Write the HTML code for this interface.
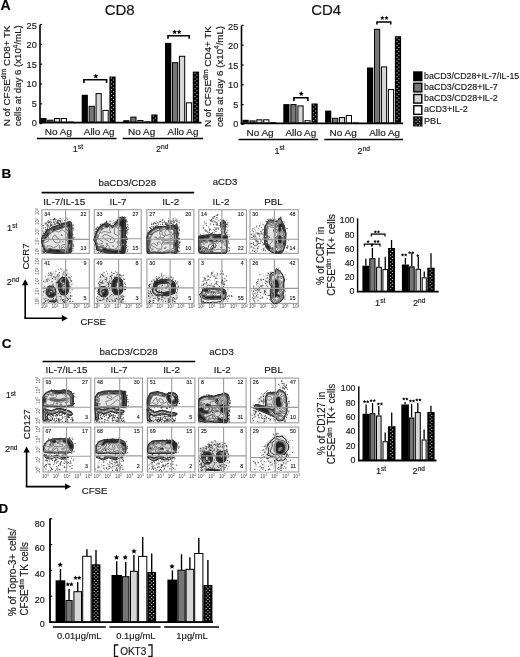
<!DOCTYPE html>
<html><head><meta charset="utf-8"><style>
html,body{margin:0;padding:0;background:#fff;}
svg{display:block;font-family:"Liberation Sans", sans-serif;will-change:transform;filter:blur(0.3px);}
text{stroke:#222;stroke-width:0.18px;}
</style></head><body>
<svg width="520" height="657" viewBox="0 0 520 657">
<rect width="520" height="657" fill="#fff"/>
<defs>
<pattern id="dotsA" x="0" y="0" width="7" height="3.6" patternUnits="userSpaceOnUse"><rect width="7" height="3.6" fill="#000"/><rect x="2.6" y="1" width="1.4" height="1.3" fill="#fff"/></pattern>
<pattern id="dotsL" x="413" y="0" width="9.5" height="3" patternUnits="userSpaceOnUse"><rect width="9.5" height="3" fill="#111"/><rect x="2.5" y="1" width="1.2" height="1" fill="#bbb"/><rect x="5.8" y="1" width="1.2" height="1" fill="#bbb"/></pattern>
<pattern id="dotsD" x="0" y="0" width="3.4" height="3.4" patternUnits="userSpaceOnUse"><rect width="3.4" height="3.4" fill="#000"/><rect x="0.4" y="0.4" width="1.3" height="1.3" fill="#fff"/><rect x="2.1" y="2.1" width="1.3" height="1.3" fill="#fff"/></pattern>
<pattern id="dotsS" x="0" y="0" width="3" height="3" patternUnits="userSpaceOnUse"><rect width="3" height="3" fill="#000"/><rect x="0.3" y="0.3" width="1.1" height="1.1" fill="#fff"/><rect x="1.8" y="1.8" width="1.1" height="1.1" fill="#fff"/></pattern>
</defs>
<text x="0.6" y="10.4" font-size="14" text-anchor="start" font-weight="bold" fill="#000">A</text>
<text x="119.7" y="15" font-size="15" text-anchor="middle" fill="#111">CD8</text>
<text x="326.2" y="14.6" font-size="15" text-anchor="middle" fill="#111">CD4</text>
<g transform="translate(0 0.0)">
<text x="9.9" y="75.8" font-size="9.6" text-anchor="middle" fill="#1a1a1a" transform="rotate(-90 9.9 75.8)" textLength="101" lengthAdjust="spacingAndGlyphs">N of CFSE<tspan font-size="6.4" dy="-3.6">dim</tspan><tspan dy="3.6"> CD8+ TK</tspan></text>
<text x="21.2" y="75.7" font-size="9.6" text-anchor="middle" fill="#1a1a1a" transform="rotate(-90 21.2 75.7)" textLength="101" lengthAdjust="spacingAndGlyphs">cells at day 6 (x10<tspan font-size="6.4" dy="-3.6">4</tspan><tspan dy="3.6">/mL)</tspan></text>
<text x="36.8" y="126.45" font-size="9.2" text-anchor="end" fill="#1a1a1a">0</text>
<line x1="40.0" y1="123.7" x2="42.2" y2="123.7" stroke="#000" stroke-width="1.1"/>
<text x="36.8" y="106.92" font-size="9.2" text-anchor="end" fill="#1a1a1a">5</text>
<line x1="40.0" y1="103.86" x2="42.2" y2="103.86" stroke="#000" stroke-width="1.1"/>
<text x="36.8" y="87.39" font-size="9.2" text-anchor="end" fill="#1a1a1a">10</text>
<line x1="40.0" y1="84.02000000000001" x2="42.2" y2="84.02000000000001" stroke="#000" stroke-width="1.1"/>
<text x="36.8" y="67.86" font-size="9.2" text-anchor="end" fill="#1a1a1a">15</text>
<line x1="40.0" y1="64.18" x2="42.2" y2="64.18" stroke="#000" stroke-width="1.1"/>
<text x="36.8" y="48.33" font-size="9.2" text-anchor="end" fill="#1a1a1a">20</text>
<line x1="40.0" y1="44.34" x2="42.2" y2="44.34" stroke="#000" stroke-width="1.1"/>
<text x="36.8" y="28.8" font-size="9.2" text-anchor="end" fill="#1a1a1a">25</text>
<line x1="40.0" y1="24.5" x2="42.2" y2="24.5" stroke="#000" stroke-width="1.1"/>
<line x1="40.0" y1="24.7" x2="40.0" y2="123.4" stroke="#000" stroke-width="1.6"/>
<line x1="39.2" y1="122.6" x2="201.5" y2="122.6" stroke="#000" stroke-width="1.8"/>
<rect x="40.4" y="118" width="6.200000000000003" height="4.0" fill="#000"/>
<rect x="47.699999999999996" y="120.2" width="5.200000000000003" height="1.7999999999999972" fill="#767676" stroke="#000" stroke-width="1"/>
<rect x="54.5" y="118.5" width="5.200000000000003" height="3.5" fill="#d6d6d6" stroke="#000" stroke-width="1"/>
<rect x="61.3" y="118.5" width="5.200000000000003" height="3.5" fill="#fff" stroke="#000" stroke-width="1"/>
<rect x="67.6" y="121.5" width="6.200000000000003" height="0.5" fill="#000"/>
<g fill="#c4c4c4"></g>
<rect x="81.7" y="94.8" width="6.200000000000003" height="27.200000000000003" fill="#000"/>
<rect x="89.13" y="106.3" width="5.200000000000003" height="15.700000000000003" fill="#767676" stroke="#000" stroke-width="1"/>
<rect x="96.06" y="93.6" width="5.200000000000003" height="28.400000000000006" fill="#d6d6d6" stroke="#000" stroke-width="1"/>
<rect x="102.99000000000001" y="110.4" width="5.200000000000003" height="11.599999999999994" fill="#fff" stroke="#000" stroke-width="1"/>
<rect x="109.42" y="76.5" width="6.200000000000003" height="45.5" fill="#000"/>
<g fill="#c4c4c4"><rect x="111.00" y="77.50" width="1.1" height="1.1"/><rect x="112.95" y="79.45" width="1.1" height="1.1"/><rect x="111.00" y="81.40" width="1.1" height="1.1"/><rect x="112.95" y="83.35" width="1.1" height="1.1"/><rect x="111.00" y="85.30" width="1.1" height="1.1"/><rect x="112.95" y="87.25" width="1.1" height="1.1"/><rect x="111.00" y="89.20" width="1.1" height="1.1"/><rect x="112.95" y="91.15" width="1.1" height="1.1"/><rect x="111.00" y="93.10" width="1.1" height="1.1"/><rect x="112.95" y="95.05" width="1.1" height="1.1"/><rect x="111.00" y="97.00" width="1.1" height="1.1"/><rect x="112.95" y="98.95" width="1.1" height="1.1"/><rect x="111.00" y="100.90" width="1.1" height="1.1"/><rect x="112.95" y="102.85" width="1.1" height="1.1"/><rect x="111.00" y="104.80" width="1.1" height="1.1"/><rect x="112.95" y="106.75" width="1.1" height="1.1"/><rect x="111.00" y="108.70" width="1.1" height="1.1"/><rect x="112.95" y="110.65" width="1.1" height="1.1"/><rect x="111.00" y="112.60" width="1.1" height="1.1"/><rect x="112.95" y="114.55" width="1.1" height="1.1"/><rect x="111.00" y="116.50" width="1.1" height="1.1"/><rect x="112.95" y="118.45" width="1.1" height="1.1"/></g>
<rect x="123.3" y="120.2" width="6.200000000000003" height="1.7999999999999972" fill="#000"/>
<rect x="130.8" y="117.1" width="5.199999999999989" height="4.900000000000006" fill="#767676" stroke="#000" stroke-width="1"/>
<rect x="137.8" y="120.5" width="5.199999999999989" height="1.5" fill="#d6d6d6" stroke="#000" stroke-width="1"/>
<rect x="144.8" y="121.8" width="5.199999999999989" height="0.3" fill="#fff" stroke="#000" stroke-width="1"/>
<rect x="151.3" y="114.5" width="6.199999999999989" height="7.5" fill="#000"/>
<g fill="#c4c4c4"><rect x="152.88" y="115.50" width="1.1" height="1.1"/><rect x="154.83" y="117.45" width="1.1" height="1.1"/><rect x="152.88" y="119.40" width="1.1" height="1.1"/></g>
<rect x="165.0" y="42.9" width="6.300000000000011" height="79.1" fill="#000"/>
<rect x="172.45" y="62.7" width="5.300000000000011" height="59.3" fill="#767676" stroke="#000" stroke-width="1"/>
<rect x="179.4" y="56.3" width="5.300000000000011" height="65.7" fill="#d6d6d6" stroke="#000" stroke-width="1"/>
<rect x="186.35" y="102.8" width="5.300000000000011" height="19.200000000000003" fill="#fff" stroke="#000" stroke-width="1"/>
<rect x="192.8" y="71.6" width="6.300000000000011" height="50.400000000000006" fill="#000"/>
<g fill="#c4c4c4"><rect x="194.43" y="72.60" width="1.1" height="1.1"/><rect x="196.38" y="74.55" width="1.1" height="1.1"/><rect x="194.43" y="76.50" width="1.1" height="1.1"/><rect x="196.38" y="78.45" width="1.1" height="1.1"/><rect x="194.43" y="80.40" width="1.1" height="1.1"/><rect x="196.38" y="82.35" width="1.1" height="1.1"/><rect x="194.43" y="84.30" width="1.1" height="1.1"/><rect x="196.38" y="86.25" width="1.1" height="1.1"/><rect x="194.43" y="88.20" width="1.1" height="1.1"/><rect x="196.38" y="90.15" width="1.1" height="1.1"/><rect x="194.43" y="92.10" width="1.1" height="1.1"/><rect x="196.38" y="94.05" width="1.1" height="1.1"/><rect x="194.43" y="96.00" width="1.1" height="1.1"/><rect x="196.38" y="97.95" width="1.1" height="1.1"/><rect x="194.43" y="99.90" width="1.1" height="1.1"/><rect x="196.38" y="101.85" width="1.1" height="1.1"/><rect x="194.43" y="103.80" width="1.1" height="1.1"/><rect x="196.38" y="105.75" width="1.1" height="1.1"/><rect x="194.43" y="107.70" width="1.1" height="1.1"/><rect x="196.38" y="109.65" width="1.1" height="1.1"/><rect x="194.43" y="111.60" width="1.1" height="1.1"/><rect x="196.38" y="113.55" width="1.1" height="1.1"/><rect x="194.43" y="115.50" width="1.1" height="1.1"/><rect x="196.38" y="117.45" width="1.1" height="1.1"/><rect x="194.43" y="119.40" width="1.1" height="1.1"/></g>
<path d="M83.9 83.0 V79.8 H106.6 V83.0" fill="none" stroke="#000" stroke-width="1.6"/>
<polygon points="95.80,73.40 96.54,75.18 98.46,75.33 97.00,76.59 97.45,78.47 95.80,77.46 94.15,78.47 94.60,76.59 93.14,75.33 95.06,75.18" fill="#000"/>
<path d="M168.0 38.699999999999996 V35.8 H189.2 V38.699999999999996" fill="none" stroke="#000" stroke-width="1.6"/>
<polygon points="174.65,29.40 175.34,31.05 177.12,31.20 175.76,32.36 176.18,34.10 174.65,33.17 173.12,34.10 173.54,32.36 172.18,31.20 173.96,31.05" fill="#000"/>
<polygon points="179.15,29.40 179.84,31.05 181.62,31.20 180.26,32.36 180.68,34.10 179.15,33.17 177.62,34.10 178.04,32.36 176.68,31.20 178.46,31.05" fill="#000"/>
</g>
<g transform="translate(0 0.8)">
<text x="211.4" y="75.8" font-size="9.6" text-anchor="middle" fill="#1a1a1a" transform="rotate(-90 211.4 75.8)" textLength="101" lengthAdjust="spacingAndGlyphs">N of CFSE<tspan font-size="6.4" dy="-3.6">dim</tspan><tspan dy="3.6"> CD4+ TK</tspan></text>
<text x="222.7" y="75.7" font-size="9.6" text-anchor="middle" fill="#1a1a1a" transform="rotate(-90 222.7 75.7)" textLength="101" lengthAdjust="spacingAndGlyphs">cells at day 6 (x10<tspan font-size="6.4" dy="-3.6">4</tspan><tspan dy="3.6">/mL)</tspan></text>
<text x="238.3" y="126.45" font-size="9.2" text-anchor="end" fill="#1a1a1a">0</text>
<line x1="241.5" y1="123.7" x2="243.7" y2="123.7" stroke="#000" stroke-width="1.1"/>
<text x="238.3" y="106.92" font-size="9.2" text-anchor="end" fill="#1a1a1a">5</text>
<line x1="241.5" y1="103.86" x2="243.7" y2="103.86" stroke="#000" stroke-width="1.1"/>
<text x="238.3" y="87.39" font-size="9.2" text-anchor="end" fill="#1a1a1a">10</text>
<line x1="241.5" y1="84.02000000000001" x2="243.7" y2="84.02000000000001" stroke="#000" stroke-width="1.1"/>
<text x="238.3" y="67.86" font-size="9.2" text-anchor="end" fill="#1a1a1a">15</text>
<line x1="241.5" y1="64.18" x2="243.7" y2="64.18" stroke="#000" stroke-width="1.1"/>
<text x="238.3" y="48.33" font-size="9.2" text-anchor="end" fill="#1a1a1a">20</text>
<line x1="241.5" y1="44.34" x2="243.7" y2="44.34" stroke="#000" stroke-width="1.1"/>
<text x="238.3" y="28.8" font-size="9.2" text-anchor="end" fill="#1a1a1a">25</text>
<line x1="241.5" y1="24.5" x2="243.7" y2="24.5" stroke="#000" stroke-width="1.1"/>
<line x1="241.5" y1="24.7" x2="241.5" y2="123.4" stroke="#000" stroke-width="1.6"/>
<line x1="240.7" y1="122.6" x2="403.0" y2="122.6" stroke="#000" stroke-width="1.8"/>
<rect x="242.5" y="119" width="6.199999999999989" height="3.0" fill="#000"/>
<rect x="249.9" y="120.1" width="5.199999999999989" height="1.9000000000000057" fill="#767676" stroke="#000" stroke-width="1"/>
<rect x="256.8" y="119.0" width="5.199999999999989" height="3.0" fill="#d6d6d6" stroke="#000" stroke-width="1"/>
<rect x="263.7" y="119.0" width="5.199999999999989" height="3.0" fill="#fff" stroke="#000" stroke-width="1"/>
<rect x="270.1" y="121.2" width="6.199999999999989" height="0.7999999999999972" fill="#000"/>
<g fill="#c4c4c4"></g>
<rect x="283.3" y="103.3" width="6.199999999999989" height="18.700000000000003" fill="#000"/>
<rect x="290.85" y="103.8" width="5.199999999999989" height="18.200000000000003" fill="#767676" stroke="#000" stroke-width="1"/>
<rect x="297.90000000000003" y="105.1" width="5.199999999999989" height="16.900000000000006" fill="#d6d6d6" stroke="#000" stroke-width="1"/>
<rect x="304.95" y="119.9" width="5.199999999999989" height="2.0999999999999943" fill="#fff" stroke="#000" stroke-width="1"/>
<rect x="311.5" y="102.7" width="6.199999999999989" height="19.299999999999997" fill="#000"/>
<g fill="#c4c4c4"><rect x="313.07" y="103.70" width="1.1" height="1.1"/><rect x="315.02" y="105.65" width="1.1" height="1.1"/><rect x="313.07" y="107.60" width="1.1" height="1.1"/><rect x="315.02" y="109.55" width="1.1" height="1.1"/><rect x="313.07" y="111.50" width="1.1" height="1.1"/><rect x="315.02" y="113.45" width="1.1" height="1.1"/><rect x="313.07" y="115.40" width="1.1" height="1.1"/><rect x="315.02" y="117.35" width="1.1" height="1.1"/><rect x="313.07" y="119.30" width="1.1" height="1.1"/></g>
<rect x="325.1" y="109.8" width="6.199999999999989" height="12.200000000000003" fill="#000"/>
<rect x="332.5" y="117.5" width="5.199999999999989" height="4.5" fill="#767676" stroke="#000" stroke-width="1"/>
<rect x="339.40000000000003" y="116.7" width="5.199999999999989" height="5.299999999999997" fill="#d6d6d6" stroke="#000" stroke-width="1"/>
<rect x="346.3" y="114.7" width="5.199999999999989" height="7.299999999999997" fill="#fff" stroke="#000" stroke-width="1"/>
<rect x="352.70000000000005" y="121.5" width="6.199999999999989" height="0.5" fill="#000"/>
<g fill="#c4c4c4"></g>
<rect x="367.0" y="66.7" width="6.199999999999989" height="55.3" fill="#000"/>
<rect x="374.47" y="28.5" width="5.199999999999989" height="93.5" fill="#767676" stroke="#000" stroke-width="1"/>
<rect x="381.44" y="66.1" width="5.199999999999989" height="55.900000000000006" fill="#d6d6d6" stroke="#000" stroke-width="1"/>
<rect x="388.41" y="88.8" width="5.199999999999989" height="33.2" fill="#fff" stroke="#000" stroke-width="1"/>
<rect x="394.88" y="35.4" width="6.199999999999989" height="86.6" fill="#000"/>
<g fill="#c4c4c4"><rect x="396.45" y="36.40" width="1.1" height="1.1"/><rect x="398.40" y="38.35" width="1.1" height="1.1"/><rect x="396.45" y="40.30" width="1.1" height="1.1"/><rect x="398.40" y="42.25" width="1.1" height="1.1"/><rect x="396.45" y="44.20" width="1.1" height="1.1"/><rect x="398.40" y="46.15" width="1.1" height="1.1"/><rect x="396.45" y="48.10" width="1.1" height="1.1"/><rect x="398.40" y="50.05" width="1.1" height="1.1"/><rect x="396.45" y="52.00" width="1.1" height="1.1"/><rect x="398.40" y="53.95" width="1.1" height="1.1"/><rect x="396.45" y="55.90" width="1.1" height="1.1"/><rect x="398.40" y="57.85" width="1.1" height="1.1"/><rect x="396.45" y="59.80" width="1.1" height="1.1"/><rect x="398.40" y="61.75" width="1.1" height="1.1"/><rect x="396.45" y="63.70" width="1.1" height="1.1"/><rect x="398.40" y="65.65" width="1.1" height="1.1"/><rect x="396.45" y="67.60" width="1.1" height="1.1"/><rect x="398.40" y="69.55" width="1.1" height="1.1"/><rect x="396.45" y="71.50" width="1.1" height="1.1"/><rect x="398.40" y="73.45" width="1.1" height="1.1"/><rect x="396.45" y="75.40" width="1.1" height="1.1"/><rect x="398.40" y="77.35" width="1.1" height="1.1"/><rect x="396.45" y="79.30" width="1.1" height="1.1"/><rect x="398.40" y="81.25" width="1.1" height="1.1"/><rect x="396.45" y="83.20" width="1.1" height="1.1"/><rect x="398.40" y="85.15" width="1.1" height="1.1"/><rect x="396.45" y="87.10" width="1.1" height="1.1"/><rect x="398.40" y="89.05" width="1.1" height="1.1"/><rect x="396.45" y="91.00" width="1.1" height="1.1"/><rect x="398.40" y="92.95" width="1.1" height="1.1"/><rect x="396.45" y="94.90" width="1.1" height="1.1"/><rect x="398.40" y="96.85" width="1.1" height="1.1"/><rect x="396.45" y="98.80" width="1.1" height="1.1"/><rect x="398.40" y="100.75" width="1.1" height="1.1"/><rect x="396.45" y="102.70" width="1.1" height="1.1"/><rect x="398.40" y="104.65" width="1.1" height="1.1"/><rect x="396.45" y="106.60" width="1.1" height="1.1"/><rect x="398.40" y="108.55" width="1.1" height="1.1"/><rect x="396.45" y="110.50" width="1.1" height="1.1"/><rect x="398.40" y="112.45" width="1.1" height="1.1"/><rect x="396.45" y="114.40" width="1.1" height="1.1"/><rect x="398.40" y="116.35" width="1.1" height="1.1"/><rect x="396.45" y="118.30" width="1.1" height="1.1"/></g>
<path d="M293.9 100.2 V96.9 H307.9 V100.2" fill="none" stroke="#000" stroke-width="1.6"/>
<polygon points="301.30,90.30 302.01,92.02 303.87,92.17 302.46,93.38 302.89,95.18 301.30,94.22 299.71,95.18 300.14,93.38 298.73,92.17 300.59,92.02" fill="#000"/>
<path d="M377.0 23.599999999999998 V21.2 H390.7 V23.599999999999998" fill="none" stroke="#000" stroke-width="1.6"/>
<polygon points="382.30,14.80 382.93,16.33 384.58,16.46 383.33,17.53 383.71,19.14 382.30,18.28 380.89,19.14 381.27,17.53 380.02,16.46 381.67,16.33" fill="#000"/>
<polygon points="386.50,14.80 387.13,16.33 388.78,16.46 387.53,17.53 387.91,19.14 386.50,18.28 385.09,19.14 385.47,17.53 384.22,16.46 385.87,16.33" fill="#000"/>
</g>
<text x="58.45" y="134.8" font-size="9.8" text-anchor="middle" fill="#1a1a1a" textLength="27.2" lengthAdjust="spacingAndGlyphs">No Ag</text>
<text x="99.2" y="134.8" font-size="9.8" text-anchor="middle" fill="#1a1a1a" textLength="30.8" lengthAdjust="spacingAndGlyphs">Allo Ag</text>
<text x="141.6" y="134.8" font-size="9.8" text-anchor="middle" fill="#1a1a1a" textLength="27.2" lengthAdjust="spacingAndGlyphs">No Ag</text>
<text x="183.0" y="134.8" font-size="9.8" text-anchor="middle" fill="#1a1a1a" textLength="30.8" lengthAdjust="spacingAndGlyphs">Allo Ag</text>
<line x1="36.9" y1="138.5" x2="116.5" y2="138.5" stroke="#000" stroke-width="1.7"/>
<line x1="122.7" y1="138.5" x2="203" y2="138.5" stroke="#000" stroke-width="1.7"/>
<text x="260.05" y="135.8" font-size="9.8" text-anchor="middle" fill="#1a1a1a" textLength="27.2" lengthAdjust="spacingAndGlyphs">No Ag</text>
<text x="300.8" y="135.8" font-size="9.8" text-anchor="middle" fill="#1a1a1a" textLength="30.8" lengthAdjust="spacingAndGlyphs">Allo Ag</text>
<text x="343.2" y="135.8" font-size="9.8" text-anchor="middle" fill="#1a1a1a" textLength="27.2" lengthAdjust="spacingAndGlyphs">No Ag</text>
<text x="384.6" y="135.8" font-size="9.8" text-anchor="middle" fill="#1a1a1a" textLength="30.8" lengthAdjust="spacingAndGlyphs">Allo Ag</text>
<line x1="238.5" y1="139.5" x2="318.1" y2="139.5" stroke="#000" stroke-width="1.7"/>
<line x1="324.3" y1="139.5" x2="403.1" y2="139.5" stroke="#000" stroke-width="1.7"/>
<text x="77.9" y="152.4" font-size="9.0" text-anchor="middle" fill="#1a1a1a">1<tspan font-size="6.60" dy="-3.20">st</tspan></text>
<text x="162.2" y="152.4" font-size="9.0" text-anchor="middle" fill="#1a1a1a">2<tspan font-size="6.60" dy="-3.20">nd</tspan></text>
<text x="279.5" y="153.6" font-size="9.0" text-anchor="middle" fill="#1a1a1a">1<tspan font-size="6.60" dy="-3.20">st</tspan></text>
<text x="363.8" y="153.8" font-size="9.0" text-anchor="middle" fill="#1a1a1a">2<tspan font-size="6.60" dy="-3.20">nd</tspan></text>
<rect x="413.1" y="71.3" width="9.4" height="10" fill="#000"/>
<text x="424.0" y="78.6" font-size="8.9" text-anchor="start" fill="#1a1a1a" textLength="95.2" lengthAdjust="spacingAndGlyphs">baCD3/CD28+IL-7/IL-15</text>
<rect x="413.8" y="83.25" width="8.0" height="8.6" fill="#767676" stroke="#000" stroke-width="1.4"/>
<text x="424.0" y="89.85" font-size="8.9" text-anchor="start" fill="#1a1a1a" textLength="73.8" lengthAdjust="spacingAndGlyphs">baCD3/CD28+IL-7</text>
<rect x="413.8" y="94.50" width="8.0" height="8.6" fill="#d6d6d6" stroke="#000" stroke-width="1.4"/>
<text x="424.0" y="101.1" font-size="8.9" text-anchor="start" fill="#1a1a1a" textLength="73.8" lengthAdjust="spacingAndGlyphs">baCD3/CD28+IL-2</text>
<rect x="413.8" y="105.75" width="8.0" height="8.6" fill="#fff" stroke="#000" stroke-width="1.4"/>
<text x="424.0" y="112.35" font-size="8.9" text-anchor="start" fill="#1a1a1a" textLength="43.7" lengthAdjust="spacingAndGlyphs">aCD3+IL-2</text>
<rect x="413.1" y="116.3" width="9.4" height="10.2" fill="#111"/>
<g fill="#bbbbbb"><rect x="415.50" y="117.60" width="1.1" height="1.1"/><rect x="419.00" y="117.60" width="1.1" height="1.1"/><rect x="417.25" y="119.35" width="1.1" height="1.1"/><rect x="415.50" y="121.10" width="1.1" height="1.1"/><rect x="419.00" y="121.10" width="1.1" height="1.1"/><rect x="417.25" y="122.85" width="1.1" height="1.1"/><rect x="415.50" y="124.60" width="1.1" height="1.1"/><rect x="419.00" y="124.60" width="1.1" height="1.1"/></g>
<text x="424.0" y="123.6" font-size="8.9" text-anchor="start" fill="#1a1a1a" textLength="17.2" lengthAdjust="spacingAndGlyphs">PBL</text>
<text x="1.5" y="178.3" font-size="13.5" text-anchor="start" font-weight="bold" fill="#000">B</text>
<text x="127.3" y="185.6" font-size="9.6" text-anchor="middle" fill="#1a1a1a" textLength="57.6" lengthAdjust="spacingAndGlyphs">baCD3/CD28</text>
<text x="225" y="185.4" font-size="9.6" text-anchor="middle" fill="#1a1a1a">aCD3</text>
<line x1="41.5" y1="192.6" x2="194.2" y2="192.6" stroke="#000" stroke-width="1.6"/>
<text x="64.3" y="205" font-size="9.8" text-anchor="middle" fill="#1a1a1a">IL-7/IL-15</text>
<text x="118" y="205" font-size="9.8" text-anchor="middle" fill="#1a1a1a">IL-7</text>
<text x="170.8" y="205" font-size="9.8" text-anchor="middle" fill="#1a1a1a">IL-2</text>
<text x="221" y="205" font-size="9.8" text-anchor="middle" fill="#1a1a1a">IL-2</text>
<text x="273.5" y="205" font-size="9.8" text-anchor="middle" fill="#1a1a1a">PBL</text>
<text x="12.1" y="230.7" font-size="9.2" text-anchor="middle" fill="#1a1a1a">1<tspan font-size="6.50" dy="-2.30">st</tspan></text>
<text x="13.0" y="284.5" font-size="9.2" text-anchor="middle" fill="#1a1a1a">2<tspan font-size="6.50" dy="-2.30">nd</tspan></text>
<text x="29.3" y="256.5" font-size="9.6" text-anchor="middle" fill="#1a1a1a" transform="rotate(-90 29.3 256.5)">CCR7</text>
<line x1="25.2" y1="283.3" x2="25.2" y2="318.2" stroke="#000" stroke-width="1.6"/>
<line x1="24.4" y1="318.2" x2="63.8" y2="318.2" stroke="#000" stroke-width="1.6"/>
<path d="M25.2 279.3 L22.0 285.3 L28.4 285.3 Z" fill="#000"/>
<path d="M67.8 318.2 L61.8 315.0 L61.8 321.4 Z" fill="#000"/>
<text x="93.2" y="325.2" font-size="9.6" text-anchor="middle" fill="#1a1a1a">CFSE</text>
<rect x="41.9" y="209.7" width="47.4" height="43.7" fill="none" stroke="#9c9c9c" stroke-width="1.1"/>
<path d="M59.6 253.2 49.4 252.5 46.3 251.7 45.3 250.4 41.9 242.5 41.9 238.2 46.6 231.5 52.4 227.6 60.6 224.8 67.4 223.2 68.7 222.1 70.7 222.2 71.4 223.4 71.8 234.2 71.5 251.7 70.4 252.6 67.9 252.3 65.9 252.9 59.6 253.2Z" fill="#e4e4e4" fill-opacity="1.0" fill-rule="evenodd"/>
<g fill="#111" opacity="0.8"><rect x="59.5" y="223.6" width="1.0" height="1.0"/><rect x="50.6" y="225.9" width="0.9" height="0.9"/><rect x="71.8" y="227.6" width="0.9" height="0.9"/><rect x="45.6" y="230.6" width="1.1" height="1.1"/><rect x="44.0" y="234.3" width="0.8" height="0.8"/><rect x="72.2" y="225.4" width="1.0" height="1.0"/><rect x="47.8" y="222.5" width="1.0" height="1.0"/><rect x="61.5" y="219.6" width="1.0" height="1.0"/><rect x="72.5" y="244.4" width="1.0" height="1.0"/><rect x="45.4" y="232.4" width="0.6" height="0.6"/><rect x="62.7" y="217.9" width="0.7" height="0.7"/><rect x="67.7" y="218.7" width="0.7" height="0.7"/><rect x="53.8" y="224.8" width="0.8" height="0.8"/><rect x="43.9" y="223.4" width="0.7" height="0.7"/><rect x="61.2" y="224.0" width="0.9" height="0.9"/><rect x="50.5" y="221.7" width="0.9" height="0.9"/><rect x="52.2" y="223.5" width="0.6" height="0.6"/><rect x="42.5" y="245.9" width="1.0" height="1.0"/><rect x="42.3" y="246.4" width="0.9" height="0.9"/><rect x="64.9" y="219.3" width="0.6" height="0.6"/><rect x="52.3" y="225.6" width="1.1" height="1.1"/><rect x="55.0" y="220.6" width="0.8" height="0.8"/><rect x="45.1" y="228.9" width="0.7" height="0.7"/><rect x="72.9" y="236.9" width="0.8" height="0.8"/><rect x="43.0" y="250.5" width="0.8" height="0.8"/><rect x="45.1" y="223.2" width="1.1" height="1.1"/><rect x="53.4" y="221.4" width="1.1" height="1.1"/><rect x="42.3" y="250.5" width="0.9" height="0.9"/><rect x="50.2" y="223.7" width="0.9" height="0.9"/><rect x="47.8" y="220.2" width="1.0" height="1.0"/><rect x="44.3" y="233.5" width="0.8" height="0.8"/><rect x="73.3" y="234.3" width="0.7" height="0.7"/><rect x="43.1" y="227.2" width="0.7" height="0.7"/><rect x="58.3" y="220.4" width="1.0" height="1.0"/><rect x="47.0" y="228.1" width="0.9" height="0.9"/><rect x="48.9" y="229.5" width="1.1" height="1.1"/><rect x="42.5" y="230.6" width="0.9" height="0.9"/><rect x="48.5" y="222.2" width="1.0" height="1.0"/><rect x="55.0" y="223.6" width="0.8" height="0.8"/><rect x="53.0" y="219.1" width="0.9" height="0.9"/><rect x="60.5" y="223.9" width="0.8" height="0.8"/><rect x="49.7" y="225.4" width="1.0" height="1.0"/><rect x="55.9" y="219.0" width="0.8" height="0.8"/><rect x="67.1" y="221.7" width="0.8" height="0.8"/><rect x="73.7" y="241.2" width="0.7" height="0.7"/><rect x="46.6" y="224.7" width="0.7" height="0.7"/><rect x="46.2" y="222.7" width="0.7" height="0.7"/><rect x="52.7" y="219.0" width="0.8" height="0.8"/><rect x="64.2" y="222.3" width="0.9" height="0.9"/><rect x="72.7" y="224.5" width="0.6" height="0.6"/><rect x="56.4" y="222.5" width="0.7" height="0.7"/><rect x="45.1" y="229.0" width="1.0" height="1.0"/><rect x="51.1" y="222.1" width="0.9" height="0.9"/><rect x="43.9" y="249.2" width="1.0" height="1.0"/><rect x="45.7" y="223.7" width="0.9" height="0.9"/><rect x="45.1" y="249.9" width="1.1" height="1.1"/><rect x="47.2" y="228.6" width="0.8" height="0.8"/><rect x="72.8" y="224.7" width="1.0" height="1.0"/><rect x="57.6" y="223.3" width="1.0" height="1.0"/><rect x="54.5" y="223.9" width="1.0" height="1.0"/><rect x="44.0" y="248.1" width="0.9" height="0.9"/><rect x="42.7" y="225.0" width="0.9" height="0.9"/><rect x="49.6" y="226.6" width="0.8" height="0.8"/><rect x="55.1" y="225.9" width="0.7" height="0.7"/><rect x="47.5" y="224.9" width="0.6" height="0.6"/><rect x="42.3" y="245.2" width="0.9" height="0.9"/><rect x="53.9" y="219.0" width="1.0" height="1.0"/><rect x="53.7" y="224.1" width="0.8" height="0.8"/><rect x="44.8" y="233.4" width="1.0" height="1.0"/><rect x="43.7" y="251.9" width="1.1" height="1.1"/><rect x="44.3" y="246.3" width="0.6" height="0.6"/><rect x="61.6" y="223.3" width="0.7" height="0.7"/><rect x="51.5" y="224.3" width="0.8" height="0.8"/><rect x="65.5" y="222.5" width="0.8" height="0.8"/><rect x="46.5" y="229.4" width="0.9" height="0.9"/><rect x="42.6" y="235.0" width="0.8" height="0.8"/><rect x="67.4" y="219.1" width="0.8" height="0.8"/><rect x="44.9" y="227.2" width="0.8" height="0.8"/><rect x="71.2" y="219.7" width="0.7" height="0.7"/><rect x="72.2" y="233.7" width="0.8" height="0.8"/><rect x="49.6" y="220.7" width="0.6" height="0.6"/><rect x="66.3" y="217.5" width="1.1" height="1.1"/><rect x="72.9" y="250.5" width="0.8" height="0.8"/><rect x="43.2" y="232.5" width="0.8" height="0.8"/><rect x="55.9" y="225.5" width="0.8" height="0.8"/><rect x="47.1" y="224.2" width="0.8" height="0.8"/><rect x="53.2" y="221.6" width="1.0" height="1.0"/><rect x="73.4" y="238.6" width="0.8" height="0.8"/><rect x="49.1" y="227.5" width="1.1" height="1.1"/><rect x="50.5" y="224.9" width="1.0" height="1.0"/><rect x="43.5" y="251.0" width="0.9" height="0.9"/><rect x="73.2" y="229.5" width="1.0" height="1.0"/><rect x="45.5" y="222.3" width="1.0" height="1.0"/><rect x="43.0" y="251.8" width="0.9" height="0.9"/><rect x="53.9" y="218.0" width="1.1" height="1.1"/><rect x="60.0" y="220.4" width="0.8" height="0.8"/><rect x="54.6" y="218.2" width="0.7" height="0.7"/><rect x="73.3" y="245.2" width="0.9" height="0.9"/><rect x="46.7" y="229.2" width="1.1" height="1.1"/><rect x="53.9" y="223.1" width="0.9" height="0.9"/><rect x="67.6" y="222.8" width="1.0" height="1.0"/><rect x="55.8" y="222.5" width="0.8" height="0.8"/><rect x="72.7" y="227.6" width="1.1" height="1.1"/><rect x="72.9" y="248.2" width="0.7" height="0.7"/><rect x="47.7" y="225.5" width="1.0" height="1.0"/><rect x="65.9" y="223.0" width="0.9" height="0.9"/><rect x="43.0" y="232.9" width="0.8" height="0.8"/><rect x="42.2" y="234.9" width="0.9" height="0.9"/><rect x="43.5" y="251.4" width="1.1" height="1.1"/><rect x="59.1" y="218.6" width="0.6" height="0.6"/><rect x="42.5" y="249.3" width="0.9" height="0.9"/><rect x="72.1" y="248.3" width="0.7" height="0.7"/><rect x="47.7" y="226.6" width="0.9" height="0.9"/><rect x="72.1" y="230.7" width="0.7" height="0.7"/><rect x="68.3" y="222.3" width="1.0" height="1.0"/><rect x="49.2" y="221.1" width="1.0" height="1.0"/><rect x="49.8" y="223.4" width="1.1" height="1.1"/><rect x="66.2" y="219.7" width="0.7" height="0.7"/><rect x="73.5" y="238.9" width="0.7" height="0.7"/><rect x="54.5" y="221.7" width="0.7" height="0.7"/><rect x="47.2" y="227.3" width="0.7" height="0.7"/><rect x="62.7" y="221.8" width="1.0" height="1.0"/><rect x="46.8" y="229.4" width="0.9" height="0.9"/><rect x="54.8" y="219.1" width="0.8" height="0.8"/><rect x="57.8" y="222.8" width="0.9" height="0.9"/><rect x="46.7" y="225.2" width="0.9" height="0.9"/><rect x="47.3" y="221.2" width="1.1" height="1.1"/><rect x="72.6" y="243.5" width="1.0" height="1.0"/><rect x="47.6" y="221.9" width="0.7" height="0.7"/><rect x="73.1" y="238.4" width="1.1" height="1.1"/><rect x="46.9" y="225.8" width="0.7" height="0.7"/><rect x="72.6" y="238.8" width="0.7" height="0.7"/><rect x="47.7" y="224.8" width="1.0" height="1.0"/><rect x="50.7" y="224.7" width="1.1" height="1.1"/><rect x="45.6" y="229.9" width="1.1" height="1.1"/><rect x="44.1" y="234.9" width="0.8" height="0.8"/><rect x="73.1" y="246.3" width="1.0" height="1.0"/><rect x="51.2" y="224.2" width="0.9" height="0.9"/><rect x="42.9" y="225.0" width="0.9" height="0.9"/><rect x="48.0" y="222.2" width="0.7" height="0.7"/><rect x="44.8" y="231.3" width="0.7" height="0.7"/><rect x="44.1" y="251.3" width="0.7" height="0.7"/><rect x="57.9" y="221.9" width="0.7" height="0.7"/><rect x="43.3" y="251.2" width="0.7" height="0.7"/><rect x="42.7" y="251.5" width="1.0" height="1.0"/><rect x="63.9" y="220.0" width="1.0" height="1.0"/><rect x="69.3" y="221.0" width="0.9" height="0.9"/><rect x="72.4" y="227.8" width="1.0" height="1.0"/><rect x="70.2" y="221.5" width="0.9" height="0.9"/><rect x="52.8" y="219.3" width="1.1" height="1.1"/><rect x="43.3" y="227.9" width="0.7" height="0.7"/><rect x="44.9" y="227.7" width="0.7" height="0.7"/><rect x="59.7" y="218.1" width="1.0" height="1.0"/><rect x="50.2" y="219.1" width="1.1" height="1.1"/><rect x="43.7" y="231.5" width="0.8" height="0.8"/><rect x="56.8" y="223.4" width="1.0" height="1.0"/><rect x="73.9" y="237.3" width="0.8" height="0.8"/><rect x="48.9" y="221.8" width="1.0" height="1.0"/><rect x="55.1" y="219.6" width="0.7" height="0.7"/><rect x="56.5" y="223.0" width="0.9" height="0.9"/></g>
<path d="M69.9 244.7 69.2 244.1 68.5 240.7 68.6 232.9 69.3 228.2 68.6 226.4 66.6 225.4 69.2 223.5 70.0 224.4 69.7 229.9 70.8 233.9 70.7 241.4 69.9 244.7Z M53.1 230.7 52.1 230.4 53.4 228.8 58.4 227.8 61.7 225.9 63.9 226.2 62.4 227.6 55.6 229.3 53.1 230.7Z M43.6 241.0 43.0 240.9 43.8 238.2 45.8 235.9 46.8 233.7 47.9 232.7 49.5 232.4 43.6 241.0Z M70.2 251.5 69.1 251.4 68.6 250.4 69.7 246.8 70.6 249.4 70.2 251.5Z M57.6 252.2 53.1 251.2 49.6 251.2 48.2 250.7 47.8 249.9 50.1 249.1 53.4 250.0 58.9 250.1 62.9 251.2 57.6 252.2Z" fill="#222" fill-opacity="1.0" fill-rule="evenodd"/>
<path d="M66.4 253.2 54.9 253.3 46.4 252.3 44.3 250.7 41.9 243.1 41.9 237.6 46.1 231.4 51.9 227.4 57.9 225.4 60.1 224.2 57.1 222.2 57.2 220.9 58.1 220.2 60.4 220.9 61.4 223.8 64.9 223.4 68.7 221.6 70.9 222.0 71.6 222.9 72.1 234.7 71.8 251.4 70.7 252.8 66.4 253.2 M50.6 222.0 50.9 221.7 50.6 222.0" fill="none" stroke="#111" stroke-width="0.9" stroke-linejoin="round"/>
<path d="M59.1 253.2 49.1 252.4 46.1 251.5 41.8 242.2 41.9 238.3 46.6 231.5 52.4 227.6 60.6 224.8 67.5 223.2 68.9 222.1 70.7 222.3 71.4 223.4 71.8 234.2 71.4 251.7 70.4 252.6 67.9 252.2 65.9 252.9 59.1 253.2" fill="none" stroke="#222" stroke-width="0.7" stroke-linejoin="round"/>
<path d="M58.4 253.0 46.8 251.4 44.5 245.4 42.9 242.7 41.9 242.1 41.9 238.8 46.7 231.9 52.4 228.0 60.9 225.1 67.7 223.5 68.9 222.4 70.4 222.5 71.1 223.4 71.5 234.2 71.2 251.7 70.2 252.4 67.9 251.7 66.2 252.5 58.4 253.0 M58.0 242.9 59.9 242.1 60.1 240.2 59.1 238.9 56.9 237.7 55.6 235.2 54.6 234.9 52.4 237.7 52.5 239.2 55.1 242.5 58.0 242.9 M67.0 248.4 67.6 246.4 65.9 244.2 62.4 244.9 61.6 245.6 61.1 247.2 61.4 248.3 63.6 246.7 65.4 248.4 67.0 248.4" fill="none" stroke="#444" stroke-width="0.6" stroke-linejoin="round"/>
<path d="M58.6 252.7 47.1 251.3 46.5 249.9 47.1 245.9 50.4 246.1 53.6 247.7 55.9 246.8 58.6 244.7 59.4 245.4 59.3 248.2 60.1 249.2 67.7 249.4 68.2 247.2 67.9 242.9 67.4 241.4 65.5 239.4 66.0 237.9 67.6 235.9 66.9 232.8 65.4 232.2 62.9 229.9 61.4 230.1 58.6 232.1 55.4 230.8 51.5 232.7 48.6 235.8 48.2 236.9 49.3 239.4 49.0 240.4 44.4 243.0 41.9 241.8 41.9 239.4 46.9 232.1 52.5 228.2 60.9 225.3 67.7 223.7 68.9 222.7 70.2 222.7 70.9 223.7 71.3 233.9 71.1 251.4 70.2 252.1 68.9 252.1 67.9 251.2 66.2 252.2 58.6 252.7 M67.4 231.2 68.0 228.7 67.4 226.9 65.5 227.7 67.4 231.2 M61.9 236.0 61.3 235.2 61.4 234.4 62.2 234.9 61.9 236.0 M62.9 242.0 62.6 241.3 63.1 240.9 62.9 242.0" fill="none" stroke="#444" stroke-width="0.6" stroke-linejoin="round"/>
<path d="M70.4 251.8 68.8 251.7 68.1 250.2 68.6 246.7 67.9 238.7 68.5 228.9 67.9 226.5 65.7 226.7 59.1 229.4 55.6 230.0 51.7 231.9 48.9 234.4 43.9 241.7 41.9 241.4 41.9 240.1 47.0 232.4 50.3 230.7 52.6 228.4 58.1 227.0 61.4 225.5 65.2 224.9 69.9 222.9 70.6 223.9 71.1 234.2 71.0 250.2 70.4 251.8 M58.9 252.5 48.9 251.5 47.3 250.9 47.0 249.7 47.9 248.8 49.9 248.2 53.4 249.2 66.4 250.0 67.2 250.4 66.4 251.8 58.9 252.5" fill="none" stroke="#333" stroke-width="0.6" stroke-linejoin="round"/>
<path d="M69.7 251.7 68.9 251.4 68.4 250.2 69.1 246.4 68.3 238.9 68.8 227.4 68.2 226.2 65.8 225.7 66.6 224.7 69.4 223.3 70.2 224.4 70.2 230.4 70.9 234.2 70.3 245.7 70.7 250.4 70.5 251.4 69.7 251.7 M52.1 231.2 51.5 230.9 51.8 229.9 53.4 228.5 58.1 227.6 61.9 225.7 64.7 226.2 62.4 227.8 55.6 229.5 52.1 231.2 M43.4 241.5 42.5 240.9 43.4 238.2 45.5 235.9 46.6 233.5 47.9 232.3 50.2 231.9 43.4 241.5 M58.9 252.2 49.4 251.3 47.8 250.7 47.4 249.9 48.3 249.2 50.1 248.9 53.4 249.7 66.7 250.9 66.2 251.5 64.4 251.1 58.9 252.2" fill="none" stroke="#222" stroke-width="0.6" stroke-linejoin="round"/>
<line x1="65.6" y1="209.7" x2="65.6" y2="253.4" stroke="#9a9a9a" stroke-width="1.1"/>
<line x1="41.9" y1="239.4" x2="89.3" y2="239.4" stroke="#9a9a9a" stroke-width="1.1"/>
<rect x="94.3" y="209.7" width="46.9" height="43.7" fill="none" stroke="#9c9c9c" stroke-width="1.1"/>
<path d="M124.6 253.2 111.6 253.1 106.8 252.6 97.5 249.4 96.9 245.7 95.6 241.9 94.2 240.4 94.1 239.2 98.1 229.2 102.6 225.3 106.3 224.1 108.6 224.2 111.3 226.8 112.8 227.0 116.1 224.6 119.6 218.8 122.1 217.9 124.3 218.8 125.2 221.4 125.4 236.7 125.2 247.7 124.6 253.2Z" fill="#e4e4e4" fill-opacity="1.0" fill-rule="evenodd"/>
<g fill="#111" opacity="0.8"><rect x="126.2" y="242.3" width="1.0" height="1.0"/><rect x="115.5" y="221.4" width="0.9" height="0.9"/><rect x="126.0" y="247.3" width="1.1" height="1.1"/><rect x="113.0" y="220.5" width="0.6" height="0.6"/><rect x="103.8" y="223.3" width="0.9" height="0.9"/><rect x="110.4" y="224.6" width="1.0" height="1.0"/><rect x="112.1" y="227.0" width="1.0" height="1.0"/><rect x="127.8" y="248.9" width="0.7" height="0.7"/><rect x="126.5" y="229.5" width="1.1" height="1.1"/><rect x="97.8" y="227.6" width="1.0" height="1.0"/><rect x="95.4" y="242.9" width="1.0" height="1.0"/><rect x="106.2" y="221.9" width="1.0" height="1.0"/><rect x="112.0" y="225.5" width="0.7" height="0.7"/><rect x="96.0" y="228.6" width="0.8" height="0.8"/><rect x="127.2" y="232.3" width="1.0" height="1.0"/><rect x="125.9" y="226.7" width="0.8" height="0.8"/><rect x="113.7" y="222.2" width="1.0" height="1.0"/><rect x="126.3" y="221.1" width="0.7" height="0.7"/><rect x="113.2" y="225.7" width="0.7" height="0.7"/><rect x="118.1" y="217.6" width="0.8" height="0.8"/><rect x="126.1" y="233.1" width="0.7" height="0.7"/><rect x="125.5" y="241.0" width="1.1" height="1.1"/><rect x="125.6" y="232.3" width="0.9" height="0.9"/><rect x="113.7" y="223.6" width="1.1" height="1.1"/><rect x="126.6" y="220.9" width="0.9" height="0.9"/><rect x="100.8" y="225.3" width="0.7" height="0.7"/><rect x="126.2" y="227.0" width="1.0" height="1.0"/><rect x="115.3" y="221.8" width="0.6" height="0.6"/><rect x="126.9" y="230.8" width="0.8" height="0.8"/><rect x="94.6" y="249.4" width="0.7" height="0.7"/><rect x="126.8" y="239.1" width="1.0" height="1.0"/><rect x="126.7" y="224.3" width="0.7" height="0.7"/><rect x="115.4" y="222.7" width="1.1" height="1.1"/><rect x="126.4" y="241.3" width="0.7" height="0.7"/><rect x="126.0" y="220.2" width="0.7" height="0.7"/><rect x="109.5" y="220.7" width="1.1" height="1.1"/><rect x="95.6" y="250.8" width="0.8" height="0.8"/><rect x="126.0" y="244.7" width="0.7" height="0.7"/><rect x="125.3" y="217.3" width="1.0" height="1.0"/><rect x="94.8" y="244.2" width="0.8" height="0.8"/><rect x="127.6" y="234.2" width="0.6" height="0.6"/><rect x="127.9" y="227.4" width="0.9" height="0.9"/><rect x="127.4" y="227.7" width="0.8" height="0.8"/><rect x="95.4" y="246.4" width="1.0" height="1.0"/><rect x="95.0" y="229.4" width="0.8" height="0.8"/><rect x="115.3" y="223.1" width="1.1" height="1.1"/><rect x="126.9" y="225.9" width="0.9" height="0.9"/><rect x="116.8" y="221.6" width="0.7" height="0.7"/><rect x="96.9" y="229.7" width="0.8" height="0.8"/><rect x="126.4" y="221.6" width="1.0" height="1.0"/><rect x="97.1" y="249.9" width="0.7" height="0.7"/><rect x="126.2" y="236.0" width="0.9" height="0.9"/><rect x="96.7" y="228.8" width="0.8" height="0.8"/><rect x="95.3" y="231.3" width="1.0" height="1.0"/><rect x="125.7" y="227.8" width="0.7" height="0.7"/><rect x="98.8" y="226.3" width="0.9" height="0.9"/><rect x="98.6" y="227.2" width="0.8" height="0.8"/><rect x="126.3" y="237.0" width="1.0" height="1.0"/><rect x="104.4" y="222.7" width="1.1" height="1.1"/><rect x="101.1" y="223.6" width="0.9" height="0.9"/><rect x="96.0" y="247.4" width="1.0" height="1.0"/><rect x="95.3" y="231.1" width="1.0" height="1.0"/><rect x="109.8" y="223.3" width="1.0" height="1.0"/><rect x="126.3" y="227.7" width="0.7" height="0.7"/><rect x="125.6" y="240.9" width="0.7" height="0.7"/><rect x="125.3" y="217.3" width="0.9" height="0.9"/><rect x="96.9" y="230.9" width="0.8" height="0.8"/><rect x="95.9" y="227.6" width="0.9" height="0.9"/><rect x="114.7" y="221.4" width="0.8" height="0.8"/><rect x="121.0" y="217.8" width="0.9" height="0.9"/><rect x="101.2" y="225.3" width="0.7" height="0.7"/><rect x="104.7" y="222.3" width="1.1" height="1.1"/><rect x="116.8" y="220.4" width="1.0" height="1.0"/><rect x="95.7" y="249.1" width="1.0" height="1.0"/><rect x="98.0" y="229.2" width="0.9" height="0.9"/><rect x="126.5" y="239.2" width="0.9" height="0.9"/><rect x="125.4" y="227.2" width="1.0" height="1.0"/><rect x="126.2" y="219.5" width="0.9" height="0.9"/><rect x="97.0" y="226.6" width="1.0" height="1.0"/><rect x="99.6" y="226.4" width="0.8" height="0.8"/><rect x="116.6" y="218.9" width="0.7" height="0.7"/><rect x="126.2" y="228.0" width="0.7" height="0.7"/><rect x="123.5" y="217.6" width="0.8" height="0.8"/><rect x="94.7" y="232.6" width="0.9" height="0.9"/><rect x="97.0" y="249.7" width="1.0" height="1.0"/><rect x="102.9" y="223.2" width="0.7" height="0.7"/><rect x="96.9" y="249.6" width="0.9" height="0.9"/><rect x="126.7" y="238.9" width="1.1" height="1.1"/><rect x="113.7" y="223.4" width="0.8" height="0.8"/><rect x="99.8" y="224.1" width="1.0" height="1.0"/><rect x="106.0" y="222.3" width="1.0" height="1.0"/><rect x="126.5" y="251.3" width="1.0" height="1.0"/><rect x="127.0" y="250.8" width="0.8" height="0.8"/><rect x="126.5" y="249.3" width="1.1" height="1.1"/><rect x="108.6" y="221.5" width="0.7" height="0.7"/><rect x="100.2" y="224.5" width="1.1" height="1.1"/><rect x="110.1" y="239.0" width="0.9" height="0.9"/><rect x="98.4" y="226.9" width="0.7" height="0.7"/><rect x="122.7" y="217.3" width="0.7" height="0.7"/><rect x="110.8" y="225.7" width="1.1" height="1.1"/><rect x="102.7" y="224.4" width="0.9" height="0.9"/><rect x="94.5" y="244.8" width="0.9" height="0.9"/><rect x="115.8" y="220.4" width="0.7" height="0.7"/><rect x="123.9" y="216.7" width="0.8" height="0.8"/><rect x="122.5" y="217.3" width="1.1" height="1.1"/><rect x="95.8" y="245.3" width="0.8" height="0.8"/><rect x="100.5" y="251.5" width="0.9" height="0.9"/><rect x="127.1" y="237.8" width="0.7" height="0.7"/><rect x="126.2" y="245.0" width="0.8" height="0.8"/><rect x="127.3" y="229.6" width="0.9" height="0.9"/><rect x="125.9" y="227.5" width="1.0" height="1.0"/><rect x="100.3" y="251.6" width="1.0" height="1.0"/><rect x="126.1" y="219.6" width="0.8" height="0.8"/><rect x="122.6" y="217.3" width="0.9" height="0.9"/><rect x="125.9" y="230.4" width="1.1" height="1.1"/><rect x="107.4" y="222.6" width="1.0" height="1.0"/><rect x="126.0" y="239.0" width="1.0" height="1.0"/><rect x="110.6" y="220.8" width="0.8" height="0.8"/><rect x="119.5" y="216.7" width="0.9" height="0.9"/><rect x="102.1" y="223.6" width="0.7" height="0.7"/><rect x="121.8" y="215.8" width="0.6" height="0.6"/><rect x="96.3" y="231.3" width="1.0" height="1.0"/><rect x="122.0" y="216.6" width="1.0" height="1.0"/><rect x="117.6" y="217.7" width="0.7" height="0.7"/><rect x="112.6" y="224.9" width="0.8" height="0.8"/><rect x="95.1" y="243.6" width="0.9" height="0.9"/><rect x="94.7" y="233.1" width="0.8" height="0.8"/><rect x="115.4" y="221.8" width="0.9" height="0.9"/><rect x="96.9" y="245.7" width="0.9" height="0.9"/><rect x="101.9" y="224.0" width="1.0" height="1.0"/><rect x="101.9" y="225.5" width="1.1" height="1.1"/><rect x="123.8" y="216.6" width="0.9" height="0.9"/><rect x="100.1" y="251.5" width="0.9" height="0.9"/><rect x="125.7" y="230.1" width="0.7" height="0.7"/><rect x="127.6" y="229.0" width="1.0" height="1.0"/><rect x="125.5" y="233.1" width="0.8" height="0.8"/><rect x="95.5" y="228.2" width="0.9" height="0.9"/><rect x="127.3" y="224.2" width="1.0" height="1.0"/><rect x="112.0" y="223.5" width="0.7" height="0.7"/><rect x="96.2" y="229.3" width="0.9" height="0.9"/><rect x="123.9" y="217.3" width="0.7" height="0.7"/><rect x="114.8" y="224.3" width="1.0" height="1.0"/><rect x="106.1" y="220.8" width="1.1" height="1.1"/><rect x="125.4" y="229.7" width="1.0" height="1.0"/><rect x="104.7" y="222.2" width="0.7" height="0.7"/><rect x="106.1" y="222.1" width="0.9" height="0.9"/><rect x="97.7" y="251.6" width="1.0" height="1.0"/><rect x="98.0" y="252.0" width="0.7" height="0.7"/><rect x="127.6" y="245.9" width="0.8" height="0.8"/><rect x="105.8" y="220.7" width="1.1" height="1.1"/></g>
<path d="M123.1 253.2 121.8 253.1 120.6 252.1 111.3 251.9 106.6 251.1 103.8 250.4 102.5 249.2 102.8 248.6 103.8 248.6 109.1 250.1 114.3 250.8 117.8 250.3 120.6 250.8 121.3 250.3 122.3 244.7 121.5 239.9 122.1 232.9 121.1 226.6 120.6 225.9 119.1 225.6 118.8 224.7 119.7 221.9 121.6 219.9 122.8 219.5 124.0 219.9 124.3 221.4 123.6 233.7 123.8 241.9 123.1 244.7 123.9 246.4 124.1 251.7 123.8 252.8 123.1 253.2Z M106.8 227.0 105.5 226.9 105.1 226.4 106.3 225.4 108.1 225.4 108.1 226.4 106.8 227.0Z M96.1 239.9 95.9 239.2 96.6 238.5 96.1 239.9Z" fill="#222" fill-opacity="1.0" fill-rule="evenodd"/>
<path d="M124.8 253.2 107.1 253.0 103.3 252.3 96.8 250.0 96.4 246.2 95.1 242.0 94.1 240.9 94.0 238.9 97.8 228.9 102.3 225.0 106.1 223.8 108.8 223.9 111.8 226.2 112.8 226.2 116.3 223.0 117.7 219.7 119.1 218.1 121.8 217.1 124.1 217.8 125.3 219.4 125.7 222.7 125.7 247.2 124.8 253.2" fill="none" stroke="#111" stroke-width="0.9" stroke-linejoin="round"/>
<path d="M124.6 253.2 111.6 253.1 106.8 252.6 97.6 249.4 97.1 245.9 95.8 242.2 94.4 240.7 94.1 239.4 98.1 229.3 102.6 225.4 106.3 224.1 108.6 224.2 111.3 226.9 112.8 227.1 116.1 224.7 119.6 219.0 122.1 218.0 124.3 218.9 125.2 221.4 125.4 236.7 125.2 247.4 124.6 253.2" fill="none" stroke="#222" stroke-width="0.7" stroke-linejoin="round"/>
<path d="M124.3 253.2 106.8 252.2 97.8 249.1 97.4 247.9 97.7 245.4 96.1 241.7 94.7 240.7 94.4 239.4 98.4 229.4 102.8 225.7 106.6 224.4 108.6 224.6 110.8 227.4 112.8 228.0 116.1 225.4 119.8 219.8 122.1 218.7 124.3 219.3 124.9 221.7 124.9 236.7 124.8 251.4 124.3 253.2 M111.7 242.7 113.8 242.0 114.6 241.2 114.6 239.4 113.6 238.1 106.6 234.6 104.3 234.7 102.8 235.7 102.8 237.2 105.1 239.7 107.6 240.5 109.8 242.6 111.7 242.7 M119.1 243.7 119.8 242.2 118.3 240.0 117.2 242.9 117.8 243.8 119.1 243.7 M103.3 246.2 103.9 245.7 101.6 245.2 100.7 245.7 101.8 246.4 103.3 246.2" fill="none" stroke="#444" stroke-width="0.6" stroke-linejoin="round"/>
<path d="M124.1 253.2 106.6 251.9 98.6 249.2 97.7 247.9 98.0 246.7 98.8 246.2 101.8 247.2 106.0 247.4 107.2 245.2 106.3 243.7 106.6 243.0 107.3 243.4 107.6 244.9 109.0 246.4 109.3 248.4 113.3 249.4 116.2 248.9 117.8 245.9 120.6 245.3 121.0 233.4 120.6 230.7 119.8 230.5 118.8 231.2 119.2 234.9 118.6 235.6 117.6 235.4 114.6 234.1 114.3 228.7 119.3 220.9 122.3 219.0 124.2 219.4 124.7 221.2 124.6 251.4 124.1 253.2 M99.1 244.3 97.8 244.0 96.6 241.4 95.1 240.6 94.7 239.7 98.1 230.4 102.8 226.1 106.3 224.7 108.3 224.7 109.9 228.2 109.6 230.2 110.9 232.4 110.1 232.8 104.6 231.5 103.1 231.8 101.6 232.9 100.8 232.4 100.1 232.7 98.8 234.4 98.1 238.2 100.1 240.2 102.3 241.4 103.0 242.7 102.3 243.5 99.1 244.3 M113.3 246.5 112.4 246.2 113.3 245.5 113.8 245.9 113.3 246.5" fill="none" stroke="#444" stroke-width="0.6" stroke-linejoin="round"/>
<path d="M123.8 253.2 106.3 251.6 103.3 250.8 100.8 249.2 98.6 248.8 98.1 247.9 98.3 247.1 99.1 246.8 109.6 249.5 114.1 250.0 120.8 249.8 121.4 233.7 120.9 228.4 120.3 227.7 117.3 228.4 116.5 227.2 119.4 221.4 121.6 219.5 122.6 219.2 124.1 219.7 124.5 221.2 124.4 251.4 123.8 253.2 M99.1 232.5 98.7 232.2 99.1 230.2 101.1 227.9 105.8 225.1 108.5 225.2 108.8 226.2 108.1 227.2 107.1 227.8 104.3 227.8 99.1 232.5 M96.3 240.7 95.1 240.2 95.1 238.9 96.6 235.4 97.6 234.6 97.9 235.4 97.4 238.9 96.3 240.7" fill="none" stroke="#333" stroke-width="0.6" stroke-linejoin="round"/>
<path d="M123.3 253.2 121.9 253.2 120.6 252.4 111.3 252.0 106.1 251.2 103.3 250.4 102.0 248.9 103.3 248.3 113.8 250.5 121.2 250.2 121.8 244.7 121.6 231.2 120.8 226.6 118.6 226.5 118.2 225.9 119.5 221.9 121.6 219.7 122.6 219.4 123.9 219.7 124.3 221.2 123.7 244.4 124.2 251.7 123.3 253.2 M106.1 227.2 104.7 226.9 105.4 225.7 107.1 225.1 108.3 225.4 108.1 226.6 106.1 227.2 M100.8 230.0 101.6 228.4 103.0 227.9 102.3 229.2 100.8 230.0 M96.1 240.3 95.5 239.2 96.8 237.4 96.9 238.9 96.1 240.3 M99.3 248.2 98.8 247.5 99.7 247.7 99.3 248.2" fill="none" stroke="#222" stroke-width="0.6" stroke-linejoin="round"/>
<line x1="118.6" y1="209.7" x2="118.6" y2="253.4" stroke="#9a9a9a" stroke-width="1.1"/>
<line x1="94.3" y1="238.8" x2="141.2" y2="238.8" stroke="#9a9a9a" stroke-width="1.1"/>
<rect x="146.9" y="209.7" width="47.0" height="43.7" fill="none" stroke="#9c9c9c" stroke-width="1.1"/>
<path d="M176.1 253.2 169.3 251.8 160.8 253.2 154.3 252.3 149.3 253.2 147.9 252.9 147.3 251.2 147.2 237.4 147.7 235.2 150.9 230.4 156.1 227.9 158.8 227.3 169.6 226.1 175.6 226.1 176.8 226.5 177.4 227.9 177.1 230.2 177.5 244.2 177.0 251.9 176.1 253.2Z" fill="#e4e4e4" fill-opacity="1.0" fill-rule="evenodd"/>
<g fill="#111" opacity="0.8"><rect x="150.0" y="230.2" width="1.1" height="1.1"/><rect x="148.4" y="230.2" width="0.7" height="0.7"/><rect x="162.3" y="222.0" width="0.9" height="0.9"/><rect x="179.0" y="242.9" width="0.9" height="0.9"/><rect x="147.3" y="244.2" width="1.1" height="1.1"/><rect x="179.0" y="245.2" width="0.8" height="0.8"/><rect x="148.3" y="234.0" width="0.7" height="0.7"/><rect x="165.6" y="222.1" width="0.8" height="0.8"/><rect x="155.7" y="222.7" width="0.7" height="0.7"/><rect x="165.2" y="223.9" width="0.7" height="0.7"/><rect x="164.0" y="222.0" width="0.7" height="0.7"/><rect x="170.2" y="223.1" width="0.9" height="0.9"/><rect x="161.9" y="219.4" width="1.1" height="1.1"/><rect x="167.1" y="222.9" width="0.8" height="0.8"/><rect x="151.6" y="229.9" width="0.9" height="0.9"/><rect x="152.8" y="226.5" width="0.8" height="0.8"/><rect x="160.3" y="226.9" width="1.1" height="1.1"/><rect x="177.9" y="234.4" width="1.0" height="1.0"/><rect x="178.7" y="237.9" width="1.0" height="1.0"/><rect x="179.5" y="241.8" width="1.1" height="1.1"/><rect x="156.3" y="221.1" width="0.7" height="0.7"/><rect x="162.0" y="224.2" width="1.0" height="1.0"/><rect x="152.8" y="222.8" width="0.8" height="0.8"/><rect x="150.5" y="227.8" width="1.0" height="1.0"/><rect x="162.6" y="225.3" width="0.8" height="0.8"/><rect x="152.8" y="227.2" width="0.8" height="0.8"/><rect x="158.3" y="222.7" width="0.8" height="0.8"/><rect x="170.2" y="220.9" width="0.6" height="0.6"/><rect x="176.5" y="224.4" width="1.1" height="1.1"/><rect x="167.7" y="220.3" width="1.0" height="1.0"/><rect x="174.9" y="219.6" width="1.0" height="1.0"/><rect x="152.1" y="229.0" width="0.7" height="0.7"/><rect x="167.1" y="224.9" width="0.8" height="0.8"/><rect x="175.2" y="224.4" width="0.7" height="0.7"/><rect x="173.7" y="220.8" width="0.6" height="0.6"/><rect x="155.9" y="225.6" width="0.6" height="0.6"/><rect x="173.5" y="222.0" width="0.7" height="0.7"/><rect x="178.3" y="244.0" width="0.9" height="0.9"/><rect x="176.1" y="223.1" width="1.1" height="1.1"/><rect x="155.1" y="223.0" width="1.0" height="1.0"/><rect x="147.5" y="232.2" width="0.7" height="0.7"/><rect x="178.8" y="226.1" width="0.7" height="0.7"/><rect x="166.5" y="222.6" width="0.8" height="0.8"/><rect x="153.5" y="223.0" width="0.9" height="0.9"/><rect x="147.4" y="232.9" width="1.0" height="1.0"/><rect x="157.5" y="226.2" width="1.0" height="1.0"/><rect x="152.6" y="223.8" width="1.1" height="1.1"/><rect x="175.6" y="220.4" width="1.0" height="1.0"/><rect x="166.3" y="223.9" width="1.1" height="1.1"/><rect x="172.7" y="220.7" width="1.0" height="1.0"/><rect x="151.2" y="222.8" width="0.8" height="0.8"/><rect x="160.0" y="224.3" width="0.9" height="0.9"/><rect x="148.7" y="231.6" width="1.1" height="1.1"/><rect x="170.6" y="222.9" width="1.1" height="1.1"/><rect x="157.1" y="225.5" width="1.0" height="1.0"/><rect x="178.8" y="220.5" width="0.7" height="0.7"/><rect x="168.4" y="218.3" width="0.7" height="0.7"/><rect x="155.2" y="225.6" width="1.1" height="1.1"/><rect x="177.9" y="250.0" width="0.9" height="0.9"/><rect x="148.5" y="231.4" width="1.1" height="1.1"/><rect x="178.9" y="230.7" width="0.7" height="0.7"/><rect x="178.8" y="230.0" width="0.9" height="0.9"/><rect x="178.3" y="233.2" width="1.1" height="1.1"/><rect x="168.0" y="220.5" width="1.0" height="1.0"/><rect x="174.4" y="222.1" width="0.7" height="0.7"/><rect x="159.8" y="226.0" width="0.8" height="0.8"/><rect x="176.2" y="224.1" width="1.1" height="1.1"/><rect x="168.6" y="222.5" width="1.1" height="1.1"/><rect x="173.2" y="222.3" width="1.1" height="1.1"/><rect x="176.5" y="219.4" width="0.9" height="0.9"/><rect x="149.5" y="226.9" width="0.9" height="0.9"/><rect x="179.0" y="247.5" width="1.0" height="1.0"/><rect x="162.1" y="223.6" width="1.0" height="1.0"/><rect x="149.5" y="227.1" width="1.0" height="1.0"/><rect x="164.8" y="223.9" width="0.9" height="0.9"/><rect x="155.8" y="226.5" width="1.0" height="1.0"/><rect x="153.2" y="226.5" width="1.0" height="1.0"/><rect x="171.1" y="225.6" width="0.8" height="0.8"/><rect x="168.3" y="224.1" width="0.7" height="0.7"/><rect x="170.8" y="223.0" width="1.0" height="1.0"/><rect x="158.1" y="226.1" width="1.1" height="1.1"/><rect x="178.8" y="229.0" width="1.0" height="1.0"/><rect x="168.8" y="223.9" width="0.8" height="0.8"/><rect x="172.0" y="223.8" width="0.6" height="0.6"/><rect x="165.1" y="222.6" width="1.1" height="1.1"/><rect x="169.7" y="222.4" width="0.9" height="0.9"/><rect x="157.3" y="221.9" width="0.8" height="0.8"/><rect x="154.2" y="227.0" width="0.8" height="0.8"/><rect x="178.2" y="251.6" width="0.8" height="0.8"/><rect x="178.9" y="232.6" width="0.6" height="0.6"/><rect x="173.3" y="224.0" width="0.8" height="0.8"/><rect x="172.6" y="218.1" width="0.7" height="0.7"/><rect x="178.6" y="234.4" width="0.7" height="0.7"/><rect x="153.6" y="222.4" width="0.9" height="0.9"/><rect x="161.8" y="219.7" width="0.8" height="0.8"/><rect x="152.9" y="227.8" width="0.8" height="0.8"/><rect x="173.0" y="218.6" width="0.9" height="0.9"/><rect x="159.1" y="220.8" width="0.8" height="0.8"/><rect x="172.3" y="223.7" width="1.1" height="1.1"/><rect x="175.7" y="224.5" width="1.1" height="1.1"/><rect x="171.0" y="221.5" width="0.8" height="0.8"/><rect x="164.8" y="222.6" width="0.8" height="0.8"/><rect x="178.9" y="241.3" width="0.9" height="0.9"/><rect x="179.0" y="238.4" width="1.0" height="1.0"/><rect x="173.8" y="225.9" width="1.1" height="1.1"/><rect x="154.3" y="222.4" width="1.0" height="1.0"/><rect x="155.3" y="222.8" width="1.0" height="1.0"/><rect x="155.3" y="227.2" width="1.0" height="1.0"/><rect x="178.9" y="227.6" width="0.7" height="0.7"/><rect x="178.7" y="241.8" width="1.1" height="1.1"/><rect x="166.4" y="223.3" width="0.9" height="0.9"/><rect x="159.6" y="221.6" width="0.9" height="0.9"/><rect x="178.8" y="251.0" width="0.8" height="0.8"/><rect x="177.6" y="233.3" width="0.8" height="0.8"/><rect x="170.1" y="221.8" width="0.8" height="0.8"/><rect x="158.4" y="226.5" width="1.0" height="1.0"/><rect x="153.6" y="226.0" width="0.8" height="0.8"/><rect x="175.7" y="224.3" width="0.7" height="0.7"/><rect x="169.8" y="219.9" width="0.7" height="0.7"/><rect x="170.0" y="222.9" width="0.9" height="0.9"/><rect x="176.8" y="221.5" width="0.9" height="0.9"/><rect x="166.3" y="224.6" width="0.9" height="0.9"/><rect x="162.7" y="219.6" width="0.7" height="0.7"/><rect x="177.6" y="220.7" width="0.7" height="0.7"/><rect x="167.0" y="224.2" width="0.7" height="0.7"/><rect x="177.3" y="226.7" width="0.9" height="0.9"/><rect x="150.2" y="228.1" width="1.1" height="1.1"/><rect x="178.7" y="222.3" width="1.0" height="1.0"/><rect x="177.9" y="232.4" width="0.9" height="0.9"/><rect x="151.5" y="229.1" width="0.7" height="0.7"/><rect x="156.7" y="223.6" width="0.7" height="0.7"/><rect x="155.6" y="226.6" width="1.0" height="1.0"/><rect x="151.1" y="224.0" width="0.9" height="0.9"/><rect x="171.4" y="220.2" width="0.8" height="0.8"/><rect x="151.1" y="224.1" width="0.6" height="0.6"/><rect x="176.9" y="225.4" width="1.0" height="1.0"/><rect x="174.3" y="221.3" width="0.8" height="0.8"/><rect x="151.5" y="226.2" width="0.9" height="0.9"/><rect x="168.1" y="221.3" width="0.9" height="0.9"/><rect x="159.4" y="221.6" width="0.8" height="0.8"/><rect x="168.3" y="221.6" width="0.8" height="0.8"/><rect x="177.0" y="226.3" width="0.8" height="0.8"/><rect x="170.0" y="220.7" width="1.0" height="1.0"/><rect x="147.8" y="231.9" width="0.9" height="0.9"/><rect x="178.1" y="246.5" width="1.0" height="1.0"/><rect x="178.1" y="238.6" width="1.0" height="1.0"/><rect x="163.7" y="220.7" width="0.6" height="0.6"/><rect x="158.1" y="223.8" width="0.9" height="0.9"/><rect x="178.3" y="246.8" width="0.8" height="0.8"/><rect x="175.5" y="217.8" width="0.7" height="0.7"/><rect x="178.3" y="227.6" width="0.9" height="0.9"/><rect x="150.5" y="230.5" width="0.9" height="0.9"/><rect x="171.7" y="220.8" width="0.9" height="0.9"/><rect x="164.2" y="221.2" width="0.9" height="0.9"/><rect x="160.2" y="220.8" width="1.1" height="1.1"/><rect x="171.2" y="222.7" width="0.6" height="0.6"/><rect x="164.8" y="224.1" width="0.8" height="0.8"/><rect x="178.0" y="227.8" width="0.7" height="0.7"/><rect x="155.4" y="226.0" width="1.0" height="1.0"/><rect x="176.4" y="220.6" width="0.8" height="0.8"/><rect x="177.9" y="232.9" width="0.7" height="0.7"/><rect x="155.9" y="224.8" width="0.9" height="0.9"/><rect x="178.2" y="250.8" width="1.1" height="1.1"/><rect x="163.6" y="222.2" width="0.7" height="0.7"/><rect x="150.6" y="230.7" width="1.1" height="1.1"/><rect x="177.8" y="238.4" width="0.7" height="0.7"/><rect x="171.3" y="224.6" width="0.9" height="0.9"/><rect x="173.3" y="220.0" width="0.8" height="0.8"/><rect x="174.3" y="224.6" width="1.0" height="1.0"/><rect x="158.6" y="226.6" width="0.6" height="0.6"/></g>
<path d="M175.3 229.8 173.5 228.2 175.1 226.9 176.1 227.1 176.5 227.9 175.3 229.8Z M168.1 229.0 166.9 228.9 166.7 228.4 168.6 227.5 171.0 227.9 168.1 229.0Z M175.3 235.2 175.3 232.3 175.8 233.7 175.3 235.2Z M175.3 240.8 174.5 239.9 175.1 237.5 175.7 239.4 175.3 240.8Z M149.1 239.1 148.5 238.4 149.1 237.8 149.1 239.1Z M149.1 241.4 149.1 240.4 149.1 241.4Z M175.6 247.5 175.0 246.7 174.5 243.2 175.6 241.8 176.2 244.2 175.6 247.5Z" fill="#222" fill-opacity="1.0" fill-rule="evenodd"/>
<path d="M176.6 253.3 169.8 252.5 161.8 253.3 154.3 252.8 147.7 253.2 147.0 250.9 146.9 237.2 147.5 234.9 150.6 230.2 155.8 227.6 159.1 226.6 163.3 226.7 167.8 225.7 175.6 225.8 177.1 226.4 177.6 227.9 178.0 243.9 177.4 251.4 176.6 253.3" fill="none" stroke="#111" stroke-width="0.9" stroke-linejoin="round"/>
<path d="M176.1 253.2 169.3 251.7 160.8 253.1 154.3 252.2 149.3 253.2 147.9 252.9 147.4 251.2 147.2 237.4 147.7 235.2 150.9 230.4 156.3 227.8 159.1 227.3 169.8 226.1 175.6 226.1 176.8 226.6 177.4 227.9 177.0 230.2 177.5 244.2 176.9 251.9 176.1 253.2" fill="none" stroke="#222" stroke-width="0.7" stroke-linejoin="round"/>
<path d="M175.8 253.0 168.1 250.0 160.8 252.6 153.8 251.5 150.8 252.0 149.1 253.0 148.1 252.7 147.7 251.2 147.4 237.9 148.1 235.2 151.2 230.7 156.3 228.2 159.1 227.6 163.3 227.5 169.8 226.4 176.6 226.7 177.1 227.9 176.7 230.2 177.1 244.2 176.6 251.9 175.8 253.0 M161.5 249.4 162.0 247.2 161.8 245.2 160.9 243.2 159.6 242.2 158.3 242.0 157.2 242.7 157.9 244.9 157.1 245.7 153.6 243.2 150.7 244.4 150.8 245.4 155.1 247.3 156.8 248.6 161.5 249.4" fill="none" stroke="#444" stroke-width="0.6" stroke-linejoin="round"/>
<path d="M175.6 252.8 174.5 252.4 173.6 250.7 171.8 250.6 170.9 249.7 171.8 248.5 173.6 248.6 173.5 244.2 166.8 243.7 163.3 244.1 162.2 243.4 162.8 242.2 172.6 242.8 173.6 242.6 174.0 241.7 173.8 240.9 172.8 240.6 168.6 241.0 165.8 240.4 163.1 241.1 161.8 240.6 161.6 239.4 162.6 238.7 165.8 239.5 172.4 238.4 171.6 235.1 169.1 234.5 166.8 235.5 165.4 235.4 164.9 232.4 165.8 230.4 164.3 229.5 160.8 230.9 158.5 230.7 153.6 233.0 150.6 237.5 150.8 240.9 149.8 244.7 150.6 248.3 153.4 249.4 150.8 250.6 149.3 252.6 148.3 252.5 147.7 237.9 148.2 235.4 151.3 231.1 156.6 228.4 159.1 227.9 163.6 227.9 169.6 226.6 176.6 226.9 176.9 227.9 176.4 230.4 176.8 244.7 176.3 251.9 175.6 252.8 M173.3 234.9 173.8 232.4 173.5 229.9 171.6 229.3 168.8 230.2 169.1 231.9 171.6 232.7 172.6 234.7 173.3 234.9 M159.6 239.8 157.2 239.4 154.6 237.2 155.9 236.9 157.3 238.7 159.8 237.7 160.5 235.4 159.3 232.9 160.8 231.0 162.3 232.2 162.2 234.9 165.0 235.9 163.3 237.7 160.3 237.9 159.6 239.8 M165.3 248.8 164.4 248.7 164.3 247.9 165.8 247.1 166.2 247.9 165.3 248.8 M160.3 252.0 158.6 251.9 157.5 251.2 158.3 250.6 159.8 250.7 160.9 251.4 160.3 252.0" fill="none" stroke="#444" stroke-width="0.6" stroke-linejoin="round"/>
<path d="M175.8 252.2 174.8 252.2 174.3 250.2 173.9 243.2 174.5 241.4 173.7 239.7 174.1 238.4 174.2 229.7 172.1 228.8 166.1 229.6 165.1 228.4 166.3 227.5 175.3 226.7 176.7 227.4 176.1 230.4 176.6 244.7 175.8 252.2 M149.1 252.3 148.5 252.2 148.2 250.9 148.8 245.9 147.9 238.2 148.6 235.4 152.1 231.2 154.6 230.5 158.3 228.4 162.1 228.6 162.5 229.2 161.8 229.7 158.3 230.2 153.8 232.0 150.2 236.7 149.9 241.7 149.0 245.2 149.7 250.2 149.1 252.3 M163.3 240.0 162.7 239.9 163.3 240.0" fill="none" stroke="#333" stroke-width="0.6" stroke-linejoin="round"/>
<path d="M175.3 251.3 174.4 243.4 175.0 241.4 174.3 239.7 174.7 229.9 173.8 228.8 172.3 228.2 167.6 229.3 166.2 228.9 166.3 228.2 167.7 227.4 172.6 227.6 175.3 226.9 176.5 227.4 175.6 230.4 176.3 244.4 175.3 251.3 M160.1 229.3 159.3 229.2 160.1 229.3 M151.1 235.1 150.6 234.9 150.6 233.9 152.1 232.6 152.1 233.7 151.1 235.1 M149.1 242.4 148.2 238.4 149.3 237.3 149.5 240.9 149.1 242.4 M148.8 251.8 148.8 249.3 149.2 250.7 148.8 251.8" fill="none" stroke="#222" stroke-width="0.6" stroke-linejoin="round"/>
<line x1="170.1" y1="209.7" x2="170.1" y2="253.4" stroke="#9a9a9a" stroke-width="1.1"/>
<line x1="146.9" y1="239.2" x2="193.9" y2="239.2" stroke="#9a9a9a" stroke-width="1.1"/>
<rect x="198.8" y="209.7" width="47.7" height="43.7" fill="none" stroke="#9c9c9c" stroke-width="1.1"/>
<path d="M212.3 253.2 201.1 253.2 199.1 251.7 198.8 236.4 207.6 235.0 221.9 234.9 221.0 223.7 221.9 221.2 223.8 220.7 225.0 221.7 225.4 223.2 224.5 233.2 225.3 234.9 227.0 235.9 227.4 236.9 226.5 239.9 227.0 244.4 226.3 249.2 226.7 251.9 225.1 253.1 212.3 253.2Z M201.9 242.7 202.3 241.9 201.6 241.3 201.4 242.2 201.9 242.7Z M207.2 242.4 207.8 241.7 207.1 241.3 206.4 241.9 207.2 242.4Z M222.3 242.9 221.7 242.7 222.3 242.9Z M211.6 249.7 213.6 248.7 214.7 247.2 215.6 244.9 214.8 243.4 210.8 244.2 209.2 245.2 208.4 248.7 210.3 249.7 211.6 249.7Z M206.7 249.7 207.2 249.2 205.3 248.8 204.1 246.7 202.6 246.7 203.1 248.1 206.7 249.7Z M221.6 247.9 221.1 247.2 221.6 247.9Z" fill="#e4e4e4" fill-opacity="1.0" fill-rule="evenodd"/>
<g fill="#111" opacity="0.8"><rect x="216.8" y="214.5" width="1.0" height="1.0"/><rect x="226.3" y="225.9" width="0.8" height="0.8"/><rect x="212.8" y="229.0" width="0.9" height="0.9"/><rect x="217.3" y="227.6" width="1.1" height="1.1"/><rect x="226.9" y="231.6" width="0.8" height="0.8"/><rect x="215.5" y="221.7" width="0.9" height="0.9"/><rect x="213.8" y="217.3" width="0.8" height="0.8"/><rect x="203.2" y="228.5" width="0.7" height="0.7"/><rect x="208.2" y="232.9" width="0.6" height="0.6"/><rect x="228.5" y="242.7" width="1.0" height="1.0"/><rect x="211.9" y="231.9" width="0.8" height="0.8"/><rect x="211.2" y="232.9" width="1.1" height="1.1"/><rect x="226.2" y="232.1" width="1.0" height="1.0"/><rect x="205.1" y="230.6" width="0.7" height="0.7"/><rect x="216.2" y="245.5" width="0.7" height="0.7"/><rect x="212.8" y="218.1" width="0.8" height="0.8"/><rect x="215.7" y="214.8" width="0.9" height="0.9"/><rect x="226.4" y="223.9" width="1.1" height="1.1"/><rect x="205.8" y="231.2" width="1.0" height="1.0"/><rect x="210.6" y="220.5" width="0.7" height="0.7"/><rect x="209.5" y="218.9" width="0.8" height="0.8"/><rect x="202.7" y="225.0" width="0.8" height="0.8"/><rect x="200.1" y="234.0" width="0.8" height="0.8"/><rect x="213.0" y="224.0" width="1.1" height="1.1"/><rect x="226.3" y="219.7" width="0.8" height="0.8"/><rect x="205.0" y="229.7" width="0.6" height="0.6"/><rect x="217.0" y="223.3" width="0.7" height="0.7"/><rect x="216.3" y="224.4" width="1.1" height="1.1"/><rect x="226.6" y="227.3" width="0.9" height="0.9"/><rect x="217.3" y="214.3" width="1.0" height="1.0"/><rect x="216.5" y="221.8" width="1.0" height="1.0"/><rect x="214.2" y="221.3" width="1.0" height="1.0"/><rect x="227.7" y="225.6" width="0.7" height="0.7"/><rect x="207.4" y="230.8" width="0.9" height="0.9"/><rect x="213.6" y="216.0" width="1.1" height="1.1"/><rect x="212.5" y="217.5" width="1.1" height="1.1"/><rect x="227.8" y="222.5" width="0.7" height="0.7"/><rect x="228.3" y="246.8" width="1.1" height="1.1"/><rect x="216.7" y="214.8" width="0.9" height="0.9"/><rect x="215.1" y="246.9" width="0.8" height="0.8"/><rect x="218.0" y="228.6" width="0.9" height="0.9"/><rect x="212.8" y="218.3" width="0.8" height="0.8"/><rect x="210.3" y="232.9" width="0.8" height="0.8"/><rect x="214.6" y="228.6" width="1.1" height="1.1"/><rect x="205.7" y="230.3" width="0.9" height="0.9"/><rect x="226.6" y="223.8" width="0.7" height="0.7"/><rect x="205.6" y="247.1" width="0.9" height="0.9"/><rect x="213.3" y="220.4" width="0.9" height="0.9"/><rect x="219.7" y="219.3" width="0.9" height="0.9"/><rect x="227.9" y="241.4" width="1.0" height="1.0"/><rect x="215.4" y="218.6" width="1.0" height="1.0"/><rect x="228.0" y="239.6" width="0.8" height="0.8"/><rect x="215.9" y="228.5" width="0.9" height="0.9"/><rect x="209.0" y="229.8" width="1.0" height="1.0"/><rect x="203.9" y="247.6" width="0.8" height="0.8"/><rect x="215.4" y="231.0" width="1.0" height="1.0"/><rect x="210.5" y="220.6" width="1.0" height="1.0"/><rect x="216.1" y="226.9" width="0.7" height="0.7"/><rect x="216.9" y="224.3" width="1.1" height="1.1"/><rect x="225.7" y="233.3" width="0.8" height="0.8"/><rect x="209.4" y="228.6" width="0.9" height="0.9"/><rect x="213.7" y="221.9" width="0.6" height="0.6"/><rect x="228.8" y="236.3" width="0.9" height="0.9"/><rect x="215.8" y="223.8" width="0.8" height="0.8"/><rect x="213.9" y="230.4" width="0.7" height="0.7"/><rect x="217.5" y="217.6" width="0.6" height="0.6"/><rect x="226.9" y="224.5" width="0.8" height="0.8"/><rect x="213.7" y="232.3" width="0.9" height="0.9"/><rect x="215.7" y="223.5" width="0.9" height="0.9"/><rect x="212.7" y="246.5" width="0.9" height="0.9"/><rect x="209.6" y="223.5" width="0.9" height="0.9"/><rect x="211.3" y="220.8" width="0.9" height="0.9"/><rect x="228.3" y="250.9" width="0.7" height="0.7"/><rect x="214.6" y="233.2" width="0.7" height="0.7"/><rect x="226.9" y="222.4" width="0.9" height="0.9"/><rect x="220.7" y="222.4" width="1.0" height="1.0"/><rect x="220.1" y="230.5" width="0.6" height="0.6"/><rect x="215.7" y="222.4" width="0.7" height="0.7"/><rect x="216.3" y="217.0" width="1.0" height="1.0"/><rect x="227.9" y="234.6" width="0.7" height="0.7"/><rect x="204.0" y="221.5" width="0.9" height="0.9"/><rect x="208.2" y="226.5" width="0.9" height="0.9"/><rect x="207.1" y="232.3" width="0.7" height="0.7"/><rect x="211.1" y="219.5" width="1.1" height="1.1"/><rect x="218.4" y="220.4" width="0.8" height="0.8"/><rect x="213.9" y="230.2" width="0.8" height="0.8"/><rect x="215.0" y="246.1" width="0.7" height="0.7"/><rect x="209.4" y="233.7" width="0.8" height="0.8"/><rect x="212.2" y="221.3" width="0.9" height="0.9"/><rect x="202.7" y="227.3" width="1.1" height="1.1"/><rect x="211.2" y="219.2" width="0.7" height="0.7"/><rect x="209.6" y="229.0" width="1.1" height="1.1"/><rect x="215.7" y="228.6" width="0.9" height="0.9"/><rect x="205.9" y="225.1" width="1.0" height="1.0"/><rect x="228.9" y="250.2" width="1.1" height="1.1"/><rect x="214.6" y="247.2" width="0.7" height="0.7"/><rect x="214.4" y="216.0" width="0.9" height="0.9"/><rect x="212.0" y="216.7" width="0.7" height="0.7"/><rect x="211.9" y="232.7" width="0.9" height="0.9"/><rect x="210.4" y="223.6" width="0.8" height="0.8"/><rect x="218.8" y="225.0" width="0.9" height="0.9"/><rect x="221.3" y="229.7" width="0.9" height="0.9"/><rect x="204.4" y="223.5" width="0.8" height="0.8"/><rect x="203.5" y="233.4" width="0.7" height="0.7"/><rect x="229.0" y="248.0" width="0.8" height="0.8"/><rect x="203.2" y="227.3" width="0.9" height="0.9"/><rect x="222.6" y="220.3" width="0.9" height="0.9"/><rect x="206.2" y="223.3" width="0.7" height="0.7"/><rect x="226.8" y="234.0" width="0.6" height="0.6"/><rect x="219.0" y="233.7" width="1.1" height="1.1"/><rect x="205.1" y="222.8" width="0.7" height="0.7"/><rect x="209.1" y="228.5" width="0.9" height="0.9"/><rect x="227.4" y="229.7" width="0.9" height="0.9"/><rect x="210.2" y="220.2" width="1.0" height="1.0"/><rect x="204.5" y="229.5" width="1.0" height="1.0"/><rect x="214.4" y="227.0" width="0.9" height="0.9"/><rect x="217.4" y="219.5" width="0.8" height="0.8"/><rect x="208.6" y="231.9" width="1.0" height="1.0"/><rect x="218.6" y="227.8" width="0.7" height="0.7"/><rect x="211.6" y="218.8" width="0.7" height="0.7"/></g>
<path d="M222.8 226.7 222.3 225.2 222.9 222.7 223.6 222.2 224.1 223.2 223.2 224.2 223.3 225.9 222.8 226.7Z M224.6 238.7 223.1 238.7 221.1 237.6 214.6 237.8 212.9 237.2 214.4 236.2 218.8 235.7 220.3 235.9 221.8 237.1 224.6 236.1 226.3 236.5 226.3 237.9 224.6 238.7Z M200.1 239.5 199.0 238.2 199.6 237.0 207.8 235.9 209.3 236.4 208.6 237.6 205.8 237.8 200.1 239.5Z M204.6 240.7 203.3 240.2 205.1 240.2 204.6 240.7Z M212.3 241.0 209.8 240.4 211.6 239.9 213.3 240.4 212.3 241.0Z M222.3 240.5 221.1 240.4 222.1 239.9 222.3 240.5Z M217.1 240.7 215.1 240.4 217.4 240.2 217.1 240.7Z M200.1 249.5 200.1 247.5 200.5 248.4 200.1 249.5Z M202.6 252.0 201.4 251.7 202.1 251.4 202.6 252.0Z" fill="#222" fill-opacity="1.0" fill-rule="evenodd"/>
<path d="M225.8 253.2 201.1 253.3 200.1 253.0 198.7 251.2 198.8 236.1 207.6 234.8 221.4 234.7 221.4 228.9 220.3 223.7 221.0 221.4 222.8 220.0 224.3 220.5 225.5 221.9 225.7 224.4 224.8 232.2 225.6 234.7 227.1 235.7 227.6 236.9 227.0 239.9 227.1 251.7 225.8 253.2 M212.0 248.9 213.1 247.9 213.8 244.6 212.8 244.9 210.8 247.7 210.8 248.7 212.0 248.9" fill="none" stroke="#111" stroke-width="0.9" stroke-linejoin="round"/>
<path d="M212.1 253.2 201.3 253.2 199.1 251.7 198.7 249.4 198.8 236.4 207.6 235.1 222.0 234.9 221.0 223.9 221.8 221.4 222.8 220.7 223.8 220.8 225.0 221.7 225.4 223.2 224.5 233.4 225.2 234.9 226.9 235.9 227.4 236.9 226.5 239.9 226.9 244.4 226.2 249.2 226.7 251.9 225.1 253.1 212.1 253.2 M201.8 242.9 202.4 241.9 201.6 241.2 201.3 242.2 201.8 242.9 M207.3 242.7 207.9 241.7 207.1 241.2 206.3 241.9 207.3 242.7 M222.5 243.2 222.3 242.4 221.3 242.7 221.6 243.3 222.5 243.2 M206.7 249.9 208.3 249.2 211.3 249.8 213.7 248.7 215.8 245.4 215.3 243.7 214.1 243.2 209.6 244.5 208.8 245.2 208.3 247.7 207.3 248.7 205.3 248.4 203.8 246.3 202.4 246.7 203.1 248.3 206.7 249.9 M221.8 248.2 221.8 247.2 220.8 246.9 220.8 247.8 221.8 248.2" fill="none" stroke="#222" stroke-width="0.7" stroke-linejoin="round"/>
<path d="M222.8 233.7 222.2 232.4 221.4 224.9 221.9 222.2 223.3 221.1 224.8 221.9 225.1 223.7 223.5 232.9 222.8 233.7 M211.8 253.0 201.6 252.9 199.6 251.6 198.9 249.4 198.8 236.7 207.6 235.3 210.6 235.7 218.8 235.1 221.8 235.5 224.6 235.1 226.8 236.1 227.1 237.9 225.8 239.7 226.3 244.7 225.6 246.2 224.3 245.2 224.2 242.9 222.6 241.6 219.2 241.7 217.3 243.3 215.3 241.9 211.8 242.6 209.8 242.1 207.8 240.4 210.5 238.9 210.3 238.2 206.6 238.9 206.9 240.4 205.2 241.7 205.3 243.4 204.1 244.5 203.3 244.2 203.2 241.7 201.3 240.2 200.7 241.7 201.3 246.7 202.6 249.8 206.1 250.8 209.1 250.8 213.8 249.8 215.8 250.0 219.1 249.0 221.1 249.9 224.6 249.6 226.3 251.4 225.1 252.6 213.8 252.4 211.8 253.0 M219.9 239.4 220.4 239.2 220.3 238.7 219.0 238.9 219.9 239.4" fill="none" stroke="#444" stroke-width="0.6" stroke-linejoin="round"/>
<path d="M223.1 229.7 221.7 224.9 222.3 222.2 223.6 221.4 224.7 222.2 224.9 223.4 223.1 229.7 M211.8 252.7 201.6 252.7 199.9 251.4 199.2 249.2 199.5 245.2 198.8 236.9 207.8 235.5 210.6 236.3 219.1 235.3 222.1 236.0 224.6 235.5 226.6 236.2 226.9 237.9 225.2 239.4 225.2 241.2 224.6 241.8 222.8 241.1 211.8 241.6 209.3 241.3 208.5 240.4 209.3 239.8 217.0 238.9 212.1 238.2 210.6 237.3 205.4 238.9 206.3 240.2 204.8 241.3 202.8 241.0 202.1 239.4 201.1 239.7 200.3 241.7 201.3 250.4 206.3 251.3 213.1 251.1 213.0 252.2 211.8 252.7 M219.6 239.9 221.7 238.9 220.1 238.2 217.2 238.9 219.6 239.9 M225.1 252.0 222.6 252.0 221.6 251.4 224.1 250.6 225.3 251.2 225.1 252.0" fill="none" stroke="#444" stroke-width="0.6" stroke-linejoin="round"/>
<path d="M223.1 227.5 222.3 227.0 222.0 225.2 222.6 222.5 223.6 221.8 224.3 222.3 224.5 223.2 223.1 227.5 M200.1 240.3 198.8 238.2 199.3 236.9 207.8 235.7 209.7 236.4 208.8 237.8 201.3 239.1 200.1 240.3 M223.6 239.8 220.8 237.9 214.6 238.1 211.9 237.2 214.3 235.9 218.8 235.5 222.3 236.6 224.6 235.8 226.5 236.4 226.4 238.2 223.6 239.8 M204.8 241.0 203.3 240.9 202.8 239.9 204.1 239.6 205.5 239.9 205.6 240.4 204.8 241.0 M222.6 240.7 220.0 240.4 222.3 239.6 222.9 239.9 222.6 240.7 M212.3 241.2 209.8 241.0 209.1 240.4 211.6 239.7 217.3 239.8 218.3 240.4 217.3 241.0 212.3 241.2 M200.3 250.4 199.4 248.9 200.1 246.3 200.8 248.4 200.3 250.4 M203.3 252.2 201.3 252.3 200.7 251.2 203.8 251.2 205.0 251.7 203.3 252.2 M211.3 252.5 209.9 251.9 211.1 251.4 212.6 251.7 211.3 252.5" fill="none" stroke="#333" stroke-width="0.6" stroke-linejoin="round"/>
<path d="M223.3 223.7 222.9 222.9 223.6 222.4 224.0 222.9 223.3 223.7 M222.8 226.6 222.3 225.7 222.8 224.7 223.2 225.7 222.8 226.6 M200.3 239.3 199.1 238.4 199.6 237.0 201.6 237.1 207.8 235.9 209.2 236.4 208.6 237.6 205.8 237.7 200.3 239.3 M225.1 238.5 223.1 238.6 221.1 237.5 214.8 237.8 213.1 237.2 214.6 236.2 218.8 235.8 220.2 235.9 221.8 237.2 224.6 236.2 226.1 236.4 226.4 237.7 225.1 238.5 M204.3 240.7 203.4 240.2 204.9 240.2 204.3 240.7 M212.1 241.0 209.9 240.4 211.6 240.0 213.1 240.4 212.1 241.0 M217.1 240.6 216.0 240.4 217.1 240.6 M222.1 240.6 221.4 240.2 222.1 240.0 222.1 240.6 M200.1 249.3 200.1 247.8 200.1 249.3 M202.1 252.0 201.5 251.7 202.3 251.7 202.1 252.0" fill="none" stroke="#222" stroke-width="0.6" stroke-linejoin="round"/>
<line x1="221.9" y1="209.7" x2="221.9" y2="253.4" stroke="#9a9a9a" stroke-width="1.1"/>
<line x1="198.8" y1="239.3" x2="246.5" y2="239.3" stroke="#9a9a9a" stroke-width="1.1"/>
<rect x="250.0" y="209.7" width="48.3" height="43.7" fill="none" stroke="#9c9c9c" stroke-width="1.1"/>
<path d="M281.5 253.3 273.8 253.4 269.5 251.9 265.8 252.6 263.6 251.2 262.9 248.4 261.0 246.9 259.7 247.4 258.8 249.7 255.9 250.4 252.2 252.4 250.0 252.1 250.0 248.7 251.4 247.9 252.0 246.4 250.0 243.5 250.0 239.5 251.2 239.6 253.2 241.2 252.5 245.4 253.5 246.4 256.5 246.6 260.7 243.4 258.4 242.2 257.5 240.5 255.7 239.7 254.5 236.8 250.7 237.2 250.4 236.4 251.1 234.4 250.3 232.4 252.8 231.1 254.0 233.9 255.5 233.8 256.0 232.7 255.3 229.9 258.0 226.3 260.2 224.6 261.2 224.9 262.2 227.5 264.0 228.7 265.0 223.2 268.5 219.1 271.5 218.8 274.8 220.5 276.8 220.6 278.0 219.7 279.0 218.0 280.8 218.1 284.7 225.7 286.2 233.9 285.9 243.9 283.4 251.7 281.5 253.3Z M262.9 243.7 264.0 242.9 263.5 240.7 262.8 241.1 261.5 243.2 262.9 243.7Z" fill="#f2f2f2" fill-opacity="1.0" fill-rule="evenodd"/>
<path d="M280.8 253.2 274.3 253.2 268.0 249.7 265.1 244.7 264.3 238.2 265.3 225.2 267.0 224.2 268.1 221.7 269.2 220.6 271.0 220.3 274.8 221.7 276.0 221.2 277.5 221.8 279.1 218.7 279.8 218.4 280.7 218.9 284.3 225.9 285.8 233.9 285.6 243.4 283.1 251.4 280.8 253.2Z M268.6 237.4 268.3 236.7 267.6 236.7 267.8 237.5 268.6 237.4Z" fill="#e2e2e2" fill-opacity="1.0" fill-rule="evenodd"/>
<g fill="#111" opacity="0.8"><rect x="253.6" y="250.5" width="0.7" height="0.7"/><rect x="262.1" y="238.7" width="0.8" height="0.8"/><rect x="286.6" y="228.2" width="0.8" height="0.8"/><rect x="252.8" y="242.7" width="1.0" height="1.0"/><rect x="257.7" y="234.1" width="0.7" height="0.7"/><rect x="266.0" y="221.2" width="0.8" height="0.8"/><rect x="258.9" y="236.3" width="0.8" height="0.8"/><rect x="262.0" y="233.6" width="0.8" height="0.8"/><rect x="259.4" y="243.0" width="0.8" height="0.8"/><rect x="260.3" y="230.8" width="1.1" height="1.1"/><rect x="275.8" y="220.6" width="0.7" height="0.7"/><rect x="257.2" y="244.5" width="0.9" height="0.9"/><rect x="252.9" y="244.0" width="1.0" height="1.0"/><rect x="253.4" y="235.4" width="0.9" height="0.9"/><rect x="257.8" y="232.9" width="1.0" height="1.0"/><rect x="251.9" y="230.4" width="0.9" height="0.9"/><rect x="253.8" y="238.9" width="1.0" height="1.0"/><rect x="273.4" y="218.8" width="1.1" height="1.1"/><rect x="270.3" y="219.9" width="0.9" height="0.9"/><rect x="255.8" y="244.6" width="0.9" height="0.9"/><rect x="252.5" y="228.2" width="1.0" height="1.0"/><rect x="254.7" y="239.0" width="0.9" height="0.9"/><rect x="252.4" y="228.9" width="0.6" height="0.6"/><rect x="281.2" y="218.3" width="1.0" height="1.0"/><rect x="250.7" y="243.0" width="1.1" height="1.1"/><rect x="263.4" y="242.8" width="1.1" height="1.1"/><rect x="262.9" y="244.2" width="1.0" height="1.0"/><rect x="286.3" y="247.0" width="1.0" height="1.0"/><rect x="260.8" y="232.5" width="1.0" height="1.0"/><rect x="262.6" y="224.2" width="1.0" height="1.0"/><rect x="257.3" y="233.4" width="1.0" height="1.0"/><rect x="255.6" y="238.4" width="0.9" height="0.9"/><rect x="254.4" y="236.2" width="1.1" height="1.1"/><rect x="253.2" y="242.1" width="0.9" height="0.9"/><rect x="254.8" y="248.0" width="0.7" height="0.7"/><rect x="262.5" y="239.3" width="0.9" height="0.9"/><rect x="277.9" y="218.4" width="0.7" height="0.7"/><rect x="287.2" y="246.4" width="1.1" height="1.1"/><rect x="256.8" y="247.6" width="1.0" height="1.0"/><rect x="255.3" y="239.5" width="1.0" height="1.0"/><rect x="259.2" y="238.3" width="0.7" height="0.7"/><rect x="254.6" y="227.5" width="0.7" height="0.7"/><rect x="264.1" y="249.5" width="0.6" height="0.6"/><rect x="255.4" y="236.1" width="0.7" height="0.7"/><rect x="260.5" y="223.1" width="0.6" height="0.6"/><rect x="286.4" y="247.1" width="0.9" height="0.9"/><rect x="263.0" y="248.3" width="1.1" height="1.1"/><rect x="286.7" y="247.7" width="1.1" height="1.1"/><rect x="262.5" y="221.9" width="0.6" height="0.6"/><rect x="252.0" y="250.3" width="1.0" height="1.0"/><rect x="253.0" y="247.1" width="0.7" height="0.7"/><rect x="261.9" y="242.2" width="0.7" height="0.7"/><rect x="255.4" y="240.5" width="0.7" height="0.7"/><rect x="257.0" y="241.3" width="1.1" height="1.1"/><rect x="286.4" y="232.6" width="0.8" height="0.8"/><rect x="250.4" y="243.3" width="0.9" height="0.9"/><rect x="258.5" y="242.8" width="0.7" height="0.7"/><rect x="256.3" y="225.7" width="0.7" height="0.7"/><rect x="263.2" y="249.7" width="0.9" height="0.9"/><rect x="262.9" y="232.4" width="0.7" height="0.7"/><rect x="265.1" y="250.0" width="0.7" height="0.7"/><rect x="251.0" y="246.4" width="1.1" height="1.1"/><rect x="273.9" y="219.6" width="0.7" height="0.7"/><rect x="259.9" y="242.7" width="0.8" height="0.8"/><rect x="253.0" y="248.3" width="0.8" height="0.8"/><rect x="257.2" y="250.7" width="0.9" height="0.9"/><rect x="267.4" y="218.7" width="1.1" height="1.1"/><rect x="254.1" y="237.5" width="0.7" height="0.7"/><rect x="258.1" y="243.2" width="0.8" height="0.8"/><rect x="254.7" y="250.4" width="0.8" height="0.8"/><rect x="280.2" y="216.9" width="1.1" height="1.1"/><rect x="251.5" y="237.2" width="0.8" height="0.8"/><rect x="251.7" y="237.3" width="0.9" height="0.9"/><rect x="262.8" y="233.1" width="0.6" height="0.6"/><rect x="255.7" y="232.6" width="0.6" height="0.6"/><rect x="269.9" y="218.4" width="0.7" height="0.7"/><rect x="253.0" y="231.4" width="0.8" height="0.8"/><rect x="285.8" y="251.4" width="0.9" height="0.9"/><rect x="262.7" y="249.9" width="0.8" height="0.8"/><rect x="257.1" y="232.5" width="1.1" height="1.1"/><rect x="276.7" y="221.1" width="0.7" height="0.7"/><rect x="261.0" y="240.5" width="0.8" height="0.8"/><rect x="253.4" y="233.7" width="1.0" height="1.0"/><rect x="286.6" y="227.9" width="1.0" height="1.0"/><rect x="266.4" y="221.4" width="1.0" height="1.0"/><rect x="259.3" y="234.7" width="0.9" height="0.9"/><rect x="272.9" y="219.9" width="1.1" height="1.1"/><rect x="258.3" y="246.4" width="0.7" height="0.7"/><rect x="265.4" y="250.6" width="0.8" height="0.8"/><rect x="262.6" y="228.9" width="1.0" height="1.0"/><rect x="263.9" y="226.9" width="0.8" height="0.8"/><rect x="263.6" y="234.7" width="0.9" height="0.9"/><rect x="265.1" y="220.8" width="0.8" height="0.8"/><rect x="257.8" y="241.4" width="1.0" height="1.0"/><rect x="253.2" y="235.6" width="1.0" height="1.0"/><rect x="260.7" y="233.2" width="1.1" height="1.1"/><rect x="254.0" y="251.1" width="1.0" height="1.0"/><rect x="258.3" y="228.3" width="0.7" height="0.7"/><rect x="264.7" y="227.1" width="0.9" height="0.9"/><rect x="261.2" y="249.5" width="0.7" height="0.7"/><rect x="272.3" y="217.7" width="0.9" height="0.9"/><rect x="262.2" y="230.4" width="0.7" height="0.7"/><rect x="275.0" y="219.0" width="0.7" height="0.7"/><rect x="256.9" y="249.7" width="0.7" height="0.7"/><rect x="287.3" y="245.3" width="1.0" height="1.0"/><rect x="259.3" y="233.4" width="0.9" height="0.9"/><rect x="259.1" y="225.2" width="1.1" height="1.1"/><rect x="253.6" y="238.9" width="0.8" height="0.8"/><rect x="256.2" y="239.9" width="1.1" height="1.1"/><rect x="255.5" y="244.8" width="1.0" height="1.0"/><rect x="251.4" y="237.0" width="0.7" height="0.7"/><rect x="256.0" y="226.4" width="0.9" height="0.9"/><rect x="258.3" y="247.8" width="0.7" height="0.7"/><rect x="261.2" y="227.1" width="0.7" height="0.7"/><rect x="260.2" y="240.6" width="0.8" height="0.8"/><rect x="288.1" y="240.3" width="0.7" height="0.7"/><rect x="280.6" y="216.4" width="0.7" height="0.7"/><rect x="256.7" y="243.4" width="1.0" height="1.0"/><rect x="255.1" y="234.7" width="0.8" height="0.8"/><rect x="254.5" y="229.4" width="0.7" height="0.7"/><rect x="256.1" y="237.6" width="0.6" height="0.6"/><rect x="250.8" y="233.8" width="1.1" height="1.1"/><rect x="264.9" y="247.4" width="0.8" height="0.8"/><rect x="255.2" y="230.5" width="0.7" height="0.7"/><rect x="255.7" y="233.2" width="0.7" height="0.7"/><rect x="283.7" y="221.5" width="1.0" height="1.0"/><rect x="254.3" y="245.2" width="1.1" height="1.1"/><rect x="255.6" y="241.2" width="1.1" height="1.1"/><rect x="255.5" y="252.1" width="0.8" height="0.8"/><rect x="257.2" y="248.0" width="0.8" height="0.8"/></g>
<path d="M279.8 231.7 278.6 230.4 278.9 227.7 278.3 225.4 279.0 224.4 280.5 224.1 281.0 223.0 283.3 225.9 284.1 230.9 283.8 231.5 282.3 227.4 281.2 226.3 280.7 227.7 281.0 230.4 279.8 231.7Z M276.5 226.6 276.5 225.3 276.5 226.6Z M266.0 234.0 265.7 232.9 266.2 231.7 266.0 234.0Z M280.8 243.2 279.0 242.9 277.9 241.4 278.3 237.4 279.5 235.7 280.8 236.3 281.4 237.9 281.6 242.2 280.8 243.2Z M266.5 242.3 266.2 239.6 266.5 242.3Z M276.2 244.3 276.1 241.2 276.5 240.2 276.8 241.9 276.2 244.3Z M283.5 245.3 283.2 243.7 284.2 241.1 284.6 243.2 283.5 245.3Z M269.8 249.0 268.8 249.0 267.8 248.0 266.3 244.7 266.5 242.9 269.2 246.7 270.1 248.4 269.8 249.0Z M279.0 253.0 278.1 252.7 278.3 251.9 280.5 250.9 281.4 250.9 279.0 253.0Z M276.5 253.0 275.8 252.7 275.4 251.7 276.5 251.1 277.2 252.2 276.5 253.0Z" fill="#222" fill-opacity="1.0" fill-rule="evenodd"/>
<path d="M281.0 253.3 274.8 253.3 271.8 252.3 267.3 249.2 264.9 244.7 264.1 236.9 265.0 225.4 266.5 224.2 267.8 221.2 269.2 220.0 271.5 219.9 274.8 221.3 277.2 221.1 278.5 219.9 279.0 218.4 280.2 218.3 284.4 225.7 285.9 233.7 285.8 243.2 283.2 251.4 281.0 253.3" fill="none" stroke="#111" stroke-width="0.9" stroke-linejoin="round"/>
<path d="M280.5 253.3 274.5 253.2 271.5 251.9 267.9 249.4 265.2 244.7 264.3 237.9 265.5 225.2 267.1 224.4 268.5 221.6 270.0 220.6 271.8 220.8 275.0 222.2 276.0 221.4 277.8 222.2 279.1 218.9 279.8 218.5 280.6 218.9 284.2 225.7 285.7 233.9 285.4 244.2 283.0 251.4 280.5 253.3 M268.3 228.4 268.0 227.7 268.3 228.4 M274.8 236.2 275.0 230.7 274.5 229.0 273.4 229.9 274.4 232.7 274.8 236.2 M268.8 238.2 269.6 236.9 267.5 235.7 267.2 237.7 267.8 238.3 268.8 238.2 M280.7 247.4 280.5 246.7 279.5 246.7 279.7 247.4 280.7 247.4 M273.1 248.7 273.0 247.7 271.9 247.9 272.2 248.7 273.1 248.7" fill="none" stroke="#222" stroke-width="0.7" stroke-linejoin="round"/>
<path d="M280.0 253.2 275.1 253.2 267.9 249.2 265.4 244.7 264.6 237.4 265.8 225.4 267.8 224.8 269.0 222.1 270.8 221.2 273.9 222.2 275.0 224.7 276.0 222.6 277.5 223.2 279.2 222.2 279.8 219.0 284.0 225.9 285.4 233.7 285.5 237.4 285.3 243.4 282.8 251.2 280.0 253.2 M275.2 250.2 274.6 239.9 275.4 237.2 277.3 236.2 278.1 233.9 277.2 232.6 276.0 232.2 275.0 226.3 274.0 227.3 273.0 227.4 271.0 227.1 268.0 225.8 267.2 227.4 267.0 238.7 268.0 239.9 271.0 239.4 272.3 239.9 272.0 241.9 269.9 244.2 269.7 245.2 271.8 249.0 274.5 250.4 275.2 250.2 M283.3 235.4 283.2 233.1 282.0 232.6 281.0 233.4 280.9 234.2 282.2 235.5 283.3 235.4 M281.0 249.2 281.9 247.7 281.9 245.9 278.8 245.4 278.0 246.4 278.1 247.9 279.0 248.8 281.0 249.2" fill="none" stroke="#444" stroke-width="0.6" stroke-linejoin="round"/>
<path d="M279.8 253.2 275.8 253.2 267.9 248.9 265.6 244.4 264.8 237.2 266.1 225.7 267.0 225.3 267.4 225.7 266.7 227.4 267.0 233.2 266.4 236.9 267.5 242.7 271.5 249.7 275.5 250.7 275.1 240.4 275.9 237.7 277.2 237.2 279.5 234.0 282.5 236.9 283.2 240.2 283.5 239.5 284.0 233.9 283.0 231.8 282.2 231.5 279.2 233.7 277.7 231.7 277.0 229.3 276.5 230.0 275.6 227.9 275.9 223.7 276.5 223.4 277.8 223.9 279.8 222.7 280.5 221.4 282.8 223.9 284.2 227.2 284.9 232.7 285.2 242.9 282.4 251.2 279.8 253.2 M273.0 226.0 268.9 224.7 268.7 223.7 269.5 222.3 271.2 221.7 273.2 222.5 273.9 224.9 273.0 226.0 M280.2 250.2 281.4 249.7 282.1 248.4 282.2 245.0 278.2 244.4 277.2 246.4 277.5 249.7 278.2 250.2 280.2 250.2" fill="none" stroke="#444" stroke-width="0.6" stroke-linejoin="round"/>
<path d="M272.2 224.5 270.0 224.0 269.8 222.9 270.8 222.3 272.0 222.6 272.6 223.7 272.2 224.5 M284.2 232.7 281.8 227.6 281.8 230.2 280.9 231.7 279.2 232.4 278.2 230.9 278.3 227.7 277.6 225.4 278.5 224.1 280.1 223.4 280.8 222.3 282.5 224.0 283.7 226.2 284.4 229.9 284.2 232.7 M276.5 227.6 275.8 225.9 276.5 224.2 277.5 225.7 276.5 227.6 M265.8 235.8 265.3 233.4 266.2 229.2 266.8 229.9 266.7 233.2 265.8 235.8 M276.5 248.0 275.6 243.4 275.8 239.7 276.2 238.6 277.2 239.1 278.6 235.9 280.0 235.3 281.8 237.4 282.4 242.9 280.8 243.9 277.2 243.2 276.5 248.0 M284.2 238.8 284.0 236.9 284.5 236.1 284.2 238.8 M270.0 249.6 268.0 248.7 266.0 244.9 265.5 237.1 266.8 239.7 267.2 242.9 270.5 248.4 270.0 249.6 M283.2 246.5 282.8 243.2 284.2 239.4 284.9 243.2 283.2 246.5 M279.0 253.2 277.5 252.5 276.8 253.1 275.8 252.9 275.0 251.4 276.5 250.3 277.8 251.9 281.9 250.2 281.5 251.7 279.0 253.2" fill="none" stroke="#333" stroke-width="0.6" stroke-linejoin="round"/>
<path d="M280.0 231.5 279.2 231.4 278.7 230.4 279.0 227.7 278.4 225.4 279.1 224.4 280.5 224.4 281.0 223.1 283.3 225.9 284.0 230.9 283.5 230.9 282.4 227.4 281.2 226.0 280.6 227.7 280.9 230.4 280.0 231.5 M266.0 233.5 266.0 232.8 266.0 233.5 M280.8 243.1 279.0 242.8 278.1 241.4 278.3 237.7 279.5 235.8 280.7 236.4 281.3 237.9 281.5 241.9 280.8 243.1 M266.2 240.7 266.2 240.0 266.2 240.7 M266.5 241.7 266.5 240.9 266.5 241.7 M276.2 243.2 276.5 240.8 276.2 243.2 M283.5 245.2 283.3 243.4 284.2 241.3 284.5 243.2 283.5 245.2 M269.5 249.0 268.1 248.4 266.8 245.9 266.4 244.4 266.8 243.2 269.9 248.2 269.5 249.0 M279.0 253.0 278.2 252.7 278.4 251.9 281.2 250.9 279.0 253.0 M276.5 253.0 275.5 251.9 276.5 251.1 277.2 252.2 276.5 253.0" fill="none" stroke="#222" stroke-width="0.6" stroke-linejoin="round"/>
<line x1="274.4" y1="209.7" x2="274.4" y2="253.4" stroke="#9a9a9a" stroke-width="1.1"/>
<line x1="250.0" y1="239.3" x2="298.3" y2="239.3" stroke="#9a9a9a" stroke-width="1.1"/>
<rect x="41.9" y="259.1" width="47.4" height="44.3" fill="none" stroke="#9c9c9c" stroke-width="1.1"/>
<path d="M70.4 303.4 64.1 303.4 61.1 301.9 58.5 303.4 47.2 303.4 43.6 302.8 42.5 301.9 42.3 300.6 43.5 295.6 41.9 292.6 42.2 287.6 43.5 284.6 43.9 279.6 47.0 277.1 47.1 274.1 48.4 272.4 52.4 270.3 53.6 270.2 55.6 273.9 56.4 274.0 57.6 272.8 59.1 272.5 60.3 275.9 61.0 276.6 61.9 276.6 62.7 273.9 60.9 271.4 62.3 269.4 63.9 268.9 65.7 269.5 69.6 273.1 71.3 279.6 71.0 284.1 71.5 288.1 71.1 294.6 70.4 297.6 70.8 301.1 70.4 303.4Z M55.0 281.4 55.7 280.6 55.1 279.4 53.4 278.6 52.3 279.1 52.0 280.1 52.7 281.1 55.0 281.4Z M46.6 285.4 47.4 283.9 46.1 283.8 45.1 284.6 45.6 285.5 46.6 285.4Z" fill="#e8e8e8" fill-opacity="1.0" fill-rule="evenodd"/>
<path d="M54.6 303.1 44.9 302.3 43.8 301.6 45.2 296.6 44.9 293.1 46.5 288.1 49.4 284.7 54.1 282.9 57.6 282.3 60.8 277.6 63.4 276.9 64.7 275.5 65.7 275.5 69.5 281.9 69.4 284.9 70.0 287.9 68.5 292.9 69.3 294.9 68.9 297.6 69.2 301.9 67.7 302.6 62.6 301.8 62.3 301.1 63.5 299.6 62.8 296.1 61.9 295.6 60.7 297.9 58.7 299.6 59.8 300.9 59.7 301.6 54.6 303.1Z M59.5 293.6 57.9 289.5 55.9 287.9 56.4 290.2 59.5 293.6Z M51.6 291.1 51.1 290.5 51.6 291.1Z" fill="#d8d8d8" fill-opacity="1.0" fill-rule="evenodd"/>
<g fill="#111" opacity="0.8"><rect x="48.2" y="301.9" width="0.8" height="0.8"/><rect x="57.7" y="280.6" width="0.9" height="0.9"/><rect x="58.2" y="276.4" width="0.9" height="0.9"/><rect x="46.0" y="279.1" width="0.7" height="0.7"/><rect x="69.4" y="297.8" width="1.0" height="1.0"/><rect x="46.7" y="279.1" width="0.9" height="0.9"/><rect x="67.2" y="297.8" width="1.1" height="1.1"/><rect x="56.3" y="283.4" width="1.0" height="1.0"/><rect x="58.2" y="280.7" width="0.7" height="0.7"/><rect x="59.2" y="296.2" width="0.6" height="0.6"/><rect x="53.0" y="297.7" width="1.0" height="1.0"/><rect x="60.6" y="296.3" width="0.7" height="0.7"/><rect x="49.8" y="299.7" width="0.8" height="0.8"/><rect x="63.2" y="299.1" width="1.0" height="1.0"/><rect x="68.4" y="276.7" width="1.0" height="1.0"/><rect x="43.0" y="280.8" width="0.9" height="0.9"/><rect x="53.6" y="302.0" width="1.0" height="1.0"/><rect x="66.1" y="301.9" width="0.6" height="0.6"/><rect x="48.0" y="272.8" width="0.9" height="0.9"/><rect x="61.9" y="299.1" width="0.7" height="0.7"/><rect x="66.8" y="269.8" width="0.7" height="0.7"/><rect x="63.9" y="301.6" width="1.1" height="1.1"/><rect x="53.8" y="302.1" width="1.0" height="1.0"/><rect x="46.1" y="280.5" width="0.8" height="0.8"/><rect x="71.1" y="276.3" width="0.7" height="0.7"/><rect x="43.7" y="287.6" width="0.7" height="0.7"/><rect x="54.8" y="273.0" width="0.7" height="0.7"/><rect x="56.3" y="294.5" width="0.7" height="0.7"/><rect x="52.6" y="283.7" width="0.9" height="0.9"/><rect x="58.3" y="273.3" width="0.6" height="0.6"/><rect x="53.5" y="299.6" width="0.9" height="0.9"/><rect x="54.5" y="301.1" width="1.0" height="1.0"/><rect x="54.8" y="279.4" width="0.7" height="0.7"/><rect x="64.9" y="269.7" width="1.0" height="1.0"/><rect x="71.7" y="289.2" width="1.0" height="1.0"/><rect x="63.5" y="272.3" width="0.8" height="0.8"/><rect x="51.5" y="301.8" width="0.8" height="0.8"/><rect x="57.8" y="293.0" width="0.9" height="0.9"/><rect x="69.3" y="301.4" width="0.9" height="0.9"/><rect x="69.9" y="296.3" width="0.9" height="0.9"/><rect x="61.7" y="273.6" width="0.9" height="0.9"/><rect x="72.3" y="301.0" width="1.0" height="1.0"/><rect x="61.5" y="269.0" width="0.6" height="0.6"/><rect x="64.8" y="298.0" width="0.7" height="0.7"/><rect x="65.8" y="269.3" width="0.9" height="0.9"/><rect x="65.6" y="299.7" width="0.8" height="0.8"/><rect x="66.0" y="274.1" width="1.0" height="1.0"/><rect x="56.0" y="281.9" width="0.8" height="0.8"/><rect x="42.8" y="294.7" width="0.7" height="0.7"/><rect x="53.3" y="276.6" width="0.9" height="0.9"/><rect x="55.8" y="282.2" width="0.8" height="0.8"/><rect x="50.7" y="275.6" width="0.8" height="0.8"/><rect x="61.8" y="275.7" width="1.1" height="1.1"/><rect x="51.9" y="278.0" width="0.9" height="0.9"/><rect x="65.0" y="300.9" width="0.7" height="0.7"/><rect x="55.6" y="276.9" width="0.9" height="0.9"/><rect x="44.8" y="301.2" width="0.8" height="0.8"/><rect x="56.4" y="300.6" width="1.0" height="1.0"/><rect x="51.5" y="273.6" width="1.0" height="1.0"/><rect x="64.2" y="300.0" width="0.7" height="0.7"/><rect x="67.1" y="298.5" width="0.7" height="0.7"/><rect x="60.3" y="299.4" width="0.9" height="0.9"/><rect x="69.4" y="282.5" width="0.7" height="0.7"/><rect x="55.5" y="298.3" width="0.8" height="0.8"/><rect x="48.3" y="299.4" width="0.9" height="0.9"/><rect x="50.4" y="273.1" width="1.0" height="1.0"/><rect x="56.4" y="300.3" width="0.8" height="0.8"/><rect x="45.4" y="297.8" width="0.8" height="0.8"/><rect x="57.0" y="281.9" width="1.0" height="1.0"/><rect x="59.2" y="274.9" width="0.9" height="0.9"/><rect x="70.4" y="286.3" width="0.7" height="0.7"/><rect x="61.6" y="299.1" width="0.7" height="0.7"/><rect x="55.3" y="270.6" width="1.1" height="1.1"/><rect x="64.8" y="301.3" width="0.7" height="0.7"/><rect x="56.7" y="285.5" width="0.6" height="0.6"/><rect x="57.5" y="274.1" width="1.1" height="1.1"/><rect x="47.1" y="286.4" width="0.8" height="0.8"/><rect x="59.0" y="272.1" width="1.0" height="1.0"/><rect x="69.6" y="278.4" width="0.9" height="0.9"/><rect x="57.3" y="281.1" width="1.1" height="1.1"/><rect x="65.2" y="273.0" width="0.8" height="0.8"/><rect x="66.9" y="299.9" width="0.9" height="0.9"/><rect x="43.4" y="291.8" width="0.9" height="0.9"/><rect x="44.1" y="302.0" width="0.8" height="0.8"/><rect x="49.5" y="274.6" width="1.0" height="1.0"/><rect x="53.7" y="301.4" width="0.7" height="0.7"/><rect x="70.8" y="284.6" width="0.8" height="0.8"/><rect x="70.1" y="280.6" width="0.7" height="0.7"/><rect x="56.0" y="297.4" width="0.8" height="0.8"/><rect x="66.9" y="273.6" width="0.7" height="0.7"/><rect x="43.8" y="286.1" width="0.8" height="0.8"/><rect x="69.4" y="276.9" width="1.0" height="1.0"/><rect x="44.9" y="276.3" width="0.8" height="0.8"/><rect x="43.5" y="288.0" width="1.0" height="1.0"/><rect x="60.7" y="297.5" width="1.0" height="1.0"/><rect x="52.5" y="284.8" width="0.9" height="0.9"/><rect x="63.2" y="273.5" width="1.0" height="1.0"/><rect x="43.1" y="302.1" width="0.7" height="0.7"/><rect x="71.7" y="283.6" width="0.9" height="0.9"/><rect x="58.2" y="301.8" width="0.7" height="0.7"/><rect x="44.6" y="281.4" width="0.9" height="0.9"/><rect x="71.3" y="295.5" width="1.1" height="1.1"/><rect x="50.7" y="300.3" width="0.8" height="0.8"/><rect x="45.7" y="293.2" width="0.6" height="0.6"/><rect x="49.2" y="279.9" width="0.7" height="0.7"/><rect x="57.4" y="279.3" width="0.9" height="0.9"/><rect x="57.0" y="275.3" width="1.0" height="1.0"/><rect x="71.1" y="280.7" width="1.1" height="1.1"/><rect x="63.6" y="271.4" width="0.8" height="0.8"/><rect x="64.0" y="301.7" width="0.7" height="0.7"/><rect x="58.0" y="269.4" width="0.8" height="0.8"/><rect x="61.2" y="277.2" width="1.1" height="1.1"/><rect x="53.0" y="275.9" width="0.7" height="0.7"/><rect x="45.5" y="288.0" width="0.7" height="0.7"/><rect x="62.1" y="299.9" width="0.9" height="0.9"/><rect x="56.4" y="295.8" width="0.9" height="0.9"/><rect x="68.1" y="299.1" width="0.9" height="0.9"/><rect x="58.6" y="279.8" width="1.0" height="1.0"/><rect x="62.5" y="299.5" width="0.9" height="0.9"/><rect x="54.9" y="276.9" width="0.8" height="0.8"/><rect x="46.5" y="300.1" width="0.7" height="0.7"/><rect x="55.3" y="299.0" width="1.1" height="1.1"/><rect x="64.6" y="274.8" width="0.7" height="0.7"/><rect x="51.9" y="278.3" width="0.7" height="0.7"/><rect x="44.6" y="290.3" width="0.9" height="0.9"/><rect x="56.2" y="300.5" width="1.0" height="1.0"/><rect x="54.2" y="276.6" width="0.8" height="0.8"/><rect x="60.3" y="268.3" width="1.1" height="1.1"/><rect x="56.3" y="299.0" width="1.1" height="1.1"/><rect x="70.3" y="279.6" width="0.7" height="0.7"/><rect x="70.0" y="295.1" width="0.9" height="0.9"/><rect x="56.5" y="276.0" width="0.7" height="0.7"/><rect x="43.2" y="291.0" width="1.1" height="1.1"/><rect x="48.7" y="285.6" width="0.7" height="0.7"/><rect x="46.9" y="280.5" width="1.1" height="1.1"/><rect x="71.2" y="280.2" width="0.8" height="0.8"/><rect x="51.6" y="281.2" width="0.9" height="0.9"/><rect x="52.3" y="300.7" width="0.8" height="0.8"/><rect x="53.6" y="278.9" width="0.6" height="0.6"/><rect x="69.9" y="298.2" width="1.1" height="1.1"/><rect x="55.5" y="300.8" width="0.7" height="0.7"/><rect x="64.6" y="296.3" width="0.8" height="0.8"/><rect x="69.8" y="292.4" width="0.8" height="0.8"/><rect x="64.9" y="301.3" width="1.1" height="1.1"/><rect x="45.1" y="300.4" width="0.9" height="0.9"/><rect x="47.6" y="299.1" width="0.7" height="0.7"/><rect x="54.9" y="299.4" width="1.1" height="1.1"/><rect x="47.6" y="278.5" width="0.8" height="0.8"/><rect x="44.1" y="299.1" width="0.6" height="0.6"/><rect x="58.9" y="280.0" width="0.8" height="0.8"/><rect x="58.5" y="277.9" width="0.9" height="0.9"/><rect x="48.1" y="278.9" width="0.6" height="0.6"/><rect x="63.1" y="301.0" width="1.1" height="1.1"/><rect x="55.8" y="280.8" width="0.8" height="0.8"/><rect x="69.5" y="300.7" width="1.1" height="1.1"/><rect x="46.8" y="300.4" width="0.8" height="0.8"/><rect x="43.6" y="298.1" width="0.8" height="0.8"/><rect x="66.0" y="275.1" width="0.9" height="0.9"/><rect x="51.1" y="275.5" width="0.8" height="0.8"/><rect x="47.7" y="301.8" width="0.7" height="0.7"/><rect x="52.2" y="299.3" width="1.1" height="1.1"/><rect x="50.2" y="272.2" width="1.0" height="1.0"/><rect x="48.1" y="275.2" width="0.7" height="0.7"/><rect x="55.2" y="278.5" width="1.0" height="1.0"/><rect x="57.9" y="281.5" width="1.1" height="1.1"/><rect x="57.2" y="301.9" width="0.8" height="0.8"/><rect x="57.5" y="283.0" width="0.7" height="0.7"/><rect x="65.5" y="296.6" width="1.1" height="1.1"/><rect x="60.1" y="296.3" width="0.7" height="0.7"/><rect x="62.6" y="301.9" width="0.8" height="0.8"/></g>
<path d="M65.7 294.4 61.9 293.6 59.8 290.4 58.9 286.9 59.4 283.6 60.1 282.1 60.9 283.2 62.3 289.9 63.4 291.4 64.2 291.1 65.2 289.1 65.5 283.4 63.9 281.0 61.9 281.9 61.2 280.9 63.5 278.4 64.9 277.9 65.9 278.2 67.7 281.6 68.4 287.1 67.4 291.9 65.7 294.4Z M53.1 296.4 49.1 296.4 47.4 294.2 47.1 291.4 48.2 289.9 48.0 288.1 49.1 286.8 52.4 286.9 53.7 287.6 53.4 288.3 50.9 288.6 49.5 289.6 48.3 293.9 48.6 294.8 49.6 295.0 54.6 292.1 54.7 294.9 53.1 296.4Z" fill="#222" fill-opacity="1.0" fill-rule="evenodd"/>
<path d="M65.9 295.1 61.1 294.6 59.0 290.6 58.2 286.4 58.9 281.6 59.5 279.9 61.6 277.6 66.2 277.4 68.5 281.6 69.1 287.1 68.8 289.4 67.7 292.9 65.9 295.1 M52.6 297.1 48.6 297.0 46.8 294.9 46.2 292.9 46.5 290.4 47.2 287.9 48.9 286.2 53.1 286.2 55.2 288.4 56.0 291.9 55.5 294.6 54.6 296.0 52.6 297.1 M51.4 293.4 52.4 291.4 51.1 289.6 50.1 290.4 49.8 291.6 50.1 293.0 51.4 293.4 M54.6 301.9 49.9 301.6 49.1 301.1 54.1 300.8 55.9 301.4 54.6 301.9" fill="none" stroke="#111" stroke-width="0.9" stroke-linejoin="round"/>
<path d="M65.4 294.9 61.1 294.2 59.5 291.6 58.5 286.9 59.9 279.9 61.4 278.1 64.9 277.4 66.3 277.9 68.2 281.4 68.9 287.1 67.7 292.4 66.6 294.4 65.4 294.9 M62.4 285.9 63.6 284.4 64.9 284.1 63.6 281.8 62.1 283.6 62.4 285.9 M52.6 296.9 48.9 296.8 47.0 294.6 46.5 292.6 46.7 290.4 47.4 288.1 48.9 286.4 53.1 286.5 54.9 288.4 55.7 291.9 55.2 294.6 54.5 295.9 52.6 296.9 M51.4 293.6 52.5 292.4 52.7 291.1 51.1 289.3 49.9 290.3 49.5 291.6 49.9 293.2 51.4 293.6" fill="none" stroke="#222" stroke-width="0.7" stroke-linejoin="round"/>
<path d="M65.9 294.6 61.4 294.1 59.8 291.6 58.6 287.1 60.0 280.1 61.6 278.4 64.7 277.6 66.2 278.0 68.0 281.4 68.7 286.9 67.8 291.9 65.9 294.6 M62.7 287.4 63.6 285.8 64.9 286.6 65.3 285.6 65.2 283.5 63.6 281.3 62.3 282.6 61.8 283.9 61.9 286.3 62.7 287.4 M53.1 296.6 49.1 296.7 47.2 294.9 46.7 292.9 46.8 290.9 47.6 288.1 48.9 286.6 53.1 286.7 54.6 288.4 55.5 292.6 54.8 295.4 53.1 296.6 M63.8 290.9 64.7 288.6 63.4 288.9 62.6 288.1 62.7 289.6 63.8 290.9 M51.4 293.9 52.7 292.4 53.0 291.1 52.5 289.9 51.1 289.1 49.8 290.1 49.4 291.6 49.6 293.7 51.4 293.9" fill="none" stroke="#444" stroke-width="0.6" stroke-linejoin="round"/>
<path d="M65.9 294.5 61.6 293.9 59.6 290.5 58.8 287.1 60.1 280.3 61.1 279.3 64.9 277.8 66.0 278.1 67.9 281.6 68.5 287.1 67.6 291.9 65.9 294.5 M64.0 291.1 65.1 289.1 65.5 285.1 65.2 283.1 63.6 281.1 61.8 282.9 61.5 285.4 62.4 289.6 63.4 291.2 64.0 291.1 M52.4 296.6 48.9 296.4 47.1 294.0 46.9 292.1 47.7 288.4 49.1 286.7 52.9 286.8 54.2 288.1 55.2 291.4 55.0 294.4 54.4 295.6 52.4 296.6 M49.9 294.6 51.4 294.0 53.0 292.4 53.6 290.9 53.3 289.4 51.1 288.8 49.5 290.1 48.8 294.1 49.9 294.6" fill="none" stroke="#444" stroke-width="0.6" stroke-linejoin="round"/>
<path d="M65.7 294.4 62.1 293.6 59.9 290.3 58.9 286.9 59.4 283.6 60.1 282.5 61.1 284.5 62.3 289.9 63.4 291.4 64.2 291.2 65.3 289.1 65.6 283.6 63.9 280.9 61.9 281.8 61.5 280.9 63.6 278.4 64.9 278.0 65.9 278.3 67.7 281.6 68.4 287.1 67.3 292.1 65.7 294.4 M52.9 296.4 49.1 296.3 47.4 294.1 47.1 291.6 48.4 289.9 48.1 288.1 49.1 286.8 52.4 286.9 53.6 287.6 53.4 288.2 50.9 288.6 49.4 289.6 48.2 293.9 48.6 294.9 49.6 295.1 53.1 292.7 54.6 292.4 54.6 295.0 52.9 296.4" fill="none" stroke="#333" stroke-width="0.6" stroke-linejoin="round"/>
<line x1="65.6" y1="259.1" x2="65.6" y2="303.4" stroke="#9a9a9a" stroke-width="1.1"/>
<line x1="41.9" y1="288.0" x2="89.3" y2="288.0" stroke="#9a9a9a" stroke-width="1.1"/>
<rect x="94.3" y="259.1" width="46.9" height="44.3" fill="none" stroke="#9c9c9c" stroke-width="1.1"/>
<path d="M122.6 303.4 99.8 303.4 96.8 301.9 95.7 299.9 95.7 297.9 96.3 296.7 98.4 295.4 96.6 291.1 97.8 288.4 96.9 286.4 97.6 286.0 98.3 287.5 100.8 285.6 100.1 284.1 97.3 283.1 96.6 281.6 96.9 279.6 99.2 275.1 104.6 272.3 106.1 275.1 107.6 275.6 109.4 274.6 110.2 272.4 111.8 272.1 113.1 272.6 112.7 275.4 114.6 276.3 115.6 275.7 117.8 272.7 119.3 272.6 120.8 273.4 123.9 280.1 123.4 283.4 123.5 301.1 122.6 303.4Z" fill="#e8e8e8" fill-opacity="1.0" fill-rule="evenodd"/>
<path d="M104.8 303.4 102.3 301.8 98.6 301.2 97.5 300.1 97.4 298.9 98.1 297.8 100.8 297.8 101.6 297.4 99.1 295.4 98.5 294.1 98.0 290.9 98.7 288.4 101.1 286.2 103.8 285.3 106.4 286.9 108.1 287.2 108.5 286.4 107.0 284.6 106.8 283.1 111.1 278.7 113.6 278.4 115.6 277.2 120.1 277.1 122.6 279.4 123.0 280.6 123.0 292.4 120.2 297.4 121.4 299.6 121.3 301.9 119.6 303.0 115.8 301.8 107.2 302.6 104.8 303.4Z" fill="#d8d8d8" fill-opacity="1.0" fill-rule="evenodd"/>
<g fill="#111" opacity="0.8"><rect x="120.6" y="295.6" width="1.0" height="1.0"/><rect x="110.9" y="275.2" width="0.7" height="0.7"/><rect x="98.5" y="284.5" width="1.0" height="1.0"/><rect x="100.7" y="300.0" width="0.7" height="0.7"/><rect x="113.7" y="277.1" width="0.8" height="0.8"/><rect x="109.1" y="278.3" width="0.7" height="0.7"/><rect x="114.2" y="276.7" width="0.9" height="0.9"/><rect x="117.9" y="297.8" width="0.8" height="0.8"/><rect x="98.1" y="282.8" width="1.0" height="1.0"/><rect x="111.0" y="294.0" width="0.8" height="0.8"/><rect x="102.6" y="280.0" width="0.7" height="0.7"/><rect x="109.0" y="296.0" width="0.7" height="0.7"/><rect x="100.2" y="280.1" width="0.7" height="0.7"/><rect x="99.9" y="300.0" width="0.9" height="0.9"/><rect x="116.6" y="276.2" width="0.7" height="0.7"/><rect x="124.4" y="296.5" width="0.8" height="0.8"/><rect x="108.1" y="286.0" width="0.7" height="0.7"/><rect x="120.6" y="301.4" width="1.0" height="1.0"/><rect x="123.8" y="289.3" width="1.0" height="1.0"/><rect x="125.0" y="300.6" width="0.7" height="0.7"/><rect x="116.1" y="298.1" width="1.0" height="1.0"/><rect x="97.2" y="296.2" width="0.7" height="0.7"/><rect x="123.4" y="287.7" width="0.8" height="0.8"/><rect x="123.0" y="295.8" width="1.1" height="1.1"/><rect x="98.6" y="299.6" width="0.8" height="0.8"/><rect x="114.6" y="301.0" width="1.0" height="1.0"/><rect x="122.8" y="298.9" width="1.0" height="1.0"/><rect x="105.6" y="277.3" width="1.0" height="1.0"/><rect x="99.1" y="281.4" width="0.7" height="0.7"/><rect x="107.3" y="273.9" width="0.6" height="0.6"/><rect x="99.3" y="300.2" width="0.9" height="0.9"/><rect x="109.0" y="289.8" width="0.6" height="0.6"/><rect x="121.7" y="276.5" width="0.7" height="0.7"/><rect x="114.9" y="271.0" width="0.7" height="0.7"/><rect x="101.7" y="281.7" width="1.0" height="1.0"/><rect x="122.8" y="274.7" width="1.1" height="1.1"/><rect x="123.2" y="298.2" width="0.9" height="0.9"/><rect x="108.4" y="299.6" width="0.8" height="0.8"/><rect x="113.4" y="295.4" width="0.7" height="0.7"/><rect x="120.9" y="299.6" width="0.8" height="0.8"/><rect x="118.5" y="299.0" width="0.9" height="0.9"/><rect x="119.4" y="275.1" width="1.1" height="1.1"/><rect x="96.1" y="297.8" width="1.0" height="1.0"/><rect x="121.8" y="299.2" width="1.1" height="1.1"/><rect x="121.3" y="296.8" width="0.8" height="0.8"/><rect x="106.8" y="298.3" width="1.1" height="1.1"/><rect x="122.3" y="299.5" width="0.7" height="0.7"/><rect x="109.4" y="280.3" width="0.9" height="0.9"/><rect x="120.2" y="296.6" width="0.7" height="0.7"/><rect x="109.9" y="276.2" width="0.9" height="0.9"/><rect x="116.8" y="274.1" width="0.8" height="0.8"/><rect x="123.2" y="278.4" width="0.9" height="0.9"/><rect x="111.4" y="294.2" width="0.9" height="0.9"/><rect x="105.2" y="281.4" width="0.9" height="0.9"/><rect x="117.3" y="272.6" width="1.0" height="1.0"/><rect x="107.6" y="283.8" width="0.8" height="0.8"/><rect x="110.9" y="276.8" width="1.0" height="1.0"/><rect x="106.1" y="278.5" width="1.1" height="1.1"/><rect x="124.3" y="286.5" width="0.8" height="0.8"/><rect x="109.5" y="288.5" width="0.8" height="0.8"/><rect x="100.6" y="279.5" width="0.7" height="0.7"/><rect x="110.9" y="271.7" width="1.0" height="1.0"/><rect x="109.1" y="287.9" width="0.9" height="0.9"/><rect x="107.3" y="297.6" width="1.0" height="1.0"/><rect x="102.5" y="272.8" width="0.7" height="0.7"/><rect x="101.7" y="300.2" width="0.6" height="0.6"/><rect x="110.8" y="286.3" width="1.0" height="1.0"/><rect x="100.6" y="282.0" width="0.9" height="0.9"/><rect x="108.4" y="284.5" width="0.8" height="0.8"/><rect x="119.3" y="298.0" width="1.1" height="1.1"/><rect x="106.6" y="277.7" width="0.6" height="0.6"/><rect x="112.3" y="300.5" width="0.9" height="0.9"/><rect x="119.3" y="274.4" width="1.1" height="1.1"/><rect x="118.2" y="299.2" width="1.1" height="1.1"/><rect x="116.6" y="274.6" width="0.8" height="0.8"/><rect x="110.1" y="276.4" width="0.8" height="0.8"/><rect x="121.4" y="296.8" width="1.0" height="1.0"/><rect x="97.3" y="296.3" width="0.7" height="0.7"/><rect x="102.1" y="275.2" width="0.9" height="0.9"/><rect x="125.0" y="286.3" width="1.0" height="1.0"/><rect x="117.6" y="298.6" width="1.1" height="1.1"/><rect x="108.7" y="280.9" width="0.8" height="0.8"/><rect x="115.0" y="299.9" width="0.9" height="0.9"/><rect x="110.6" y="282.8" width="1.0" height="1.0"/><rect x="101.6" y="283.0" width="1.0" height="1.0"/><rect x="124.2" y="282.5" width="1.1" height="1.1"/><rect x="106.0" y="279.6" width="0.7" height="0.7"/><rect x="96.7" y="290.9" width="1.0" height="1.0"/><rect x="100.5" y="300.0" width="0.7" height="0.7"/><rect x="125.0" y="289.0" width="1.0" height="1.0"/><rect x="106.4" y="284.9" width="0.7" height="0.7"/><rect x="122.5" y="301.5" width="1.1" height="1.1"/><rect x="110.8" y="275.5" width="0.9" height="0.9"/><rect x="103.2" y="275.6" width="0.6" height="0.6"/><rect x="106.1" y="280.4" width="0.7" height="0.7"/><rect x="107.9" y="283.2" width="1.1" height="1.1"/><rect x="104.7" y="276.7" width="0.7" height="0.7"/><rect x="115.6" y="272.2" width="0.9" height="0.9"/><rect x="99.3" y="285.8" width="0.9" height="0.9"/><rect x="112.8" y="273.0" width="1.0" height="1.0"/><rect x="111.0" y="281.3" width="0.8" height="0.8"/><rect x="102.6" y="299.0" width="0.9" height="0.9"/><rect x="121.8" y="298.4" width="1.0" height="1.0"/><rect x="103.1" y="275.6" width="1.1" height="1.1"/><rect x="123.8" y="288.5" width="1.0" height="1.0"/><rect x="107.3" y="272.9" width="0.8" height="0.8"/><rect x="121.5" y="275.2" width="0.8" height="0.8"/><rect x="97.1" y="293.2" width="0.8" height="0.8"/><rect x="108.4" y="284.6" width="0.8" height="0.8"/><rect x="109.1" y="301.0" width="1.1" height="1.1"/><rect x="103.2" y="282.5" width="1.0" height="1.0"/><rect x="106.1" y="298.4" width="0.9" height="0.9"/><rect x="103.9" y="298.8" width="0.7" height="0.7"/><rect x="114.5" y="276.6" width="1.1" height="1.1"/><rect x="98.7" y="296.8" width="0.8" height="0.8"/><rect x="103.6" y="272.1" width="0.9" height="0.9"/><rect x="96.7" y="300.2" width="0.8" height="0.8"/><rect x="113.9" y="273.2" width="0.8" height="0.8"/><rect x="106.1" y="271.3" width="0.7" height="0.7"/><rect x="97.4" y="287.8" width="0.8" height="0.8"/><rect x="98.8" y="281.8" width="0.8" height="0.8"/><rect x="99.3" y="285.6" width="1.1" height="1.1"/><rect x="112.3" y="300.6" width="1.0" height="1.0"/><rect x="122.1" y="295.3" width="1.0" height="1.0"/><rect x="111.1" y="278.3" width="1.1" height="1.1"/><rect x="118.1" y="284.3" width="0.7" height="0.7"/><rect x="100.2" y="276.5" width="1.0" height="1.0"/><rect x="100.3" y="284.3" width="0.8" height="0.8"/><rect x="114.5" y="298.5" width="1.1" height="1.1"/><rect x="111.7" y="299.7" width="0.7" height="0.7"/><rect x="120.6" y="300.4" width="0.9" height="0.9"/><rect x="97.5" y="299.3" width="0.7" height="0.7"/><rect x="101.3" y="273.9" width="1.1" height="1.1"/><rect x="106.1" y="300.5" width="1.1" height="1.1"/><rect x="99.8" y="282.3" width="1.0" height="1.0"/><rect x="104.8" y="279.0" width="1.1" height="1.1"/><rect x="108.6" y="282.2" width="1.1" height="1.1"/><rect x="119.0" y="274.1" width="1.1" height="1.1"/><rect x="102.9" y="298.8" width="0.8" height="0.8"/><rect x="98.4" y="294.2" width="0.8" height="0.8"/><rect x="111.3" y="298.7" width="0.7" height="0.7"/><rect x="99.2" y="284.0" width="0.8" height="0.8"/><rect x="119.8" y="301.6" width="0.7" height="0.7"/><rect x="114.4" y="300.4" width="1.0" height="1.0"/><rect x="97.0" y="301.1" width="1.1" height="1.1"/><rect x="98.4" y="289.1" width="1.1" height="1.1"/><rect x="94.6" y="288.2" width="1.1" height="1.1"/><rect x="123.6" y="289.0" width="0.8" height="0.8"/><rect x="108.1" y="284.2" width="0.7" height="0.7"/><rect x="103.4" y="297.9" width="0.7" height="0.7"/><rect x="110.1" y="282.9" width="1.0" height="1.0"/><rect x="103.1" y="297.6" width="0.6" height="0.6"/><rect x="111.7" y="274.7" width="0.9" height="0.9"/><rect x="118.1" y="285.0" width="0.8" height="0.8"/><rect x="123.0" y="299.0" width="0.9" height="0.9"/><rect x="100.4" y="275.6" width="0.8" height="0.8"/><rect x="110.2" y="295.3" width="0.8" height="0.8"/><rect x="117.6" y="298.6" width="0.7" height="0.7"/><rect x="109.3" y="287.8" width="0.8" height="0.8"/><rect x="107.8" y="285.8" width="0.8" height="0.8"/><rect x="116.1" y="274.9" width="0.6" height="0.6"/><rect x="120.6" y="276.7" width="0.8" height="0.8"/><rect x="123.8" y="279.0" width="1.0" height="1.0"/><rect x="101.5" y="282.1" width="1.0" height="1.0"/><rect x="125.0" y="283.8" width="0.9" height="0.9"/><rect x="107.1" y="282.1" width="0.9" height="0.9"/><rect x="99.6" y="277.1" width="0.7" height="0.7"/><rect x="99.7" y="273.6" width="0.8" height="0.8"/><rect x="120.7" y="301.8" width="1.0" height="1.0"/><rect x="101.8" y="280.9" width="0.9" height="0.9"/></g>
<path d="M115.8 294.1 114.8 293.7 113.0 290.9 112.8 283.1 113.5 280.6 114.8 279.3 119.3 278.4 121.7 280.9 121.9 285.9 121.3 286.3 120.3 286.0 120.2 282.6 117.8 280.3 117.1 280.2 115.6 283.4 115.5 288.6 117.3 291.7 119.8 289.0 121.4 289.9 121.7 291.4 119.8 293.9 115.8 294.1Z M105.3 296.1 102.8 295.9 102.0 294.9 102.1 294.3 103.6 293.8 104.9 292.4 104.9 291.1 103.9 289.1 104.3 288.7 106.3 288.9 107.1 290.9 107.0 294.6 105.3 296.1Z" fill="#222" fill-opacity="1.0" fill-rule="evenodd"/>
<path d="M119.8 294.7 114.8 294.7 112.2 290.9 111.9 284.6 112.5 281.4 113.5 279.4 115.3 277.7 119.8 277.6 122.5 280.6 122.9 285.4 122.5 291.9 119.8 294.7 M117.7 290.4 118.8 288.5 119.2 285.6 118.8 283.2 117.3 281.5 116.3 283.4 116.0 286.6 116.3 288.9 117.7 290.4 M105.3 296.9 101.1 296.4 99.0 294.4 98.6 289.9 99.3 288.1 101.3 286.6 104.8 286.4 107.4 288.6 108.0 292.4 107.7 294.9 105.3 296.9 M103.4 293.1 104.3 291.6 103.1 289.9 101.7 291.6 102.3 292.9 103.4 293.1" fill="none" stroke="#111" stroke-width="0.9" stroke-linejoin="round"/>
<path d="M119.8 294.4 115.1 294.5 112.6 291.1 112.1 284.9 112.7 281.4 115.3 277.9 119.6 277.8 122.2 280.6 122.7 285.1 122.3 291.4 119.8 294.4 M117.6 290.9 119.1 288.7 119.5 285.6 119.1 283.1 117.3 281.1 116.1 283.1 115.7 286.6 116.1 289.1 117.6 290.9 M105.1 296.6 101.3 296.1 99.2 294.1 98.8 289.9 99.6 288.4 101.6 286.9 104.8 286.8 107.2 288.9 107.8 292.6 107.3 294.9 105.1 296.6 M103.4 293.4 104.3 292.4 104.5 291.4 103.8 290.1 102.8 289.6 101.6 290.8 101.4 291.9 102.4 293.4 103.4 293.4" fill="none" stroke="#222" stroke-width="0.7" stroke-linejoin="round"/>
<path d="M117.3 294.4 114.8 294.2 113.0 291.6 112.3 284.6 113.1 280.9 114.8 278.5 119.3 277.9 122.1 280.9 122.5 285.9 121.5 288.4 122.1 291.1 120.1 294.1 117.3 294.4 M117.6 291.1 119.3 288.9 119.7 286.6 119.3 283.1 117.3 280.9 115.8 283.3 115.5 286.6 116.1 289.4 117.6 291.1 M105.3 296.4 101.5 295.9 99.3 293.7 99.1 290.0 101.9 287.1 104.6 287.0 107.0 288.9 107.5 293.4 107.0 295.1 105.3 296.4 M103.4 293.6 104.4 292.6 104.7 291.4 103.8 289.9 102.8 289.4 101.5 290.6 101.2 291.9 102.1 293.4 103.4 293.6" fill="none" stroke="#444" stroke-width="0.6" stroke-linejoin="round"/>
<path d="M119.6 294.1 115.1 294.1 112.9 290.9 112.7 283.1 113.4 280.6 115.6 278.4 119.6 278.2 121.9 280.9 122.2 286.1 121.8 286.8 120.3 287.4 119.7 283.1 117.8 280.7 116.8 280.9 115.7 283.4 115.6 288.6 117.1 291.3 117.8 291.2 120.1 287.4 121.7 289.9 121.7 291.9 119.6 294.1 M105.6 296.1 102.1 295.9 100.1 293.9 99.3 292.4 99.5 290.4 101.3 289.3 103.1 287.4 106.3 288.4 107.1 290.1 107.1 294.6 105.6 296.1 M103.3 293.9 104.5 292.9 104.9 291.6 104.1 289.8 102.8 289.0 101.2 290.4 100.8 291.9 101.5 293.4 103.3 293.9" fill="none" stroke="#444" stroke-width="0.6" stroke-linejoin="round"/>
<path d="M119.6 293.9 115.0 293.9 113.1 291.1 112.6 287.9 112.6 284.6 113.6 280.5 115.1 279.3 119.1 278.5 121.7 280.9 121.8 285.9 120.3 285.8 120.3 282.4 117.1 279.9 115.6 283.1 115.2 286.9 115.6 289.1 117.1 291.7 117.8 291.5 119.8 289.1 121.5 290.1 121.5 291.9 119.6 293.9 M105.1 296.2 102.7 295.9 102.1 294.6 104.1 293.5 104.9 292.4 104.1 289.0 105.8 288.8 106.8 290.1 107.2 293.1 106.8 294.9 105.1 296.2" fill="none" stroke="#333" stroke-width="0.6" stroke-linejoin="round"/>
<line x1="118.6" y1="259.1" x2="118.6" y2="303.4" stroke="#9a9a9a" stroke-width="1.1"/>
<line x1="94.3" y1="287.9" x2="141.2" y2="287.9" stroke="#9a9a9a" stroke-width="1.1"/>
<rect x="146.9" y="259.1" width="47.0" height="44.3" fill="none" stroke="#9c9c9c" stroke-width="1.1"/>
<path d="M173.1 303.4 167.2 303.4 166.1 301.7 165.3 302.1 164.9 303.4 160.5 303.4 158.3 302.5 156.6 300.1 155.1 299.3 153.8 299.6 152.8 301.2 151.8 301.8 149.6 301.4 148.4 300.4 147.3 296.1 147.8 291.1 146.8 288.5 146.8 285.8 149.1 283.6 151.8 279.6 154.8 278.7 160.3 274.1 162.6 273.9 167.8 275.6 172.3 275.5 173.7 276.9 173.6 279.6 176.3 281.9 176.7 292.4 176.1 295.6 176.5 298.6 175.6 300.6 173.1 303.4Z M170.0 289.1 170.8 287.6 169.8 286.8 168.7 287.4 168.5 288.1 169.1 288.9 170.0 289.1Z" fill="#e8e8e8" fill-opacity="1.0" fill-rule="evenodd"/>
<path d="M159.6 300.4 158.6 300.3 156.3 298.4 153.8 297.4 152.3 297.5 150.6 298.6 149.4 296.9 150.1 293.4 149.9 290.4 151.6 289.1 150.5 287.1 150.5 285.9 151.3 284.7 153.1 283.8 154.0 281.4 161.6 279.2 170.8 279.4 174.8 281.7 175.5 282.9 176.1 287.1 175.5 293.4 174.8 294.3 171.9 294.6 170.8 295.4 173.6 297.9 163.6 300.1 161.1 299.5 159.6 300.4Z M170.4 290.4 171.1 289.9 171.6 288.1 171.1 285.7 169.8 285.6 166.8 287.0 166.5 288.1 167.2 289.4 168.8 290.2 170.4 290.4Z M159.2 291.6 158.0 291.1 158.3 291.7 159.2 291.6Z M161.5 296.6 161.8 296.1 161.3 296.0 159.6 296.1 161.5 296.6Z" fill="#d8d8d8" fill-opacity="1.0" fill-rule="evenodd"/>
<g fill="#111" opacity="0.8"><rect x="157.6" y="296.1" width="0.8" height="0.8"/><rect x="158.2" y="298.3" width="1.1" height="1.1"/><rect x="177.4" y="284.4" width="0.7" height="0.7"/><rect x="158.7" y="291.6" width="0.7" height="0.7"/><rect x="158.9" y="295.9" width="0.8" height="0.8"/><rect x="157.0" y="298.1" width="0.8" height="0.8"/><rect x="156.2" y="279.3" width="1.0" height="1.0"/><rect x="156.4" y="277.9" width="1.0" height="1.0"/><rect x="169.4" y="297.7" width="0.9" height="0.9"/><rect x="165.1" y="300.9" width="1.1" height="1.1"/><rect x="167.0" y="286.5" width="1.0" height="1.0"/><rect x="161.6" y="275.9" width="0.8" height="0.8"/><rect x="161.9" y="285.0" width="0.8" height="0.8"/><rect x="175.7" y="294.6" width="0.8" height="0.8"/><rect x="176.5" y="295.5" width="0.9" height="0.9"/><rect x="153.5" y="279.3" width="0.8" height="0.8"/><rect x="147.7" y="292.4" width="1.1" height="1.1"/><rect x="167.3" y="284.3" width="1.0" height="1.0"/><rect x="149.0" y="302.0" width="1.0" height="1.0"/><rect x="157.3" y="295.6" width="0.8" height="0.8"/><rect x="161.8" y="284.6" width="0.9" height="0.9"/><rect x="161.8" y="296.1" width="1.1" height="1.1"/><rect x="153.2" y="298.2" width="0.8" height="0.8"/><rect x="151.2" y="280.8" width="1.0" height="1.0"/><rect x="157.1" y="278.9" width="1.1" height="1.1"/><rect x="148.1" y="301.5" width="0.9" height="0.9"/><rect x="178.0" y="286.3" width="1.1" height="1.1"/><rect x="167.8" y="298.5" width="0.9" height="0.9"/><rect x="172.3" y="279.1" width="1.0" height="1.0"/><rect x="161.7" y="297.4" width="0.7" height="0.7"/><rect x="155.8" y="278.1" width="0.7" height="0.7"/><rect x="173.1" y="297.3" width="0.9" height="0.9"/><rect x="177.7" y="286.5" width="0.7" height="0.7"/><rect x="178.0" y="285.4" width="0.8" height="0.8"/><rect x="171.7" y="300.3" width="1.1" height="1.1"/><rect x="174.8" y="301.4" width="1.0" height="1.0"/><rect x="149.8" y="300.6" width="1.0" height="1.0"/><rect x="148.6" y="295.8" width="1.0" height="1.0"/><rect x="176.6" y="282.3" width="1.1" height="1.1"/><rect x="149.9" y="290.8" width="1.0" height="1.0"/><rect x="151.4" y="288.6" width="1.0" height="1.0"/><rect x="148.9" y="286.2" width="1.1" height="1.1"/><rect x="176.2" y="292.1" width="1.0" height="1.0"/><rect x="152.0" y="287.8" width="1.0" height="1.0"/><rect x="153.4" y="300.2" width="0.7" height="0.7"/><rect x="168.2" y="286.4" width="0.7" height="0.7"/><rect x="149.8" y="297.3" width="0.9" height="0.9"/><rect x="165.6" y="278.6" width="1.0" height="1.0"/><rect x="157.2" y="297.3" width="0.8" height="0.8"/><rect x="158.9" y="286.7" width="0.8" height="0.8"/><rect x="148.1" y="295.1" width="1.0" height="1.0"/><rect x="169.5" y="298.8" width="1.1" height="1.1"/><rect x="158.8" y="290.3" width="1.0" height="1.0"/><rect x="173.8" y="301.1" width="1.1" height="1.1"/><rect x="176.8" y="297.0" width="0.7" height="0.7"/><rect x="149.9" y="291.6" width="0.7" height="0.7"/><rect x="147.9" y="296.2" width="0.8" height="0.8"/><rect x="167.7" y="285.3" width="1.0" height="1.0"/><rect x="154.2" y="297.9" width="0.8" height="0.8"/><rect x="153.2" y="302.0" width="0.8" height="0.8"/><rect x="159.5" y="278.6" width="0.7" height="0.7"/><rect x="148.8" y="298.4" width="0.8" height="0.8"/><rect x="168.1" y="301.7" width="1.0" height="1.0"/><rect x="149.5" y="301.0" width="1.1" height="1.1"/><rect x="173.8" y="300.9" width="0.7" height="0.7"/><rect x="175.5" y="298.5" width="1.1" height="1.1"/><rect x="166.0" y="279.6" width="0.9" height="0.9"/><rect x="174.0" y="298.3" width="1.0" height="1.0"/><rect x="149.1" y="283.9" width="1.1" height="1.1"/><rect x="176.6" y="293.0" width="0.7" height="0.7"/><rect x="162.1" y="288.6" width="0.8" height="0.8"/><rect x="150.8" y="293.2" width="1.0" height="1.0"/><rect x="153.6" y="280.3" width="0.9" height="0.9"/><rect x="168.7" y="299.3" width="1.1" height="1.1"/><rect x="148.4" y="285.1" width="1.0" height="1.0"/><rect x="167.7" y="301.6" width="0.8" height="0.8"/><rect x="155.9" y="276.3" width="0.8" height="0.8"/><rect x="150.0" y="291.7" width="1.0" height="1.0"/><rect x="168.7" y="288.9" width="1.1" height="1.1"/><rect x="172.2" y="299.5" width="0.8" height="0.8"/><rect x="170.5" y="276.2" width="0.9" height="0.9"/><rect x="166.2" y="287.8" width="0.9" height="0.9"/><rect x="153.3" y="299.7" width="0.9" height="0.9"/><rect x="177.7" y="286.8" width="0.8" height="0.8"/><rect x="161.3" y="299.1" width="1.1" height="1.1"/><rect x="158.6" y="298.3" width="1.1" height="1.1"/><rect x="177.3" y="281.0" width="0.7" height="0.7"/><rect x="155.3" y="297.8" width="0.7" height="0.7"/><rect x="168.9" y="283.6" width="0.7" height="0.7"/><rect x="148.7" y="285.2" width="0.7" height="0.7"/><rect x="159.0" y="298.0" width="0.8" height="0.8"/><rect x="161.0" y="286.6" width="0.7" height="0.7"/><rect x="152.0" y="294.8" width="0.8" height="0.8"/><rect x="158.8" y="277.1" width="1.1" height="1.1"/><rect x="169.7" y="287.8" width="0.7" height="0.7"/><rect x="159.8" y="279.0" width="0.7" height="0.7"/><rect x="168.8" y="288.2" width="0.8" height="0.8"/><rect x="165.2" y="287.4" width="1.0" height="1.0"/><rect x="148.9" y="284.7" width="0.6" height="0.6"/><rect x="167.9" y="299.9" width="1.0" height="1.0"/><rect x="176.8" y="288.9" width="0.9" height="0.9"/><rect x="159.3" y="288.5" width="0.7" height="0.7"/><rect x="156.9" y="280.1" width="0.8" height="0.8"/><rect x="167.6" y="300.6" width="0.7" height="0.7"/><rect x="176.5" y="297.4" width="1.0" height="1.0"/><rect x="164.4" y="297.8" width="0.9" height="0.9"/><rect x="169.3" y="301.7" width="1.1" height="1.1"/><rect x="151.6" y="283.0" width="0.7" height="0.7"/><rect x="158.2" y="299.7" width="1.0" height="1.0"/><rect x="162.4" y="301.5" width="0.9" height="0.9"/><rect x="173.0" y="297.0" width="0.9" height="0.9"/><rect x="161.9" y="277.7" width="1.0" height="1.0"/><rect x="171.6" y="296.9" width="0.9" height="0.9"/><rect x="157.6" y="287.3" width="1.0" height="1.0"/><rect x="148.5" y="293.3" width="1.1" height="1.1"/><rect x="166.1" y="277.3" width="0.8" height="0.8"/><rect x="161.0" y="291.2" width="1.1" height="1.1"/><rect x="158.0" y="277.9" width="0.8" height="0.8"/><rect x="170.1" y="296.1" width="0.8" height="0.8"/><rect x="172.6" y="277.6" width="0.9" height="0.9"/><rect x="173.1" y="299.8" width="0.8" height="0.8"/><rect x="150.7" y="292.8" width="1.1" height="1.1"/><rect x="150.2" y="284.4" width="0.7" height="0.7"/><rect x="150.7" y="287.5" width="0.9" height="0.9"/><rect x="167.9" y="299.5" width="1.1" height="1.1"/><rect x="161.3" y="278.3" width="0.7" height="0.7"/><rect x="175.3" y="280.1" width="0.8" height="0.8"/><rect x="156.8" y="290.9" width="0.7" height="0.7"/><rect x="161.0" y="289.0" width="0.7" height="0.7"/><rect x="169.3" y="289.6" width="0.8" height="0.8"/><rect x="161.4" y="296.5" width="0.7" height="0.7"/><rect x="161.0" y="274.6" width="1.0" height="1.0"/><rect x="164.7" y="278.2" width="0.7" height="0.7"/><rect x="163.0" y="300.0" width="0.6" height="0.6"/><rect x="168.8" y="277.8" width="0.8" height="0.8"/><rect x="166.0" y="286.8" width="1.1" height="1.1"/><rect x="167.7" y="277.7" width="1.0" height="1.0"/><rect x="172.2" y="302.1" width="0.7" height="0.7"/><rect x="152.4" y="300.4" width="0.8" height="0.8"/><rect x="157.6" y="300.6" width="1.0" height="1.0"/><rect x="163.6" y="275.4" width="0.7" height="0.7"/><rect x="170.6" y="287.8" width="0.8" height="0.8"/><rect x="153.2" y="300.2" width="1.1" height="1.1"/><rect x="172.0" y="298.5" width="0.9" height="0.9"/><rect x="177.2" y="290.6" width="0.9" height="0.9"/><rect x="158.4" y="290.9" width="0.8" height="0.8"/><rect x="161.6" y="296.9" width="1.1" height="1.1"/><rect x="152.0" y="301.7" width="0.7" height="0.7"/><rect x="159.9" y="279.3" width="1.0" height="1.0"/><rect x="163.2" y="297.6" width="0.6" height="0.6"/><rect x="170.0" y="277.6" width="0.7" height="0.7"/><rect x="149.9" y="300.7" width="0.7" height="0.7"/><rect x="161.3" y="272.8" width="0.9" height="0.9"/><rect x="157.4" y="299.7" width="0.7" height="0.7"/><rect x="157.4" y="296.5" width="0.8" height="0.8"/><rect x="168.0" y="291.5" width="0.9" height="0.9"/><rect x="177.2" y="288.8" width="0.9" height="0.9"/><rect x="149.2" y="300.0" width="0.9" height="0.9"/><rect x="149.2" y="286.4" width="0.7" height="0.7"/><rect x="148.1" y="290.5" width="0.9" height="0.9"/><rect x="156.1" y="278.5" width="0.7" height="0.7"/><rect x="169.4" y="287.1" width="0.9" height="0.9"/><rect x="174.9" y="280.7" width="1.0" height="1.0"/><rect x="170.6" y="277.1" width="0.9" height="0.9"/><rect x="173.7" y="297.7" width="0.7" height="0.7"/><rect x="157.5" y="288.3" width="0.7" height="0.7"/><rect x="169.0" y="300.9" width="1.0" height="1.0"/><rect x="151.7" y="295.3" width="0.9" height="0.9"/><rect x="149.9" y="290.3" width="0.7" height="0.7"/><rect x="176.1" y="282.8" width="0.9" height="0.9"/></g>
<path d="M154.1 288.1 153.9 285.9 154.7 282.4 155.3 281.7 162.1 280.5 166.1 280.9 167.4 281.9 157.4 283.9 155.6 287.5 154.1 288.1Z M166.8 295.1 163.3 294.9 162.7 293.6 171.8 291.6 172.8 287.4 171.3 283.4 172.3 281.9 173.8 282.4 174.6 283.4 174.9 285.9 174.1 292.9 173.3 293.2 171.6 292.7 166.8 295.1Z" fill="#222" fill-opacity="1.0" fill-rule="evenodd"/>
<path d="M167.1 295.9 160.3 295.2 155.8 295.3 152.6 292.4 152.4 289.9 154.6 281.5 161.8 279.7 170.6 279.9 174.6 282.1 175.8 287.4 174.8 293.4 167.1 295.9 M164.7 292.4 171.3 290.8 172.1 287.9 171.6 285.1 168.3 283.0 160.3 283.7 157.6 284.6 155.9 289.9 157.6 292.0 158.6 292.4 164.7 292.4" fill="none" stroke="#111" stroke-width="0.9" stroke-linejoin="round"/>
<path d="M166.8 295.6 163.1 295.5 160.8 294.3 158.8 295.0 156.1 295.1 153.0 292.4 152.6 290.1 154.7 281.6 161.8 280.0 170.6 280.2 174.5 282.4 175.5 287.4 174.6 293.1 166.8 295.6 M164.8 292.6 171.6 290.9 172.4 287.9 171.8 285.0 168.6 282.7 163.8 282.9 157.4 284.4 155.7 290.4 158.1 292.6 164.8 292.6" fill="none" stroke="#222" stroke-width="0.7" stroke-linejoin="round"/>
<path d="M167.1 295.4 162.6 295.1 161.1 293.1 171.6 291.2 172.5 287.9 171.8 284.8 168.6 282.4 163.8 282.8 157.5 284.1 155.3 290.1 157.6 292.7 159.4 293.6 158.9 294.6 156.2 294.9 152.8 291.4 153.5 285.9 154.8 281.7 162.1 280.1 167.3 280.5 169.8 281.8 170.8 280.6 174.3 282.4 175.3 287.4 174.4 293.1 167.1 295.4" fill="none" stroke="#444" stroke-width="0.6" stroke-linejoin="round"/>
<path d="M157.6 294.4 156.0 294.4 153.1 291.4 153.7 285.9 154.8 281.9 161.8 280.3 167.3 281.0 168.1 282.1 160.1 283.2 157.0 284.4 155.6 288.2 154.2 289.6 157.9 293.6 157.6 294.4 M167.3 295.2 163.3 295.1 162.5 294.6 162.2 293.4 171.8 291.3 172.6 286.9 172.2 285.1 170.6 283.1 171.6 281.6 173.1 281.9 174.5 282.9 174.9 284.6 175.1 288.4 174.3 292.8 173.6 293.4 171.6 293.3 167.3 295.2" fill="none" stroke="#444" stroke-width="0.6" stroke-linejoin="round"/>
<path d="M154.6 287.9 153.8 287.7 153.8 286.9 154.7 282.4 155.3 281.7 162.1 280.5 165.8 280.9 167.2 281.9 160.1 282.9 157.3 283.9 155.6 287.4 154.6 287.9 M166.8 295.1 163.3 294.9 162.8 293.6 171.8 291.7 172.8 287.4 171.5 283.4 172.3 282.0 173.8 282.4 174.5 283.4 174.8 285.9 174.1 292.9 173.3 293.2 171.6 292.5 166.8 295.1" fill="none" stroke="#333" stroke-width="0.6" stroke-linejoin="round"/>
<line x1="170.1" y1="259.1" x2="170.1" y2="303.4" stroke="#9a9a9a" stroke-width="1.1"/>
<line x1="146.9" y1="287.9" x2="193.9" y2="287.9" stroke="#9a9a9a" stroke-width="1.1"/>
<rect x="198.8" y="259.1" width="47.7" height="44.3" fill="none" stroke="#9c9c9c" stroke-width="1.1"/>
<g fill="#111" opacity="0.8"><rect x="221.1" y="272.8" width="1.1" height="1.1"/><rect x="231.0" y="295.1" width="0.7" height="0.7"/><rect x="220.4" y="271.4" width="0.7" height="0.7"/><rect x="222.1" y="280.5" width="0.8" height="0.8"/><rect x="227.7" y="298.1" width="0.9" height="0.9"/><rect x="214.9" y="277.8" width="1.0" height="1.0"/><rect x="204.9" y="278.3" width="1.1" height="1.1"/><rect x="206.7" y="275.9" width="0.7" height="0.7"/><rect x="205.5" y="283.3" width="1.1" height="1.1"/><rect x="214.4" y="286.0" width="0.8" height="0.8"/><rect x="223.1" y="283.7" width="1.0" height="1.0"/><rect x="228.3" y="294.9" width="1.0" height="1.0"/><rect x="227.2" y="301.1" width="0.8" height="0.8"/><rect x="202.9" y="284.6" width="1.0" height="1.0"/><rect x="221.4" y="287.8" width="0.8" height="0.8"/><rect x="203.9" y="277.8" width="0.8" height="0.8"/><rect x="217.2" y="273.0" width="0.8" height="0.8"/><rect x="212.4" y="271.7" width="0.9" height="0.9"/><rect x="219.3" y="285.8" width="0.9" height="0.9"/><rect x="216.5" y="283.9" width="1.0" height="1.0"/><rect x="222.7" y="273.4" width="1.0" height="1.0"/><rect x="209.8" y="279.8" width="0.8" height="0.8"/><rect x="211.2" y="272.4" width="0.8" height="0.8"/><rect x="203.2" y="284.0" width="1.0" height="1.0"/><rect x="214.4" y="279.8" width="0.6" height="0.6"/><rect x="226.5" y="299.4" width="0.9" height="0.9"/><rect x="203.8" y="278.6" width="1.0" height="1.0"/><rect x="203.2" y="287.4" width="0.8" height="0.8"/><rect x="217.5" y="281.3" width="0.9" height="0.9"/><rect x="213.3" y="286.0" width="1.0" height="1.0"/><rect x="210.8" y="284.6" width="0.9" height="0.9"/><rect x="199.6" y="293.8" width="0.9" height="0.9"/><rect x="203.6" y="283.0" width="1.0" height="1.0"/><rect x="213.9" y="275.6" width="0.9" height="0.9"/><rect x="216.9" y="273.7" width="0.8" height="0.8"/><rect x="224.3" y="280.8" width="1.1" height="1.1"/><rect x="227.0" y="296.2" width="1.0" height="1.0"/><rect x="213.7" y="287.5" width="0.9" height="0.9"/><rect x="203.6" y="276.9" width="1.0" height="1.0"/><rect x="207.6" y="275.2" width="0.8" height="0.8"/><rect x="213.8" y="286.9" width="1.1" height="1.1"/><rect x="206.4" y="280.4" width="0.8" height="0.8"/><rect x="226.5" y="284.9" width="0.7" height="0.7"/><rect x="205.7" y="285.9" width="0.8" height="0.8"/><rect x="226.1" y="275.6" width="1.0" height="1.0"/><rect x="214.8" y="276.9" width="0.7" height="0.7"/><rect x="209.7" y="276.7" width="1.1" height="1.1"/><rect x="203.3" y="301.4" width="0.7" height="0.7"/><rect x="204.7" y="280.0" width="0.9" height="0.9"/><rect x="222.3" y="301.0" width="0.8" height="0.8"/><rect x="213.7" y="285.7" width="0.9" height="0.9"/><rect x="201.4" y="285.2" width="0.7" height="0.7"/><rect x="214.0" y="283.8" width="0.9" height="0.9"/><rect x="223.9" y="284.2" width="1.1" height="1.1"/><rect x="217.1" y="274.8" width="0.8" height="0.8"/><rect x="207.2" y="279.6" width="0.9" height="0.9"/><rect x="226.2" y="299.2" width="0.7" height="0.7"/><rect x="210.7" y="273.7" width="1.1" height="1.1"/><rect x="200.5" y="291.8" width="0.7" height="0.7"/><rect x="202.6" y="281.0" width="1.0" height="1.0"/><rect x="211.7" y="273.0" width="0.9" height="0.9"/><rect x="212.6" y="285.1" width="0.8" height="0.8"/><rect x="209.3" y="285.0" width="1.1" height="1.1"/><rect x="212.4" y="274.9" width="0.9" height="0.9"/><rect x="201.6" y="287.8" width="1.0" height="1.0"/><rect x="222.9" y="300.3" width="1.0" height="1.0"/><rect x="206.5" y="287.1" width="1.1" height="1.1"/><rect x="230.8" y="292.0" width="0.7" height="0.7"/><rect x="223.1" y="273.9" width="0.8" height="0.8"/><rect x="206.1" y="282.0" width="1.1" height="1.1"/><rect x="207.5" y="276.4" width="0.8" height="0.8"/><rect x="227.4" y="288.8" width="0.9" height="0.9"/><rect x="223.0" y="286.2" width="1.1" height="1.1"/><rect x="216.7" y="272.7" width="0.7" height="0.7"/><rect x="216.0" y="275.7" width="0.6" height="0.6"/><rect x="210.6" y="286.4" width="0.7" height="0.7"/><rect x="213.5" y="276.1" width="1.0" height="1.0"/><rect x="231.3" y="295.8" width="1.1" height="1.1"/><rect x="219.9" y="273.6" width="1.1" height="1.1"/><rect x="226.2" y="280.1" width="1.1" height="1.1"/><rect x="231.1" y="295.6" width="0.9" height="0.9"/><rect x="224.8" y="300.9" width="0.7" height="0.7"/><rect x="215.9" y="282.6" width="1.0" height="1.0"/><rect x="216.2" y="282.5" width="0.8" height="0.8"/><rect x="224.3" y="278.2" width="1.1" height="1.1"/><rect x="211.3" y="272.4" width="1.1" height="1.1"/><rect x="228.5" y="299.2" width="0.6" height="0.6"/><rect x="216.3" y="277.7" width="1.1" height="1.1"/><rect x="217.7" y="284.8" width="0.8" height="0.8"/><rect x="203.4" y="286.7" width="0.8" height="0.8"/><rect x="208.1" y="279.0" width="1.1" height="1.1"/><rect x="221.5" y="286.9" width="0.7" height="0.7"/><rect x="222.0" y="277.1" width="0.9" height="0.9"/><rect x="211.2" y="283.4" width="0.9" height="0.9"/><rect x="214.6" y="274.6" width="0.7" height="0.7"/><rect x="207.1" y="285.3" width="1.0" height="1.0"/><rect x="208.2" y="276.2" width="0.8" height="0.8"/><rect x="203.2" y="280.1" width="0.7" height="0.7"/><rect x="207.8" y="284.5" width="0.8" height="0.8"/><rect x="218.9" y="286.0" width="1.1" height="1.1"/><rect x="222.1" y="270.8" width="0.9" height="0.9"/><rect x="219.6" y="302.0" width="0.9" height="0.9"/><rect x="215.7" y="281.0" width="1.1" height="1.1"/><rect x="215.2" y="283.3" width="0.8" height="0.8"/><rect x="222.0" y="288.3" width="1.1" height="1.1"/><rect x="228.8" y="295.8" width="1.0" height="1.0"/><rect x="223.7" y="283.4" width="1.0" height="1.0"/><rect x="212.2" y="286.5" width="1.1" height="1.1"/><rect x="201.4" y="284.7" width="0.9" height="0.9"/><rect x="209.1" y="286.8" width="0.8" height="0.8"/></g>
<path d="M207.3 291.4 205.1 291.4 203.8 290.4 205.1 289.8 207.6 290.1 208.2 290.6 207.3 291.4Z M223.6 294.5 222.3 292.2 221.1 291.4 222.3 290.4 224.0 290.4 224.8 291.9 224.8 293.1 223.6 294.5Z M212.8 298.4 206.1 298.1 203.8 297.2 203.1 295.1 204.1 294.9 205.6 296.7 219.1 296.1 221.3 296.4 222.4 297.1 222.0 297.9 220.8 298.2 215.6 297.7 212.8 298.4Z" fill="#222" fill-opacity="1.0" fill-rule="evenodd"/>
<path d="M222.6 283.9 221.8 283.8 221.2 282.6 222.3 279.4 222.9 281.6 222.6 283.9 M203.8 302.9 202.3 302.9 201.3 302.1 201.2 297.9 199.6 294.6 201.6 292.4 203.1 289.0 205.8 288.3 223.1 288.9 225.2 289.9 226.2 292.6 225.8 297.9 225.1 299.2 222.4 299.6 220.7 301.4 216.1 302.3 212.6 302.1 209.3 302.8 206.3 302.2 203.8 302.9" fill="none" stroke="#111" stroke-width="0.9" stroke-linejoin="round"/>
<path d="M208.3 300.2 203.3 299.0 202.5 298.1 201.4 294.4 203.3 289.3 205.8 288.9 223.3 289.2 225.0 290.1 225.9 292.9 225.2 297.6 224.6 298.6 220.6 299.3 210.3 299.5 208.3 300.2 M213.0 294.1 214.5 292.6 212.3 292.2 210.6 292.9 211.6 294.0 213.0 294.1 M203.1 301.9 202.5 301.6 202.5 300.9 203.9 300.9 204.0 301.4 203.1 301.9" fill="none" stroke="#222" stroke-width="0.7" stroke-linejoin="round"/>
<path d="M208.8 299.1 203.8 298.7 203.0 298.1 201.9 294.4 203.6 289.5 223.6 289.5 224.9 290.4 225.6 292.9 224.3 298.3 220.3 298.9 208.8 299.1 M214.0 295.4 216.3 292.6 212.3 291.7 207.8 292.8 206.1 292.6 205.5 293.1 206.3 295.3 206.3 293.9 207.6 293.0 209.2 293.6 210.9 295.1 214.0 295.4" fill="none" stroke="#444" stroke-width="0.6" stroke-linejoin="round"/>
<path d="M208.8 298.9 203.8 298.4 203.2 297.9 202.2 294.4 202.6 293.4 203.9 292.6 203.2 290.6 203.8 289.6 220.1 290.1 223.6 289.7 224.6 290.4 225.4 292.9 224.0 295.9 224.1 298.0 220.6 298.7 208.8 298.9 M214.8 295.9 216.2 295.4 216.0 294.6 216.5 293.9 218.3 293.3 220.8 293.9 220.0 295.4 221.8 295.8 222.3 294.9 221.9 292.9 212.8 291.3 205.8 292.2 204.9 292.9 205.3 295.0 206.1 295.9 214.8 295.9" fill="none" stroke="#444" stroke-width="0.6" stroke-linejoin="round"/>
<path d="M205.3 291.9 203.8 291.2 203.8 289.9 206.3 289.6 210.4 290.6 208.3 291.6 205.3 291.9 M223.1 295.6 222.1 292.3 217.2 291.6 216.3 290.6 217.8 290.3 219.8 290.9 222.3 290.0 224.1 290.1 225.1 293.1 223.1 295.6 M211.8 298.6 207.6 298.6 203.8 297.9 203.0 296.6 202.7 294.4 204.3 294.1 205.8 296.3 219.6 295.9 222.8 296.1 223.1 297.4 220.8 298.4 215.6 298.1 211.8 298.6" fill="none" stroke="#333" stroke-width="0.6" stroke-linejoin="round"/>
<path d="M207.1 291.4 205.1 291.4 203.9 290.4 205.1 289.8 207.4 290.1 208.0 290.6 207.1 291.4 M223.8 294.2 223.3 294.3 222.3 292.1 221.3 291.4 222.6 290.4 223.9 290.4 224.6 291.6 224.8 292.9 223.8 294.2 M204.6 296.9 203.6 296.5 203.5 295.1 204.3 295.4 204.6 296.9 M212.6 298.4 207.1 298.4 205.2 297.1 208.3 296.3 214.6 296.7 218.8 296.1 221.1 296.4 222.2 297.1 221.8 297.9 220.8 298.1 215.3 297.6 212.6 298.4" fill="none" stroke="#222" stroke-width="0.6" stroke-linejoin="round"/>
<line x1="221.9" y1="259.1" x2="221.9" y2="303.4" stroke="#9a9a9a" stroke-width="1.1"/>
<line x1="198.8" y1="287.8" x2="246.5" y2="287.8" stroke="#9a9a9a" stroke-width="1.1"/>
<rect x="250.0" y="259.1" width="48.3" height="44.3" fill="none" stroke="#9c9c9c" stroke-width="1.1"/>
<path d="M279.2 303.4 272.3 303.4 269.8 300.9 269.4 299.6 269.8 296.9 267.8 296.6 267.0 295.6 269.4 293.1 268.8 289.8 266.1 291.1 266.0 294.6 265.5 295.1 262.8 293.0 259.0 291.7 258.2 292.1 256.3 294.6 256.2 295.9 260.8 296.3 261.5 297.4 259.0 298.0 258.5 299.1 258.5 300.6 258.0 301.1 253.5 297.6 251.9 293.9 252.3 292.6 254.2 291.5 255.0 290.0 255.6 288.4 255.4 286.4 256.7 284.4 256.5 282.0 259.2 280.4 263.0 282.6 264.3 280.6 264.2 276.9 261.8 275.9 261.2 274.9 261.6 273.9 263.0 273.2 264.8 274.2 266.2 274.1 267.2 274.9 269.0 274.6 269.7 273.6 268.8 271.9 270.5 271.0 274.2 271.5 274.6 270.6 274.2 268.6 275.5 267.2 277.0 267.7 280.2 270.4 283.2 274.6 284.9 279.1 284.4 292.1 283.6 294.4 284.3 296.9 282.3 300.9 279.2 303.4Z M266.8 273.4 266.2 273.2 266.1 271.9 267.2 271.4 268.3 272.1 266.8 273.4Z M264.8 288.9 266.3 287.4 266.7 285.4 265.5 283.2 263.5 282.8 262.3 287.9 263.2 288.7 264.8 288.9Z M259.2 287.6 260.1 286.6 260.1 285.6 259.2 284.1 258.2 283.8 257.5 284.4 257.4 285.1 258.2 287.4 259.2 287.6Z M269.1 289.4 271.0 287.1 270.5 286.1 269.5 286.0 268.9 286.6 269.1 289.4Z M267.0 299.2 266.2 298.9 266.3 298.4 267.1 298.4 267.0 299.2Z" fill="#ececec" fill-opacity="1.0" fill-rule="evenodd"/>
<path d="M276.5 303.4 273.3 303.4 271.0 299.9 270.6 290.6 271.9 286.9 270.3 284.1 269.8 280.6 270.6 275.4 272.5 272.9 274.5 272.8 275.8 270.0 276.8 269.5 279.2 270.6 282.2 274.1 284.2 279.9 283.6 282.6 284.0 286.9 283.6 292.1 282.7 294.4 283.6 295.9 283.6 297.1 281.5 300.6 276.5 303.4Z" fill="#dcdcdc" fill-opacity="1.0" fill-rule="evenodd"/>
<g fill="#111" opacity="0.8"><rect x="269.3" y="283.8" width="0.6" height="0.6"/><rect x="256.1" y="295.2" width="0.9" height="0.9"/><rect x="255.1" y="292.6" width="0.7" height="0.7"/><rect x="267.5" y="274.8" width="0.8" height="0.8"/><rect x="267.1" y="277.5" width="1.0" height="1.0"/><rect x="257.5" y="300.3" width="1.0" height="1.0"/><rect x="260.6" y="278.8" width="0.9" height="0.9"/><rect x="262.8" y="293.7" width="0.8" height="0.8"/><rect x="251.3" y="290.5" width="0.8" height="0.8"/><rect x="267.8" y="273.2" width="1.0" height="1.0"/><rect x="260.5" y="285.3" width="0.8" height="0.8"/><rect x="257.5" y="280.9" width="0.7" height="0.7"/><rect x="283.9" y="278.7" width="1.1" height="1.1"/><rect x="260.6" y="286.1" width="1.0" height="1.0"/><rect x="265.1" y="283.4" width="0.9" height="0.9"/><rect x="256.4" y="295.6" width="0.9" height="0.9"/><rect x="262.5" y="297.3" width="0.7" height="0.7"/><rect x="252.4" y="293.5" width="1.0" height="1.0"/><rect x="274.9" y="271.0" width="0.7" height="0.7"/><rect x="265.9" y="282.4" width="0.6" height="0.6"/><rect x="251.9" y="297.0" width="0.8" height="0.8"/><rect x="265.2" y="289.5" width="0.8" height="0.8"/><rect x="265.0" y="291.3" width="1.0" height="1.0"/><rect x="270.9" y="286.0" width="0.8" height="0.8"/><rect x="257.3" y="281.1" width="0.7" height="0.7"/><rect x="260.3" y="295.0" width="0.7" height="0.7"/><rect x="265.1" y="280.5" width="0.9" height="0.9"/><rect x="266.2" y="280.9" width="1.1" height="1.1"/><rect x="271.6" y="292.8" width="1.1" height="1.1"/><rect x="270.3" y="272.8" width="1.0" height="1.0"/><rect x="280.7" y="276.3" width="0.7" height="0.7"/><rect x="268.6" y="295.1" width="0.9" height="0.9"/><rect x="260.0" y="279.5" width="0.7" height="0.7"/><rect x="259.2" y="287.2" width="0.8" height="0.8"/><rect x="253.3" y="290.5" width="0.9" height="0.9"/><rect x="268.5" y="294.9" width="1.1" height="1.1"/><rect x="285.1" y="294.6" width="0.8" height="0.8"/><rect x="253.0" y="295.3" width="1.0" height="1.0"/><rect x="254.0" y="293.3" width="0.8" height="0.8"/><rect x="257.3" y="288.6" width="1.1" height="1.1"/><rect x="282.6" y="293.7" width="1.1" height="1.1"/><rect x="270.0" y="273.9" width="0.7" height="0.7"/><rect x="263.4" y="287.9" width="0.8" height="0.8"/><rect x="260.1" y="291.9" width="1.0" height="1.0"/><rect x="270.5" y="272.4" width="0.9" height="0.9"/><rect x="267.1" y="281.8" width="0.9" height="0.9"/><rect x="265.1" y="293.8" width="1.1" height="1.1"/><rect x="269.9" y="295.5" width="0.7" height="0.7"/><rect x="257.5" y="283.0" width="0.7" height="0.7"/><rect x="269.3" y="299.1" width="0.7" height="0.7"/><rect x="284.2" y="280.7" width="0.8" height="0.8"/><rect x="257.2" y="279.4" width="0.7" height="0.7"/><rect x="261.6" y="296.5" width="1.1" height="1.1"/><rect x="274.3" y="267.7" width="0.7" height="0.7"/><rect x="255.9" y="284.6" width="0.7" height="0.7"/><rect x="253.0" y="285.7" width="0.8" height="0.8"/><rect x="283.9" y="276.7" width="0.7" height="0.7"/><rect x="258.8" y="289.4" width="1.1" height="1.1"/><rect x="258.7" y="291.7" width="0.8" height="0.8"/><rect x="252.6" y="298.4" width="1.1" height="1.1"/><rect x="266.6" y="292.3" width="0.6" height="0.6"/><rect x="253.5" y="297.8" width="1.0" height="1.0"/><rect x="263.9" y="290.3" width="1.0" height="1.0"/><rect x="257.5" y="296.9" width="0.8" height="0.8"/><rect x="284.6" y="288.7" width="0.7" height="0.7"/><rect x="267.7" y="295.0" width="0.9" height="0.9"/><rect x="254.6" y="296.6" width="1.0" height="1.0"/><rect x="284.7" y="274.6" width="0.7" height="0.7"/><rect x="257.6" y="289.8" width="1.0" height="1.0"/><rect x="254.3" y="289.0" width="0.7" height="0.7"/><rect x="276.1" y="268.6" width="0.9" height="0.9"/><rect x="267.1" y="286.2" width="0.8" height="0.8"/><rect x="253.0" y="290.9" width="0.8" height="0.8"/><rect x="256.9" y="289.2" width="1.0" height="1.0"/><rect x="261.6" y="298.2" width="0.8" height="0.8"/><rect x="259.7" y="298.1" width="1.0" height="1.0"/><rect x="274.1" y="268.7" width="1.0" height="1.0"/><rect x="267.7" y="272.7" width="1.0" height="1.0"/><rect x="262.3" y="284.7" width="1.0" height="1.0"/><rect x="280.2" y="270.4" width="0.7" height="0.7"/><rect x="284.7" y="291.2" width="0.9" height="0.9"/><rect x="256.0" y="282.5" width="0.9" height="0.9"/><rect x="262.6" y="285.7" width="0.8" height="0.8"/><rect x="272.5" y="274.6" width="0.9" height="0.9"/><rect x="266.8" y="297.9" width="0.9" height="0.9"/><rect x="270.2" y="275.8" width="0.7" height="0.7"/><rect x="258.2" y="279.3" width="0.9" height="0.9"/><rect x="283.6" y="297.5" width="0.9" height="0.9"/><rect x="262.9" y="278.9" width="1.1" height="1.1"/><rect x="286.2" y="279.1" width="0.7" height="0.7"/><rect x="283.3" y="280.2" width="0.8" height="0.8"/><rect x="270.1" y="294.8" width="0.7" height="0.7"/><rect x="257.5" y="281.8" width="0.7" height="0.7"/><rect x="264.0" y="290.5" width="0.9" height="0.9"/><rect x="275.1" y="271.3" width="1.1" height="1.1"/><rect x="268.9" y="274.3" width="0.8" height="0.8"/><rect x="283.9" y="290.1" width="0.7" height="0.7"/><rect x="264.0" y="292.5" width="1.0" height="1.0"/><rect x="260.9" y="285.3" width="0.9" height="0.9"/><rect x="266.5" y="285.0" width="0.7" height="0.7"/><rect x="259.3" y="274.2" width="1.0" height="1.0"/><rect x="260.7" y="279.6" width="1.1" height="1.1"/><rect x="257.3" y="293.7" width="1.0" height="1.0"/><rect x="257.1" y="291.8" width="0.9" height="0.9"/><rect x="256.2" y="282.2" width="0.9" height="0.9"/><rect x="255.3" y="289.8" width="1.1" height="1.1"/><rect x="284.2" y="298.6" width="1.1" height="1.1"/><rect x="265.8" y="278.2" width="0.7" height="0.7"/><rect x="257.8" y="285.8" width="0.7" height="0.7"/><rect x="264.0" y="291.3" width="1.0" height="1.0"/><rect x="259.7" y="301.4" width="0.7" height="0.7"/><rect x="282.7" y="281.4" width="0.9" height="0.9"/><rect x="270.3" y="271.8" width="0.8" height="0.8"/><rect x="271.0" y="283.4" width="1.0" height="1.0"/><rect x="284.8" y="296.5" width="0.7" height="0.7"/><rect x="270.6" y="285.6" width="1.0" height="1.0"/><rect x="253.4" y="299.9" width="1.1" height="1.1"/><rect x="253.2" y="286.4" width="1.1" height="1.1"/><rect x="254.3" y="301.4" width="1.0" height="1.0"/><rect x="278.2" y="267.7" width="0.9" height="0.9"/></g>
<path d="M279.5 297.2 277.0 296.1 274.8 297.2 273.7 296.4 274.2 291.9 273.6 290.4 275.4 285.4 274.3 281.1 275.8 279.7 277.3 280.6 278.5 282.9 278.6 288.6 277.9 291.4 276.5 293.1 277.5 294.6 279.6 295.6 279.9 296.6 279.5 297.2Z" fill="#222" fill-opacity="1.0" fill-rule="evenodd"/>
<path d="M277.5 303.4 273.0 303.4 270.8 300.4 270.3 290.6 271.7 286.6 269.9 284.4 269.1 280.6 269.9 278.6 269.9 275.9 272.1 272.6 274.5 272.3 275.6 269.6 276.5 269.0 279.5 270.6 282.2 273.9 284.4 279.6 283.9 282.6 283.8 292.1 283.0 294.4 283.9 295.9 283.8 297.1 281.8 300.7 277.5 303.4" fill="none" stroke="#111" stroke-width="0.9" stroke-linejoin="round"/>
<path d="M275.8 303.4 273.9 303.4 271.5 299.6 271.9 293.9 271.0 290.6 272.4 286.9 270.6 280.1 271.3 275.4 272.8 274.1 275.0 274.1 275.8 271.3 277.0 270.4 279.0 271.1 281.8 274.3 283.5 278.1 283.7 280.1 283.0 282.6 283.4 287.9 282.5 289.4 281.0 289.2 280.4 290.1 282.8 291.7 282.1 294.4 283.2 296.6 281.4 299.9 275.8 303.4 M278.6 278.1 279.0 276.6 278.5 276.0 277.4 277.4 278.6 278.1" fill="none" stroke="#222" stroke-width="0.7" stroke-linejoin="round"/>
<path d="M275.8 302.4 274.5 302.3 274.0 301.1 274.3 299.6 272.8 299.3 272.2 298.1 272.1 296.1 272.8 293.6 271.6 290.6 273.1 287.1 272.8 285.1 273.3 283.6 271.9 281.4 271.6 277.1 272.5 275.4 274.5 275.5 275.6 274.9 276.2 272.1 277.5 271.4 279.0 272.2 279.7 274.1 277.4 275.6 276.6 277.9 281.5 281.6 281.7 283.9 282.7 285.9 282.5 287.4 280.5 287.9 279.6 290.1 279.8 291.1 281.5 292.4 281.2 294.4 282.2 296.9 280.9 299.1 275.8 302.4 M281.8 278.6 280.1 277.9 280.2 276.9 281.0 276.3 282.3 277.6 281.8 278.6" fill="none" stroke="#444" stroke-width="0.6" stroke-linejoin="round"/>
<path d="M278.0 274.2 276.9 273.9 277.2 272.4 278.6 273.1 278.0 274.2 M276.0 301.1 275.5 301.0 275.2 299.1 272.8 297.6 272.6 296.1 273.2 293.6 272.1 290.9 273.8 286.6 273.9 283.4 272.9 280.6 275.5 278.5 277.5 279.5 280.2 281.9 280.2 284.4 281.1 286.1 279.8 287.8 279.0 290.6 279.2 292.2 280.1 292.9 281.2 296.1 281.3 297.4 280.5 298.5 278.2 299.1 277.4 300.4 276.0 301.1" fill="none" stroke="#444" stroke-width="0.6" stroke-linejoin="round"/>
<path d="M279.8 297.9 278.5 297.9 276.8 296.8 274.5 297.8 273.2 296.9 273.7 293.4 272.7 290.4 274.7 285.4 273.7 281.1 275.5 279.3 277.2 279.9 279.2 282.4 279.4 286.4 278.4 291.4 277.1 293.1 277.8 294.1 279.5 294.6 280.2 295.5 280.5 297.1 279.8 297.9" fill="none" stroke="#333" stroke-width="0.6" stroke-linejoin="round"/>
<path d="M279.2 297.1 277.2 296.0 274.8 297.0 273.8 296.4 274.5 291.6 274.0 290.1 274.6 287.1 275.5 285.4 274.4 281.1 275.8 279.8 277.0 280.4 278.2 282.1 278.6 287.6 277.9 291.1 276.4 293.1 277.5 294.8 279.5 295.6 279.8 296.6 279.2 297.1" fill="none" stroke="#222" stroke-width="0.6" stroke-linejoin="round"/>
<line x1="274.4" y1="259.1" x2="274.4" y2="303.4" stroke="#9a9a9a" stroke-width="1.1"/>
<line x1="250.0" y1="288.4" x2="298.3" y2="288.4" stroke="#9a9a9a" stroke-width="1.1"/>
<text x="44.199999999999996" y="215.7" font-size="5.3" text-anchor="start" fill="#222" style="stroke-width:0.12px">34</text>
<text x="86.5" y="215.7" font-size="5.3" text-anchor="end" fill="#222" style="stroke-width:0.12px">22</text>
<text x="86.5" y="249.5" font-size="5.3" text-anchor="end" fill="#222" style="stroke-width:0.12px">13</text>
<text x="96.6" y="215.7" font-size="5.3" text-anchor="start" fill="#222" style="stroke-width:0.12px">33</text>
<text x="138.39999999999998" y="215.7" font-size="5.3" text-anchor="end" fill="#222" style="stroke-width:0.12px">27</text>
<text x="138.39999999999998" y="249.5" font-size="5.3" text-anchor="end" fill="#222" style="stroke-width:0.12px">15</text>
<text x="149.20000000000002" y="215.7" font-size="5.3" text-anchor="start" fill="#222" style="stroke-width:0.12px">27</text>
<text x="191.1" y="215.7" font-size="5.3" text-anchor="end" fill="#222" style="stroke-width:0.12px">20</text>
<text x="191.1" y="249.5" font-size="5.3" text-anchor="end" fill="#222" style="stroke-width:0.12px">10</text>
<text x="201.10000000000002" y="215.7" font-size="5.3" text-anchor="start" fill="#222" style="stroke-width:0.12px">14</text>
<text x="243.7" y="215.7" font-size="5.3" text-anchor="end" fill="#222" style="stroke-width:0.12px">10</text>
<text x="243.7" y="249.5" font-size="5.3" text-anchor="end" fill="#222" style="stroke-width:0.12px">22</text>
<text x="252.3" y="215.7" font-size="5.3" text-anchor="start" fill="#222" style="stroke-width:0.12px">30</text>
<text x="295.5" y="215.7" font-size="5.3" text-anchor="end" fill="#222" style="stroke-width:0.12px">48</text>
<text x="295.5" y="249.5" font-size="5.3" text-anchor="end" fill="#222" style="stroke-width:0.12px">14</text>
<text x="44.199999999999996" y="265.1" font-size="5.3" text-anchor="start" fill="#222" style="stroke-width:0.12px">41</text>
<text x="86.5" y="265.1" font-size="5.3" text-anchor="end" fill="#222" style="stroke-width:0.12px">9</text>
<text x="86.5" y="299.5" font-size="5.3" text-anchor="end" fill="#222" style="stroke-width:0.12px">5</text>
<text x="96.6" y="265.1" font-size="5.3" text-anchor="start" fill="#222" style="stroke-width:0.12px">49</text>
<text x="138.39999999999998" y="265.1" font-size="5.3" text-anchor="end" fill="#222" style="stroke-width:0.12px">8</text>
<text x="138.39999999999998" y="299.5" font-size="5.3" text-anchor="end" fill="#222" style="stroke-width:0.12px">3</text>
<text x="149.20000000000002" y="265.1" font-size="5.3" text-anchor="start" fill="#222" style="stroke-width:0.12px">30</text>
<text x="191.1" y="265.1" font-size="5.3" text-anchor="end" fill="#222" style="stroke-width:0.12px">8</text>
<text x="191.1" y="299.5" font-size="5.3" text-anchor="end" fill="#222" style="stroke-width:0.12px">5</text>
<text x="201.10000000000002" y="265.1" font-size="5.3" text-anchor="start" fill="#222" style="stroke-width:0.12px">3</text>
<text x="243.7" y="265.1" font-size="5.3" text-anchor="end" fill="#222" style="stroke-width:0.12px">4</text>
<text x="243.7" y="299.5" font-size="5.3" text-anchor="end" fill="#222" style="stroke-width:0.12px">55</text>
<text x="252.3" y="265.1" font-size="5.3" text-anchor="start" fill="#222" style="stroke-width:0.12px">26</text>
<text x="295.5" y="265.1" font-size="5.3" text-anchor="end" fill="#222" style="stroke-width:0.12px">42</text>
<text x="295.5" y="299.5" font-size="5.3" text-anchor="end" fill="#222" style="stroke-width:0.12px">15</text>
<text x="39.2" y="251.3" font-size="4.6" text-anchor="middle" fill="#444" style="stroke:none" transform="rotate(-90 39.2 251.3)">10<tspan font-size="3" dy="-1.6">0</tspan></text>
<text x="39.2" y="241.4" font-size="4.6" text-anchor="middle" fill="#444" style="stroke:none" transform="rotate(-90 39.2 241.4)">10<tspan font-size="3" dy="-1.6">1</tspan></text>
<text x="39.2" y="231.6" font-size="4.6" text-anchor="middle" fill="#444" style="stroke:none" transform="rotate(-90 39.2 231.6)">10<tspan font-size="3" dy="-1.6">2</tspan></text>
<text x="39.2" y="221.7" font-size="4.6" text-anchor="middle" fill="#444" style="stroke:none" transform="rotate(-90 39.2 221.7)">10<tspan font-size="3" dy="-1.6">3</tspan></text>
<text x="39.2" y="211.8" font-size="4.6" text-anchor="middle" fill="#444" style="stroke:none" transform="rotate(-90 39.2 211.8)">10<tspan font-size="3" dy="-1.6">4</tspan></text>
<text x="39.2" y="301.3" font-size="4.6" text-anchor="middle" fill="#444" style="stroke:none" transform="rotate(-90 39.2 301.3)">10<tspan font-size="3" dy="-1.6">0</tspan></text>
<text x="39.2" y="291.3" font-size="4.6" text-anchor="middle" fill="#444" style="stroke:none" transform="rotate(-90 39.2 291.3)">10<tspan font-size="3" dy="-1.6">1</tspan></text>
<text x="39.2" y="281.2" font-size="4.6" text-anchor="middle" fill="#444" style="stroke:none" transform="rotate(-90 39.2 281.2)">10<tspan font-size="3" dy="-1.6">2</tspan></text>
<text x="39.2" y="271.2" font-size="4.6" text-anchor="middle" fill="#444" style="stroke:none" transform="rotate(-90 39.2 271.2)">10<tspan font-size="3" dy="-1.6">3</tspan></text>
<text x="39.2" y="261.2" font-size="4.6" text-anchor="middle" fill="#444" style="stroke:none" transform="rotate(-90 39.2 261.2)">10<tspan font-size="3" dy="-1.6">4</tspan></text>
<text x="44.2" y="308.4" font-size="4.6" text-anchor="middle" fill="#444" style="stroke:none">10<tspan font-size="3" dy="-1.6">0</tspan></text>
<text x="54.9" y="308.4" font-size="4.6" text-anchor="middle" fill="#444" style="stroke:none">10<tspan font-size="3" dy="-1.6">1</tspan></text>
<text x="65.6" y="308.4" font-size="4.6" text-anchor="middle" fill="#444" style="stroke:none">10<tspan font-size="3" dy="-1.6">2</tspan></text>
<text x="76.3" y="308.4" font-size="4.6" text-anchor="middle" fill="#444" style="stroke:none">10<tspan font-size="3" dy="-1.6">3</tspan></text>
<text x="87.0" y="308.4" font-size="4.6" text-anchor="middle" fill="#444" style="stroke:none">10<tspan font-size="3" dy="-1.6">4</tspan></text>
<text x="96.6" y="308.4" font-size="4.6" text-anchor="middle" fill="#444" style="stroke:none">10<tspan font-size="3" dy="-1.6">0</tspan></text>
<text x="107.2" y="308.4" font-size="4.6" text-anchor="middle" fill="#444" style="stroke:none">10<tspan font-size="3" dy="-1.6">1</tspan></text>
<text x="117.7" y="308.4" font-size="4.6" text-anchor="middle" fill="#444" style="stroke:none">10<tspan font-size="3" dy="-1.6">2</tspan></text>
<text x="128.3" y="308.4" font-size="4.6" text-anchor="middle" fill="#444" style="stroke:none">10<tspan font-size="3" dy="-1.6">3</tspan></text>
<text x="138.9" y="308.4" font-size="4.6" text-anchor="middle" fill="#444" style="stroke:none">10<tspan font-size="3" dy="-1.6">4</tspan></text>
<text x="149.2" y="308.4" font-size="4.6" text-anchor="middle" fill="#444" style="stroke:none">10<tspan font-size="3" dy="-1.6">0</tspan></text>
<text x="159.8" y="308.4" font-size="4.6" text-anchor="middle" fill="#444" style="stroke:none">10<tspan font-size="3" dy="-1.6">1</tspan></text>
<text x="170.4" y="308.4" font-size="4.6" text-anchor="middle" fill="#444" style="stroke:none">10<tspan font-size="3" dy="-1.6">2</tspan></text>
<text x="181.0" y="308.4" font-size="4.6" text-anchor="middle" fill="#444" style="stroke:none">10<tspan font-size="3" dy="-1.6">3</tspan></text>
<text x="191.6" y="308.4" font-size="4.6" text-anchor="middle" fill="#444" style="stroke:none">10<tspan font-size="3" dy="-1.6">4</tspan></text>
<text x="201.1" y="308.4" font-size="4.6" text-anchor="middle" fill="#444" style="stroke:none">10<tspan font-size="3" dy="-1.6">0</tspan></text>
<text x="211.9" y="308.4" font-size="4.6" text-anchor="middle" fill="#444" style="stroke:none">10<tspan font-size="3" dy="-1.6">1</tspan></text>
<text x="222.7" y="308.4" font-size="4.6" text-anchor="middle" fill="#444" style="stroke:none">10<tspan font-size="3" dy="-1.6">2</tspan></text>
<text x="233.4" y="308.4" font-size="4.6" text-anchor="middle" fill="#444" style="stroke:none">10<tspan font-size="3" dy="-1.6">3</tspan></text>
<text x="244.2" y="308.4" font-size="4.6" text-anchor="middle" fill="#444" style="stroke:none">10<tspan font-size="3" dy="-1.6">4</tspan></text>
<text x="252.3" y="308.4" font-size="4.6" text-anchor="middle" fill="#444" style="stroke:none">10<tspan font-size="3" dy="-1.6">0</tspan></text>
<text x="263.2" y="308.4" font-size="4.6" text-anchor="middle" fill="#444" style="stroke:none">10<tspan font-size="3" dy="-1.6">1</tspan></text>
<text x="274.2" y="308.4" font-size="4.6" text-anchor="middle" fill="#444" style="stroke:none">10<tspan font-size="3" dy="-1.6">2</tspan></text>
<text x="285.1" y="308.4" font-size="4.6" text-anchor="middle" fill="#444" style="stroke:none">10<tspan font-size="3" dy="-1.6">3</tspan></text>
<text x="296.0" y="308.4" font-size="4.6" text-anchor="middle" fill="#444" style="stroke:none">10<tspan font-size="3" dy="-1.6">4</tspan></text>
<text x="324.1" y="255.8" font-size="10.1" text-anchor="middle" fill="#1a1a1a" transform="rotate(-90 324.1 255.8)" textLength="58.3" lengthAdjust="spacingAndGlyphs">% of CCR7 in</text>
<text x="334.6" y="255.0" font-size="10.1" text-anchor="middle" fill="#1a1a1a" transform="rotate(-90 334.6 255.0)" textLength="81.5" lengthAdjust="spacingAndGlyphs">CFSE<tspan font-size="6.6" dy="-3.6">dim</tspan><tspan dy="3.6"> TK+ cells</tspan></text>
<text x="354.5" y="294.3" font-size="8.8" text-anchor="end" fill="#1a1a1a">0</text>
<text x="354.5" y="280.1" font-size="8.8" text-anchor="end" fill="#1a1a1a">20</text>
<text x="354.5" y="265.90000000000003" font-size="8.8" text-anchor="end" fill="#1a1a1a">40</text>
<text x="354.5" y="251.70000000000002" font-size="8.8" text-anchor="end" fill="#1a1a1a">60</text>
<text x="354.5" y="237.5" font-size="8.8" text-anchor="end" fill="#1a1a1a">80</text>
<text x="354.5" y="223.3" font-size="8.8" text-anchor="end" fill="#1a1a1a">100</text>
<line x1="357.6" y1="218.3" x2="357.6" y2="291.8" stroke="#000" stroke-width="1.4"/>
<line x1="365.85" y1="258.8" x2="365.85" y2="265.7" stroke="#000" stroke-width="1.3"/>
<rect x="362.4" y="265.7" width="6.900000000000034" height="25.600000000000023" fill="#000"/>
<line x1="372.4" y1="248.0" x2="372.4" y2="258.2" stroke="#000" stroke-width="1.3"/>
<rect x="369.8" y="258.7" width="5.199999999999989" height="32.60000000000002" fill="#767676" stroke="#000" stroke-width="1"/>
<line x1="378.95000000000005" y1="257.7" x2="378.95000000000005" y2="266.8" stroke="#000" stroke-width="1.3"/>
<rect x="376.6" y="267.3" width="4.699999999999989" height="24.0" fill="#d6d6d6" stroke="#000" stroke-width="1"/>
<line x1="385.25" y1="256.8" x2="385.25" y2="269.1" stroke="#000" stroke-width="1.3"/>
<rect x="382.9" y="269.6" width="4.7000000000000455" height="21.69999999999999" fill="#fff" stroke="#000" stroke-width="1"/>
<line x1="391.55" y1="240.0" x2="391.55" y2="248.0" stroke="#000" stroke-width="1.3"/>
<rect x="388.1" y="248.0" width="6.899999999999977" height="43.30000000000001" fill="#000"/>
<g fill="#e0e0e0"><rect x="390.18" y="249.30" width="1.0" height="1.0"/><rect x="391.93" y="251.05" width="1.0" height="1.0"/><rect x="390.18" y="252.80" width="1.0" height="1.0"/><rect x="391.93" y="254.55" width="1.0" height="1.0"/><rect x="390.18" y="256.30" width="1.0" height="1.0"/><rect x="391.93" y="258.05" width="1.0" height="1.0"/><rect x="390.18" y="259.80" width="1.0" height="1.0"/><rect x="391.93" y="261.55" width="1.0" height="1.0"/><rect x="390.18" y="263.30" width="1.0" height="1.0"/><rect x="391.93" y="265.05" width="1.0" height="1.0"/><rect x="390.18" y="266.80" width="1.0" height="1.0"/><rect x="391.93" y="268.55" width="1.0" height="1.0"/><rect x="390.18" y="270.30" width="1.0" height="1.0"/><rect x="391.93" y="272.05" width="1.0" height="1.0"/><rect x="390.18" y="273.80" width="1.0" height="1.0"/><rect x="391.93" y="275.55" width="1.0" height="1.0"/><rect x="390.18" y="277.30" width="1.0" height="1.0"/><rect x="391.93" y="279.05" width="1.0" height="1.0"/><rect x="390.18" y="280.80" width="1.0" height="1.0"/><rect x="391.93" y="282.55" width="1.0" height="1.0"/><rect x="390.18" y="284.30" width="1.0" height="1.0"/><rect x="391.93" y="286.05" width="1.0" height="1.0"/><rect x="390.18" y="287.80" width="1.0" height="1.0"/></g>
<line x1="405.4" y1="258.1" x2="405.4" y2="264.5" stroke="#000" stroke-width="1.3"/>
<rect x="401.9" y="264.5" width="7.0" height="26.80000000000001" fill="#000"/>
<line x1="411.79999999999995" y1="253.3" x2="411.79999999999995" y2="266.4" stroke="#000" stroke-width="1.3"/>
<rect x="409.4" y="266.9" width="4.800000000000011" height="24.400000000000034" fill="#767676" stroke="#000" stroke-width="1"/>
<line x1="418.3" y1="257.0" x2="418.3" y2="268.8" stroke="#000" stroke-width="1.3"/>
<rect x="416.0" y="269.3" width="4.600000000000023" height="22.0" fill="#d6d6d6" stroke="#000" stroke-width="1"/>
<line x1="424.25" y1="271.4" x2="424.25" y2="277.3" stroke="#000" stroke-width="1.3"/>
<rect x="422.2" y="277.8" width="4.100000000000023" height="13.5" fill="#fff" stroke="#000" stroke-width="1"/>
<line x1="431.0" y1="253.3" x2="431.0" y2="267.7" stroke="#000" stroke-width="1.3"/>
<rect x="427.3" y="267.7" width="7.399999999999977" height="23.600000000000023" fill="#000"/>
<g fill="#e0e0e0"><rect x="429.62" y="269.00" width="1.0" height="1.0"/><rect x="431.38" y="270.75" width="1.0" height="1.0"/><rect x="429.62" y="272.50" width="1.0" height="1.0"/><rect x="431.38" y="274.25" width="1.0" height="1.0"/><rect x="429.62" y="276.00" width="1.0" height="1.0"/><rect x="431.38" y="277.75" width="1.0" height="1.0"/><rect x="429.62" y="279.50" width="1.0" height="1.0"/><rect x="431.38" y="281.25" width="1.0" height="1.0"/><rect x="429.62" y="283.00" width="1.0" height="1.0"/><rect x="431.38" y="284.75" width="1.0" height="1.0"/><rect x="429.62" y="286.50" width="1.0" height="1.0"/><rect x="431.38" y="288.25" width="1.0" height="1.0"/></g>
<line x1="356.90000000000003" y1="291.6" x2="438.7" y2="291.6" stroke="#000" stroke-width="1.8"/>
<path d="M364.4 246.6 V244.1 H371.9 V246.6" fill="none" stroke="#000" stroke-width="1.2"/>
<polygon points="368.10,239.75 368.59,240.93 369.86,241.03 368.89,241.86 369.19,243.10 368.10,242.43 367.01,243.10 367.31,241.86 366.34,241.03 367.61,240.93" fill="#000"/>
<path d="M371.9 246.6 V244.1 H380.0 V246.6" fill="none" stroke="#000" stroke-width="1.2"/>
<polygon points="375.05,239.65 375.54,240.83 376.81,240.93 375.84,241.76 376.14,243.00 375.05,242.33 373.96,243.00 374.26,241.76 373.29,240.93 374.56,240.83" fill="#000"/>
<polygon points="378.15,239.65 378.64,240.83 379.91,240.93 378.94,241.76 379.24,243.00 378.15,242.33 377.06,243.00 377.36,241.76 376.39,240.93 377.66,240.83" fill="#000"/>
<path d="M371.3 236.6 V234.1 H385.0 V236.6" fill="none" stroke="#000" stroke-width="1.2"/>
<polygon points="375.35,229.95 375.84,231.13 377.11,231.23 376.14,232.06 376.44,233.30 375.35,232.63 374.26,233.30 374.56,232.06 373.59,231.23 374.86,231.13" fill="#000"/>
<polygon points="378.45,229.95 378.94,231.13 380.21,231.23 379.24,232.06 379.54,233.30 378.45,232.63 377.36,233.30 377.66,232.06 376.69,231.23 377.96,231.13" fill="#000"/>
<polygon points="402.55,253.15 403.04,254.33 404.31,254.43 403.34,255.26 403.64,256.50 402.55,255.83 401.46,256.50 401.76,255.26 400.79,254.43 402.06,254.33" fill="#000"/>
<polygon points="405.65,253.15 406.14,254.33 407.41,254.43 406.44,255.26 406.74,256.50 405.65,255.83 404.56,256.50 404.86,255.26 403.89,254.43 405.16,254.33" fill="#000"/>
<polygon points="409.70,250.85 410.19,252.03 411.46,252.13 410.49,252.96 410.79,254.20 409.70,253.53 408.61,254.20 408.91,252.96 407.94,252.13 409.21,252.03" fill="#000"/>
<polygon points="412.80,250.85 413.29,252.03 414.56,252.13 413.59,252.96 413.89,254.20 412.80,253.53 411.71,254.20 412.01,252.96 411.04,252.13 412.31,252.03" fill="#000"/>
<polygon points="417.80,253.85 418.29,255.03 419.56,255.13 418.59,255.96 418.89,257.20 417.80,256.53 416.71,257.20 417.01,255.96 416.04,255.13 417.31,255.03" fill="#000"/>
<text x="380.2" y="305.6" font-size="9.2" text-anchor="middle" fill="#1a1a1a">1<tspan font-size="6.50" dy="-2.30">st</tspan></text>
<text x="419.1" y="305.6" font-size="9.2" text-anchor="middle" fill="#1a1a1a">2<tspan font-size="6.50" dy="-2.30">nd</tspan></text>
<text x="1.8" y="347.5" font-size="13.5" text-anchor="start" font-weight="bold" fill="#000">C</text>
<text x="128.6" y="354.6" font-size="9.6" text-anchor="middle" fill="#1a1a1a" textLength="58" lengthAdjust="spacingAndGlyphs">baCD3/CD28</text>
<text x="221.5" y="354.7" font-size="9.6" text-anchor="middle" fill="#1a1a1a">aCD3</text>
<line x1="42.5" y1="361.5" x2="195.2" y2="361.5" stroke="#000" stroke-width="1.6"/>
<text x="66.5" y="372.8" font-size="9.8" text-anchor="middle" fill="#1a1a1a">IL-7/IL-15</text>
<text x="119" y="372.8" font-size="9.8" text-anchor="middle" fill="#1a1a1a">IL-7</text>
<text x="171.6" y="372.8" font-size="9.8" text-anchor="middle" fill="#1a1a1a">IL-2</text>
<text x="222.2" y="372.8" font-size="9.8" text-anchor="middle" fill="#1a1a1a">IL-2</text>
<text x="273.6" y="372.8" font-size="9.8" text-anchor="middle" fill="#1a1a1a">PBL</text>
<text x="10.8" y="398.3" font-size="9.2" text-anchor="middle" fill="#1a1a1a">1<tspan font-size="6.50" dy="-2.30">st</tspan></text>
<text x="11.2" y="452.3" font-size="9.2" text-anchor="middle" fill="#1a1a1a">2<tspan font-size="6.50" dy="-2.30">nd</tspan></text>
<text x="30.0" y="424.3" font-size="9.6" text-anchor="middle" fill="#1a1a1a" transform="rotate(-90 30.0 424.3)">CD127</text>
<line x1="26.6" y1="450.5" x2="26.6" y2="486.6" stroke="#000" stroke-width="1.6"/>
<line x1="25.8" y1="486.6" x2="67.0" y2="486.6" stroke="#000" stroke-width="1.6"/>
<path d="M26.6 446.5 L23.400000000000002 452.5 L29.8 452.5 Z" fill="#000"/>
<path d="M71.0 486.6 L65.0 483.40000000000003 L65.0 489.8 Z" fill="#000"/>
<text x="94.6" y="494.0" font-size="9.6" text-anchor="middle" fill="#1a1a1a">CFSE</text>
<rect x="43.1" y="378.1" width="47.7" height="44.7" fill="none" stroke="#9c9c9c" stroke-width="1.1"/>
<path d="M44.9 420.6 43.9 420.7 43.3 420.0 43.0 399.5 43.2 396.2 45.2 393.5 51.1 390.9 58.6 391.0 64.1 390.0 70.6 391.5 73.0 395.2 73.4 401.5 72.8 405.5 62.9 406.7 46.6 406.1 44.8 406.8 44.7 408.8 45.4 409.5 51.4 410.8 57.1 408.8 61.1 408.9 66.3 410.1 71.3 412.4 72.2 413.5 71.8 414.9 69.8 415.2 63.6 412.8 58.6 411.6 52.6 413.8 45.4 412.9 44.8 413.5 45.3 419.5 44.9 420.6Z" fill="#e4e4e4" fill-opacity="1.0" fill-rule="evenodd"/>
<g fill="#111" opacity="0.9"><rect x="61.2" y="414.6" width="1.0" height="1.0"/><rect x="59.4" y="414.6" width="1.1" height="1.1"/><rect x="57.9" y="417.9" width="0.9" height="0.9"/><rect x="58.2" y="413.6" width="0.8" height="0.8"/><rect x="50.9" y="389.7" width="1.1" height="1.1"/><rect x="56.4" y="408.2" width="0.8" height="0.8"/><rect x="72.7" y="420.0" width="0.8" height="0.8"/><rect x="71.1" y="407.3" width="0.7" height="0.7"/><rect x="73.3" y="392.8" width="1.1" height="1.1"/><rect x="58.9" y="420.4" width="1.0" height="1.0"/><rect x="66.1" y="416.4" width="0.7" height="0.7"/><rect x="60.6" y="419.3" width="0.7" height="0.7"/><rect x="45.0" y="419.0" width="0.8" height="0.8"/><rect x="63.2" y="407.5" width="0.7" height="0.7"/><rect x="54.0" y="418.4" width="0.7" height="0.7"/><rect x="62.5" y="416.7" width="0.7" height="0.7"/><rect x="48.4" y="390.7" width="0.7" height="0.7"/><rect x="55.0" y="408.7" width="1.0" height="1.0"/><rect x="61.8" y="418.3" width="0.6" height="0.6"/><rect x="61.7" y="417.4" width="0.9" height="0.9"/><rect x="56.9" y="414.4" width="1.0" height="1.0"/><rect x="73.2" y="419.9" width="0.7" height="0.7"/><rect x="65.7" y="417.7" width="1.0" height="1.0"/><rect x="52.7" y="415.2" width="1.1" height="1.1"/><rect x="62.8" y="413.1" width="0.9" height="0.9"/><rect x="69.8" y="411.6" width="0.8" height="0.8"/><rect x="69.5" y="417.3" width="0.8" height="0.8"/><rect x="58.3" y="418.7" width="0.6" height="0.6"/><rect x="73.1" y="393.1" width="0.7" height="0.7"/><rect x="67.4" y="421.4" width="1.1" height="1.1"/><rect x="72.3" y="419.5" width="0.9" height="0.9"/><rect x="45.5" y="414.9" width="0.7" height="0.7"/><rect x="70.3" y="419.0" width="0.9" height="0.9"/><rect x="59.3" y="415.2" width="0.9" height="0.9"/><rect x="74.0" y="403.1" width="1.0" height="1.0"/><rect x="60.0" y="408.3" width="1.1" height="1.1"/><rect x="70.2" y="411.8" width="1.1" height="1.1"/><rect x="53.3" y="416.6" width="0.7" height="0.7"/><rect x="59.1" y="412.2" width="0.6" height="0.6"/><rect x="50.3" y="420.2" width="0.8" height="0.8"/><rect x="52.1" y="414.7" width="1.0" height="1.0"/><rect x="45.3" y="417.0" width="0.8" height="0.8"/><rect x="56.7" y="390.7" width="0.9" height="0.9"/><rect x="46.7" y="417.8" width="1.0" height="1.0"/><rect x="60.9" y="414.8" width="0.9" height="0.9"/><rect x="58.2" y="419.8" width="1.1" height="1.1"/><rect x="58.8" y="419.3" width="0.7" height="0.7"/><rect x="47.4" y="418.9" width="0.8" height="0.8"/><rect x="68.9" y="407.1" width="0.7" height="0.7"/><rect x="62.8" y="407.5" width="1.0" height="1.0"/><rect x="71.0" y="391.5" width="1.0" height="1.0"/><rect x="66.4" y="417.8" width="0.8" height="0.8"/><rect x="48.2" y="414.0" width="0.7" height="0.7"/><rect x="71.6" y="421.2" width="1.0" height="1.0"/><rect x="51.2" y="390.3" width="1.0" height="1.0"/><rect x="73.2" y="406.7" width="0.9" height="0.9"/><rect x="65.0" y="421.0" width="1.0" height="1.0"/><rect x="58.4" y="407.7" width="1.0" height="1.0"/><rect x="62.2" y="416.4" width="0.8" height="0.8"/><rect x="47.2" y="414.7" width="1.1" height="1.1"/><rect x="46.4" y="416.4" width="0.7" height="0.7"/><rect x="55.8" y="418.2" width="0.9" height="0.9"/><rect x="56.6" y="420.9" width="0.7" height="0.7"/><rect x="46.7" y="416.1" width="0.7" height="0.7"/><rect x="46.3" y="418.9" width="1.0" height="1.0"/><rect x="46.8" y="420.5" width="0.9" height="0.9"/><rect x="45.5" y="421.2" width="0.8" height="0.8"/><rect x="50.3" y="419.0" width="0.7" height="0.7"/><rect x="70.9" y="417.5" width="0.7" height="0.7"/><rect x="51.9" y="414.7" width="0.9" height="0.9"/><rect x="67.4" y="415.3" width="0.9" height="0.9"/><rect x="71.4" y="406.2" width="0.9" height="0.9"/><rect x="68.2" y="416.0" width="1.1" height="1.1"/><rect x="45.4" y="417.3" width="1.0" height="1.0"/><rect x="50.9" y="410.3" width="0.9" height="0.9"/><rect x="63.7" y="417.4" width="0.8" height="0.8"/><rect x="72.0" y="419.9" width="0.7" height="0.7"/><rect x="65.3" y="421.0" width="0.9" height="0.9"/><rect x="57.2" y="415.2" width="1.0" height="1.0"/><rect x="55.0" y="421.4" width="0.9" height="0.9"/><rect x="59.4" y="407.9" width="1.1" height="1.1"/><rect x="55.3" y="406.6" width="0.9" height="0.9"/><rect x="54.5" y="415.1" width="0.7" height="0.7"/><rect x="66.6" y="419.2" width="1.0" height="1.0"/><rect x="68.8" y="410.3" width="1.1" height="1.1"/><rect x="68.2" y="409.9" width="0.9" height="0.9"/><rect x="67.3" y="419.7" width="0.7" height="0.7"/><rect x="49.8" y="390.6" width="0.7" height="0.7"/><rect x="59.0" y="413.3" width="1.0" height="1.0"/><rect x="47.0" y="414.6" width="0.7" height="0.7"/><rect x="57.6" y="413.2" width="0.9" height="0.9"/><rect x="68.6" y="415.7" width="0.7" height="0.7"/><rect x="58.5" y="413.5" width="0.7" height="0.7"/><rect x="64.5" y="416.1" width="0.7" height="0.7"/><rect x="74.2" y="396.3" width="1.0" height="1.0"/><rect x="53.6" y="419.9" width="1.0" height="1.0"/><rect x="66.0" y="416.3" width="1.0" height="1.0"/><rect x="47.3" y="417.7" width="1.1" height="1.1"/><rect x="47.3" y="407.2" width="0.7" height="0.7"/><rect x="45.3" y="409.4" width="0.9" height="0.9"/><rect x="65.6" y="389.7" width="0.8" height="0.8"/><rect x="66.6" y="418.9" width="0.9" height="0.9"/><rect x="58.3" y="421.5" width="1.1" height="1.1"/><rect x="63.5" y="412.9" width="0.6" height="0.6"/><rect x="56.1" y="414.1" width="1.0" height="1.0"/><rect x="66.8" y="414.8" width="0.8" height="0.8"/><rect x="71.6" y="417.5" width="0.9" height="0.9"/><rect x="47.3" y="419.8" width="0.7" height="0.7"/><rect x="53.4" y="409.3" width="1.0" height="1.0"/><rect x="58.8" y="418.4" width="0.8" height="0.8"/><rect x="67.5" y="406.7" width="0.8" height="0.8"/><rect x="64.9" y="416.1" width="0.6" height="0.6"/><rect x="53.5" y="420.2" width="0.6" height="0.6"/><rect x="47.9" y="410.2" width="1.1" height="1.1"/><rect x="56.4" y="407.3" width="0.9" height="0.9"/><rect x="48.7" y="419.2" width="0.7" height="0.7"/><rect x="47.9" y="409.9" width="1.0" height="1.0"/><rect x="50.9" y="414.3" width="0.9" height="0.9"/><rect x="58.3" y="419.0" width="1.0" height="1.0"/><rect x="55.0" y="415.3" width="0.6" height="0.6"/><rect x="51.9" y="418.6" width="0.8" height="0.8"/><rect x="60.7" y="419.3" width="0.8" height="0.8"/><rect x="65.4" y="420.7" width="1.1" height="1.1"/><rect x="56.7" y="408.7" width="0.9" height="0.9"/><rect x="52.2" y="418.3" width="0.6" height="0.6"/><rect x="55.9" y="420.0" width="1.0" height="1.0"/><rect x="64.8" y="389.9" width="0.8" height="0.8"/><rect x="65.6" y="419.2" width="1.0" height="1.0"/><rect x="46.0" y="408.4" width="0.7" height="0.7"/><rect x="49.1" y="421.0" width="0.7" height="0.7"/><rect x="61.3" y="421.0" width="0.6" height="0.6"/><rect x="63.3" y="409.5" width="1.1" height="1.1"/><rect x="55.1" y="413.6" width="0.8" height="0.8"/><rect x="54.4" y="389.5" width="0.8" height="0.8"/><rect x="48.9" y="391.5" width="0.9" height="0.9"/><rect x="64.6" y="409.3" width="1.1" height="1.1"/><rect x="61.7" y="413.9" width="0.8" height="0.8"/><rect x="46.4" y="391.7" width="0.6" height="0.6"/><rect x="62.3" y="421.2" width="0.8" height="0.8"/><rect x="55.8" y="390.6" width="0.9" height="0.9"/><rect x="71.7" y="419.2" width="0.8" height="0.8"/><rect x="64.2" y="406.6" width="1.0" height="1.0"/><rect x="68.5" y="389.5" width="0.8" height="0.8"/><rect x="56.0" y="414.1" width="1.0" height="1.0"/><rect x="62.0" y="413.9" width="0.7" height="0.7"/><rect x="50.9" y="389.5" width="0.8" height="0.8"/><rect x="56.4" y="417.7" width="0.7" height="0.7"/><rect x="46.6" y="418.6" width="0.9" height="0.9"/><rect x="62.5" y="413.3" width="0.6" height="0.6"/><rect x="57.8" y="418.8" width="0.8" height="0.8"/><rect x="66.5" y="419.7" width="0.8" height="0.8"/><rect x="72.4" y="419.1" width="0.7" height="0.7"/><rect x="68.0" y="417.1" width="1.0" height="1.0"/><rect x="56.7" y="407.8" width="0.8" height="0.8"/><rect x="69.0" y="417.0" width="0.8" height="0.8"/><rect x="67.1" y="416.7" width="0.9" height="0.9"/><rect x="59.2" y="390.7" width="0.6" height="0.6"/><rect x="64.1" y="414.2" width="0.9" height="0.9"/><rect x="48.1" y="421.3" width="0.9" height="0.9"/><rect x="59.5" y="407.5" width="0.7" height="0.7"/><rect x="50.0" y="418.4" width="0.8" height="0.8"/><rect x="58.0" y="420.3" width="0.8" height="0.8"/><rect x="46.2" y="420.3" width="1.1" height="1.1"/><rect x="55.4" y="415.7" width="1.0" height="1.0"/><rect x="59.7" y="420.5" width="0.8" height="0.8"/><rect x="53.9" y="407.1" width="1.1" height="1.1"/><rect x="56.6" y="415.0" width="0.9" height="0.9"/><rect x="66.5" y="418.9" width="1.0" height="1.0"/><rect x="45.3" y="393.2" width="1.0" height="1.0"/><rect x="60.6" y="407.9" width="0.8" height="0.8"/><rect x="55.8" y="417.7" width="0.7" height="0.7"/><rect x="72.2" y="417.8" width="0.8" height="0.8"/><rect x="49.5" y="416.7" width="0.7" height="0.7"/><rect x="72.0" y="420.0" width="0.9" height="0.9"/><rect x="54.5" y="421.4" width="0.7" height="0.7"/><rect x="54.0" y="418.8" width="0.9" height="0.9"/><rect x="70.6" y="411.1" width="0.8" height="0.8"/><rect x="73.1" y="405.9" width="0.8" height="0.8"/><rect x="67.4" y="416.4" width="1.0" height="1.0"/><rect x="65.2" y="409.3" width="1.0" height="1.0"/></g>
<path d="M59.9 393.5 56.9 393.6 54.3 392.8 55.4 392.3 60.9 392.1 63.9 391.2 67.2 392.5 62.4 392.8 59.9 393.5Z M45.1 402.3 44.4 402.0 43.8 400.0 44.9 397.6 45.6 399.8 45.1 402.3Z M53.1 400.0 51.4 399.8 54.1 399.8 53.1 400.0Z M71.6 403.7 71.6 400.1 71.6 403.7Z" fill="#222" fill-opacity="1.0" fill-rule="evenodd"/>
<path d="M45.4 421.0 43.6 421.1 43.0 420.0 43.0 396.8 44.9 393.5 46.4 392.4 51.1 390.6 58.4 390.8 64.3 389.8 70.8 391.4 73.3 395.2 73.5 404.2 72.8 405.7 63.1 407.0 46.1 406.5 45.1 407.0 45.0 408.8 46.0 409.5 51.4 410.6 58.6 408.4 65.6 409.7 71.8 412.4 72.4 413.5 72.1 415.1 69.8 415.6 63.9 413.2 58.6 412.0 52.9 414.2 48.1 414.2 45.6 413.4 46.0 420.0 45.4 421.0 M51.4 420.8 48.3 420.0 47.2 416.2 47.9 414.5 49.1 414.8 52.5 417.8 52.5 419.0 51.4 420.8" fill="none" stroke="#111" stroke-width="0.9" stroke-linejoin="round"/>
<path d="M44.9 420.5 43.9 420.6 43.3 419.8 43.0 399.5 43.3 396.2 45.3 393.5 51.1 390.9 58.6 391.0 64.1 390.0 70.6 391.5 73.0 395.2 73.3 402.0 72.8 405.5 62.9 406.6 46.6 406.1 44.8 406.8 44.6 408.8 45.4 409.6 51.4 410.8 57.1 408.8 61.1 408.9 66.3 410.2 71.3 412.4 72.1 413.5 71.8 414.9 69.8 415.1 63.8 412.8 58.6 411.6 52.9 413.7 45.4 412.8 44.8 413.5 45.2 419.2 44.9 420.5" fill="none" stroke="#222" stroke-width="0.7" stroke-linejoin="round"/>
<path d="M44.4 406.5 43.9 406.7 43.3 405.5 43.5 396.5 45.8 393.5 48.9 392.0 51.1 391.3 58.6 391.3 64.6 390.3 70.1 391.6 72.6 394.8 73.1 401.8 72.9 404.8 72.3 405.4 69.8 405.0 66.8 405.8 62.6 406.2 57.1 405.6 49.4 406.0 46.9 405.6 44.4 406.5 M53.2 395.8 53.6 395.0 52.6 394.1 50.5 395.0 51.4 395.7 53.2 395.8 M66.3 403.2 67.8 402.3 68.4 400.8 67.1 400.8 65.7 401.8 65.2 403.0 66.3 403.2 M57.9 404.0 57.6 402.8 55.9 402.8 56.4 404.0 57.9 404.0 M71.3 414.8 69.8 414.8 64.0 412.5 58.4 411.2 52.6 413.4 45.4 412.4 43.9 412.8 43.1 412.2 43.0 409.8 43.9 408.8 45.1 409.8 51.6 411.2 57.1 409.2 60.9 409.1 66.1 410.4 71.1 412.6 71.8 413.8 71.3 414.8 M44.4 419.8 44.4 419.1 44.4 419.8" fill="none" stroke="#444" stroke-width="0.6" stroke-linejoin="round"/>
<path d="M44.6 406.0 43.9 406.0 43.5 405.2 43.6 396.8 46.1 394.0 49.3 392.2 53.4 391.4 58.6 391.5 64.6 390.5 69.8 391.8 72.4 395.0 72.9 402.0 72.7 404.5 72.1 405.2 71.1 405.2 70.4 404.2 69.9 396.5 68.3 394.2 66.3 393.9 64.5 394.8 66.2 397.2 68.6 398.1 68.8 398.8 68.3 399.5 64.0 401.0 60.6 402.8 57.7 401.5 54.9 401.3 54.0 402.0 53.6 404.6 51.1 404.5 48.9 405.3 46.9 404.6 46.1 405.5 44.6 406.0 M47.8 399.8 49.6 398.1 55.6 397.5 56.5 396.5 56.4 395.5 54.5 394.0 51.1 393.7 47.9 395.6 46.9 397.0 46.6 399.2 47.8 399.8 M63.3 394.2 62.5 394.2 63.3 394.2 M62.4 405.3 59.7 405.0 60.9 403.6 62.4 405.3 M71.1 414.4 60.4 411.4 57.9 410.0 60.4 409.3 65.8 410.6 71.1 413.2 71.1 414.4 M52.6 413.0 43.6 412.2 43.1 411.8 43.1 409.9 44.1 409.6 50.1 411.4 55.4 411.0 54.9 412.0 52.6 413.0" fill="none" stroke="#444" stroke-width="0.6" stroke-linejoin="round"/>
<path d="M71.8 405.0 71.1 404.8 70.8 404.0 70.6 397.0 68.6 393.9 63.9 393.2 57.1 394.2 52.8 393.0 52.5 392.2 53.9 391.7 58.6 391.8 63.9 390.7 69.3 392.1 72.2 395.5 72.6 401.8 72.4 404.5 71.8 405.0 M48.4 394.5 47.6 394.5 49.3 393.8 48.4 394.5 M45.4 405.5 43.9 405.2 43.5 399.5 44.1 396.7 46.4 395.9 45.9 398.2 46.0 404.8 45.4 405.5 M60.4 401.3 51.6 400.9 49.6 400.2 49.3 399.5 49.9 398.8 51.1 398.6 60.4 399.3 64.1 397.9 67.6 398.8 66.0 399.8 60.4 401.3 M66.6 412.5 60.6 411.1 59.7 410.0 61.1 409.7 65.7 411.0 66.8 411.8 66.6 412.5 M47.9 412.1 45.4 411.4 43.6 411.8 43.1 410.4 44.1 410.0 47.3 411.2 47.9 412.1" fill="none" stroke="#333" stroke-width="0.6" stroke-linejoin="round"/>
<path d="M71.8 404.5 71.3 404.2 71.0 402.0 71.3 397.2 68.8 393.5 63.9 392.8 57.1 393.8 53.5 392.5 54.9 392.0 60.4 391.9 63.9 391.0 68.8 392.5 71.6 395.8 72.2 401.0 71.8 404.5 M44.9 403.3 43.7 399.8 44.3 397.5 45.1 397.1 45.7 400.8 44.9 403.3 M61.1 400.5 51.9 400.3 50.2 399.5 53.1 399.1 59.9 400.0 63.9 398.9 65.4 399.0 63.6 400.0 61.1 400.5 M44.1 411.1 43.6 410.6 44.1 411.1" fill="none" stroke="#222" stroke-width="0.6" stroke-linejoin="round"/>
<line x1="66.6" y1="378.1" x2="66.6" y2="422.8" stroke="#9a9a9a" stroke-width="1.1"/>
<line x1="43.1" y1="407.2" x2="90.8" y2="407.2" stroke="#9a9a9a" stroke-width="1.1"/>
<rect x="94.7" y="378.1" width="47.8" height="44.7" fill="none" stroke="#9c9c9c" stroke-width="1.1"/>
<path d="M97.2 420.5 96.2 420.0 95.2 409.8 95.3 397.8 97.6 393.2 104.0 391.3 120.2 391.0 125.0 391.7 126.3 401.0 126.1 406.0 125.2 407.3 123.2 407.6 120.2 406.8 113.0 406.8 109.0 407.4 99.0 407.2 98.2 408.0 99.0 409.0 104.0 410.6 109.5 408.2 111.2 408.1 119.0 410.3 123.0 410.6 123.6 411.2 123.5 412.5 116.5 412.6 111.0 411.3 105.2 413.3 103.5 413.4 97.7 411.9 97.4 412.5 97.9 417.0 97.2 420.5Z" fill="#e4e4e4" fill-opacity="1.0" fill-rule="evenodd"/>
<g fill="#111" opacity="0.9"><rect x="127.5" y="405.8" width="0.7" height="0.7"/><rect x="105.5" y="414.9" width="1.0" height="1.0"/><rect x="108.5" y="420.4" width="0.8" height="0.8"/><rect x="96.6" y="419.3" width="0.8" height="0.8"/><rect x="119.1" y="416.5" width="0.7" height="0.7"/><rect x="112.6" y="415.2" width="1.0" height="1.0"/><rect x="107.6" y="412.5" width="0.7" height="0.7"/><rect x="104.1" y="419.2" width="1.0" height="1.0"/><rect x="109.7" y="413.4" width="0.9" height="0.9"/><rect x="111.4" y="412.4" width="0.7" height="0.7"/><rect x="116.1" y="412.9" width="0.9" height="0.9"/><rect x="117.7" y="410.0" width="1.0" height="1.0"/><rect x="106.0" y="413.8" width="0.9" height="0.9"/><rect x="121.3" y="413.9" width="1.1" height="1.1"/><rect x="122.1" y="420.9" width="1.1" height="1.1"/><rect x="112.9" y="415.8" width="0.8" height="0.8"/><rect x="117.3" y="419.5" width="0.9" height="0.9"/><rect x="119.8" y="418.1" width="0.9" height="0.9"/><rect x="102.4" y="417.8" width="0.7" height="0.7"/><rect x="116.9" y="417.0" width="0.7" height="0.7"/><rect x="125.3" y="390.9" width="0.8" height="0.8"/><rect x="99.6" y="418.7" width="0.7" height="0.7"/><rect x="120.6" y="413.4" width="1.1" height="1.1"/><rect x="121.1" y="419.5" width="1.1" height="1.1"/><rect x="118.1" y="417.6" width="1.1" height="1.1"/><rect x="101.7" y="414.3" width="0.7" height="0.7"/><rect x="98.3" y="417.9" width="1.0" height="1.0"/><rect x="119.9" y="417.6" width="0.9" height="0.9"/><rect x="95.1" y="418.8" width="0.9" height="0.9"/><rect x="124.5" y="411.2" width="0.7" height="0.7"/><rect x="124.4" y="390.7" width="0.7" height="0.7"/><rect x="104.1" y="416.1" width="1.0" height="1.0"/><rect x="110.5" y="390.5" width="0.7" height="0.7"/><rect x="99.2" y="413.4" width="0.8" height="0.8"/><rect x="122.9" y="419.7" width="1.1" height="1.1"/><rect x="126.5" y="394.7" width="1.1" height="1.1"/><rect x="118.2" y="420.6" width="1.0" height="1.0"/><rect x="111.6" y="407.8" width="0.9" height="0.9"/><rect x="112.5" y="420.2" width="0.9" height="0.9"/><rect x="123.6" y="410.3" width="0.9" height="0.9"/><rect x="118.1" y="414.9" width="0.8" height="0.8"/><rect x="117.9" y="415.5" width="0.7" height="0.7"/><rect x="108.1" y="390.3" width="0.8" height="0.8"/><rect x="121.2" y="409.7" width="1.1" height="1.1"/><rect x="95.1" y="415.9" width="0.8" height="0.8"/><rect x="117.1" y="420.8" width="1.1" height="1.1"/><rect x="103.0" y="415.2" width="0.7" height="0.7"/><rect x="111.8" y="419.6" width="0.7" height="0.7"/><rect x="119.1" y="413.5" width="1.1" height="1.1"/><rect x="104.1" y="391.3" width="0.8" height="0.8"/><rect x="109.8" y="413.1" width="1.1" height="1.1"/><rect x="99.7" y="418.7" width="0.7" height="0.7"/><rect x="107.3" y="413.5" width="0.8" height="0.8"/><rect x="100.3" y="417.0" width="1.0" height="1.0"/><rect x="125.5" y="391.6" width="1.0" height="1.0"/><rect x="109.7" y="391.0" width="1.1" height="1.1"/><rect x="101.0" y="418.0" width="1.1" height="1.1"/><rect x="118.9" y="390.5" width="1.1" height="1.1"/><rect x="109.2" y="415.5" width="1.0" height="1.0"/><rect x="114.2" y="407.3" width="0.9" height="0.9"/><rect x="113.5" y="417.1" width="0.9" height="0.9"/><rect x="106.2" y="408.4" width="0.9" height="0.9"/><rect x="114.7" y="420.5" width="0.8" height="0.8"/><rect x="127.8" y="405.4" width="1.0" height="1.0"/><rect x="107.0" y="419.7" width="0.9" height="0.9"/><rect x="116.4" y="419.7" width="0.7" height="0.7"/><rect x="115.4" y="419.7" width="1.1" height="1.1"/><rect x="96.4" y="421.3" width="0.9" height="0.9"/><rect x="105.5" y="414.7" width="0.7" height="0.7"/><rect x="119.9" y="416.4" width="0.9" height="0.9"/><rect x="112.4" y="419.6" width="0.6" height="0.6"/><rect x="127.6" y="401.5" width="1.0" height="1.0"/><rect x="115.7" y="415.7" width="0.6" height="0.6"/><rect x="97.1" y="393.6" width="0.6" height="0.6"/><rect x="98.8" y="421.4" width="1.0" height="1.0"/><rect x="101.5" y="418.4" width="1.0" height="1.0"/><rect x="106.6" y="416.8" width="0.6" height="0.6"/><rect x="120.2" y="414.5" width="1.0" height="1.0"/><rect x="111.5" y="414.3" width="1.0" height="1.0"/><rect x="114.6" y="412.8" width="0.9" height="0.9"/><rect x="120.3" y="417.5" width="0.8" height="0.8"/><rect x="118.3" y="406.9" width="1.0" height="1.0"/><rect x="118.3" y="420.4" width="0.6" height="0.6"/><rect x="117.5" y="390.7" width="1.1" height="1.1"/><rect x="110.4" y="414.8" width="0.7" height="0.7"/><rect x="100.3" y="415.5" width="0.8" height="0.8"/><rect x="125.8" y="408.4" width="0.7" height="0.7"/><rect x="112.2" y="420.4" width="1.0" height="1.0"/><rect x="110.2" y="416.2" width="0.7" height="0.7"/><rect x="109.4" y="415.1" width="0.7" height="0.7"/><rect x="95.1" y="397.1" width="0.8" height="0.8"/><rect x="107.9" y="417.3" width="1.0" height="1.0"/><rect x="107.9" y="415.3" width="0.7" height="0.7"/><rect x="124.4" y="390.9" width="1.0" height="1.0"/><rect x="116.0" y="412.8" width="1.1" height="1.1"/><rect x="119.4" y="417.9" width="0.7" height="0.7"/><rect x="110.9" y="414.9" width="0.8" height="0.8"/><rect x="120.0" y="415.3" width="0.7" height="0.7"/><rect x="100.7" y="414.2" width="1.0" height="1.0"/><rect x="103.0" y="414.1" width="1.0" height="1.0"/><rect x="103.4" y="413.4" width="0.9" height="0.9"/><rect x="123.5" y="420.3" width="1.0" height="1.0"/><rect x="114.8" y="390.8" width="0.8" height="0.8"/><rect x="120.6" y="416.0" width="0.8" height="0.8"/><rect x="119.9" y="416.0" width="1.0" height="1.0"/><rect x="118.8" y="421.3" width="0.9" height="0.9"/><rect x="105.8" y="419.7" width="0.7" height="0.7"/><rect x="95.2" y="400.5" width="0.9" height="0.9"/><rect x="100.3" y="391.8" width="0.9" height="0.9"/><rect x="127.4" y="399.0" width="0.9" height="0.9"/><rect x="117.3" y="407.8" width="0.8" height="0.8"/><rect x="112.7" y="415.5" width="1.1" height="1.1"/><rect x="116.5" y="417.4" width="0.7" height="0.7"/><rect x="117.2" y="416.9" width="1.0" height="1.0"/><rect x="124.2" y="421.3" width="1.0" height="1.0"/><rect x="107.6" y="417.3" width="1.1" height="1.1"/><rect x="95.9" y="416.9" width="1.1" height="1.1"/><rect x="104.9" y="407.8" width="0.7" height="0.7"/><rect x="113.7" y="417.4" width="1.0" height="1.0"/><rect x="113.0" y="414.1" width="0.8" height="0.8"/><rect x="102.9" y="409.1" width="0.9" height="0.9"/><rect x="111.6" y="418.2" width="1.1" height="1.1"/><rect x="100.3" y="414.8" width="0.8" height="0.8"/><rect x="111.0" y="415.1" width="1.0" height="1.0"/><rect x="109.1" y="414.3" width="1.0" height="1.0"/><rect x="113.2" y="419.9" width="1.0" height="1.0"/><rect x="103.9" y="421.3" width="0.9" height="0.9"/><rect x="108.5" y="418.0" width="0.8" height="0.8"/><rect x="104.4" y="421.4" width="0.7" height="0.7"/><rect x="118.6" y="415.7" width="0.8" height="0.8"/><rect x="101.4" y="421.1" width="1.0" height="1.0"/><rect x="118.5" y="408.1" width="0.9" height="0.9"/><rect x="113.8" y="417.1" width="0.9" height="0.9"/><rect x="117.4" y="417.7" width="1.1" height="1.1"/><rect x="122.4" y="414.1" width="1.1" height="1.1"/><rect x="101.3" y="418.0" width="0.9" height="0.9"/><rect x="109.5" y="390.5" width="0.9" height="0.9"/><rect x="120.8" y="420.4" width="0.9" height="0.9"/><rect x="114.6" y="418.2" width="0.7" height="0.7"/><rect x="119.2" y="419.2" width="0.7" height="0.7"/><rect x="118.9" y="408.0" width="0.8" height="0.8"/><rect x="103.9" y="408.3" width="1.1" height="1.1"/><rect x="127.6" y="401.0" width="0.7" height="0.7"/><rect x="99.3" y="414.8" width="0.8" height="0.8"/><rect x="95.2" y="402.5" width="0.8" height="0.8"/><rect x="95.3" y="416.8" width="1.0" height="1.0"/><rect x="108.5" y="390.8" width="0.9" height="0.9"/><rect x="119.5" y="420.8" width="1.0" height="1.0"/><rect x="119.2" y="413.5" width="0.8" height="0.8"/><rect x="104.3" y="409.5" width="1.0" height="1.0"/><rect x="120.6" y="414.5" width="0.8" height="0.8"/><rect x="120.5" y="415.6" width="1.0" height="1.0"/><rect x="121.6" y="417.9" width="0.7" height="0.7"/><rect x="118.3" y="406.8" width="0.7" height="0.7"/><rect x="117.7" y="413.7" width="0.9" height="0.9"/><rect x="103.1" y="407.1" width="1.1" height="1.1"/><rect x="102.4" y="416.1" width="0.8" height="0.8"/><rect x="126.7" y="397.0" width="0.7" height="0.7"/><rect x="118.8" y="409.1" width="0.6" height="0.6"/><rect x="118.6" y="408.0" width="1.1" height="1.1"/><rect x="119.5" y="418.3" width="0.8" height="0.8"/><rect x="121.7" y="418.2" width="0.9" height="0.9"/><rect x="112.4" y="417.0" width="0.8" height="0.8"/><rect x="109.0" y="416.3" width="1.1" height="1.1"/><rect x="123.0" y="417.3" width="0.9" height="0.9"/><rect x="105.3" y="419.1" width="0.8" height="0.8"/><rect x="112.2" y="417.8" width="0.8" height="0.8"/><rect x="120.2" y="413.8" width="0.6" height="0.6"/><rect x="119.0" y="417.5" width="0.9" height="0.9"/><rect x="104.4" y="414.2" width="1.0" height="1.0"/><rect x="126.5" y="407.4" width="0.6" height="0.6"/><rect x="120.1" y="418.1" width="0.9" height="0.9"/><rect x="116.1" y="421.2" width="0.8" height="0.8"/><rect x="118.3" y="419.2" width="1.0" height="1.0"/><rect x="114.5" y="415.2" width="1.1" height="1.1"/><rect x="108.0" y="413.9" width="0.8" height="0.8"/><rect x="119.9" y="389.8" width="0.7" height="0.7"/><rect x="116.1" y="413.1" width="0.8" height="0.8"/><rect x="109.9" y="416.3" width="0.7" height="0.7"/><rect x="107.7" y="420.9" width="0.7" height="0.7"/></g>
<path d="M124.2 406.5 122.8 406.5 122.3 405.5 122.6 395.0 122.0 394.0 121.0 393.3 117.0 392.8 113.7 393.4 111.3 393.0 113.2 392.4 121.0 392.5 122.7 391.9 124.2 392.3 124.9 402.8 124.7 405.8 124.2 406.5Z M103.5 393.8 101.9 393.8 104.2 392.8 106.9 393.0 103.5 393.8Z M96.7 407.6 96.2 405.5 97.0 403.6 97.7 405.2 96.7 407.6Z M97.2 409.8 96.2 409.6 96.5 408.4 97.3 409.0 97.2 409.8Z" fill="#222" fill-opacity="1.0" fill-rule="evenodd"/>
<path d="M97.5 421.1 96.5 421.1 95.8 420.2 95.0 409.2 95.1 397.2 97.5 393.0 104.0 391.1 120.2 390.8 125.0 391.4 126.6 398.8 126.2 406.8 124.2 407.8 120.0 407.1 113.0 407.3 111.5 407.8 119.0 410.0 123.2 410.3 123.9 411.2 123.6 412.8 122.0 413.2 116.2 412.9 111.0 411.6 104.0 413.8 98.0 412.3 98.6 417.0 98.1 420.2 97.5 421.1 M104.4 410.2 108.8 408.0 105.5 407.6 98.5 408.0 99.1 408.8 104.4 410.2" fill="none" stroke="#111" stroke-width="0.9" stroke-linejoin="round"/>
<path d="M97.0 420.5 96.2 419.9 95.2 409.5 95.4 397.8 97.6 393.2 104.0 391.3 120.2 391.0 125.0 391.7 126.3 401.0 126.1 405.8 125.2 407.3 123.2 407.6 120.2 406.7 113.0 406.8 109.0 407.3 99.0 407.2 98.2 408.0 99.0 409.0 104.0 410.7 109.2 408.3 111.2 408.2 119.0 410.3 123.0 410.6 123.6 411.2 123.4 412.5 116.5 412.6 110.7 411.2 105.2 413.3 103.5 413.4 97.7 411.9 97.3 412.5 97.9 415.5 97.7 419.0 97.0 420.5" fill="none" stroke="#222" stroke-width="0.7" stroke-linejoin="round"/>
<path d="M103.2 412.8 98.0 411.4 96.5 411.6 95.6 410.2 95.7 397.5 97.7 393.5 104.0 391.5 120.2 391.3 124.7 391.8 125.8 400.8 125.7 405.8 125.0 407.1 123.0 407.3 119.5 406.0 116.5 406.6 112.7 406.0 108.7 406.8 99.0 406.6 97.9 408.0 98.7 409.3 104.2 411.4 108.7 408.8 110.5 408.5 119.2 410.8 122.7 411.0 123.2 411.5 123.0 412.2 116.5 412.2 111.0 410.9 103.2 412.8 M110.8 398.5 111.5 398.0 111.7 397.0 109.7 395.5 108.2 395.6 106.5 397.0 109.2 398.4 110.8 398.5 M98.9 402.0 99.6 400.5 99.2 398.3 98.3 399.5 98.2 401.2 98.9 402.0 M97.0 417.3 96.3 415.8 96.5 413.2 97.3 415.2 97.0 417.3" fill="none" stroke="#444" stroke-width="0.6" stroke-linejoin="round"/>
<path d="M101.7 412.0 98.5 410.9 96.5 411.1 95.6 409.8 96.1 397.5 98.1 393.5 104.2 391.8 122.7 391.5 124.7 392.0 125.5 403.0 125.3 406.2 124.2 407.1 122.5 407.0 120.7 405.2 119.6 401.5 117.7 399.7 116.5 399.9 115.0 401.8 109.3 406.0 107.3 405.8 106.3 404.2 105.9 401.5 112.2 399.4 114.6 396.8 116.5 395.9 118.2 395.7 119.7 396.3 121.0 399.7 121.4 398.2 121.2 394.5 108.5 394.1 100.0 395.7 97.9 398.5 97.7 401.2 98.7 403.9 100.2 403.6 100.4 404.2 98.7 405.7 97.7 408.2 98.7 409.9 102.0 411.0 102.2 411.5 101.7 412.0 M109.2 411.0 107.7 411.0 107.2 410.5 110.0 408.9 111.5 409.1 112.6 410.0 112.4 410.5 109.2 411.0 M117.2 411.5 115.1 411.2 114.5 410.5 116.5 410.5 117.5 411.0 117.2 411.5" fill="none" stroke="#444" stroke-width="0.6" stroke-linejoin="round"/>
<path d="M124.5 406.8 122.7 406.8 121.8 405.5 122.0 395.0 121.3 394.0 117.5 393.6 105.5 393.9 100.2 395.0 97.2 398.0 97.7 394.9 98.9 393.5 104.0 392.1 124.2 391.9 124.8 393.2 125.2 402.8 125.1 406.0 124.5 406.8 M97.0 400.6 96.5 399.8 97.0 398.9 97.0 400.6 M97.2 410.5 96.2 410.4 95.8 409.2 96.0 404.6 97.0 402.0 98.1 404.8 97.4 408.0 97.9 409.8 97.2 410.5" fill="none" stroke="#333" stroke-width="0.6" stroke-linejoin="round"/>
<path d="M123.5 406.8 122.6 406.5 122.1 405.2 122.3 395.0 121.8 394.0 119.0 393.3 113.0 393.6 109.6 393.0 113.2 392.2 122.7 391.8 124.3 392.2 124.9 405.5 124.5 406.5 123.5 406.8 M99.0 395.3 98.6 394.8 99.2 394.0 103.7 392.6 106.5 392.4 108.1 393.0 100.7 394.4 99.0 395.3 M97.0 410.1 96.0 409.2 96.2 404.8 97.0 403.2 97.8 405.0 97.0 408.0 97.5 409.5 97.0 410.1" fill="none" stroke="#222" stroke-width="0.6" stroke-linejoin="round"/>
<line x1="119.7" y1="378.1" x2="119.7" y2="422.8" stroke="#9a9a9a" stroke-width="1.1"/>
<line x1="94.7" y1="406.9" x2="142.5" y2="406.9" stroke="#9a9a9a" stroke-width="1.1"/>
<rect x="147.4" y="378.1" width="47.5" height="44.7" fill="none" stroke="#9c9c9c" stroke-width="1.1"/>
<path d="M149.2 420.5 148.2 420.7 147.5 419.8 147.2 409.5 147.9 406.5 147.3 404.5 147.3 399.5 150.5 393.2 157.4 391.8 164.9 393.8 166.7 394.7 169.2 392.8 175.3 393.5 177.3 396.2 177.6 398.2 177.4 402.5 175.6 406.0 165.2 406.4 149.4 406.0 148.3 407.0 149.2 408.8 154.4 412.6 160.2 410.8 163.9 410.9 168.9 412.3 174.9 412.9 175.9 413.8 175.7 415.4 171.4 415.5 161.7 413.3 156.4 415.1 153.2 415.5 149.2 413.3 149.2 420.5Z" fill="#e4e4e4" fill-opacity="1.0" fill-rule="evenodd"/>
<g fill="#111" opacity="0.9"><rect x="157.7" y="421.4" width="0.7" height="0.7"/><rect x="175.6" y="413.2" width="0.7" height="0.7"/><rect x="171.7" y="391.8" width="0.7" height="0.7"/><rect x="160.7" y="407.4" width="0.9" height="0.9"/><rect x="166.2" y="393.5" width="1.1" height="1.1"/><rect x="153.2" y="421.1" width="0.8" height="0.8"/><rect x="170.5" y="411.6" width="0.7" height="0.7"/><rect x="167.7" y="416.4" width="0.8" height="0.8"/><rect x="162.8" y="392.7" width="1.0" height="1.0"/><rect x="167.3" y="419.4" width="1.0" height="1.0"/><rect x="162.8" y="420.3" width="0.9" height="0.9"/><rect x="172.4" y="421.0" width="0.9" height="0.9"/><rect x="166.8" y="407.7" width="1.1" height="1.1"/><rect x="165.9" y="410.6" width="0.7" height="0.7"/><rect x="158.8" y="415.0" width="0.9" height="0.9"/><rect x="169.7" y="416.1" width="0.9" height="0.9"/><rect x="172.8" y="407.5" width="1.1" height="1.1"/><rect x="163.8" y="421.4" width="1.0" height="1.0"/><rect x="154.5" y="420.4" width="0.7" height="0.7"/><rect x="176.7" y="404.7" width="1.0" height="1.0"/><rect x="162.4" y="409.4" width="0.7" height="0.7"/><rect x="152.6" y="419.7" width="1.0" height="1.0"/><rect x="149.5" y="416.8" width="0.8" height="0.8"/><rect x="152.0" y="392.0" width="0.7" height="0.7"/><rect x="162.0" y="418.6" width="1.0" height="1.0"/><rect x="159.1" y="420.2" width="0.8" height="0.8"/><rect x="164.3" y="414.6" width="0.9" height="0.9"/><rect x="176.4" y="413.4" width="0.8" height="0.8"/><rect x="160.1" y="418.9" width="0.9" height="0.9"/><rect x="172.0" y="421.4" width="0.9" height="0.9"/><rect x="148.2" y="406.2" width="1.0" height="1.0"/><rect x="152.2" y="416.7" width="0.9" height="0.9"/><rect x="155.7" y="415.7" width="0.9" height="0.9"/><rect x="178.1" y="401.4" width="1.0" height="1.0"/><rect x="172.2" y="416.2" width="0.6" height="0.6"/><rect x="165.5" y="415.9" width="1.1" height="1.1"/><rect x="169.8" y="418.7" width="0.9" height="0.9"/><rect x="162.1" y="407.5" width="0.7" height="0.7"/><rect x="151.6" y="410.3" width="0.9" height="0.9"/><rect x="154.7" y="420.1" width="0.7" height="0.7"/><rect x="162.3" y="414.4" width="0.8" height="0.8"/><rect x="168.9" y="415.8" width="0.9" height="0.9"/><rect x="169.4" y="392.1" width="1.1" height="1.1"/><rect x="169.5" y="407.1" width="1.0" height="1.0"/><rect x="175.4" y="412.4" width="1.0" height="1.0"/><rect x="158.5" y="410.5" width="0.7" height="0.7"/><rect x="164.7" y="418.4" width="0.7" height="0.7"/><rect x="168.8" y="392.6" width="1.0" height="1.0"/><rect x="154.9" y="418.7" width="1.1" height="1.1"/><rect x="166.2" y="419.5" width="0.7" height="0.7"/><rect x="150.2" y="393.2" width="0.9" height="0.9"/><rect x="161.3" y="419.1" width="0.9" height="0.9"/><rect x="162.3" y="392.1" width="0.7" height="0.7"/><rect x="171.3" y="420.7" width="1.1" height="1.1"/><rect x="168.1" y="392.6" width="1.0" height="1.0"/><rect x="156.0" y="419.6" width="1.0" height="1.0"/><rect x="163.8" y="414.5" width="0.9" height="0.9"/><rect x="165.4" y="420.7" width="0.9" height="0.9"/><rect x="164.4" y="416.3" width="0.8" height="0.8"/><rect x="168.6" y="418.2" width="1.0" height="1.0"/><rect x="161.1" y="407.4" width="0.8" height="0.8"/><rect x="162.2" y="406.6" width="1.0" height="1.0"/><rect x="178.8" y="402.9" width="1.1" height="1.1"/><rect x="162.8" y="416.9" width="1.0" height="1.0"/><rect x="166.9" y="418.6" width="0.9" height="0.9"/><rect x="161.8" y="417.9" width="0.9" height="0.9"/><rect x="176.3" y="413.0" width="0.9" height="0.9"/><rect x="168.6" y="416.0" width="0.7" height="0.7"/><rect x="166.7" y="419.1" width="1.0" height="1.0"/><rect x="156.1" y="391.2" width="0.7" height="0.7"/><rect x="178.5" y="399.9" width="0.8" height="0.8"/><rect x="159.3" y="420.7" width="0.7" height="0.7"/><rect x="166.3" y="418.8" width="1.0" height="1.0"/><rect x="167.5" y="420.1" width="1.0" height="1.0"/><rect x="174.2" y="420.0" width="1.1" height="1.1"/><rect x="159.7" y="417.0" width="0.9" height="0.9"/><rect x="174.8" y="418.2" width="1.0" height="1.0"/><rect x="162.1" y="410.2" width="0.8" height="0.8"/><rect x="169.5" y="420.5" width="1.0" height="1.0"/><rect x="156.5" y="417.3" width="1.0" height="1.0"/><rect x="161.8" y="415.7" width="0.7" height="0.7"/><rect x="162.7" y="414.4" width="0.8" height="0.8"/><rect x="149.6" y="414.8" width="1.0" height="1.0"/><rect x="155.0" y="411.9" width="0.8" height="0.8"/><rect x="154.4" y="407.5" width="0.7" height="0.7"/><rect x="171.6" y="417.7" width="1.1" height="1.1"/><rect x="155.1" y="416.9" width="0.8" height="0.8"/><rect x="153.3" y="411.0" width="0.9" height="0.9"/><rect x="169.4" y="416.1" width="0.8" height="0.8"/><rect x="167.4" y="416.5" width="1.0" height="1.0"/><rect x="166.1" y="407.6" width="1.1" height="1.1"/><rect x="167.6" y="419.8" width="0.7" height="0.7"/><rect x="165.2" y="410.7" width="0.8" height="0.8"/><rect x="149.1" y="421.0" width="0.8" height="0.8"/><rect x="157.4" y="391.1" width="1.1" height="1.1"/><rect x="169.1" y="421.2" width="0.6" height="0.6"/><rect x="168.7" y="392.1" width="1.1" height="1.1"/><rect x="161.8" y="414.9" width="0.6" height="0.6"/><rect x="152.6" y="391.8" width="0.8" height="0.8"/><rect x="164.2" y="420.5" width="1.0" height="1.0"/><rect x="167.5" y="419.3" width="0.9" height="0.9"/><rect x="174.0" y="420.2" width="0.9" height="0.9"/><rect x="149.1" y="421.1" width="1.0" height="1.0"/><rect x="159.8" y="410.9" width="0.9" height="0.9"/><rect x="165.0" y="417.7" width="1.0" height="1.0"/><rect x="165.4" y="420.2" width="1.0" height="1.0"/><rect x="156.6" y="411.1" width="1.0" height="1.0"/><rect x="152.5" y="418.5" width="0.7" height="0.7"/><rect x="160.0" y="420.1" width="1.0" height="1.0"/><rect x="163.1" y="393.2" width="1.1" height="1.1"/><rect x="169.4" y="419.4" width="1.1" height="1.1"/><rect x="153.1" y="421.4" width="0.6" height="0.6"/><rect x="150.7" y="409.0" width="0.9" height="0.9"/><rect x="169.8" y="412.2" width="0.9" height="0.9"/><rect x="160.1" y="418.0" width="1.1" height="1.1"/><rect x="160.6" y="391.9" width="0.7" height="0.7"/><rect x="149.7" y="392.6" width="1.0" height="1.0"/><rect x="149.9" y="420.6" width="1.0" height="1.0"/><rect x="164.5" y="418.4" width="0.9" height="0.9"/><rect x="163.8" y="416.1" width="1.0" height="1.0"/><rect x="154.0" y="416.4" width="0.9" height="0.9"/><rect x="173.2" y="419.9" width="1.0" height="1.0"/><rect x="149.5" y="419.0" width="1.0" height="1.0"/><rect x="150.4" y="414.2" width="1.0" height="1.0"/><rect x="174.7" y="416.3" width="0.7" height="0.7"/><rect x="160.2" y="419.8" width="0.9" height="0.9"/><rect x="152.9" y="410.6" width="1.0" height="1.0"/><rect x="159.6" y="417.8" width="0.6" height="0.6"/><rect x="166.4" y="421.4" width="1.0" height="1.0"/><rect x="150.9" y="417.5" width="0.8" height="0.8"/><rect x="154.7" y="415.3" width="0.7" height="0.7"/><rect x="153.6" y="411.4" width="1.0" height="1.0"/><rect x="165.1" y="420.1" width="0.7" height="0.7"/><rect x="167.9" y="411.7" width="0.7" height="0.7"/><rect x="153.1" y="416.3" width="0.8" height="0.8"/><rect x="172.6" y="418.9" width="1.0" height="1.0"/><rect x="174.9" y="393.0" width="0.8" height="0.8"/><rect x="178.4" y="399.0" width="0.7" height="0.7"/><rect x="167.9" y="414.6" width="1.0" height="1.0"/><rect x="176.8" y="413.6" width="0.8" height="0.8"/><rect x="158.0" y="417.5" width="1.1" height="1.1"/><rect x="150.9" y="419.9" width="1.1" height="1.1"/><rect x="167.7" y="421.1" width="0.9" height="0.9"/><rect x="151.2" y="421.1" width="0.9" height="0.9"/><rect x="158.5" y="414.7" width="0.8" height="0.8"/><rect x="149.8" y="419.7" width="1.1" height="1.1"/><rect x="173.2" y="392.1" width="0.9" height="0.9"/><rect x="176.6" y="413.8" width="0.8" height="0.8"/><rect x="156.7" y="419.3" width="1.1" height="1.1"/><rect x="170.5" y="416.0" width="0.9" height="0.9"/><rect x="151.8" y="420.6" width="0.8" height="0.8"/><rect x="152.3" y="406.3" width="1.0" height="1.0"/><rect x="157.3" y="406.3" width="1.0" height="1.0"/><rect x="150.4" y="407.3" width="0.9" height="0.9"/><rect x="174.6" y="419.9" width="0.9" height="0.9"/><rect x="160.6" y="416.7" width="0.9" height="0.9"/><rect x="160.6" y="407.5" width="0.9" height="0.9"/><rect x="174.2" y="420.7" width="0.9" height="0.9"/><rect x="160.7" y="414.2" width="1.0" height="1.0"/><rect x="168.4" y="392.5" width="0.6" height="0.6"/><rect x="162.1" y="406.4" width="0.7" height="0.7"/><rect x="167.1" y="394.0" width="0.9" height="0.9"/><rect x="166.5" y="420.1" width="0.9" height="0.9"/><rect x="173.9" y="412.4" width="0.8" height="0.8"/><rect x="161.1" y="421.1" width="1.0" height="1.0"/><rect x="160.0" y="415.1" width="1.0" height="1.0"/><rect x="170.2" y="416.4" width="0.9" height="0.9"/><rect x="148.0" y="397.1" width="0.8" height="0.8"/><rect x="169.1" y="407.0" width="0.9" height="0.9"/><rect x="172.7" y="418.5" width="0.7" height="0.7"/><rect x="164.6" y="416.4" width="1.0" height="1.0"/><rect x="149.1" y="417.9" width="1.0" height="1.0"/><rect x="170.3" y="411.7" width="1.1" height="1.1"/><rect x="164.0" y="420.9" width="1.1" height="1.1"/><rect x="156.2" y="420.9" width="0.6" height="0.6"/><rect x="170.2" y="416.8" width="0.8" height="0.8"/><rect x="173.0" y="420.7" width="0.7" height="0.7"/><rect x="171.8" y="417.9" width="0.9" height="0.9"/><rect x="152.9" y="410.6" width="1.0" height="1.0"/><rect x="153.8" y="406.5" width="0.9" height="0.9"/></g>
<path d="M174.2 403.5 171.9 403.6 169.0 402.0 166.9 397.2 167.2 395.9 168.7 394.5 170.5 395.0 169.7 397.5 170.9 400.4 172.9 401.4 174.6 401.0 175.1 399.5 174.9 398.0 173.4 395.3 175.7 396.2 176.6 398.8 176.5 402.0 174.2 403.5Z M164.4 395.5 163.0 395.2 164.4 395.5Z M148.7 403.7 148.1 401.8 148.7 399.5 150.9 396.1 150.9 397.1 149.0 400.8 148.7 403.7Z M148.7 411.5 147.4 410.8 147.5 409.8 148.7 410.0 148.7 411.5Z" fill="#222" fill-opacity="1.0" fill-rule="evenodd"/>
<path d="M149.4 421.1 148.2 421.1 147.3 420.2 147.2 399.5 147.5 398.0 150.4 393.0 157.4 391.6 166.7 394.4 169.2 392.6 175.4 393.4 177.5 396.2 177.8 398.2 177.5 402.5 175.9 406.3 165.2 406.9 149.7 406.5 148.9 407.5 149.6 408.8 154.4 412.3 160.2 410.6 163.9 410.6 168.9 412.0 175.4 412.9 176.2 414.0 175.9 415.5 172.9 416.0 161.7 413.7 155.9 415.6 153.2 415.8 149.7 413.8 150.0 419.8 149.4 421.1 M158.2 422.0 157.4 421.2 158.2 419.4 158.9 419.0 159.8 421.0 158.2 422.0" fill="none" stroke="#111" stroke-width="0.9" stroke-linejoin="round"/>
<path d="M167.7 406.3 149.4 405.9 148.2 406.4 147.3 404.5 147.4 398.8 150.5 393.2 153.4 392.3 158.2 391.9 166.7 394.8 169.2 392.8 175.2 393.4 177.0 395.8 177.5 397.2 177.3 402.5 176.0 405.5 174.9 406.1 167.7 406.3 M148.9 420.6 147.7 420.2 147.4 417.2 147.2 409.0 148.2 407.1 149.4 408.9 154.4 412.6 159.9 410.9 162.7 410.8 168.9 412.4 174.7 412.9 176.0 414.0 175.7 415.4 173.4 415.7 161.4 413.3 156.4 415.1 153.2 415.5 149.2 413.2 149.4 419.5 148.9 420.6" fill="none" stroke="#222" stroke-width="0.7" stroke-linejoin="round"/>
<path d="M174.9 405.5 168.2 405.1 166.7 401.7 160.2 405.6 148.4 405.4 147.4 404.1 147.5 399.2 150.6 393.5 153.4 392.6 158.2 392.1 164.9 394.1 166.4 395.2 169.2 393.0 174.7 393.4 176.9 396.0 177.4 398.5 177.1 402.5 174.9 405.5 M161.9 403.0 163.6 402.2 162.9 400.0 160.9 398.7 159.2 398.9 158.8 400.0 159.7 401.7 160.7 402.7 161.9 403.0 M175.2 415.3 171.4 415.1 167.7 413.9 164.9 413.8 161.7 412.8 156.7 414.6 152.7 415.0 149.4 412.9 147.9 413.2 147.3 411.5 147.3 408.8 148.7 408.6 154.4 413.2 159.9 411.3 164.2 411.2 168.4 413.0 171.4 412.7 174.9 413.2 175.7 414.2 175.2 415.3 M148.4 417.6 147.7 416.0 148.2 413.8 148.7 415.5 148.4 417.6 M148.4 419.8 148.4 418.8 148.4 419.8" fill="none" stroke="#444" stroke-width="0.6" stroke-linejoin="round"/>
<path d="M148.9 405.0 148.0 404.8 147.6 404.0 147.7 399.5 150.6 394.0 151.7 393.2 157.9 392.4 160.9 393.6 164.9 394.4 166.4 395.7 169.2 393.2 172.2 393.2 174.9 393.8 177.0 396.8 176.9 402.6 174.7 404.2 172.7 404.4 168.7 402.8 165.9 396.8 163.2 396.7 156.7 395.1 153.4 395.4 152.4 396.2 150.4 400.8 150.4 402.2 151.3 403.0 148.9 405.0 M157.2 404.3 154.9 404.2 152.7 402.8 153.7 400.0 156.7 397.3 156.7 399.0 157.9 402.8 157.2 404.3 M173.9 400.2 173.9 399.3 173.1 400.2 173.9 400.2 M152.9 414.6 147.7 412.1 147.4 408.8 148.7 408.9 153.0 412.5 153.5 413.8 152.9 414.6 M165.9 413.3 163.7 413.0 162.9 412.0 164.2 411.6 165.9 412.0 166.5 412.8 165.9 413.3 M157.4 413.8 156.5 413.8 156.9 412.8 159.4 412.2 157.4 413.8 M174.9 415.1 171.4 414.9 169.7 413.8 171.2 412.9 174.4 413.3 175.3 414.0 174.9 415.1" fill="none" stroke="#444" stroke-width="0.6" stroke-linejoin="round"/>
<path d="M149.2 404.5 148.4 404.6 147.9 403.9 148.0 399.5 151.4 393.8 157.7 392.7 160.4 394.2 163.4 394.3 165.6 395.2 165.6 396.0 164.4 396.3 157.2 394.5 152.9 395.1 149.7 400.8 149.2 404.5 M173.9 404.0 171.7 403.9 169.2 402.7 167.0 398.8 166.7 396.0 169.2 393.5 174.5 394.0 176.6 396.5 176.7 402.5 173.9 404.0 M173.8 401.0 174.6 400.0 174.6 398.2 172.7 395.5 171.1 395.5 170.1 397.2 170.9 399.6 171.7 400.5 173.8 401.0 M151.4 412.9 147.7 411.6 147.4 409.2 148.9 409.5 151.3 412.0 151.4 412.9 M174.2 414.8 171.7 414.5 171.0 413.8 172.2 413.3 174.2 413.7 174.8 414.2 174.2 414.8" fill="none" stroke="#333" stroke-width="0.6" stroke-linejoin="round"/>
<path d="M148.9 404.1 148.4 404.0 148.0 402.5 148.4 399.5 150.9 395.3 153.7 393.6 157.4 393.3 158.6 393.8 158.7 394.2 156.2 393.9 152.2 395.0 149.3 400.8 148.9 404.1 M173.9 403.8 171.9 403.7 169.3 402.5 167.2 398.4 167.0 396.0 169.4 393.8 174.4 394.9 176.1 396.5 176.8 398.8 176.6 402.2 173.9 403.8 M164.9 395.9 163.1 395.8 162.0 395.0 164.5 395.0 165.2 395.5 164.9 395.9 M173.9 401.2 174.8 400.2 174.8 398.0 172.9 395.2 170.9 395.2 169.8 397.2 170.8 400.0 172.2 401.0 173.9 401.2 M148.7 411.8 147.4 411.1 147.4 409.5 148.4 409.5 149.0 410.2 149.3 411.2 148.7 411.8" fill="none" stroke="#222" stroke-width="0.6" stroke-linejoin="round"/>
<line x1="171.7" y1="378.1" x2="171.7" y2="422.8" stroke="#9a9a9a" stroke-width="1.1"/>
<line x1="147.4" y1="406.7" x2="194.9" y2="406.7" stroke="#9a9a9a" stroke-width="1.1"/>
<rect x="198.6" y="378.1" width="47.5" height="44.7" fill="none" stroke="#9c9c9c" stroke-width="1.1"/>
<path d="M225.3 422.8 209.1 421.1 204.6 421.8 199.3 420.5 198.6 419.6 198.4 416.2 198.5 402.0 199.2 399.2 205.1 396.4 212.8 396.8 224.3 393.6 226.1 393.8 227.2 398.2 227.6 405.2 226.9 411.2 226.9 418.2 227.6 420.8 227.1 422.2 225.3 422.8Z M217.3 403.2 219.0 399.8 218.7 399.0 217.3 398.6 215.6 399.2 215.0 400.8 215.6 402.6 217.3 403.2Z M213.1 412.2 212.3 412.2 213.1 412.2Z M203.9 415.2 204.0 414.2 202.8 414.0 202.8 414.8 203.9 415.2Z" fill="#d8d8d8" fill-opacity="1.0" fill-rule="evenodd"/>
<g fill="#111" opacity="0.8"><rect x="228.4" y="418.3" width="1.0" height="1.0"/><rect x="210.9" y="394.9" width="1.0" height="1.0"/><rect x="229.0" y="403.1" width="1.0" height="1.0"/><rect x="208.0" y="395.1" width="0.9" height="0.9"/><rect x="227.1" y="401.4" width="0.8" height="0.8"/><rect x="216.7" y="402.4" width="0.9" height="0.9"/><rect x="210.9" y="395.9" width="0.8" height="0.8"/><rect x="209.2" y="394.7" width="1.1" height="1.1"/><rect x="210.7" y="395.0" width="1.0" height="1.0"/><rect x="203.6" y="396.7" width="0.9" height="0.9"/><rect x="213.0" y="421.5" width="1.0" height="1.0"/><rect x="229.6" y="411.9" width="0.8" height="0.8"/><rect x="229.2" y="421.4" width="1.1" height="1.1"/><rect x="219.5" y="394.2" width="0.9" height="0.9"/><rect x="215.4" y="395.5" width="0.7" height="0.7"/><rect x="229.5" y="407.2" width="1.0" height="1.0"/><rect x="201.4" y="396.8" width="1.0" height="1.0"/><rect x="215.2" y="401.6" width="0.9" height="0.9"/><rect x="228.2" y="415.1" width="1.0" height="1.0"/><rect x="208.0" y="394.4" width="1.1" height="1.1"/><rect x="211.6" y="396.3" width="0.6" height="0.6"/><rect x="203.2" y="396.3" width="1.0" height="1.0"/><rect x="217.6" y="400.6" width="0.6" height="0.6"/><rect x="229.6" y="400.0" width="0.8" height="0.8"/><rect x="224.5" y="392.6" width="1.0" height="1.0"/><rect x="204.7" y="396.7" width="1.0" height="1.0"/><rect x="208.8" y="394.8" width="1.0" height="1.0"/><rect x="226.9" y="394.1" width="0.6" height="0.6"/><rect x="227.6" y="412.1" width="0.9" height="0.9"/><rect x="228.3" y="415.6" width="0.8" height="0.8"/><rect x="202.8" y="396.1" width="0.7" height="0.7"/><rect x="228.3" y="412.9" width="0.9" height="0.9"/><rect x="228.6" y="398.0" width="0.9" height="0.9"/><rect x="216.6" y="399.5" width="0.9" height="0.9"/><rect x="201.6" y="396.6" width="0.9" height="0.9"/><rect x="204.5" y="394.9" width="0.7" height="0.7"/><rect x="199.8" y="397.1" width="0.8" height="0.8"/><rect x="216.8" y="399.5" width="1.1" height="1.1"/><rect x="227.0" y="393.8" width="1.1" height="1.1"/><rect x="227.9" y="406.9" width="0.8" height="0.8"/><rect x="228.5" y="405.2" width="1.1" height="1.1"/><rect x="228.8" y="420.4" width="0.7" height="0.7"/><rect x="227.2" y="399.7" width="1.1" height="1.1"/><rect x="228.4" y="401.4" width="1.0" height="1.0"/><rect x="213.4" y="395.5" width="0.8" height="0.8"/><rect x="199.4" y="398.5" width="0.8" height="0.8"/><rect x="225.7" y="392.8" width="0.8" height="0.8"/><rect x="224.6" y="393.7" width="0.8" height="0.8"/><rect x="227.1" y="394.7" width="0.7" height="0.7"/><rect x="209.9" y="395.0" width="0.9" height="0.9"/><rect x="204.1" y="396.4" width="1.0" height="1.0"/><rect x="227.8" y="413.3" width="0.8" height="0.8"/><rect x="200.6" y="397.4" width="1.0" height="1.0"/><rect x="218.0" y="403.3" width="0.7" height="0.7"/><rect x="228.9" y="398.3" width="0.9" height="0.9"/><rect x="204.4" y="396.5" width="1.0" height="1.0"/><rect x="200.1" y="421.3" width="0.9" height="0.9"/><rect x="227.2" y="394.7" width="1.0" height="1.0"/><rect x="229.5" y="409.3" width="0.7" height="0.7"/><rect x="228.5" y="420.9" width="0.8" height="0.8"/><rect x="226.7" y="411.7" width="0.9" height="0.9"/><rect x="216.1" y="399.7" width="0.9" height="0.9"/><rect x="228.6" y="402.4" width="0.7" height="0.7"/><rect x="223.6" y="392.4" width="1.1" height="1.1"/><rect x="228.4" y="410.0" width="1.0" height="1.0"/><rect x="202.9" y="396.8" width="1.0" height="1.0"/><rect x="218.1" y="394.2" width="1.0" height="1.0"/><rect x="228.0" y="395.6" width="0.9" height="0.9"/><rect x="201.1" y="398.1" width="0.8" height="0.8"/><rect x="228.1" y="397.2" width="1.1" height="1.1"/><rect x="213.5" y="396.3" width="0.8" height="0.8"/><rect x="200.4" y="398.3" width="0.9" height="0.9"/><rect x="228.4" y="394.5" width="0.7" height="0.7"/><rect x="229.0" y="395.8" width="0.8" height="0.8"/><rect x="228.2" y="397.3" width="0.8" height="0.8"/><rect x="228.5" y="416.8" width="1.0" height="1.0"/><rect x="227.5" y="413.8" width="0.7" height="0.7"/><rect x="211.6" y="395.1" width="1.1" height="1.1"/><rect x="206.0" y="394.5" width="1.0" height="1.0"/><rect x="218.6" y="394.2" width="0.8" height="0.8"/><rect x="214.7" y="396.5" width="0.7" height="0.7"/><rect x="216.2" y="401.4" width="0.9" height="0.9"/><rect x="229.4" y="408.7" width="0.7" height="0.7"/><rect x="202.8" y="395.5" width="0.8" height="0.8"/><rect x="216.8" y="402.7" width="0.9" height="0.9"/><rect x="199.1" y="398.1" width="0.7" height="0.7"/><rect x="227.1" y="413.2" width="0.9" height="0.9"/><rect x="221.4" y="394.1" width="1.0" height="1.0"/><rect x="228.1" y="418.0" width="1.0" height="1.0"/><rect x="227.2" y="393.8" width="0.8" height="0.8"/><rect x="199.8" y="399.1" width="1.1" height="1.1"/><rect x="227.7" y="418.0" width="0.7" height="0.7"/><rect x="223.3" y="392.4" width="0.7" height="0.7"/><rect x="229.6" y="400.3" width="1.0" height="1.0"/><rect x="228.1" y="394.9" width="0.8" height="0.8"/><rect x="228.3" y="419.7" width="0.9" height="0.9"/><rect x="229.2" y="410.6" width="1.1" height="1.1"/><rect x="208.4" y="395.0" width="0.8" height="0.8"/><rect x="228.5" y="414.9" width="1.0" height="1.0"/><rect x="227.8" y="394.7" width="0.8" height="0.8"/><rect x="217.3" y="399.4" width="0.7" height="0.7"/><rect x="229.5" y="403.4" width="0.8" height="0.8"/><rect x="228.5" y="418.6" width="0.6" height="0.6"/><rect x="211.6" y="395.1" width="1.0" height="1.0"/><rect x="209.7" y="421.1" width="1.1" height="1.1"/><rect x="228.8" y="410.4" width="0.8" height="0.8"/><rect x="216.1" y="395.6" width="0.8" height="0.8"/><rect x="228.7" y="415.1" width="0.7" height="0.7"/><rect x="227.4" y="415.9" width="0.6" height="0.6"/><rect x="228.4" y="398.7" width="0.8" height="0.8"/><rect x="228.8" y="410.2" width="1.0" height="1.0"/><rect x="207.7" y="395.3" width="0.7" height="0.7"/><rect x="227.6" y="395.0" width="1.1" height="1.1"/><rect x="227.5" y="415.9" width="0.9" height="0.9"/><rect x="198.9" y="398.6" width="0.7" height="0.7"/><rect x="210.3" y="421.2" width="0.7" height="0.7"/><rect x="229.5" y="402.6" width="1.1" height="1.1"/><rect x="200.8" y="396.3" width="0.8" height="0.8"/><rect x="227.9" y="411.6" width="0.7" height="0.7"/><rect x="229.6" y="405.9" width="0.8" height="0.8"/><rect x="228.6" y="413.9" width="1.0" height="1.0"/><rect x="211.0" y="420.8" width="0.9" height="0.9"/><rect x="214.5" y="396.0" width="0.7" height="0.7"/><rect x="202.2" y="396.0" width="0.6" height="0.6"/><rect x="227.8" y="396.6" width="1.1" height="1.1"/><rect x="200.0" y="397.0" width="0.7" height="0.7"/><rect x="217.0" y="394.1" width="0.8" height="0.8"/><rect x="227.7" y="397.0" width="0.7" height="0.7"/><rect x="216.8" y="404.5" width="0.8" height="0.8"/><rect x="228.5" y="418.9" width="1.1" height="1.1"/><rect x="219.8" y="394.3" width="1.1" height="1.1"/><rect x="228.1" y="398.8" width="0.8" height="0.8"/><rect x="224.2" y="393.1" width="1.1" height="1.1"/><rect x="206.9" y="394.0" width="0.7" height="0.7"/><rect x="229.4" y="402.0" width="0.8" height="0.8"/><rect x="218.3" y="394.7" width="0.7" height="0.7"/><rect x="199.5" y="400.2" width="0.8" height="0.8"/><rect x="229.6" y="402.1" width="1.0" height="1.0"/><rect x="201.5" y="397.1" width="1.1" height="1.1"/><rect x="227.2" y="396.3" width="0.7" height="0.7"/><rect x="229.1" y="397.3" width="0.9" height="0.9"/><rect x="208.7" y="395.2" width="0.8" height="0.8"/><rect x="217.0" y="401.4" width="0.9" height="0.9"/><rect x="227.6" y="404.2" width="0.6" height="0.6"/><rect x="199.2" y="398.8" width="0.8" height="0.8"/><rect x="228.8" y="399.4" width="1.0" height="1.0"/><rect x="226.9" y="393.8" width="0.7" height="0.7"/><rect x="221.8" y="393.2" width="0.6" height="0.6"/><rect x="228.8" y="414.7" width="1.0" height="1.0"/><rect x="228.8" y="411.2" width="0.6" height="0.6"/></g>
<path d="M223.3 413.5 220.5 411.0 221.1 409.8 220.6 407.8 218.3 406.5 223.1 404.1 224.8 404.9 225.5 406.5 223.3 413.5Z M211.6 407.8 207.1 406.6 206.0 404.8 207.3 404.3 208.8 404.7 211.6 406.8 211.6 407.8Z M205.1 420.5 203.8 420.5 201.1 418.8 199.6 418.8 198.9 418.0 198.6 415.7 199.6 413.2 199.0 409.5 199.6 408.3 201.3 407.2 202.3 407.8 203.8 410.9 208.5 411.5 208.0 412.8 206.1 413.2 202.3 412.5 200.6 411.5 200.0 413.0 201.1 415.6 205.8 419.2 205.9 420.0 205.1 420.5Z M225.3 421.8 218.6 420.4 217.6 419.5 217.7 418.2 218.8 417.8 221.3 419.2 225.6 419.6 226.5 421.0 225.3 421.8Z" fill="#222" fill-opacity="1.0" fill-rule="evenodd"/>
<path d="M226.6 422.8 209.1 421.8 204.8 422.2 198.8 421.1 198.4 416.0 198.9 399.0 204.8 396.1 212.7 396.5 224.3 393.3 226.3 393.6 227.8 398.5 228.0 405.5 227.4 418.0 227.8 421.2 226.6 422.8 M217.0 401.5 217.9 400.0 216.8 399.3 215.8 400.5 216.1 401.3 217.0 401.5" fill="none" stroke="#111" stroke-width="0.9" stroke-linejoin="round"/>
<path d="M226.6 422.5 212.1 421.7 209.1 421.0 204.8 421.8 199.3 420.5 198.6 419.5 198.4 416.2 198.6 402.0 199.2 399.2 205.1 396.4 212.8 396.8 224.3 393.7 226.1 393.8 227.2 398.2 227.6 405.5 226.8 411.2 226.8 418.2 227.5 421.0 226.6 422.5 M217.5 403.5 219.2 399.5 218.6 398.8 216.8 398.6 215.1 399.8 214.9 401.5 215.8 403.2 217.5 403.5 M213.2 412.5 213.1 412.0 212.0 412.2 213.2 412.5 M204.3 415.2 203.8 414.0 202.6 414.0 202.9 415.0 204.3 415.2" fill="none" stroke="#222" stroke-width="0.7" stroke-linejoin="round"/>
<path d="M226.3 422.3 218.3 421.4 215.1 420.2 212.1 420.8 210.1 420.0 206.1 421.4 204.3 421.4 198.8 419.2 198.4 416.2 198.5 408.8 199.1 406.2 198.7 403.2 199.8 399.5 205.3 396.8 215.3 396.8 224.3 394.0 225.8 394.1 226.5 398.0 226.1 400.2 227.1 405.8 226.0 411.2 226.2 418.2 227.3 420.8 226.3 422.3 M215.2 405.5 219.0 404.8 220.8 399.5 220.7 398.2 216.3 398.1 214.3 399.8 213.1 401.8 210.1 402.0 210.0 404.2 211.4 405.5 215.2 405.5 M201.4 404.8 203.8 404.4 204.9 403.5 202.6 402.9 201.3 402.0 201.4 404.8 M204.3 409.2 206.6 407.8 206.4 407.2 204.2 407.0 203.6 408.8 204.3 409.2 M206.1 417.0 210.8 414.7 214.3 413.8 215.2 412.2 213.2 410.8 215.8 409.5 215.7 408.0 213.2 408.0 212.6 410.8 210.6 412.9 206.6 414.1 201.3 413.3 201.4 414.2 202.5 415.5 205.0 417.0 206.1 417.0 M208.6 409.5 208.8 408.7 208.6 409.5" fill="none" stroke="#444" stroke-width="0.6" stroke-linejoin="round"/>
<path d="M225.3 422.3 218.3 421.1 211.8 418.0 205.3 421.2 203.8 421.1 199.1 419.0 198.5 417.2 198.6 409.8 199.5 406.5 199.1 403.5 199.6 401.8 200.1 401.6 200.3 402.2 200.6 406.2 202.1 405.0 203.2 405.2 203.6 406.8 203.2 409.0 204.0 410.2 208.6 410.5 209.4 408.5 208.6 407.6 205.3 406.2 204.8 404.5 207.8 403.5 212.1 406.2 219.3 405.4 220.4 404.2 222.4 398.0 221.8 397.5 217.9 396.8 224.3 394.3 225.6 394.4 226.0 395.5 224.8 400.0 226.6 406.0 225.2 411.0 225.6 414.0 224.9 418.0 226.7 419.8 227.0 420.8 226.6 421.9 225.3 422.3 M202.3 400.5 200.8 400.4 200.7 399.8 205.3 397.2 215.3 397.8 212.8 399.9 206.1 399.1 202.3 400.5 M206.8 417.5 208.6 416.3 212.8 414.8 214.3 415.1 216.3 416.5 218.7 416.5 220.4 414.2 220.4 412.2 219.3 411.7 216.1 411.8 214.7 411.0 216.1 410.2 219.3 410.1 219.6 409.5 217.8 407.8 213.1 407.4 212.6 407.7 211.9 410.8 210.3 412.6 206.3 413.7 201.0 412.5 200.8 413.9 201.7 415.2 205.1 417.6 206.8 417.5 M222.6 418.0 222.3 417.2 221.3 417.5 222.6 418.0" fill="none" stroke="#444" stroke-width="0.6" stroke-linejoin="round"/>
<path d="M224.3 396.6 221.5 396.2 225.2 394.8 225.4 395.8 224.3 396.6 M212.8 399.3 207.6 398.0 213.9 398.0 213.7 398.8 212.8 399.3 M223.8 414.9 222.6 414.6 219.9 411.0 220.6 409.8 220.0 407.8 216.1 406.8 220.6 405.2 221.6 403.8 222.1 401.0 223.1 399.9 223.9 400.5 224.5 403.2 226.0 406.0 224.5 411.0 224.6 413.8 223.8 414.9 M205.6 420.8 203.8 420.7 198.9 418.5 198.8 409.5 199.6 407.7 202.1 405.8 202.9 407.2 203.0 409.2 203.8 410.6 206.3 411.1 209.0 410.8 209.9 409.2 209.8 408.2 206.2 406.2 205.5 405.0 206.1 404.4 207.8 404.1 212.1 406.8 212.2 409.0 211.1 411.2 209.6 411.6 207.3 413.3 202.3 412.7 200.8 411.9 200.4 413.0 201.3 415.4 207.1 419.2 205.6 420.8 M217.3 411.3 215.9 411.0 218.0 411.0 217.3 411.3 M215.8 418.5 214.3 418.6 213.1 418.0 212.4 417.0 212.8 415.8 214.2 416.0 215.8 418.5 M225.3 422.0 218.5 420.8 216.2 418.5 217.2 417.5 218.3 417.3 221.3 418.7 225.3 419.2 226.3 419.8 226.7 420.8 226.3 421.7 225.3 422.0 M208.8 418.8 208.1 418.5 209.3 417.7 209.5 418.2 208.8 418.8" fill="none" stroke="#333" stroke-width="0.6" stroke-linejoin="round"/>
<path d="M211.6 407.5 207.3 406.7 206.4 406.0 206.1 404.8 207.3 404.3 208.8 404.7 211.5 406.8 211.6 407.5 M223.1 413.3 220.6 411.0 221.2 409.8 220.7 407.8 218.7 406.5 223.3 404.3 224.8 405.1 225.4 406.8 223.7 412.8 223.1 413.3 M207.3 413.0 202.3 412.5 200.8 411.4 199.6 412.9 198.9 410.8 199.3 408.8 201.6 407.4 203.8 410.9 208.3 411.5 207.3 413.0 M204.6 420.5 199.1 418.4 198.6 416.0 199.6 413.6 201.2 415.8 205.4 419.0 205.7 420.0 204.6 420.5 M225.1 421.8 218.6 420.3 217.8 419.5 217.9 418.2 218.8 417.9 221.1 419.2 225.6 419.7 226.4 421.0 225.1 421.8" fill="none" stroke="#222" stroke-width="0.6" stroke-linejoin="round"/>
<line x1="223.6" y1="378.1" x2="223.6" y2="422.8" stroke="#9a9a9a" stroke-width="1.1"/>
<line x1="198.6" y1="406.9" x2="246.1" y2="406.9" stroke="#9a9a9a" stroke-width="1.1"/>
<rect x="250.5" y="378.1" width="48.2" height="44.7" fill="none" stroke="#9c9c9c" stroke-width="1.1"/>
<path d="M275.8 422.8 264.4 422.8 264.7 420.5 263.8 420.0 262.2 420.4 260.2 422.1 257.8 422.1 257.1 422.8 252.3 422.8 254.0 420.9 256.2 420.7 256.6 419.5 256.0 417.3 254.0 416.9 252.6 411.5 254.7 409.5 254.1 408.0 254.6 404.8 258.3 403.5 257.4 400.5 259.5 396.6 262.0 395.1 264.5 395.1 267.0 392.3 271.8 391.0 274.0 391.8 276.0 391.6 279.5 387.8 280.4 382.0 281.5 381.2 283.0 381.0 284.0 381.6 285.1 383.5 285.5 387.2 284.9 388.5 282.5 388.7 281.9 389.5 285.3 392.2 287.4 398.2 287.9 403.5 287.6 412.0 285.2 416.7 285.0 419.8 283.8 420.8 277.8 421.5 276.6 420.8 275.5 418.5 273.7 418.0 275.8 422.8Z M271.4 416.5 271.0 416.2 271.4 416.5Z" fill="#f0f0f0" fill-opacity="1.0" fill-rule="evenodd"/>
<path d="M280.5 420.8 278.0 420.6 276.0 417.8 270.6 415.0 255.5 408.9 254.7 407.5 254.9 405.2 256.5 404.6 258.2 404.6 265.8 406.8 265.6 397.2 267.0 395.0 267.0 393.2 271.5 392.6 276.8 392.9 278.0 390.6 279.5 389.8 284.0 392.0 285.1 393.2 286.4 398.0 286.1 401.0 287.0 403.8 286.8 411.8 285.9 414.0 284.2 415.5 284.1 419.2 283.2 420.1 280.5 420.8Z M273.9 410.2 274.0 408.2 273.5 407.6 267.6 407.8 270.2 409.2 273.9 410.2Z" fill="#dedede" fill-opacity="1.0" fill-rule="evenodd"/>
<g fill="#111" opacity="0.8"><rect x="286.2" y="387.2" width="0.9" height="0.9"/><rect x="263.5" y="421.4" width="0.9" height="0.9"/><rect x="283.4" y="383.0" width="1.1" height="1.1"/><rect x="264.2" y="420.5" width="1.0" height="1.0"/><rect x="285.5" y="414.3" width="1.1" height="1.1"/><rect x="288.8" y="410.5" width="0.7" height="0.7"/><rect x="263.1" y="399.4" width="0.9" height="0.9"/><rect x="262.8" y="401.5" width="1.0" height="1.0"/><rect x="286.1" y="416.9" width="1.1" height="1.1"/><rect x="263.0" y="402.8" width="0.9" height="0.9"/><rect x="284.9" y="386.9" width="1.0" height="1.0"/><rect x="258.1" y="416.0" width="0.6" height="0.6"/><rect x="286.0" y="384.4" width="1.0" height="1.0"/><rect x="254.6" y="416.2" width="1.0" height="1.0"/><rect x="281.6" y="382.9" width="0.8" height="0.8"/><rect x="262.8" y="393.8" width="0.9" height="0.9"/><rect x="284.6" y="385.9" width="1.0" height="1.0"/><rect x="264.1" y="393.1" width="1.0" height="1.0"/><rect x="259.2" y="400.8" width="0.9" height="0.9"/><rect x="259.2" y="402.4" width="0.7" height="0.7"/><rect x="258.5" y="417.2" width="1.1" height="1.1"/><rect x="262.9" y="396.1" width="1.1" height="1.1"/><rect x="263.2" y="398.3" width="0.7" height="0.7"/><rect x="283.8" y="384.5" width="1.0" height="1.0"/><rect x="269.4" y="418.1" width="0.8" height="0.8"/><rect x="261.0" y="399.8" width="0.7" height="0.7"/><rect x="288.4" y="410.7" width="1.0" height="1.0"/><rect x="266.0" y="416.8" width="1.1" height="1.1"/><rect x="259.0" y="398.2" width="0.8" height="0.8"/><rect x="266.3" y="391.0" width="0.8" height="0.8"/><rect x="261.9" y="400.6" width="1.0" height="1.0"/><rect x="255.7" y="410.6" width="0.9" height="0.9"/><rect x="260.8" y="414.6" width="1.0" height="1.0"/><rect x="257.8" y="410.8" width="0.9" height="0.9"/><rect x="280.0" y="386.7" width="0.6" height="0.6"/><rect x="281.3" y="380.7" width="1.1" height="1.1"/><rect x="282.0" y="383.0" width="0.8" height="0.8"/><rect x="260.9" y="400.3" width="1.1" height="1.1"/><rect x="252.1" y="418.3" width="1.1" height="1.1"/><rect x="263.2" y="403.3" width="0.7" height="0.7"/><rect x="266.0" y="421.2" width="0.7" height="0.7"/><rect x="283.8" y="420.7" width="1.1" height="1.1"/><rect x="253.8" y="413.9" width="0.9" height="0.9"/><rect x="270.1" y="415.7" width="0.8" height="0.8"/><rect x="255.2" y="411.1" width="0.9" height="0.9"/><rect x="283.1" y="385.1" width="0.7" height="0.7"/><rect x="282.2" y="386.5" width="1.1" height="1.1"/><rect x="260.8" y="416.7" width="0.8" height="0.8"/><rect x="288.6" y="402.8" width="1.0" height="1.0"/><rect x="273.3" y="418.4" width="0.7" height="0.7"/><rect x="285.5" y="386.3" width="0.9" height="0.9"/><rect x="280.0" y="414.8" width="0.6" height="0.6"/><rect x="272.7" y="390.9" width="0.8" height="0.8"/><rect x="266.2" y="400.3" width="0.9" height="0.9"/><rect x="282.1" y="389.7" width="1.1" height="1.1"/><rect x="284.2" y="388.0" width="0.9" height="0.9"/><rect x="258.0" y="414.9" width="0.9" height="0.9"/><rect x="274.9" y="419.7" width="1.0" height="1.0"/><rect x="252.8" y="420.2" width="1.1" height="1.1"/><rect x="288.2" y="412.5" width="0.8" height="0.8"/><rect x="254.3" y="410.5" width="1.1" height="1.1"/><rect x="266.5" y="395.3" width="0.9" height="0.9"/><rect x="266.8" y="390.2" width="0.9" height="0.9"/><rect x="275.0" y="420.5" width="0.7" height="0.7"/><rect x="254.3" y="414.5" width="1.0" height="1.0"/><rect x="284.5" y="420.3" width="1.1" height="1.1"/><rect x="255.4" y="411.7" width="0.7" height="0.7"/><rect x="261.2" y="417.0" width="0.7" height="0.7"/><rect x="286.8" y="414.8" width="0.7" height="0.7"/><rect x="253.8" y="404.6" width="0.7" height="0.7"/><rect x="287.5" y="397.4" width="0.8" height="0.8"/><rect x="285.1" y="416.3" width="0.9" height="0.9"/><rect x="266.2" y="418.0" width="0.6" height="0.6"/><rect x="261.2" y="393.4" width="0.7" height="0.7"/><rect x="278.1" y="383.8" width="1.0" height="1.0"/><rect x="287.2" y="414.3" width="0.9" height="0.9"/><rect x="285.9" y="385.3" width="0.7" height="0.7"/><rect x="259.6" y="399.1" width="0.8" height="0.8"/><rect x="270.2" y="391.1" width="0.7" height="0.7"/><rect x="285.2" y="391.3" width="0.9" height="0.9"/><rect x="268.1" y="418.1" width="0.9" height="0.9"/><rect x="263.2" y="399.5" width="0.8" height="0.8"/><rect x="282.6" y="387.9" width="1.1" height="1.1"/><rect x="270.1" y="418.9" width="1.0" height="1.0"/><rect x="255.3" y="411.6" width="0.9" height="0.9"/><rect x="257.5" y="414.6" width="1.0" height="1.0"/><rect x="274.1" y="391.7" width="0.9" height="0.9"/><rect x="264.8" y="395.5" width="0.8" height="0.8"/><rect x="286.0" y="412.4" width="0.7" height="0.7"/><rect x="253.3" y="407.9" width="1.0" height="1.0"/><rect x="259.2" y="413.4" width="0.8" height="0.8"/><rect x="261.4" y="418.2" width="0.8" height="0.8"/><rect x="265.9" y="395.0" width="1.0" height="1.0"/><rect x="251.5" y="414.8" width="1.0" height="1.0"/><rect x="274.3" y="419.1" width="0.9" height="0.9"/><rect x="253.5" y="404.8" width="1.0" height="1.0"/><rect x="263.5" y="400.3" width="0.8" height="0.8"/><rect x="263.8" y="419.7" width="0.8" height="0.8"/><rect x="282.6" y="387.1" width="0.9" height="0.9"/><rect x="260.6" y="396.3" width="1.1" height="1.1"/><rect x="265.8" y="401.5" width="1.1" height="1.1"/><rect x="285.1" y="391.8" width="0.7" height="0.7"/><rect x="273.2" y="420.2" width="0.6" height="0.6"/><rect x="281.2" y="380.5" width="1.0" height="1.0"/><rect x="264.6" y="392.4" width="0.9" height="0.9"/><rect x="262.1" y="415.6" width="0.7" height="0.7"/><rect x="286.6" y="409.9" width="0.8" height="0.8"/><rect x="275.1" y="390.6" width="0.9" height="0.9"/><rect x="258.3" y="402.6" width="0.7" height="0.7"/><rect x="275.7" y="419.2" width="0.7" height="0.7"/><rect x="287.6" y="398.7" width="0.7" height="0.7"/><rect x="286.5" y="401.5" width="0.7" height="0.7"/><rect x="259.1" y="412.7" width="0.8" height="0.8"/><rect x="286.4" y="388.3" width="0.9" height="0.9"/><rect x="284.2" y="389.1" width="0.7" height="0.7"/><rect x="265.5" y="418.6" width="0.9" height="0.9"/><rect x="287.2" y="389.0" width="0.8" height="0.8"/><rect x="264.5" y="399.4" width="0.8" height="0.8"/><rect x="284.9" y="421.4" width="0.9" height="0.9"/><rect x="288.6" y="406.4" width="0.6" height="0.6"/><rect x="255.6" y="411.4" width="1.0" height="1.0"/><rect x="284.2" y="388.5" width="0.7" height="0.7"/><rect x="262.3" y="417.8" width="1.1" height="1.1"/><rect x="263.8" y="401.4" width="0.9" height="0.9"/><rect x="289.1" y="401.2" width="0.8" height="0.8"/><rect x="264.8" y="415.3" width="1.1" height="1.1"/><rect x="253.5" y="416.8" width="0.9" height="0.9"/><rect x="269.5" y="420.2" width="0.9" height="0.9"/><rect x="257.7" y="398.4" width="0.9" height="0.9"/><rect x="264.0" y="418.0" width="1.1" height="1.1"/><rect x="264.1" y="416.2" width="0.7" height="0.7"/><rect x="263.3" y="404.9" width="1.0" height="1.0"/><rect x="285.7" y="419.3" width="0.7" height="0.7"/><rect x="285.9" y="385.1" width="0.8" height="0.8"/><rect x="252.9" y="410.1" width="0.9" height="0.9"/><rect x="288.2" y="401.1" width="1.1" height="1.1"/><rect x="259.6" y="413.0" width="1.1" height="1.1"/><rect x="260.3" y="397.5" width="0.9" height="0.9"/><rect x="255.0" y="412.4" width="1.1" height="1.1"/><rect x="263.4" y="401.1" width="0.7" height="0.7"/><rect x="286.8" y="394.1" width="1.1" height="1.1"/><rect x="262.7" y="395.4" width="1.0" height="1.0"/><rect x="285.8" y="415.8" width="0.7" height="0.7"/><rect x="257.3" y="421.2" width="0.9" height="0.9"/><rect x="261.2" y="413.9" width="0.6" height="0.6"/><rect x="253.5" y="413.3" width="0.9" height="0.9"/><rect x="279.1" y="384.8" width="0.8" height="0.8"/><rect x="261.0" y="401.3" width="0.8" height="0.8"/><rect x="263.7" y="421.1" width="0.9" height="0.9"/><rect x="279.8" y="388.7" width="0.7" height="0.7"/></g>
<path d="M279.8 409.0 277.1 406.2 275.0 402.3 275.8 398.8 278.2 396.9 279.2 397.1 280.6 398.2 279.9 400.8 281.3 404.0 279.8 409.0Z M269.5 413.0 267.8 412.8 259.4 409.2 258.0 408.2 256.8 406.0 260.3 406.5 266.1 408.8 268.7 410.5 269.5 413.0Z M276.0 414.8 274.8 414.5 272.2 411.6 276.2 413.0 276.8 414.0 276.0 414.8Z" fill="#222" fill-opacity="1.0" fill-rule="evenodd"/>
<path d="M279.2 421.0 277.6 420.5 276.1 418.0 271.4 415.5 255.2 408.8 254.7 408.0 254.6 406.2 255.2 404.8 257.5 404.5 265.5 406.6 265.4 397.2 266.8 395.0 267.0 393.0 271.2 392.6 276.5 392.7 277.9 390.5 279.5 389.6 284.0 391.9 285.1 393.0 286.6 398.0 286.5 401.0 287.2 404.0 286.9 412.0 286.1 414.0 284.5 416.0 284.2 419.5 283.0 420.4 279.2 421.0 M273.7 410.0 273.8 408.5 273.2 407.8 268.2 407.8 270.4 409.2 273.7 410.0" fill="none" stroke="#111" stroke-width="0.9" stroke-linejoin="round"/>
<path d="M281.0 420.3 278.3 420.2 276.6 417.8 255.1 408.2 255.1 405.2 258.0 404.8 274.3 410.8 274.5 408.2 273.8 406.9 267.8 407.0 266.4 406.2 266.1 397.5 266.5 396.2 267.8 395.2 267.1 394.2 267.5 393.1 274.5 393.0 277.0 393.6 278.1 391.0 279.5 390.3 283.8 392.3 284.9 393.8 286.1 398.5 285.0 401.2 286.6 404.0 286.4 411.5 285.0 413.9 282.5 412.8 278.7 413.8 279.0 415.4 281.8 415.0 283.4 416.2 283.4 419.2 281.0 420.3" fill="none" stroke="#222" stroke-width="0.7" stroke-linejoin="round"/>
<path d="M280.2 419.5 278.8 419.2 278.5 417.6 275.0 416.8 271.5 414.8 255.4 408.0 255.3 405.5 258.0 405.0 274.8 411.2 275.1 407.8 272.7 402.8 273.4 398.5 274.6 395.2 268.0 394.5 267.4 394.0 267.8 393.4 275.0 393.4 277.2 395.0 278.0 394.2 278.5 391.5 279.5 390.9 283.6 393.0 284.5 394.2 285.2 398.2 283.4 401.2 285.8 404.2 285.9 409.5 285.0 411.8 283.0 411.6 278.0 413.0 278.8 417.0 281.0 416.1 282.3 417.0 282.1 418.8 280.2 419.5 M269.2 400.3 268.0 400.0 267.2 399.0 267.0 397.2 267.8 396.5 270.2 396.4 272.0 398.2 271.4 399.5 269.2 400.3 M270.8 406.3 267.6 406.0 267.2 405.2 267.5 403.9 271.7 404.2 272.0 405.5 270.8 406.3" fill="none" stroke="#444" stroke-width="0.6" stroke-linejoin="round"/>
<path d="M277.5 417.0 257.7 409.0 255.8 407.8 255.5 406.0 256.2 405.3 258.2 405.3 265.8 407.9 270.2 410.3 275.6 411.8 275.9 408.0 273.9 402.5 274.4 398.5 275.5 396.4 278.6 395.0 278.9 392.2 279.8 391.6 281.3 392.5 282.3 394.0 280.5 395.2 280.5 396.1 282.0 396.5 283.5 395.3 284.1 396.5 284.0 398.0 281.9 400.8 283.1 404.2 281.8 407.0 282.8 408.4 284.5 407.7 284.9 408.5 284.6 409.2 281.2 411.4 277.0 412.1 278.0 416.5 277.5 417.0 M275.2 394.6 269.4 394.0 272.2 393.5 275.2 394.0 275.6 394.2 275.2 394.6" fill="none" stroke="#444" stroke-width="0.6" stroke-linejoin="round"/>
<path d="M280.8 410.5 279.5 410.7 278.2 410.0 274.6 402.8 275.2 398.2 278.2 396.3 279.2 396.4 281.6 398.2 280.6 400.8 281.9 404.0 280.9 407.2 281.3 409.8 280.8 410.5 M270.5 413.3 268.0 413.1 258.8 409.2 256.8 407.8 256.0 405.9 258.0 405.5 266.2 408.5 269.4 410.5 270.6 412.5 270.5 413.3 M276.0 415.6 271.7 413.2 271.1 412.5 271.2 411.2 272.2 411.0 276.5 412.9 277.2 414.2 276.0 415.6" fill="none" stroke="#333" stroke-width="0.6" stroke-linejoin="round"/>
<path d="M279.5 408.0 277.2 406.3 275.1 402.2 275.9 398.8 278.2 397.0 279.2 397.2 280.4 398.2 279.8 400.8 281.2 404.0 280.9 405.8 279.5 408.0 M269.2 413.0 259.5 409.2 258.2 408.2 257.0 406.1 260.8 406.7 267.2 409.5 268.9 411.0 269.2 413.0 M275.8 414.8 272.7 412.0 276.2 413.1 276.7 414.0 275.8 414.8" fill="none" stroke="#222" stroke-width="0.6" stroke-linejoin="round"/>
<line x1="275.3" y1="378.1" x2="275.3" y2="422.8" stroke="#9a9a9a" stroke-width="1.1"/>
<line x1="250.5" y1="407.4" x2="298.7" y2="407.4" stroke="#9a9a9a" stroke-width="1.1"/>
<rect x="43.1" y="427.1" width="47.7" height="44.9" fill="none" stroke="#9c9c9c" stroke-width="1.1"/>
<path d="M67.6 452.6 54.9 452.1 50.1 452.8 46.6 452.2 45.2 451.6 44.4 450.6 43.6 447.1 47.2 441.6 51.1 439.7 58.9 438.9 68.8 439.3 70.3 440.1 71.9 442.4 73.1 447.4 72.8 448.9 71.3 450.9 70.3 450.9 69.2 452.1 67.6 452.6Z M50.2 444.6 50.6 443.9 49.8 444.1 50.2 444.6Z M49.9 458.1 47.3 457.9 44.5 455.9 46.2 456.1 49.9 458.1Z M51.6 457.9 50.7 457.9 52.7 457.1 51.6 457.9Z M63.1 458.4 61.1 458.1 63.5 458.1 63.1 458.4Z" fill="#d8d8d8" fill-opacity="1.0" fill-rule="evenodd"/>
<g fill="#111" opacity="0.8"><rect x="59.1" y="463.6" width="0.8" height="0.8"/><rect x="48.6" y="463.4" width="0.7" height="0.7"/><rect x="64.4" y="454.4" width="1.0" height="1.0"/><rect x="67.8" y="459.0" width="0.7" height="0.7"/><rect x="48.8" y="461.0" width="0.7" height="0.7"/><rect x="56.2" y="455.0" width="1.0" height="1.0"/><rect x="46.0" y="465.8" width="0.9" height="0.9"/><rect x="47.2" y="463.1" width="0.6" height="0.6"/><rect x="63.0" y="459.2" width="0.8" height="0.8"/><rect x="59.8" y="463.3" width="1.1" height="1.1"/><rect x="60.0" y="463.4" width="1.1" height="1.1"/><rect x="58.0" y="465.2" width="1.1" height="1.1"/><rect x="58.2" y="454.4" width="1.1" height="1.1"/><rect x="73.5" y="458.6" width="0.9" height="0.9"/><rect x="69.1" y="466.3" width="0.9" height="0.9"/><rect x="56.2" y="465.9" width="1.0" height="1.0"/><rect x="73.5" y="451.4" width="1.0" height="1.0"/><rect x="59.2" y="469.2" width="1.1" height="1.1"/><rect x="44.0" y="442.8" width="1.1" height="1.1"/><rect x="64.7" y="467.2" width="0.9" height="0.9"/><rect x="50.1" y="470.4" width="0.9" height="0.9"/><rect x="45.7" y="468.6" width="0.7" height="0.7"/><rect x="44.1" y="454.4" width="0.8" height="0.8"/><rect x="48.4" y="463.9" width="1.1" height="1.1"/><rect x="73.5" y="451.2" width="0.8" height="0.8"/><rect x="63.8" y="466.2" width="1.0" height="1.0"/><rect x="51.5" y="469.3" width="0.9" height="0.9"/><rect x="57.3" y="469.8" width="0.8" height="0.8"/><rect x="62.8" y="454.3" width="1.0" height="1.0"/><rect x="72.1" y="465.2" width="0.7" height="0.7"/><rect x="61.3" y="454.7" width="0.7" height="0.7"/><rect x="51.9" y="437.6" width="0.8" height="0.8"/><rect x="66.4" y="452.7" width="1.0" height="1.0"/><rect x="67.0" y="462.6" width="1.0" height="1.0"/><rect x="57.2" y="467.5" width="1.0" height="1.0"/><rect x="49.9" y="469.6" width="0.7" height="0.7"/><rect x="62.1" y="464.9" width="0.8" height="0.8"/><rect x="56.5" y="459.0" width="1.0" height="1.0"/><rect x="51.2" y="455.0" width="1.0" height="1.0"/><rect x="59.3" y="469.0" width="0.8" height="0.8"/><rect x="54.1" y="460.4" width="0.8" height="0.8"/><rect x="69.0" y="437.2" width="0.9" height="0.9"/><rect x="61.7" y="455.2" width="1.0" height="1.0"/><rect x="59.6" y="437.9" width="1.0" height="1.0"/><rect x="61.2" y="461.2" width="0.8" height="0.8"/><rect x="54.8" y="460.0" width="0.9" height="0.9"/><rect x="55.4" y="457.8" width="1.0" height="1.0"/><rect x="65.4" y="455.0" width="1.0" height="1.0"/><rect x="49.7" y="454.3" width="0.9" height="0.9"/><rect x="60.1" y="456.4" width="0.7" height="0.7"/><rect x="63.2" y="455.6" width="0.8" height="0.8"/><rect x="61.3" y="459.2" width="0.8" height="0.8"/><rect x="71.0" y="457.7" width="0.9" height="0.9"/><rect x="54.1" y="462.4" width="1.0" height="1.0"/><rect x="45.9" y="454.3" width="0.8" height="0.8"/><rect x="55.3" y="457.5" width="0.7" height="0.7"/><rect x="64.2" y="467.1" width="0.9" height="0.9"/><rect x="60.1" y="464.7" width="1.0" height="1.0"/><rect x="64.1" y="462.8" width="1.1" height="1.1"/><rect x="63.0" y="462.7" width="0.8" height="0.8"/><rect x="64.3" y="459.9" width="0.7" height="0.7"/><rect x="44.0" y="453.7" width="0.9" height="0.9"/><rect x="70.5" y="462.7" width="1.0" height="1.0"/><rect x="57.4" y="460.9" width="1.1" height="1.1"/><rect x="47.0" y="461.4" width="0.7" height="0.7"/><rect x="51.3" y="458.7" width="1.1" height="1.1"/><rect x="54.1" y="452.6" width="1.1" height="1.1"/><rect x="48.7" y="455.2" width="0.8" height="0.8"/><rect x="67.8" y="462.5" width="0.7" height="0.7"/><rect x="45.0" y="464.5" width="1.1" height="1.1"/><rect x="65.5" y="470.5" width="1.1" height="1.1"/><rect x="51.9" y="469.2" width="0.9" height="0.9"/><rect x="50.3" y="467.2" width="1.0" height="1.0"/><rect x="55.3" y="459.2" width="1.0" height="1.0"/><rect x="48.2" y="470.3" width="0.8" height="0.8"/><rect x="69.3" y="438.0" width="0.9" height="0.9"/><rect x="72.1" y="437.6" width="0.8" height="0.8"/><rect x="46.0" y="464.1" width="1.1" height="1.1"/><rect x="49.6" y="466.3" width="0.8" height="0.8"/><rect x="59.9" y="437.8" width="0.8" height="0.8"/><rect x="45.4" y="460.0" width="1.0" height="1.0"/><rect x="46.6" y="460.1" width="0.9" height="0.9"/><rect x="54.8" y="459.6" width="0.8" height="0.8"/><rect x="49.2" y="460.6" width="0.7" height="0.7"/><rect x="46.6" y="459.9" width="1.0" height="1.0"/><rect x="61.9" y="454.6" width="0.8" height="0.8"/><rect x="51.8" y="459.8" width="1.1" height="1.1"/><rect x="67.9" y="464.7" width="0.7" height="0.7"/><rect x="66.8" y="461.7" width="0.9" height="0.9"/><rect x="64.8" y="459.2" width="1.0" height="1.0"/><rect x="64.9" y="453.6" width="1.1" height="1.1"/><rect x="69.5" y="462.9" width="1.0" height="1.0"/><rect x="49.7" y="439.7" width="1.0" height="1.0"/><rect x="55.9" y="468.5" width="1.0" height="1.0"/><rect x="55.1" y="459.4" width="1.1" height="1.1"/><rect x="43.9" y="465.7" width="1.0" height="1.0"/><rect x="66.0" y="457.7" width="1.0" height="1.0"/><rect x="51.0" y="468.2" width="0.9" height="0.9"/><rect x="72.8" y="459.8" width="1.0" height="1.0"/><rect x="60.8" y="457.0" width="0.8" height="0.8"/><rect x="49.5" y="464.2" width="1.1" height="1.1"/><rect x="57.7" y="455.1" width="0.7" height="0.7"/><rect x="51.6" y="468.3" width="0.9" height="0.9"/><rect x="68.1" y="462.1" width="0.9" height="0.9"/><rect x="72.2" y="456.0" width="0.8" height="0.8"/><rect x="71.3" y="452.8" width="1.0" height="1.0"/><rect x="43.7" y="466.7" width="1.0" height="1.0"/><rect x="64.6" y="461.2" width="1.0" height="1.0"/><rect x="58.0" y="452.6" width="0.9" height="0.9"/><rect x="49.6" y="463.6" width="0.9" height="0.9"/><rect x="45.9" y="461.4" width="0.7" height="0.7"/><rect x="74.6" y="443.0" width="1.0" height="1.0"/><rect x="55.8" y="459.8" width="0.7" height="0.7"/><rect x="71.5" y="465.4" width="0.8" height="0.8"/><rect x="60.3" y="461.6" width="1.1" height="1.1"/><rect x="69.7" y="461.6" width="0.7" height="0.7"/><rect x="70.7" y="437.8" width="0.7" height="0.7"/><rect x="70.0" y="465.9" width="0.7" height="0.7"/><rect x="70.0" y="460.6" width="1.1" height="1.1"/><rect x="64.4" y="453.6" width="0.9" height="0.9"/><rect x="48.2" y="454.8" width="0.8" height="0.8"/><rect x="51.0" y="468.8" width="0.7" height="0.7"/><rect x="56.5" y="454.3" width="0.9" height="0.9"/><rect x="45.5" y="454.6" width="1.1" height="1.1"/><rect x="62.9" y="456.3" width="1.1" height="1.1"/><rect x="55.9" y="462.4" width="1.1" height="1.1"/><rect x="45.5" y="468.5" width="1.0" height="1.0"/><rect x="72.3" y="439.1" width="1.0" height="1.0"/><rect x="65.3" y="437.3" width="0.7" height="0.7"/><rect x="57.3" y="461.8" width="0.7" height="0.7"/><rect x="54.9" y="470.2" width="1.0" height="1.0"/><rect x="53.3" y="464.2" width="1.0" height="1.0"/><rect x="44.4" y="455.9" width="0.9" height="0.9"/><rect x="63.8" y="457.1" width="1.1" height="1.1"/><rect x="48.0" y="438.4" width="1.1" height="1.1"/><rect x="71.4" y="467.9" width="1.1" height="1.1"/><rect x="47.3" y="456.0" width="1.1" height="1.1"/><rect x="45.9" y="458.5" width="1.1" height="1.1"/><rect x="57.6" y="469.3" width="0.8" height="0.8"/><rect x="54.0" y="460.9" width="0.9" height="0.9"/></g>
<path d="M71.6 448.7 70.6 448.7 69.7 447.9 68.4 444.1 65.8 442.3 63.4 441.6 63.4 440.6 68.1 440.2 69.6 441.1 72.2 445.6 72.3 447.6 71.6 448.7Z M54.9 442.4 53.1 442.4 51.9 441.4 53.6 440.4 55.6 440.6 56.4 441.6 54.9 442.4Z" fill="#222" fill-opacity="1.0" fill-rule="evenodd"/>
<path d="M51.1 453.1 45.1 452.7 44.1 451.9 43.5 450.1 43.4 446.4 47.4 440.6 52.9 438.9 58.9 438.6 69.3 438.9 71.3 440.4 73.0 443.9 73.4 446.6 71.8 452.1 67.6 453.1 51.1 453.1 M62.9 459.1 61.1 459.0 55.9 456.9 51.6 458.7 49.1 459.0 44.6 457.0 43.7 455.9 44.1 455.3 45.1 455.2 49.9 457.1 56.4 455.3 61.9 457.3 68.9 457.1 62.9 459.1" fill="none" stroke="#111" stroke-width="0.9" stroke-linejoin="round"/>
<path d="M51.1 452.6 45.6 451.7 43.8 449.1 44.1 446.1 48.1 441.0 53.6 439.2 68.3 439.3 70.3 440.1 72.0 442.6 73.0 445.9 72.9 448.6 71.3 450.5 69.9 450.6 68.6 452.3 54.9 452.0 51.1 452.6 M50.2 444.9 51.0 444.4 50.7 443.6 49.3 444.4 49.5 444.9 50.2 444.9 M49.1 458.1 46.5 457.4 44.7 455.9 47.7 456.9 49.1 458.1 M62.6 458.4 61.7 458.1 62.9 458.1 62.6 458.4" fill="none" stroke="#222" stroke-width="0.7" stroke-linejoin="round"/>
<path d="M50.9 452.1 46.6 450.9 44.9 449.3 44.3 447.6 44.9 446.2 46.1 445.2 47.6 446.9 52.4 444.9 52.4 443.4 50.1 441.9 51.1 440.2 58.9 439.2 61.9 439.8 68.3 439.6 70.3 440.8 72.2 443.9 72.9 446.6 72.5 448.9 71.3 449.5 69.1 449.4 67.6 451.9 58.4 451.5 57.6 450.9 57.8 448.6 56.4 447.8 53.9 449.6 52.6 451.6 50.9 452.1 M62.4 449.9 65.6 448.1 66.6 446.7 66.6 445.8 65.3 445.7 63.4 448.2 61.4 448.9 62.4 449.9" fill="none" stroke="#444" stroke-width="0.6" stroke-linejoin="round"/>
<path d="M51.4 451.4 49.4 451.2 48.3 449.4 49.7 447.4 53.7 445.4 53.7 443.6 50.9 442.1 50.9 440.8 53.6 439.8 59.1 439.5 60.6 439.9 61.0 441.6 57.0 443.1 62.7 444.6 63.1 445.1 62.8 446.1 58.6 446.8 54.8 446.1 51.4 451.4 M71.6 449.1 67.8 448.1 67.5 444.9 61.8 441.6 62.2 440.4 63.9 439.8 68.1 439.8 69.8 440.7 72.5 445.6 72.6 448.1 71.6 449.1 M66.8 450.9 65.6 450.6 66.8 449.7 66.8 450.9" fill="none" stroke="#444" stroke-width="0.6" stroke-linejoin="round"/>
<path d="M54.6 442.9 51.6 442.1 51.2 441.1 53.6 440.1 59.9 440.1 59.6 441.4 54.6 442.9 M71.6 448.9 70.3 448.8 69.2 447.6 67.9 444.1 65.6 442.6 62.8 441.6 63.1 440.4 68.1 440.0 69.8 441.0 72.4 446.1 72.4 448.1 71.6 448.9" fill="none" stroke="#333" stroke-width="0.6" stroke-linejoin="round"/>
<path d="M71.6 448.6 70.6 448.6 69.7 447.9 68.5 444.1 65.8 442.3 63.5 441.6 63.6 440.6 68.1 440.3 69.6 441.1 72.2 445.6 72.3 447.6 71.6 448.6 M54.9 442.4 53.3 442.4 52.2 441.4 53.4 440.6 55.3 440.6 56.1 441.6 54.9 442.4" fill="none" stroke="#222" stroke-width="0.6" stroke-linejoin="round"/>
<line x1="66.6" y1="427.1" x2="66.6" y2="472.0" stroke="#9a9a9a" stroke-width="1.1"/>
<line x1="43.1" y1="456.2" x2="90.8" y2="456.2" stroke="#9a9a9a" stroke-width="1.1"/>
<rect x="94.7" y="427.1" width="47.8" height="44.9" fill="none" stroke="#9c9c9c" stroke-width="1.1"/>
<path d="M124.5 453.4 121.5 452.1 117.2 453.2 111.2 453.2 108.0 452.2 105.2 452.9 97.7 453.3 96.4 451.9 96.3 445.6 99.2 441.8 104.0 440.0 112.0 439.3 120.7 439.9 124.5 442.1 125.4 443.6 125.8 449.4 125.2 452.6 124.5 453.4Z M106.0 450.4 106.2 449.6 105.3 449.4 105.2 450.4 106.0 450.4Z M103.5 459.4 103.1 459.1 104.2 458.4 109.0 455.9 114.2 458.0 117.4 458.4 116.7 459.0 115.0 459.3 108.7 457.3 103.5 459.4Z" fill="#d8d8d8" fill-opacity="1.0" fill-rule="evenodd"/>
<g fill="#111" opacity="0.8"><rect x="109.0" y="461.7" width="0.8" height="0.8"/><rect x="105.9" y="460.1" width="0.8" height="0.8"/><rect x="120.8" y="454.3" width="0.8" height="0.8"/><rect x="116.3" y="460.7" width="1.0" height="1.0"/><rect x="118.9" y="438.3" width="0.7" height="0.7"/><rect x="114.9" y="453.8" width="0.8" height="0.8"/><rect x="120.1" y="466.5" width="0.7" height="0.7"/><rect x="113.8" y="460.7" width="0.8" height="0.8"/><rect x="116.6" y="462.1" width="1.1" height="1.1"/><rect x="108.8" y="467.9" width="0.9" height="0.9"/><rect x="111.8" y="463.5" width="0.9" height="0.9"/><rect x="113.9" y="456.2" width="0.9" height="0.9"/><rect x="102.7" y="462.3" width="0.9" height="0.9"/><rect x="116.0" y="458.2" width="0.8" height="0.8"/><rect x="112.3" y="466.1" width="1.1" height="1.1"/><rect x="115.6" y="462.0" width="0.9" height="0.9"/><rect x="117.1" y="467.6" width="0.7" height="0.7"/><rect x="106.1" y="468.1" width="1.0" height="1.0"/><rect x="116.4" y="461.3" width="1.1" height="1.1"/><rect x="113.0" y="439.0" width="1.1" height="1.1"/><rect x="127.2" y="452.3" width="1.0" height="1.0"/><rect x="119.2" y="455.0" width="0.8" height="0.8"/><rect x="122.7" y="460.0" width="1.1" height="1.1"/><rect x="119.2" y="456.5" width="1.0" height="1.0"/><rect x="111.3" y="460.1" width="1.1" height="1.1"/><rect x="115.1" y="460.4" width="0.7" height="0.7"/><rect x="123.2" y="454.7" width="0.9" height="0.9"/><rect x="126.3" y="453.2" width="0.7" height="0.7"/><rect x="122.7" y="460.9" width="0.9" height="0.9"/><rect x="111.5" y="467.5" width="1.0" height="1.0"/><rect x="99.1" y="456.0" width="0.8" height="0.8"/><rect x="104.4" y="468.7" width="0.8" height="0.8"/><rect x="99.6" y="455.6" width="0.8" height="0.8"/><rect x="115.6" y="457.1" width="0.8" height="0.8"/><rect x="95.0" y="468.8" width="0.8" height="0.8"/><rect x="105.3" y="454.8" width="0.7" height="0.7"/><rect x="99.8" y="456.0" width="0.8" height="0.8"/><rect x="117.1" y="469.2" width="1.0" height="1.0"/><rect x="107.6" y="468.9" width="0.9" height="0.9"/><rect x="95.4" y="453.3" width="0.9" height="0.9"/><rect x="104.8" y="455.4" width="0.8" height="0.8"/><rect x="117.3" y="470.6" width="0.7" height="0.7"/><rect x="119.6" y="463.3" width="1.0" height="1.0"/><rect x="117.8" y="437.6" width="0.9" height="0.9"/><rect x="114.5" y="461.9" width="1.0" height="1.0"/><rect x="120.8" y="460.8" width="0.8" height="0.8"/><rect x="99.4" y="441.3" width="0.9" height="0.9"/><rect x="99.6" y="470.1" width="0.8" height="0.8"/><rect x="108.5" y="465.6" width="0.9" height="0.9"/><rect x="116.0" y="460.9" width="0.8" height="0.8"/><rect x="99.0" y="460.1" width="0.7" height="0.7"/><rect x="114.5" y="459.1" width="0.9" height="0.9"/><rect x="100.8" y="470.6" width="0.9" height="0.9"/><rect x="102.6" y="453.2" width="0.9" height="0.9"/><rect x="98.3" y="467.3" width="0.9" height="0.9"/><rect x="117.8" y="455.1" width="0.8" height="0.8"/><rect x="107.3" y="437.8" width="0.7" height="0.7"/><rect x="118.8" y="460.6" width="0.9" height="0.9"/><rect x="97.7" y="467.4" width="0.8" height="0.8"/><rect x="103.4" y="467.9" width="0.9" height="0.9"/><rect x="97.3" y="470.2" width="0.7" height="0.7"/><rect x="117.0" y="470.3" width="0.9" height="0.9"/><rect x="98.4" y="461.8" width="0.8" height="0.8"/><rect x="115.1" y="455.2" width="0.8" height="0.8"/><rect x="106.0" y="456.1" width="0.8" height="0.8"/><rect x="95.4" y="452.4" width="0.9" height="0.9"/><rect x="114.9" y="469.5" width="1.1" height="1.1"/><rect x="118.7" y="468.4" width="0.8" height="0.8"/><rect x="121.3" y="465.0" width="1.0" height="1.0"/><rect x="125.9" y="441.1" width="0.6" height="0.6"/><rect x="97.6" y="464.8" width="0.9" height="0.9"/><rect x="105.9" y="451.4" width="0.9" height="0.9"/><rect x="122.0" y="455.1" width="0.9" height="0.9"/><rect x="109.3" y="466.0" width="1.0" height="1.0"/><rect x="112.2" y="461.3" width="0.7" height="0.7"/><rect x="112.1" y="437.8" width="0.8" height="0.8"/><rect x="109.2" y="461.4" width="0.8" height="0.8"/><rect x="118.7" y="463.8" width="0.8" height="0.8"/><rect x="120.8" y="449.6" width="0.7" height="0.7"/><rect x="101.4" y="465.5" width="0.9" height="0.9"/><rect x="98.4" y="441.0" width="1.1" height="1.1"/><rect x="108.6" y="467.8" width="1.0" height="1.0"/><rect x="114.4" y="438.7" width="0.6" height="0.6"/><rect x="117.4" y="463.9" width="1.1" height="1.1"/><rect x="104.0" y="455.7" width="0.9" height="0.9"/><rect x="113.3" y="458.8" width="0.9" height="0.9"/><rect x="96.0" y="456.9" width="1.1" height="1.1"/><rect x="109.3" y="464.6" width="0.9" height="0.9"/><rect x="102.4" y="455.1" width="0.8" height="0.8"/><rect x="105.2" y="456.5" width="1.1" height="1.1"/><rect x="114.4" y="463.8" width="0.9" height="0.9"/><rect x="106.9" y="463.3" width="0.8" height="0.8"/><rect x="121.6" y="459.3" width="0.8" height="0.8"/><rect x="115.6" y="465.1" width="1.1" height="1.1"/><rect x="120.0" y="468.5" width="0.8" height="0.8"/><rect x="122.7" y="458.7" width="0.8" height="0.8"/><rect x="126.8" y="445.9" width="1.1" height="1.1"/><rect x="122.3" y="468.9" width="1.1" height="1.1"/><rect x="126.8" y="448.0" width="0.9" height="0.9"/><rect x="103.3" y="461.3" width="1.1" height="1.1"/><rect x="106.0" y="467.2" width="1.0" height="1.0"/><rect x="103.4" y="467.6" width="0.7" height="0.7"/><rect x="117.6" y="465.5" width="1.1" height="1.1"/><rect x="120.3" y="466.6" width="1.1" height="1.1"/><rect x="113.6" y="462.2" width="0.6" height="0.6"/><rect x="105.9" y="470.6" width="0.7" height="0.7"/><rect x="100.0" y="459.5" width="0.7" height="0.7"/><rect x="115.9" y="467.3" width="0.8" height="0.8"/><rect x="102.9" y="459.3" width="0.8" height="0.8"/><rect x="117.3" y="465.2" width="0.8" height="0.8"/><rect x="109.6" y="462.5" width="1.0" height="1.0"/><rect x="97.5" y="466.4" width="1.1" height="1.1"/><rect x="118.6" y="465.0" width="1.0" height="1.0"/><rect x="115.5" y="462.9" width="0.8" height="0.8"/><rect x="125.6" y="441.3" width="0.8" height="0.8"/><rect x="100.5" y="454.6" width="1.0" height="1.0"/><rect x="103.3" y="464.9" width="1.1" height="1.1"/><rect x="114.3" y="465.8" width="0.8" height="0.8"/><rect x="97.2" y="441.6" width="0.9" height="0.9"/><rect x="111.9" y="469.9" width="1.1" height="1.1"/><rect x="122.7" y="457.8" width="0.7" height="0.7"/><rect x="112.5" y="464.6" width="0.9" height="0.9"/><rect x="122.0" y="459.2" width="0.7" height="0.7"/><rect x="115.9" y="468.0" width="1.0" height="1.0"/><rect x="121.8" y="457.2" width="0.7" height="0.7"/><rect x="122.4" y="466.9" width="0.8" height="0.8"/><rect x="116.2" y="469.6" width="1.0" height="1.0"/><rect x="119.8" y="468.8" width="0.8" height="0.8"/><rect x="98.1" y="454.7" width="0.8" height="0.8"/><rect x="107.7" y="464.3" width="0.8" height="0.8"/><rect x="111.1" y="462.9" width="1.0" height="1.0"/><rect x="110.4" y="467.2" width="0.9" height="0.9"/><rect x="96.7" y="456.0" width="1.0" height="1.0"/><rect x="99.2" y="466.7" width="0.9" height="0.9"/><rect x="107.0" y="455.2" width="0.9" height="0.9"/><rect x="114.9" y="453.2" width="0.9" height="0.9"/><rect x="96.4" y="445.2" width="0.9" height="0.9"/><rect x="117.0" y="456.3" width="0.9" height="0.9"/><rect x="126.4" y="447.2" width="1.0" height="1.0"/><rect x="101.1" y="464.2" width="0.7" height="0.7"/></g>
<path d="M124.0 446.6 121.9 444.1 118.5 441.9 112.0 442.8 108.5 442.1 104.8 443.1 104.4 444.6 103.7 445.0 102.1 445.1 101.6 444.4 103.2 442.9 104.2 440.9 107.5 440.8 110.7 440.0 115.5 440.2 118.5 441.5 120.5 441.7 124.0 443.3 124.6 444.9 124.0 446.6Z M124.0 449.6 123.5 449.1 124.0 448.3 124.5 449.1 124.0 449.6Z" fill="#222" fill-opacity="1.0" fill-rule="evenodd"/>
<path d="M124.7 454.0 121.5 453.1 117.0 453.7 111.2 453.7 108.0 453.1 97.5 453.7 96.5 453.1 95.9 451.9 96.0 445.4 99.0 441.4 103.7 439.8 112.2 439.1 121.0 439.7 124.5 441.6 125.6 443.6 126.1 447.6 125.8 452.4 124.7 454.0 M103.0 460.1 100.2 458.6 97.2 457.9 96.6 456.6 98.0 456.5 100.7 458.2 102.7 458.4 109.2 455.5 114.7 457.6 118.0 457.7 118.7 458.4 117.2 459.4 115.0 459.8 108.7 457.8 103.0 460.1 M122.2 458.2 120.3 457.9 121.0 457.1 122.2 456.8 122.7 457.4 122.2 458.2" fill="none" stroke="#111" stroke-width="0.9" stroke-linejoin="round"/>
<path d="M124.7 453.2 123.7 453.3 121.5 451.9 117.2 453.2 111.2 453.1 108.0 452.1 105.2 452.8 97.7 453.2 96.4 451.6 96.3 445.6 99.3 441.9 104.0 440.0 112.0 439.3 120.7 440.0 124.2 441.9 125.3 443.6 125.8 449.4 124.7 453.2 M106.1 450.6 106.4 449.6 105.5 449.1 104.9 450.4 106.1 450.6 M116.0 459.1 114.5 459.1 109.2 457.2 106.5 457.4 108.3 456.1 109.5 456.0 114.0 458.0 117.1 458.4 116.0 459.1 M104.5 458.9 103.8 458.9 105.9 457.9 104.5 458.9" fill="none" stroke="#222" stroke-width="0.7" stroke-linejoin="round"/>
<path d="M99.2 452.6 97.8 452.6 97.0 451.9 96.8 445.6 100.4 442.1 103.7 440.4 111.5 439.5 120.2 440.2 124.2 442.3 125.1 443.6 125.5 449.4 124.2 452.0 122.6 450.6 122.0 447.2 118.0 448.3 117.0 445.1 115.7 444.5 114.1 445.6 115.1 447.9 113.6 450.4 113.9 451.9 112.2 452.4 110.7 452.1 109.2 450.1 106.0 447.7 104.0 448.9 103.0 451.4 99.2 452.6 M109.1 444.4 109.5 443.5 108.2 443.6 108.3 444.4 109.1 444.4 M117.7 452.4 116.0 452.4 114.5 451.6 118.2 450.1 118.9 451.4 117.7 452.4" fill="none" stroke="#444" stroke-width="0.6" stroke-linejoin="round"/>
<path d="M99.0 451.9 97.7 451.6 97.7 449.8 98.2 449.2 100.5 448.6 100.9 446.6 100.0 446.1 98.0 446.8 97.4 445.6 100.2 444.0 104.0 440.5 110.7 439.7 117.0 440.1 121.0 440.8 124.2 442.7 124.9 443.9 125.2 449.4 124.2 450.4 122.9 449.9 122.6 447.4 121.7 445.6 119.0 446.4 118.0 443.4 117.5 443.1 114.0 443.5 112.8 444.4 112.3 445.9 113.3 448.1 112.2 449.5 111.2 449.7 108.4 447.6 108.7 446.4 111.0 444.1 110.4 443.1 109.0 442.8 106.7 443.6 106.4 446.1 103.3 448.1 101.5 450.6 99.0 451.9" fill="none" stroke="#444" stroke-width="0.6" stroke-linejoin="round"/>
<path d="M124.5 449.9 123.2 449.6 123.1 447.1 121.7 444.4 118.5 442.5 112.0 443.0 108.2 442.5 105.2 443.4 104.8 445.1 103.2 446.0 101.1 445.4 100.8 444.6 104.0 440.8 110.7 439.9 116.7 440.2 120.5 441.2 124.4 443.4 124.9 449.1 124.5 449.9" fill="none" stroke="#333" stroke-width="0.6" stroke-linejoin="round"/>
<path d="M102.7 445.1 101.9 444.9 101.8 444.1 103.2 443.1 103.5 441.6 104.2 441.0 112.2 440.0 116.5 440.4 118.2 441.6 116.5 442.3 112.0 442.7 108.2 442.1 104.6 443.1 104.2 444.6 102.7 445.1 M124.2 446.2 123.2 446.1 122.0 444.0 118.9 441.9 120.5 441.8 124.0 443.4 124.5 444.6 124.2 446.2 M124.2 449.4 123.7 449.4 124.0 448.6 124.2 449.4" fill="none" stroke="#222" stroke-width="0.6" stroke-linejoin="round"/>
<line x1="119.7" y1="427.1" x2="119.7" y2="472.0" stroke="#9a9a9a" stroke-width="1.1"/>
<line x1="94.7" y1="455.9" x2="142.5" y2="455.9" stroke="#9a9a9a" stroke-width="1.1"/>
<rect x="147.4" y="427.1" width="47.5" height="44.9" fill="none" stroke="#9c9c9c" stroke-width="1.1"/>
<path d="M172.7 453.1 148.9 452.9 148.1 452.1 147.8 449.6 148.9 443.9 151.9 441.7 154.4 441.0 163.2 441.1 170.2 440.3 172.9 440.5 176.5 443.1 176.9 445.4 176.3 449.6 175.3 451.9 174.4 452.7 172.7 453.1Z M154.4 460.4 152.7 460.2 150.4 458.2 148.2 457.5 147.9 456.6 149.2 456.4 153.9 458.6 158.2 456.7 160.4 456.4 163.8 458.6 159.9 458.0 154.4 460.4Z M171.4 458.6 170.0 458.6 171.3 457.6 172.6 457.6 171.4 458.6Z" fill="#d8d8d8" fill-opacity="1.0" fill-rule="evenodd"/>
<g fill="#111" opacity="0.8"><rect x="169.1" y="456.3" width="0.8" height="0.8"/><rect x="169.9" y="455.6" width="0.8" height="0.8"/><rect x="163.8" y="460.7" width="0.9" height="0.9"/><rect x="151.6" y="460.7" width="0.7" height="0.7"/><rect x="152.2" y="465.5" width="1.0" height="1.0"/><rect x="159.8" y="457.0" width="0.9" height="0.9"/><rect x="178.5" y="445.9" width="1.0" height="1.0"/><rect x="150.2" y="456.1" width="0.8" height="0.8"/><rect x="167.3" y="462.9" width="1.0" height="1.0"/><rect x="162.4" y="464.2" width="1.0" height="1.0"/><rect x="161.5" y="465.4" width="0.7" height="0.7"/><rect x="151.5" y="462.5" width="1.1" height="1.1"/><rect x="176.1" y="452.3" width="1.0" height="1.0"/><rect x="156.5" y="455.9" width="0.7" height="0.7"/><rect x="152.3" y="467.4" width="0.9" height="0.9"/><rect x="161.4" y="459.1" width="1.1" height="1.1"/><rect x="151.9" y="462.0" width="0.9" height="0.9"/><rect x="164.7" y="465.0" width="1.1" height="1.1"/><rect x="158.9" y="466.4" width="0.7" height="0.7"/><rect x="167.0" y="457.4" width="0.7" height="0.7"/><rect x="163.2" y="459.4" width="1.1" height="1.1"/><rect x="152.3" y="456.6" width="1.1" height="1.1"/><rect x="150.6" y="454.6" width="0.9" height="0.9"/><rect x="173.3" y="457.0" width="1.0" height="1.0"/><rect x="167.4" y="457.5" width="0.9" height="0.9"/><rect x="167.3" y="455.7" width="0.7" height="0.7"/><rect x="148.9" y="467.7" width="1.0" height="1.0"/><rect x="174.9" y="457.9" width="0.7" height="0.7"/><rect x="154.9" y="467.8" width="0.9" height="0.9"/><rect x="163.0" y="456.8" width="1.1" height="1.1"/><rect x="170.6" y="463.5" width="0.7" height="0.7"/><rect x="170.5" y="463.3" width="0.6" height="0.6"/><rect x="172.2" y="439.4" width="1.0" height="1.0"/><rect x="173.9" y="458.4" width="0.9" height="0.9"/><rect x="162.3" y="439.3" width="1.0" height="1.0"/><rect x="166.7" y="461.2" width="0.8" height="0.8"/><rect x="157.2" y="467.0" width="1.1" height="1.1"/><rect x="162.5" y="466.1" width="0.7" height="0.7"/><rect x="158.6" y="463.4" width="1.1" height="1.1"/><rect x="162.2" y="461.4" width="0.9" height="0.9"/><rect x="175.8" y="464.6" width="0.7" height="0.7"/><rect x="173.8" y="456.6" width="1.0" height="1.0"/><rect x="152.9" y="468.5" width="1.0" height="1.0"/><rect x="148.6" y="464.6" width="1.0" height="1.0"/><rect x="153.8" y="462.0" width="0.7" height="0.7"/><rect x="177.9" y="442.7" width="0.8" height="0.8"/><rect x="153.2" y="460.4" width="1.0" height="1.0"/><rect x="163.9" y="468.6" width="0.8" height="0.8"/><rect x="165.5" y="460.6" width="0.9" height="0.9"/><rect x="162.2" y="439.9" width="0.8" height="0.8"/><rect x="152.5" y="457.4" width="1.0" height="1.0"/><rect x="151.1" y="464.0" width="0.7" height="0.7"/><rect x="158.7" y="440.0" width="0.9" height="0.9"/><rect x="153.3" y="465.7" width="0.8" height="0.8"/><rect x="151.7" y="454.8" width="1.0" height="1.0"/><rect x="154.4" y="467.7" width="0.7" height="0.7"/><rect x="166.3" y="470.6" width="0.9" height="0.9"/><rect x="156.0" y="463.6" width="0.8" height="0.8"/><rect x="161.0" y="470.4" width="1.1" height="1.1"/><rect x="152.1" y="454.0" width="0.8" height="0.8"/><rect x="156.7" y="456.8" width="0.6" height="0.6"/><rect x="168.2" y="462.7" width="1.0" height="1.0"/><rect x="171.5" y="461.1" width="1.1" height="1.1"/><rect x="156.4" y="464.4" width="0.9" height="0.9"/><rect x="159.2" y="470.1" width="0.8" height="0.8"/><rect x="166.4" y="438.9" width="1.1" height="1.1"/><rect x="159.8" y="468.9" width="1.1" height="1.1"/><rect x="148.4" y="456.9" width="1.0" height="1.0"/><rect x="163.9" y="467.8" width="1.1" height="1.1"/><rect x="164.3" y="459.7" width="0.6" height="0.6"/><rect x="148.6" y="469.4" width="0.7" height="0.7"/><rect x="152.3" y="440.6" width="1.0" height="1.0"/><rect x="176.3" y="452.0" width="0.7" height="0.7"/><rect x="160.3" y="461.2" width="0.8" height="0.8"/><rect x="167.4" y="457.0" width="0.7" height="0.7"/><rect x="158.8" y="462.8" width="0.9" height="0.9"/><rect x="160.8" y="456.6" width="0.8" height="0.8"/><rect x="157.7" y="466.1" width="0.8" height="0.8"/><rect x="161.4" y="462.0" width="1.0" height="1.0"/><rect x="159.7" y="460.9" width="0.8" height="0.8"/><rect x="172.3" y="463.7" width="1.1" height="1.1"/><rect x="166.8" y="463.3" width="0.9" height="0.9"/><rect x="169.6" y="465.7" width="0.9" height="0.9"/><rect x="166.8" y="457.2" width="0.8" height="0.8"/><rect x="153.9" y="464.9" width="0.7" height="0.7"/><rect x="164.8" y="465.7" width="0.7" height="0.7"/><rect x="166.7" y="466.5" width="0.9" height="0.9"/><rect x="169.8" y="456.3" width="0.6" height="0.6"/><rect x="166.8" y="464.9" width="0.6" height="0.6"/><rect x="166.4" y="454.0" width="0.8" height="0.8"/><rect x="165.4" y="463.8" width="1.1" height="1.1"/><rect x="175.8" y="464.8" width="0.9" height="0.9"/><rect x="155.4" y="470.5" width="0.7" height="0.7"/><rect x="166.8" y="440.3" width="0.6" height="0.6"/><rect x="149.9" y="462.7" width="0.8" height="0.8"/><rect x="151.8" y="453.9" width="1.1" height="1.1"/><rect x="171.9" y="463.9" width="0.8" height="0.8"/><rect x="172.4" y="467.1" width="0.9" height="0.9"/><rect x="153.0" y="469.2" width="0.9" height="0.9"/><rect x="168.3" y="465.7" width="0.7" height="0.7"/><rect x="177.9" y="451.8" width="0.9" height="0.9"/><rect x="172.8" y="454.8" width="1.0" height="1.0"/><rect x="156.3" y="469.5" width="0.9" height="0.9"/><rect x="174.7" y="468.9" width="0.8" height="0.8"/><rect x="151.5" y="466.0" width="0.9" height="0.9"/><rect x="148.0" y="452.5" width="0.7" height="0.7"/><rect x="154.6" y="459.6" width="0.9" height="0.9"/><rect x="153.6" y="467.5" width="0.7" height="0.7"/><rect x="158.3" y="460.4" width="0.7" height="0.7"/><rect x="164.5" y="440.7" width="1.0" height="1.0"/><rect x="163.1" y="469.5" width="0.8" height="0.8"/><rect x="161.8" y="465.6" width="0.9" height="0.9"/><rect x="163.0" y="465.5" width="1.1" height="1.1"/><rect x="178.2" y="448.3" width="0.9" height="0.9"/><rect x="170.3" y="464.5" width="0.8" height="0.8"/><rect x="164.9" y="456.9" width="0.8" height="0.8"/><rect x="161.1" y="458.5" width="1.1" height="1.1"/><rect x="151.7" y="467.6" width="1.1" height="1.1"/><rect x="158.2" y="454.2" width="1.0" height="1.0"/><rect x="173.1" y="468.2" width="0.9" height="0.9"/><rect x="163.2" y="456.6" width="0.7" height="0.7"/><rect x="178.5" y="447.0" width="1.0" height="1.0"/><rect x="156.0" y="460.2" width="0.9" height="0.9"/><rect x="173.3" y="452.5" width="0.8" height="0.8"/><rect x="157.5" y="462.8" width="1.1" height="1.1"/><rect x="151.2" y="462.0" width="0.8" height="0.8"/><rect x="160.9" y="467.0" width="1.1" height="1.1"/><rect x="171.9" y="457.4" width="0.8" height="0.8"/><rect x="167.5" y="463.5" width="0.8" height="0.8"/><rect x="150.8" y="469.2" width="0.8" height="0.8"/><rect x="159.8" y="439.7" width="0.8" height="0.8"/><rect x="151.3" y="456.8" width="0.9" height="0.9"/><rect x="158.7" y="467.0" width="0.8" height="0.8"/><rect x="153.6" y="457.2" width="1.0" height="1.0"/><rect x="164.5" y="465.8" width="0.7" height="0.7"/><rect x="166.9" y="455.4" width="0.9" height="0.9"/><rect x="158.8" y="453.9" width="0.8" height="0.8"/><rect x="148.6" y="445.4" width="0.7" height="0.7"/><rect x="173.1" y="461.1" width="0.7" height="0.7"/><rect x="152.6" y="464.0" width="0.6" height="0.6"/><rect x="151.8" y="456.7" width="0.8" height="0.8"/><rect x="169.1" y="439.0" width="0.7" height="0.7"/><rect x="158.6" y="470.1" width="1.0" height="1.0"/><rect x="168.1" y="460.2" width="1.0" height="1.0"/><rect x="162.9" y="465.3" width="1.0" height="1.0"/><rect x="169.3" y="468.4" width="1.1" height="1.1"/><rect x="154.2" y="462.1" width="0.9" height="0.9"/><rect x="177.9" y="442.2" width="0.7" height="0.7"/><rect x="148.1" y="456.3" width="0.8" height="0.8"/><rect x="154.8" y="455.2" width="0.8" height="0.8"/></g>
<path d="M174.9 449.6 173.6 449.4 172.9 445.9 170.6 443.6 168.9 443.0 166.5 443.1 166.2 442.4 169.2 441.3 172.2 441.0 175.7 443.2 176.2 444.1 176.2 446.1 174.9 449.6Z M153.2 443.7 152.2 443.6 153.5 442.6 154.9 442.6 153.2 443.7Z M150.9 448.9 150.2 448.6 150.4 448.0 151.4 448.4 150.9 448.9Z M162.9 449.4 159.5 448.9 162.2 448.1 163.2 448.6 162.9 449.4Z" fill="#222" fill-opacity="1.0" fill-rule="evenodd"/>
<path d="M172.7 453.6 148.7 453.5 147.5 452.4 147.4 450.6 147.4 448.1 148.6 443.9 151.2 441.7 154.2 440.7 172.9 440.3 176.6 442.9 177.1 445.1 175.8 452.4 174.7 453.3 172.7 453.6 M154.2 460.9 152.7 460.7 147.9 457.9 147.5 456.4 149.4 456.0 153.7 458.2 159.7 456.0 161.2 456.1 165.9 458.5 171.9 456.9 173.4 457.6 172.7 458.7 169.7 459.6 164.7 459.8 159.9 458.5 154.2 460.9" fill="none" stroke="#111" stroke-width="0.9" stroke-linejoin="round"/>
<path d="M171.9 453.1 148.9 452.8 148.0 451.9 147.8 449.4 148.9 443.9 151.9 441.8 154.4 441.0 163.2 441.2 169.7 440.4 172.9 440.5 176.5 443.1 176.8 446.4 176.3 449.6 175.0 452.1 171.9 453.1 M154.2 460.4 152.7 460.1 150.4 457.9 148.2 457.4 148.0 456.6 149.2 456.5 153.7 458.7 158.2 456.7 160.4 456.5 163.5 458.4 159.9 457.9 154.2 460.4 M171.9 458.4 170.4 458.4 172.4 457.6 171.9 458.4" fill="none" stroke="#222" stroke-width="0.7" stroke-linejoin="round"/>
<path d="M164.2 452.6 156.2 452.0 155.4 451.4 155.5 449.6 154.9 449.3 152.6 450.1 150.9 451.9 149.2 451.9 148.4 449.1 149.3 445.9 149.2 444.1 151.9 442.2 154.2 441.4 163.4 441.6 170.9 440.5 172.9 440.7 176.2 443.1 176.7 445.1 176.1 449.4 173.5 451.9 171.4 452.5 164.2 452.6 M166.1 445.1 165.5 444.6 164.3 444.9 166.1 445.1 M155.8 448.1 157.2 446.8 155.7 446.4 154.0 446.9 154.7 447.9 155.8 448.1 M156.4 458.9 155.9 458.6 156.4 458.1 158.5 457.6 156.4 458.9" fill="none" stroke="#444" stroke-width="0.6" stroke-linejoin="round"/>
<path d="M170.7 451.9 161.4 451.9 157.9 450.7 156.6 449.1 157.4 448.1 160.1 447.1 161.7 445.5 163.9 446.4 165.9 448.0 169.9 448.3 170.3 447.9 170.4 444.9 169.7 443.9 164.2 443.6 161.7 445.0 160.4 443.6 157.2 443.9 155.9 444.8 152.8 445.6 152.1 446.9 153.5 448.6 149.9 450.4 149.0 449.1 150.0 446.1 149.5 444.4 152.2 442.4 154.3 441.6 159.4 441.6 163.9 442.5 165.9 441.4 172.7 440.8 176.2 443.4 176.4 446.9 175.8 449.4 174.9 450.2 173.2 450.1 172.2 448.2 171.2 448.5 171.6 451.1 170.7 451.9" fill="none" stroke="#444" stroke-width="0.6" stroke-linejoin="round"/>
<path d="M174.9 449.9 173.4 449.6 172.6 446.1 170.5 443.9 168.9 443.3 165.9 443.4 165.3 442.9 165.5 442.1 169.0 441.1 172.2 440.9 175.7 443.1 176.3 444.1 176.3 446.4 175.6 449.1 174.9 449.9 M151.4 444.9 150.3 444.6 153.7 442.1 159.6 442.4 151.4 444.9 M162.2 444.2 161.2 443.6 161.9 442.3 162.7 443.4 162.2 444.2 M151.4 449.1 149.9 449.1 150.0 447.6 150.9 447.4 152.1 448.1 152.2 448.6 151.4 449.1 M163.4 449.9 158.9 449.5 157.8 448.9 158.7 448.2 162.4 447.6 163.7 448.4 163.4 449.9 M168.4 451.1 166.8 450.9 166.5 450.4 168.3 450.1 169.0 450.6 168.4 451.1" fill="none" stroke="#333" stroke-width="0.6" stroke-linejoin="round"/>
<path d="M174.7 449.6 173.6 449.4 173.0 445.9 170.7 443.6 169.2 443.0 166.7 443.0 166.5 442.4 169.2 441.3 172.2 441.0 175.7 443.2 176.2 444.1 176.1 446.4 175.4 449.0 174.7 449.6 M153.4 443.4 152.7 443.4 154.4 442.9 153.4 443.4 M150.9 448.7 150.3 448.6 150.4 448.1 151.2 448.3 150.9 448.7 M162.9 449.2 160.2 448.9 162.2 448.2 163.0 448.6 162.9 449.2" fill="none" stroke="#222" stroke-width="0.6" stroke-linejoin="round"/>
<line x1="171.7" y1="427.1" x2="171.7" y2="472.0" stroke="#9a9a9a" stroke-width="1.1"/>
<line x1="147.4" y1="455.9" x2="194.9" y2="455.9" stroke="#9a9a9a" stroke-width="1.1"/>
<rect x="198.6" y="427.1" width="47.5" height="44.9" fill="none" stroke="#9c9c9c" stroke-width="1.1"/>
<path d="M220.3 471.9 206.3 471.9 204.6 471.4 202.3 471.8 200.3 470.9 198.6 468.8 198.6 451.3 201.3 446.7 203.1 445.5 206.1 445.1 207.3 442.6 209.1 441.5 214.6 440.5 224.1 441.7 225.8 442.6 227.2 445.1 229.1 456.6 228.1 463.1 227.1 466.4 225.1 469.6 220.3 471.9Z" fill="#e6e6e6" fill-opacity="1.0" fill-rule="evenodd"/>
<path d="M218.3 471.1 202.3 470.7 202.0 469.4 203.9 468.6 201.8 467.6 200.2 465.9 200.3 463.9 202.0 461.6 200.3 458.5 199.7 455.4 200.3 454.1 203.4 452.1 202.3 450.1 202.4 449.1 203.8 447.9 209.5 447.4 209.7 445.1 210.6 444.3 213.6 444.2 213.3 445.9 211.5 447.1 212.3 448.1 215.6 448.0 221.4 450.9 225.1 451.2 226.0 452.1 227.2 458.4 225.9 461.6 223.4 463.1 223.5 465.9 219.1 468.0 216.2 468.4 222.1 469.2 222.7 470.1 222.1 470.7 218.3 471.1Z M223.3 447.2 222.3 447.0 221.8 445.9 222.3 444.9 223.3 444.4 224.3 445.4 223.3 447.2Z M206.9 459.6 206.1 458.4 206.1 459.3 206.9 459.6Z" fill="#d2d2d2" fill-opacity="1.0" fill-rule="evenodd"/>
<g fill="#111" opacity="0.8"><rect x="210.6" y="444.7" width="1.1" height="1.1"/><rect x="216.7" y="445.8" width="1.1" height="1.1"/><rect x="201.2" y="453.7" width="1.0" height="1.0"/><rect x="214.5" y="470.7" width="0.7" height="0.7"/><rect x="200.9" y="462.5" width="0.7" height="0.7"/><rect x="218.2" y="448.9" width="0.9" height="0.9"/><rect x="200.7" y="467.5" width="0.7" height="0.7"/><rect x="202.4" y="447.3" width="0.8" height="0.8"/><rect x="203.7" y="464.3" width="1.0" height="1.0"/><rect x="214.4" y="468.7" width="0.9" height="0.9"/><rect x="229.0" y="461.3" width="0.8" height="0.8"/><rect x="219.6" y="465.0" width="1.0" height="1.0"/><rect x="220.7" y="447.2" width="0.7" height="0.7"/><rect x="226.2" y="445.1" width="1.0" height="1.0"/><rect x="199.8" y="458.3" width="1.0" height="1.0"/><rect x="212.3" y="451.2" width="0.9" height="0.9"/><rect x="205.4" y="468.6" width="0.8" height="0.8"/><rect x="200.9" y="463.0" width="1.0" height="1.0"/><rect x="226.8" y="468.5" width="0.9" height="0.9"/><rect x="214.5" y="462.8" width="0.9" height="0.9"/><rect x="224.3" y="446.5" width="0.7" height="0.7"/><rect x="200.5" y="463.3" width="1.1" height="1.1"/><rect x="227.8" y="462.7" width="0.7" height="0.7"/><rect x="200.3" y="448.2" width="1.1" height="1.1"/><rect x="221.0" y="464.4" width="0.6" height="0.6"/><rect x="222.4" y="464.3" width="0.8" height="0.8"/><rect x="224.3" y="443.0" width="1.0" height="1.0"/><rect x="217.4" y="450.5" width="0.7" height="0.7"/><rect x="215.9" y="447.3" width="0.6" height="0.6"/><rect x="213.3" y="466.4" width="0.9" height="0.9"/><rect x="208.2" y="446.7" width="1.0" height="1.0"/><rect x="222.3" y="447.5" width="0.9" height="0.9"/><rect x="221.8" y="465.9" width="1.0" height="1.0"/><rect x="226.5" y="452.4" width="0.8" height="0.8"/><rect x="220.6" y="464.6" width="0.7" height="0.7"/><rect x="205.8" y="448.5" width="1.1" height="1.1"/><rect x="223.9" y="442.8" width="0.9" height="0.9"/><rect x="203.6" y="450.4" width="1.1" height="1.1"/><rect x="201.4" y="466.6" width="1.1" height="1.1"/><rect x="220.9" y="467.6" width="0.8" height="0.8"/><rect x="215.0" y="444.6" width="0.9" height="0.9"/><rect x="217.0" y="448.8" width="1.0" height="1.0"/><rect x="211.5" y="450.3" width="0.8" height="0.8"/><rect x="211.8" y="447.9" width="1.0" height="1.0"/><rect x="224.4" y="450.5" width="1.1" height="1.1"/><rect x="214.2" y="464.3" width="0.7" height="0.7"/><rect x="204.4" y="464.3" width="1.1" height="1.1"/><rect x="199.4" y="450.5" width="0.8" height="0.8"/><rect x="221.8" y="451.0" width="1.0" height="1.0"/><rect x="224.5" y="464.3" width="0.9" height="0.9"/><rect x="208.3" y="468.9" width="1.0" height="1.0"/><rect x="222.0" y="444.2" width="0.9" height="0.9"/><rect x="211.6" y="452.5" width="0.9" height="0.9"/><rect x="208.3" y="468.5" width="1.0" height="1.0"/><rect x="200.0" y="467.0" width="0.8" height="0.8"/><rect x="226.9" y="451.2" width="1.1" height="1.1"/><rect x="226.0" y="450.5" width="1.0" height="1.0"/><rect x="217.9" y="450.5" width="0.7" height="0.7"/><rect x="212.4" y="442.5" width="0.9" height="0.9"/><rect x="219.2" y="463.6" width="0.7" height="0.7"/><rect x="226.7" y="451.2" width="0.8" height="0.8"/><rect x="217.1" y="443.7" width="0.8" height="0.8"/><rect x="201.7" y="469.0" width="0.9" height="0.9"/><rect x="207.9" y="447.2" width="0.8" height="0.8"/><rect x="198.9" y="461.0" width="1.0" height="1.0"/><rect x="217.9" y="445.6" width="1.0" height="1.0"/><rect x="201.7" y="451.6" width="0.7" height="0.7"/><rect x="224.2" y="450.0" width="0.9" height="0.9"/><rect x="199.2" y="457.3" width="0.8" height="0.8"/><rect x="216.0" y="451.4" width="0.7" height="0.7"/><rect x="201.3" y="452.5" width="0.8" height="0.8"/><rect x="228.2" y="454.1" width="0.8" height="0.8"/><rect x="222.1" y="446.2" width="0.8" height="0.8"/><rect x="213.2" y="450.4" width="0.7" height="0.7"/><rect x="219.3" y="443.2" width="1.0" height="1.0"/><rect x="204.1" y="465.7" width="0.7" height="0.7"/><rect x="203.3" y="447.5" width="1.0" height="1.0"/><rect x="206.3" y="446.6" width="1.0" height="1.0"/><rect x="208.9" y="444.9" width="1.1" height="1.1"/><rect x="219.9" y="468.2" width="0.8" height="0.8"/><rect x="220.1" y="465.6" width="1.0" height="1.0"/><rect x="212.3" y="468.3" width="1.0" height="1.0"/><rect x="215.2" y="441.3" width="0.9" height="0.9"/><rect x="201.7" y="467.1" width="0.9" height="0.9"/><rect x="207.6" y="443.8" width="0.9" height="0.9"/><rect x="221.8" y="446.3" width="1.0" height="1.0"/><rect x="200.8" y="464.9" width="0.8" height="0.8"/><rect x="223.2" y="468.2" width="1.0" height="1.0"/><rect x="217.4" y="465.6" width="0.7" height="0.7"/><rect x="213.3" y="453.4" width="0.7" height="0.7"/><rect x="201.2" y="470.1" width="1.0" height="1.0"/><rect x="213.9" y="459.5" width="0.9" height="0.9"/><rect x="219.8" y="466.3" width="0.8" height="0.8"/><rect x="225.1" y="445.3" width="0.7" height="0.7"/><rect x="226.1" y="465.2" width="1.1" height="1.1"/><rect x="228.9" y="461.7" width="1.0" height="1.0"/><rect x="218.2" y="466.8" width="1.0" height="1.0"/><rect x="223.1" y="449.0" width="1.0" height="1.0"/><rect x="201.9" y="450.4" width="0.7" height="0.7"/><rect x="202.5" y="450.9" width="1.0" height="1.0"/><rect x="208.9" y="446.0" width="1.1" height="1.1"/><rect x="201.4" y="454.1" width="0.6" height="0.6"/><rect x="200.4" y="450.2" width="0.9" height="0.9"/><rect x="210.7" y="444.3" width="0.8" height="0.8"/><rect x="206.5" y="468.3" width="1.1" height="1.1"/><rect x="204.5" y="465.8" width="1.0" height="1.0"/><rect x="200.2" y="453.5" width="0.8" height="0.8"/><rect x="209.7" y="450.0" width="1.1" height="1.1"/><rect x="226.2" y="446.0" width="1.1" height="1.1"/><rect x="211.0" y="445.3" width="0.6" height="0.6"/><rect x="216.9" y="470.3" width="0.9" height="0.9"/><rect x="205.7" y="446.0" width="0.6" height="0.6"/><rect x="221.0" y="450.8" width="0.9" height="0.9"/><rect x="208.1" y="446.7" width="0.7" height="0.7"/><rect x="208.3" y="444.6" width="0.8" height="0.8"/><rect x="214.0" y="450.1" width="0.8" height="0.8"/><rect x="214.4" y="440.2" width="1.0" height="1.0"/><rect x="226.8" y="452.8" width="0.9" height="0.9"/><rect x="199.7" y="447.9" width="0.9" height="0.9"/><rect x="204.4" y="468.6" width="0.9" height="0.9"/><rect x="225.0" y="449.9" width="0.8" height="0.8"/><rect x="210.8" y="468.9" width="0.8" height="0.8"/><rect x="216.2" y="462.2" width="0.7" height="0.7"/><rect x="205.7" y="448.2" width="0.8" height="0.8"/><rect x="203.9" y="451.2" width="1.0" height="1.0"/><rect x="212.5" y="453.2" width="0.7" height="0.7"/><rect x="205.4" y="466.6" width="1.0" height="1.0"/><rect x="205.7" y="446.7" width="0.9" height="0.9"/><rect x="205.4" y="448.1" width="1.1" height="1.1"/><rect x="226.0" y="449.2" width="0.9" height="0.9"/><rect x="223.9" y="467.4" width="0.9" height="0.9"/><rect x="219.9" y="445.7" width="1.0" height="1.0"/><rect x="214.0" y="443.7" width="1.0" height="1.0"/><rect x="213.0" y="454.5" width="1.1" height="1.1"/><rect x="218.8" y="443.5" width="0.8" height="0.8"/><rect x="227.1" y="460.0" width="1.0" height="1.0"/><rect x="201.0" y="468.1" width="0.8" height="0.8"/><rect x="225.1" y="466.8" width="0.9" height="0.9"/><rect x="211.9" y="451.4" width="0.9" height="0.9"/><rect x="213.3" y="444.5" width="1.0" height="1.0"/><rect x="222.6" y="467.3" width="0.8" height="0.8"/><rect x="219.9" y="450.7" width="0.8" height="0.8"/><rect x="223.3" y="450.2" width="0.8" height="0.8"/><rect x="212.6" y="461.5" width="0.8" height="0.8"/><rect x="207.9" y="445.8" width="0.7" height="0.7"/><rect x="216.5" y="450.6" width="1.1" height="1.1"/><rect x="203.1" y="452.0" width="0.9" height="0.9"/><rect x="220.8" y="470.2" width="1.0" height="1.0"/><rect x="211.3" y="441.5" width="1.1" height="1.1"/><rect x="208.4" y="443.4" width="0.9" height="0.9"/><rect x="209.2" y="444.1" width="0.9" height="0.9"/><rect x="228.2" y="456.3" width="1.0" height="1.0"/><rect x="210.6" y="445.3" width="1.0" height="1.0"/><rect x="200.5" y="463.6" width="1.0" height="1.0"/><rect x="219.6" y="449.7" width="1.0" height="1.0"/><rect x="222.6" y="442.6" width="0.7" height="0.7"/><rect x="200.9" y="455.7" width="0.9" height="0.9"/><rect x="201.5" y="456.0" width="0.7" height="0.7"/><rect x="219.2" y="443.6" width="0.9" height="0.9"/><rect x="209.2" y="448.6" width="1.0" height="1.0"/><rect x="218.3" y="444.0" width="1.0" height="1.0"/><rect x="206.1" y="446.2" width="0.7" height="0.7"/><rect x="203.1" y="465.9" width="1.0" height="1.0"/><rect x="199.0" y="464.0" width="0.7" height="0.7"/><rect x="226.9" y="450.4" width="0.8" height="0.8"/><rect x="201.6" y="470.4" width="1.0" height="1.0"/><rect x="216.4" y="447.5" width="1.0" height="1.0"/><rect x="211.4" y="467.7" width="1.1" height="1.1"/><rect x="202.5" y="449.4" width="0.9" height="0.9"/><rect x="212.1" y="446.7" width="0.9" height="0.9"/><rect x="200.2" y="447.8" width="0.9" height="0.9"/><rect x="212.8" y="464.9" width="0.8" height="0.8"/><rect x="209.7" y="450.3" width="0.8" height="0.8"/><rect x="227.1" y="451.0" width="0.9" height="0.9"/><rect x="214.4" y="469.9" width="0.8" height="0.8"/><rect x="217.3" y="444.9" width="0.9" height="0.9"/><rect x="213.9" y="462.1" width="0.9" height="0.9"/><rect x="220.6" y="469.2" width="0.9" height="0.9"/><rect x="201.1" y="464.4" width="1.0" height="1.0"/><rect x="209.9" y="470.2" width="0.7" height="0.7"/><rect x="212.3" y="466.7" width="0.7" height="0.7"/><rect x="200.6" y="451.0" width="0.7" height="0.7"/><rect x="227.9" y="453.5" width="1.0" height="1.0"/><rect x="224.3" y="469.0" width="0.8" height="0.8"/><rect x="218.0" y="446.5" width="0.9" height="0.9"/><rect x="214.5" y="470.6" width="0.6" height="0.6"/><rect x="205.1" y="445.8" width="0.7" height="0.7"/><rect x="210.8" y="447.0" width="0.9" height="0.9"/><rect x="216.7" y="443.0" width="1.1" height="1.1"/><rect x="224.5" y="467.4" width="0.7" height="0.7"/><rect x="201.9" y="451.1" width="0.7" height="0.7"/><rect x="209.9" y="467.7" width="0.9" height="0.9"/><rect x="228.5" y="466.1" width="0.8" height="0.8"/><rect x="223.5" y="464.3" width="1.1" height="1.1"/><rect x="223.3" y="445.4" width="0.9" height="0.9"/><rect x="199.5" y="464.6" width="0.7" height="0.7"/><rect x="209.3" y="449.1" width="0.9" height="0.9"/><rect x="213.9" y="467.9" width="0.8" height="0.8"/><rect x="214.1" y="448.7" width="0.9" height="0.9"/><rect x="205.2" y="470.7" width="1.0" height="1.0"/><rect x="227.8" y="457.3" width="0.7" height="0.7"/><rect x="201.4" y="466.4" width="0.8" height="0.8"/><rect x="228.0" y="453.9" width="0.7" height="0.7"/><rect x="208.5" y="465.7" width="0.9" height="0.9"/><rect x="200.5" y="469.8" width="1.0" height="1.0"/><rect x="209.5" y="466.8" width="1.1" height="1.1"/><rect x="202.1" y="465.7" width="0.9" height="0.9"/><rect x="221.9" y="450.4" width="0.7" height="0.7"/><rect x="202.9" y="447.8" width="0.7" height="0.7"/><rect x="208.0" y="468.5" width="0.9" height="0.9"/><rect x="215.4" y="444.4" width="1.1" height="1.1"/><rect x="203.5" y="465.6" width="0.7" height="0.7"/><rect x="219.4" y="470.4" width="0.7" height="0.7"/><rect x="208.6" y="450.5" width="0.8" height="0.8"/><rect x="218.7" y="446.7" width="0.9" height="0.9"/><rect x="217.2" y="466.0" width="0.7" height="0.7"/><rect x="210.2" y="449.3" width="1.1" height="1.1"/><rect x="199.0" y="459.8" width="0.9" height="0.9"/><rect x="226.8" y="449.6" width="0.7" height="0.7"/><rect x="210.3" y="446.6" width="1.0" height="1.0"/></g>
<path d="M221.8 461.9 219.1 461.7 217.7 460.6 217.1 459.1 216.8 456.4 217.3 453.9 219.1 452.3 219.8 452.4 220.1 453.4 219.3 457.1 221.1 459.3 222.8 457.9 223.9 455.1 224.0 453.1 224.8 454.0 225.6 457.4 225.3 459.6 224.1 461.0 221.8 461.9Z M210.1 461.9 208.9 457.1 207.3 455.3 206.1 455.4 204.1 458.1 202.6 458.4 202.8 455.5 205.3 452.9 209.1 452.6 211.1 454.4 211.7 459.4 210.8 461.5 210.1 461.9Z M207.8 463.4 206.2 463.1 206.0 462.6 207.3 461.7 209.8 462.1 209.3 463.1 207.8 463.4Z" fill="#222" fill-opacity="1.0" fill-rule="evenodd"/>
<path d="M220.3 462.6 218.8 462.5 216.7 460.4 216.0 457.4 216.7 453.4 219.3 451.3 224.8 452.0 226.1 456.6 225.5 460.9 223.3 462.3 220.3 462.6 M208.6 464.1 204.3 463.7 202.8 462.1 202.0 459.6 201.7 456.9 202.4 454.4 204.8 452.0 209.3 452.0 211.3 453.6 212.0 454.9 212.5 459.1 211.8 461.6 209.8 463.8 208.6 464.1 M221.5 458.4 222.4 456.4 221.3 454.7 220.3 455.6 220.0 456.9 220.6 458.1 221.5 458.4 M207.4 460.4 208.2 459.4 208.4 457.9 207.8 456.6 206.8 455.9 205.6 457.1 205.2 459.1 206.3 460.3 207.4 460.4 M219.1 470.4 208.6 470.4 205.8 469.9 208.6 469.4 219.8 469.9 219.1 470.4" fill="none" stroke="#111" stroke-width="0.9" stroke-linejoin="round"/>
<path d="M223.1 462.1 219.1 462.3 217.0 460.4 216.4 455.6 217.1 453.4 218.8 451.7 223.6 451.9 225.2 453.1 225.9 457.1 225.7 459.4 225.1 460.9 223.1 462.1 M209.3 463.7 204.8 463.6 203.1 461.9 202.0 458.9 201.9 456.6 202.8 454.1 204.8 452.3 209.3 452.3 211.5 454.4 212.1 456.9 212.0 459.9 211.3 461.9 209.3 463.7 M221.7 458.6 222.7 456.6 222.5 455.4 221.6 454.2 220.3 455.1 219.8 456.9 220.6 458.4 221.7 458.6 M205.0 460.9 207.3 460.7 208.4 459.6 208.5 457.4 207.1 455.6 205.6 456.6 203.8 460.4 204.1 460.9 205.0 460.9" fill="none" stroke="#222" stroke-width="0.7" stroke-linejoin="round"/>
<path d="M222.1 462.1 219.1 462.1 217.0 459.9 216.5 457.6 216.8 454.9 217.3 453.4 219.1 451.8 221.6 452.4 219.6 456.6 220.1 458.1 221.1 459.0 222.3 458.1 222.9 456.9 222.7 452.4 224.2 452.4 225.2 453.6 225.8 457.4 225.4 459.9 224.3 461.2 222.1 462.1 M208.8 463.6 204.8 463.4 203.8 462.1 207.5 460.9 208.6 459.9 208.7 457.4 207.4 455.6 206.0 455.9 204.6 458.6 203.3 459.6 202.3 459.1 202.5 455.4 204.8 452.5 209.3 452.4 211.5 454.6 212.0 456.9 211.7 460.4 211.1 461.9 208.8 463.6" fill="none" stroke="#444" stroke-width="0.6" stroke-linejoin="round"/>
<path d="M222.6 461.9 219.1 461.9 217.3 460.1 216.8 455.6 217.3 453.5 219.1 452.0 220.6 452.6 219.4 456.9 219.9 458.1 221.1 459.2 222.4 458.4 223.0 457.1 223.5 452.6 224.9 453.4 225.6 457.1 225.4 459.4 224.6 460.8 222.6 461.9 M209.1 463.4 205.0 462.9 206.3 461.6 208.8 460.4 208.9 457.6 207.6 455.6 206.1 455.6 204.3 458.3 203.3 459.0 202.4 458.6 202.2 456.9 202.8 455.0 205.1 452.7 209.1 452.5 211.3 454.6 211.7 459.6 211.0 461.6 209.1 463.4" fill="none" stroke="#444" stroke-width="0.6" stroke-linejoin="round"/>
<path d="M222.8 461.6 219.3 461.8 217.4 460.1 216.9 455.9 217.5 453.6 219.1 452.3 219.8 452.6 220.0 453.6 219.3 457.1 221.1 459.3 222.7 458.1 224.0 455.1 224.1 453.2 224.6 453.6 225.5 458.6 224.8 460.4 222.8 461.6 M210.6 461.6 209.4 459.6 208.7 456.6 207.3 455.3 206.1 455.4 204.1 458.0 202.6 458.3 202.8 455.5 205.4 452.9 209.1 452.7 211.0 454.4 211.7 459.1 210.6 461.6 M209.1 463.1 206.1 462.9 207.6 461.8 209.5 462.4 209.1 463.1" fill="none" stroke="#333" stroke-width="0.6" stroke-linejoin="round"/>
<line x1="223.6" y1="427.1" x2="223.6" y2="472.0" stroke="#9a9a9a" stroke-width="1.1"/>
<line x1="198.6" y1="455.9" x2="246.1" y2="455.9" stroke="#9a9a9a" stroke-width="1.1"/>
<rect x="250.5" y="427.1" width="48.2" height="44.9" fill="none" stroke="#9c9c9c" stroke-width="1.1"/>
<path d="M282.5 471.9 280.5 471.9 279.0 469.8 277.0 469.9 274.8 469.1 272.5 469.7 272.9 467.6 272.2 465.6 270.0 465.3 269.1 464.6 269.3 462.6 268.1 460.9 270.1 458.9 269.0 457.6 263.2 458.9 264.4 462.4 267.6 465.1 264.5 468.9 265.2 469.2 268.0 468.8 272.2 469.9 271.6 471.9 262.2 471.9 260.8 470.8 259.3 471.9 257.6 471.9 261.2 468.6 258.5 467.8 255.5 470.3 253.7 466.6 254.0 465.6 256.2 463.8 259.0 465.8 261.1 464.9 261.6 463.6 261.1 459.9 263.0 458.4 262.7 451.1 263.2 450.0 264.7 449.1 263.0 446.6 263.1 445.4 265.3 444.4 266.7 441.6 270.5 439.1 272.0 436.9 276.8 433.2 284.0 434.0 285.7 436.4 288.0 437.9 290.4 442.1 290.7 452.4 288.9 456.1 287.2 457.9 287.0 460.9 283.0 466.1 284.3 468.1 282.5 471.9Z M266.8 451.1 266.8 450.4 266.0 450.2 266.8 451.1Z M254.5 460.9 253.9 460.6 254.2 459.9 254.7 460.4 254.5 460.9Z M281.5 467.1 282.7 466.1 281.0 465.8 280.7 466.9 281.5 467.1Z" fill="#ececec" fill-opacity="1.0" fill-rule="evenodd"/>
<path d="M281.8 462.2 280.0 461.5 276.8 462.1 274.5 461.1 272.8 461.3 272.4 459.1 270.5 457.1 269.0 456.5 265.2 456.5 264.6 455.9 265.2 452.8 267.2 452.6 268.0 451.4 267.5 449.6 265.6 447.9 265.1 446.4 266.5 445.0 268.2 441.9 277.0 435.2 283.0 435.2 287.0 438.9 287.7 440.9 289.2 442.6 289.4 449.1 287.2 452.6 288.0 454.4 288.0 455.6 286.2 457.9 285.5 460.4 281.8 462.2Z M275.0 460.1 276.1 458.9 275.5 458.0 274.0 458.9 274.2 459.8 275.0 460.1Z" fill="#dcdcdc" fill-opacity="1.0" fill-rule="evenodd"/>
<g fill="#111" opacity="0.8"><rect x="278.5" y="469.1" width="0.9" height="0.9"/><rect x="274.3" y="437.1" width="1.0" height="1.0"/><rect x="260.6" y="458.3" width="0.8" height="0.8"/><rect x="263.7" y="456.3" width="1.1" height="1.1"/><rect x="270.1" y="456.0" width="0.9" height="0.9"/><rect x="275.0" y="435.1" width="0.8" height="0.8"/><rect x="262.3" y="464.1" width="1.0" height="1.0"/><rect x="262.7" y="454.1" width="1.0" height="1.0"/><rect x="268.2" y="460.6" width="1.0" height="1.0"/><rect x="265.6" y="444.6" width="0.8" height="0.8"/><rect x="290.8" y="436.7" width="0.7" height="0.7"/><rect x="285.4" y="452.1" width="1.1" height="1.1"/><rect x="288.0" y="441.5" width="1.0" height="1.0"/><rect x="265.0" y="470.2" width="1.0" height="1.0"/><rect x="274.6" y="435.1" width="1.1" height="1.1"/><rect x="268.0" y="453.2" width="0.9" height="0.9"/><rect x="262.6" y="467.3" width="1.1" height="1.1"/><rect x="268.0" y="469.1" width="1.0" height="1.0"/><rect x="280.7" y="465.7" width="1.0" height="1.0"/><rect x="255.6" y="464.1" width="0.7" height="0.7"/><rect x="271.4" y="464.4" width="0.9" height="0.9"/><rect x="257.7" y="462.2" width="1.1" height="1.1"/><rect x="274.0" y="459.9" width="1.1" height="1.1"/><rect x="278.1" y="467.0" width="0.9" height="0.9"/><rect x="253.6" y="461.2" width="0.8" height="0.8"/><rect x="289.6" y="454.1" width="0.9" height="0.9"/><rect x="274.8" y="470.0" width="0.9" height="0.9"/><rect x="269.5" y="468.8" width="0.9" height="0.9"/><rect x="261.7" y="446.1" width="0.7" height="0.7"/><rect x="292.4" y="447.5" width="0.7" height="0.7"/><rect x="269.2" y="446.3" width="0.8" height="0.8"/><rect x="262.4" y="468.8" width="0.8" height="0.8"/><rect x="260.5" y="461.3" width="0.8" height="0.8"/><rect x="287.8" y="448.4" width="0.9" height="0.9"/><rect x="278.1" y="464.3" width="0.6" height="0.6"/><rect x="272.9" y="433.8" width="1.1" height="1.1"/><rect x="273.3" y="454.3" width="0.8" height="0.8"/><rect x="281.7" y="435.9" width="0.9" height="0.9"/><rect x="283.8" y="466.1" width="0.9" height="0.9"/><rect x="261.0" y="462.7" width="0.7" height="0.7"/><rect x="288.3" y="448.6" width="0.6" height="0.6"/><rect x="288.5" y="456.4" width="0.6" height="0.6"/><rect x="260.5" y="452.4" width="0.8" height="0.8"/><rect x="273.9" y="436.9" width="0.8" height="0.8"/><rect x="274.7" y="436.0" width="0.8" height="0.8"/><rect x="269.0" y="453.6" width="0.8" height="0.8"/><rect x="267.2" y="444.1" width="1.1" height="1.1"/><rect x="266.0" y="447.4" width="0.7" height="0.7"/><rect x="275.6" y="457.0" width="1.1" height="1.1"/><rect x="271.5" y="441.4" width="0.9" height="0.9"/><rect x="275.4" y="462.7" width="1.0" height="1.0"/><rect x="276.7" y="432.7" width="0.9" height="0.9"/><rect x="274.0" y="461.1" width="1.0" height="1.0"/><rect x="280.3" y="470.0" width="0.9" height="0.9"/><rect x="265.5" y="448.3" width="1.1" height="1.1"/><rect x="283.1" y="468.0" width="0.7" height="0.7"/><rect x="270.4" y="464.8" width="0.7" height="0.7"/><rect x="267.2" y="443.4" width="0.7" height="0.7"/><rect x="272.4" y="456.6" width="1.0" height="1.0"/><rect x="277.7" y="433.2" width="0.9" height="0.9"/><rect x="274.0" y="457.1" width="1.0" height="1.0"/><rect x="260.8" y="467.3" width="1.1" height="1.1"/><rect x="264.8" y="451.6" width="0.8" height="0.8"/><rect x="286.7" y="453.5" width="1.1" height="1.1"/><rect x="263.1" y="449.3" width="1.0" height="1.0"/><rect x="280.8" y="464.5" width="1.1" height="1.1"/><rect x="265.9" y="458.1" width="0.8" height="0.8"/><rect x="281.3" y="464.9" width="1.0" height="1.0"/><rect x="281.6" y="464.1" width="1.0" height="1.0"/><rect x="283.3" y="462.7" width="0.9" height="0.9"/><rect x="278.6" y="460.9" width="0.7" height="0.7"/><rect x="269.0" y="468.4" width="0.9" height="0.9"/><rect x="265.7" y="461.6" width="0.7" height="0.7"/><rect x="259.7" y="465.9" width="0.8" height="0.8"/><rect x="285.7" y="459.1" width="1.0" height="1.0"/><rect x="281.9" y="464.8" width="0.8" height="0.8"/><rect x="289.7" y="439.8" width="0.8" height="0.8"/><rect x="272.6" y="437.1" width="0.7" height="0.7"/><rect x="267.5" y="444.7" width="0.9" height="0.9"/><rect x="280.8" y="469.9" width="0.9" height="0.9"/><rect x="278.6" y="467.7" width="0.8" height="0.8"/><rect x="267.1" y="458.1" width="0.9" height="0.9"/><rect x="262.0" y="450.1" width="0.8" height="0.8"/><rect x="291.8" y="452.0" width="1.0" height="1.0"/><rect x="275.8" y="434.0" width="1.0" height="1.0"/><rect x="257.4" y="460.7" width="0.7" height="0.7"/><rect x="283.3" y="462.1" width="0.7" height="0.7"/><rect x="289.2" y="446.5" width="0.7" height="0.7"/><rect x="285.4" y="463.3" width="1.0" height="1.0"/><rect x="270.2" y="442.2" width="0.9" height="0.9"/><rect x="264.1" y="451.6" width="1.1" height="1.1"/><rect x="259.2" y="469.8" width="0.7" height="0.7"/><rect x="254.6" y="462.5" width="1.0" height="1.0"/><rect x="263.8" y="446.2" width="0.7" height="0.7"/><rect x="254.4" y="469.0" width="0.8" height="0.8"/><rect x="285.3" y="467.6" width="1.1" height="1.1"/><rect x="277.1" y="468.2" width="0.7" height="0.7"/><rect x="261.4" y="455.1" width="0.9" height="0.9"/><rect x="285.8" y="462.1" width="0.8" height="0.8"/><rect x="272.6" y="455.1" width="0.6" height="0.6"/><rect x="274.8" y="465.3" width="1.0" height="1.0"/><rect x="280.1" y="466.7" width="0.7" height="0.7"/><rect x="282.0" y="435.6" width="1.1" height="1.1"/><rect x="267.0" y="458.0" width="0.9" height="0.9"/><rect x="289.8" y="459.8" width="1.0" height="1.0"/><rect x="272.0" y="463.6" width="0.7" height="0.7"/><rect x="254.9" y="462.4" width="1.1" height="1.1"/><rect x="270.5" y="461.4" width="0.8" height="0.8"/><rect x="280.5" y="468.1" width="0.8" height="0.8"/><rect x="254.4" y="469.1" width="0.7" height="0.7"/><rect x="287.4" y="461.0" width="0.9" height="0.9"/><rect x="267.9" y="465.7" width="1.0" height="1.0"/><rect x="267.4" y="459.4" width="0.7" height="0.7"/><rect x="266.4" y="449.5" width="0.7" height="0.7"/><rect x="269.8" y="462.0" width="1.0" height="1.0"/><rect x="260.6" y="459.9" width="0.9" height="0.9"/><rect x="276.2" y="437.7" width="1.0" height="1.0"/><rect x="291.2" y="457.0" width="0.7" height="0.7"/><rect x="252.9" y="461.1" width="0.9" height="0.9"/><rect x="264.5" y="445.6" width="1.1" height="1.1"/><rect x="264.2" y="461.1" width="0.8" height="0.8"/><rect x="288.0" y="455.4" width="1.0" height="1.0"/><rect x="276.4" y="433.2" width="0.8" height="0.8"/><rect x="268.1" y="457.9" width="0.9" height="0.9"/><rect x="274.0" y="462.8" width="0.9" height="0.9"/><rect x="275.2" y="465.4" width="0.7" height="0.7"/><rect x="280.9" y="464.3" width="0.8" height="0.8"/><rect x="292.0" y="440.4" width="0.7" height="0.7"/><rect x="280.7" y="467.5" width="1.1" height="1.1"/><rect x="286.0" y="456.0" width="0.7" height="0.7"/></g>
<path d="M281.2 453.4 279.8 453.5 277.2 452.6 275.5 450.4 275.6 444.9 277.0 442.9 278.2 442.1 282.5 443.0 284.0 445.4 284.2 448.6 283.6 451.1 282.8 452.4 281.2 453.4Z M279.2 451.6 282.5 449.4 282.2 447.0 280.0 446.7 277.5 448.9 278.2 451.3 279.2 451.6Z" fill="#222" fill-opacity="1.0" fill-rule="evenodd"/>
<path d="M278.5 460.6 276.8 460.4 277.0 458.1 276.5 457.2 273.0 457.2 271.5 456.2 267.0 454.9 268.2 453.2 268.7 451.4 268.5 447.9 267.1 446.6 269.9 441.6 275.5 437.1 277.0 436.4 279.8 436.9 281.8 436.2 286.1 439.6 286.2 442.6 287.8 443.6 288.3 444.9 288.6 448.6 288.0 449.9 283.4 454.4 284.0 455.0 285.8 453.5 287.2 454.9 284.4 459.9 283.2 460.4 281.0 459.9 278.5 460.6" fill="none" stroke="#111" stroke-width="0.9" stroke-linejoin="round"/>
<path d="M281.5 458.1 280.1 457.9 279.6 456.1 278.1 454.9 274.0 454.3 270.5 452.5 270.5 450.1 272.4 445.9 272.0 442.6 275.0 440.7 276.8 438.6 279.0 439.7 284.0 440.9 286.0 444.9 286.0 449.1 284.0 452.6 281.8 454.9 281.7 455.9 282.8 457.4 281.5 458.1" fill="none" stroke="#222" stroke-width="0.7" stroke-linejoin="round"/>
<path d="M280.8 454.4 276.5 453.4 274.5 451.6 273.8 450.4 274.5 444.1 277.5 440.7 283.0 442.0 284.9 444.9 285.0 448.9 284.1 451.6 283.0 453.1 280.8 454.4 M279.8 449.4 280.0 448.7 279.8 449.4" fill="none" stroke="#444" stroke-width="0.6" stroke-linejoin="round"/>
<path d="M281.2 453.9 279.8 454.0 277.0 453.2 274.8 450.4 275.1 444.6 276.8 442.4 278.2 441.5 282.8 442.4 284.6 445.1 284.7 448.9 284.1 450.9 283.0 452.8 281.2 453.9 M279.8 450.1 281.0 448.9 280.5 447.7 279.5 448.1 278.9 449.1 279.0 449.9 279.8 450.1" fill="none" stroke="#444" stroke-width="0.6" stroke-linejoin="round"/>
<path d="M281.0 453.7 277.0 452.8 275.2 450.1 275.5 444.6 277.0 442.6 278.2 441.9 282.8 442.8 284.3 445.4 284.4 448.9 283.7 451.4 282.8 452.7 281.0 453.7 M279.7 450.9 282.0 448.9 281.7 447.9 280.5 447.1 279.5 447.4 278.2 449.1 278.6 450.6 279.7 450.9" fill="none" stroke="#333" stroke-width="0.6" stroke-linejoin="round"/>
<path d="M281.2 453.4 279.8 453.4 277.2 452.5 275.5 450.4 275.7 444.9 277.0 442.9 278.2 442.1 282.5 443.1 284.0 445.4 284.1 448.9 283.5 451.1 282.8 452.4 281.2 453.4 M279.4 451.6 282.7 449.4 282.8 448.1 282.2 446.6 280.0 446.6 277.5 448.6 278.2 451.6 279.4 451.6" fill="none" stroke="#222" stroke-width="0.6" stroke-linejoin="round"/>
<line x1="275.3" y1="427.1" x2="275.3" y2="472.0" stroke="#9a9a9a" stroke-width="1.1"/>
<line x1="250.5" y1="457.5" x2="298.7" y2="457.5" stroke="#9a9a9a" stroke-width="1.1"/>
<text x="45.4" y="384.1" font-size="5.3" text-anchor="start" fill="#222" style="stroke-width:0.12px">93</text>
<text x="88.0" y="384.1" font-size="5.3" text-anchor="end" fill="#222" style="stroke-width:0.12px">27</text>
<text x="88.0" y="418.90000000000003" font-size="5.3" text-anchor="end" fill="#222" style="stroke-width:0.12px">3</text>
<text x="97.0" y="384.1" font-size="5.3" text-anchor="start" fill="#222" style="stroke-width:0.12px">48</text>
<text x="139.7" y="384.1" font-size="5.3" text-anchor="end" fill="#222" style="stroke-width:0.12px">30</text>
<text x="139.7" y="418.90000000000003" font-size="5.3" text-anchor="end" fill="#222" style="stroke-width:0.12px">4</text>
<text x="149.70000000000002" y="384.1" font-size="5.3" text-anchor="start" fill="#222" style="stroke-width:0.12px">51</text>
<text x="192.1" y="384.1" font-size="5.3" text-anchor="end" fill="#222" style="stroke-width:0.12px">31</text>
<text x="192.1" y="418.90000000000003" font-size="5.3" text-anchor="end" fill="#222" style="stroke-width:0.12px">5</text>
<text x="200.9" y="384.1" font-size="5.3" text-anchor="start" fill="#222" style="stroke-width:0.12px">8</text>
<text x="243.29999999999998" y="384.1" font-size="5.3" text-anchor="end" fill="#222" style="stroke-width:0.12px">12</text>
<text x="243.29999999999998" y="418.90000000000003" font-size="5.3" text-anchor="end" fill="#222" style="stroke-width:0.12px">31</text>
<text x="252.8" y="384.1" font-size="5.3" text-anchor="start" fill="#222" style="stroke-width:0.12px">26</text>
<text x="295.9" y="384.1" font-size="5.3" text-anchor="end" fill="#222" style="stroke-width:0.12px">47</text>
<text x="295.9" y="418.90000000000003" font-size="5.3" text-anchor="end" fill="#222" style="stroke-width:0.12px">10</text>
<text x="45.4" y="433.1" font-size="5.3" text-anchor="start" fill="#222" style="stroke-width:0.12px">67</text>
<text x="88.0" y="433.1" font-size="5.3" text-anchor="end" fill="#222" style="stroke-width:0.12px">17</text>
<text x="88.0" y="468.1" font-size="5.3" text-anchor="end" fill="#222" style="stroke-width:0.12px">3</text>
<text x="97.0" y="433.1" font-size="5.3" text-anchor="start" fill="#222" style="stroke-width:0.12px">68</text>
<text x="139.7" y="433.1" font-size="5.3" text-anchor="end" fill="#222" style="stroke-width:0.12px">15</text>
<text x="139.7" y="468.1" font-size="5.3" text-anchor="end" fill="#222" style="stroke-width:0.12px">2</text>
<text x="149.70000000000002" y="433.1" font-size="5.3" text-anchor="start" fill="#222" style="stroke-width:0.12px">69</text>
<text x="192.1" y="433.1" font-size="5.3" text-anchor="end" fill="#222" style="stroke-width:0.12px">15</text>
<text x="192.1" y="468.1" font-size="5.3" text-anchor="end" fill="#222" style="stroke-width:0.12px">2</text>
<text x="200.9" y="433.1" font-size="5.3" text-anchor="start" fill="#222" style="stroke-width:0.12px">25</text>
<text x="243.29999999999998" y="433.1" font-size="5.3" text-anchor="end" fill="#222" style="stroke-width:0.12px">8</text>
<text x="243.29999999999998" y="468.1" font-size="5.3" text-anchor="end" fill="#222" style="stroke-width:0.12px">8</text>
<text x="252.8" y="433.1" font-size="5.3" text-anchor="start" fill="#222" style="stroke-width:0.12px">29</text>
<text x="295.9" y="433.1" font-size="5.3" text-anchor="end" fill="#222" style="stroke-width:0.12px">50</text>
<text x="295.9" y="468.1" font-size="5.3" text-anchor="end" fill="#222" style="stroke-width:0.12px">11</text>
<text x="40.0" y="420.7" font-size="4.6" text-anchor="middle" fill="#444" style="stroke:none" transform="rotate(-90 40.0 420.7)">10<tspan font-size="3" dy="-1.6">0</tspan></text>
<text x="40.0" y="410.6" font-size="4.6" text-anchor="middle" fill="#444" style="stroke:none" transform="rotate(-90 40.0 410.6)">10<tspan font-size="3" dy="-1.6">1</tspan></text>
<text x="40.0" y="400.4" font-size="4.6" text-anchor="middle" fill="#444" style="stroke:none" transform="rotate(-90 40.0 400.4)">10<tspan font-size="3" dy="-1.6">2</tspan></text>
<text x="40.0" y="390.3" font-size="4.6" text-anchor="middle" fill="#444" style="stroke:none" transform="rotate(-90 40.0 390.3)">10<tspan font-size="3" dy="-1.6">3</tspan></text>
<text x="40.0" y="380.2" font-size="4.6" text-anchor="middle" fill="#444" style="stroke:none" transform="rotate(-90 40.0 380.2)">10<tspan font-size="3" dy="-1.6">4</tspan></text>
<text x="40.0" y="469.9" font-size="4.6" text-anchor="middle" fill="#444" style="stroke:none" transform="rotate(-90 40.0 469.9)">10<tspan font-size="3" dy="-1.6">0</tspan></text>
<text x="40.0" y="459.7" font-size="4.6" text-anchor="middle" fill="#444" style="stroke:none" transform="rotate(-90 40.0 459.7)">10<tspan font-size="3" dy="-1.6">1</tspan></text>
<text x="40.0" y="449.6" font-size="4.6" text-anchor="middle" fill="#444" style="stroke:none" transform="rotate(-90 40.0 449.6)">10<tspan font-size="3" dy="-1.6">2</tspan></text>
<text x="40.0" y="439.4" font-size="4.6" text-anchor="middle" fill="#444" style="stroke:none" transform="rotate(-90 40.0 439.4)">10<tspan font-size="3" dy="-1.6">3</tspan></text>
<text x="40.0" y="429.2" font-size="4.6" text-anchor="middle" fill="#444" style="stroke:none" transform="rotate(-90 40.0 429.2)">10<tspan font-size="3" dy="-1.6">4</tspan></text>
<text x="45.4" y="477.9" font-size="4.6" text-anchor="middle" fill="#444" style="stroke:none">10<tspan font-size="3" dy="-1.6">0</tspan></text>
<text x="56.2" y="477.9" font-size="4.6" text-anchor="middle" fill="#444" style="stroke:none">10<tspan font-size="3" dy="-1.6">1</tspan></text>
<text x="66.9" y="477.9" font-size="4.6" text-anchor="middle" fill="#444" style="stroke:none">10<tspan font-size="3" dy="-1.6">2</tspan></text>
<text x="77.7" y="477.9" font-size="4.6" text-anchor="middle" fill="#444" style="stroke:none">10<tspan font-size="3" dy="-1.6">3</tspan></text>
<text x="88.5" y="477.9" font-size="4.6" text-anchor="middle" fill="#444" style="stroke:none">10<tspan font-size="3" dy="-1.6">4</tspan></text>
<text x="97.0" y="477.9" font-size="4.6" text-anchor="middle" fill="#444" style="stroke:none">10<tspan font-size="3" dy="-1.6">0</tspan></text>
<text x="107.8" y="477.9" font-size="4.6" text-anchor="middle" fill="#444" style="stroke:none">10<tspan font-size="3" dy="-1.6">1</tspan></text>
<text x="118.6" y="477.9" font-size="4.6" text-anchor="middle" fill="#444" style="stroke:none">10<tspan font-size="3" dy="-1.6">2</tspan></text>
<text x="129.4" y="477.9" font-size="4.6" text-anchor="middle" fill="#444" style="stroke:none">10<tspan font-size="3" dy="-1.6">3</tspan></text>
<text x="140.2" y="477.9" font-size="4.6" text-anchor="middle" fill="#444" style="stroke:none">10<tspan font-size="3" dy="-1.6">4</tspan></text>
<text x="149.7" y="477.9" font-size="4.6" text-anchor="middle" fill="#444" style="stroke:none">10<tspan font-size="3" dy="-1.6">0</tspan></text>
<text x="160.4" y="477.9" font-size="4.6" text-anchor="middle" fill="#444" style="stroke:none">10<tspan font-size="3" dy="-1.6">1</tspan></text>
<text x="171.2" y="477.9" font-size="4.6" text-anchor="middle" fill="#444" style="stroke:none">10<tspan font-size="3" dy="-1.6">2</tspan></text>
<text x="181.9" y="477.9" font-size="4.6" text-anchor="middle" fill="#444" style="stroke:none">10<tspan font-size="3" dy="-1.6">3</tspan></text>
<text x="192.6" y="477.9" font-size="4.6" text-anchor="middle" fill="#444" style="stroke:none">10<tspan font-size="3" dy="-1.6">4</tspan></text>
<text x="200.9" y="477.9" font-size="4.6" text-anchor="middle" fill="#444" style="stroke:none">10<tspan font-size="3" dy="-1.6">0</tspan></text>
<text x="211.6" y="477.9" font-size="4.6" text-anchor="middle" fill="#444" style="stroke:none">10<tspan font-size="3" dy="-1.6">1</tspan></text>
<text x="222.3" y="477.9" font-size="4.6" text-anchor="middle" fill="#444" style="stroke:none">10<tspan font-size="3" dy="-1.6">2</tspan></text>
<text x="233.1" y="477.9" font-size="4.6" text-anchor="middle" fill="#444" style="stroke:none">10<tspan font-size="3" dy="-1.6">3</tspan></text>
<text x="243.8" y="477.9" font-size="4.6" text-anchor="middle" fill="#444" style="stroke:none">10<tspan font-size="3" dy="-1.6">4</tspan></text>
<text x="252.8" y="477.9" font-size="4.6" text-anchor="middle" fill="#444" style="stroke:none">10<tspan font-size="3" dy="-1.6">0</tspan></text>
<text x="263.7" y="477.9" font-size="4.6" text-anchor="middle" fill="#444" style="stroke:none">10<tspan font-size="3" dy="-1.6">1</tspan></text>
<text x="274.6" y="477.9" font-size="4.6" text-anchor="middle" fill="#444" style="stroke:none">10<tspan font-size="3" dy="-1.6">2</tspan></text>
<text x="285.5" y="477.9" font-size="4.6" text-anchor="middle" fill="#444" style="stroke:none">10<tspan font-size="3" dy="-1.6">3</tspan></text>
<text x="296.4" y="477.9" font-size="4.6" text-anchor="middle" fill="#444" style="stroke:none">10<tspan font-size="3" dy="-1.6">4</tspan></text>
<text x="325.0" y="423.5" font-size="10.1" text-anchor="middle" fill="#1a1a1a" transform="rotate(-90 325.0 423.5)" textLength="63.5" lengthAdjust="spacingAndGlyphs">% of CD127 in</text>
<text x="335.4" y="423.9" font-size="10.1" text-anchor="middle" fill="#1a1a1a" transform="rotate(-90 335.4 423.9)" textLength="80.5" lengthAdjust="spacingAndGlyphs">CFSE<tspan font-size="6.6" dy="-3.6">dim</tspan><tspan dy="3.6"> TK+ cells</tspan></text>
<text x="355.5" y="463.2" font-size="8.8" text-anchor="end" fill="#1a1a1a">0</text>
<text x="355.5" y="448.8" font-size="8.8" text-anchor="end" fill="#1a1a1a">20</text>
<text x="355.5" y="434.4" font-size="8.8" text-anchor="end" fill="#1a1a1a">40</text>
<text x="355.5" y="420.0" font-size="8.8" text-anchor="end" fill="#1a1a1a">60</text>
<text x="355.5" y="405.6" font-size="8.8" text-anchor="end" fill="#1a1a1a">80</text>
<text x="355.5" y="391.2" font-size="8.8" text-anchor="end" fill="#1a1a1a">100</text>
<line x1="358.8" y1="386.3" x2="358.8" y2="460.7" stroke="#000" stroke-width="1.4"/>
<line x1="366.1" y1="404.5" x2="366.1" y2="413.75" stroke="#000" stroke-width="1.3"/>
<rect x="362.5" y="413.75" width="7.199999999999989" height="46.44999999999999" fill="#000"/>
<line x1="372.54999999999995" y1="403.0" x2="372.54999999999995" y2="413.25" stroke="#000" stroke-width="1.3"/>
<rect x="370.2" y="413.75" width="4.699999999999989" height="46.44999999999999" fill="#767676" stroke="#000" stroke-width="1"/>
<line x1="378.8" y1="406.0" x2="378.8" y2="415.5" stroke="#000" stroke-width="1.3"/>
<rect x="376.5" y="416.0" width="4.600000000000023" height="44.19999999999999" fill="#d6d6d6" stroke="#000" stroke-width="1"/>
<line x1="385.2" y1="432.5" x2="385.2" y2="441.25" stroke="#000" stroke-width="1.3"/>
<rect x="383.0" y="441.75" width="4.399999999999977" height="18.44999999999999" fill="#fff" stroke="#000" stroke-width="1"/>
<line x1="391.7" y1="412.5" x2="391.7" y2="426.25" stroke="#000" stroke-width="1.3"/>
<rect x="387.9" y="426.25" width="7.600000000000023" height="33.94999999999999" fill="#000"/>
<g fill="#e0e0e0"><rect x="390.32" y="427.55" width="1.0" height="1.0"/><rect x="392.07" y="429.30" width="1.0" height="1.0"/><rect x="390.32" y="431.05" width="1.0" height="1.0"/><rect x="392.07" y="432.80" width="1.0" height="1.0"/><rect x="390.32" y="434.55" width="1.0" height="1.0"/><rect x="392.07" y="436.30" width="1.0" height="1.0"/><rect x="390.32" y="438.05" width="1.0" height="1.0"/><rect x="392.07" y="439.80" width="1.0" height="1.0"/><rect x="390.32" y="441.55" width="1.0" height="1.0"/><rect x="392.07" y="443.30" width="1.0" height="1.0"/><rect x="390.32" y="445.05" width="1.0" height="1.0"/><rect x="392.07" y="446.80" width="1.0" height="1.0"/><rect x="390.32" y="448.55" width="1.0" height="1.0"/><rect x="392.07" y="450.30" width="1.0" height="1.0"/><rect x="390.32" y="452.05" width="1.0" height="1.0"/><rect x="392.07" y="453.80" width="1.0" height="1.0"/><rect x="390.32" y="455.55" width="1.0" height="1.0"/><rect x="392.07" y="457.30" width="1.0" height="1.0"/></g>
<line x1="405.1" y1="402.0" x2="405.1" y2="404.5" stroke="#000" stroke-width="1.3"/>
<rect x="401.3" y="404.5" width="7.599999999999966" height="55.69999999999999" fill="#000"/>
<line x1="411.6" y1="403.75" x2="411.6" y2="417.5" stroke="#000" stroke-width="1.3"/>
<rect x="409.4" y="418.0" width="4.400000000000034" height="42.19999999999999" fill="#767676" stroke="#000" stroke-width="1"/>
<line x1="417.8" y1="403.0" x2="417.8" y2="412.0" stroke="#000" stroke-width="1.3"/>
<rect x="415.3" y="412.5" width="5.0" height="47.69999999999999" fill="#d6d6d6" stroke="#000" stroke-width="1"/>
<line x1="424.1" y1="429.5" x2="424.1" y2="439.5" stroke="#000" stroke-width="1.3"/>
<rect x="422.1" y="440.0" width="4.0" height="20.19999999999999" fill="#fff" stroke="#000" stroke-width="1"/>
<line x1="430.95000000000005" y1="405.75" x2="430.95000000000005" y2="412.0" stroke="#000" stroke-width="1.3"/>
<rect x="427.3" y="412.0" width="7.300000000000011" height="48.19999999999999" fill="#000"/>
<g fill="#e0e0e0"><rect x="429.58" y="413.30" width="1.0" height="1.0"/><rect x="431.33" y="415.05" width="1.0" height="1.0"/><rect x="429.58" y="416.80" width="1.0" height="1.0"/><rect x="431.33" y="418.55" width="1.0" height="1.0"/><rect x="429.58" y="420.30" width="1.0" height="1.0"/><rect x="431.33" y="422.05" width="1.0" height="1.0"/><rect x="429.58" y="423.80" width="1.0" height="1.0"/><rect x="431.33" y="425.55" width="1.0" height="1.0"/><rect x="429.58" y="427.30" width="1.0" height="1.0"/><rect x="431.33" y="429.05" width="1.0" height="1.0"/><rect x="429.58" y="430.80" width="1.0" height="1.0"/><rect x="431.33" y="432.55" width="1.0" height="1.0"/><rect x="429.58" y="434.30" width="1.0" height="1.0"/><rect x="431.33" y="436.05" width="1.0" height="1.0"/><rect x="429.58" y="437.80" width="1.0" height="1.0"/><rect x="431.33" y="439.55" width="1.0" height="1.0"/><rect x="429.58" y="441.30" width="1.0" height="1.0"/><rect x="431.33" y="443.05" width="1.0" height="1.0"/><rect x="429.58" y="444.80" width="1.0" height="1.0"/><rect x="431.33" y="446.55" width="1.0" height="1.0"/><rect x="429.58" y="448.30" width="1.0" height="1.0"/><rect x="431.33" y="450.05" width="1.0" height="1.0"/><rect x="429.58" y="451.80" width="1.0" height="1.0"/><rect x="431.33" y="453.55" width="1.0" height="1.0"/><rect x="429.58" y="455.30" width="1.0" height="1.0"/><rect x="431.33" y="457.05" width="1.0" height="1.0"/></g>
<line x1="358.1" y1="460.5" x2="436.5" y2="460.5" stroke="#000" stroke-width="1.8"/>
<polygon points="364.55,399.85 365.04,401.03 366.31,401.13 365.34,401.96 365.64,403.20 364.55,402.53 363.46,403.20 363.76,401.96 362.79,401.13 364.06,401.03" fill="#000"/>
<polygon points="367.65,399.85 368.14,401.03 369.41,401.13 368.44,401.96 368.74,403.20 367.65,402.53 366.56,403.20 366.86,401.96 365.89,401.13 367.16,401.03" fill="#000"/>
<polygon points="371.15,398.75 371.64,399.93 372.91,400.03 371.94,400.86 372.24,402.10 371.15,401.43 370.06,402.10 370.36,400.86 369.39,400.03 370.66,399.93" fill="#000"/>
<polygon points="374.25,398.75 374.74,399.93 376.01,400.03 375.04,400.86 375.34,402.10 374.25,401.43 373.16,402.10 373.46,400.86 372.49,400.03 373.76,399.93" fill="#000"/>
<polygon points="378.35,402.15 378.84,403.33 380.11,403.43 379.14,404.26 379.44,405.50 378.35,404.83 377.26,405.50 377.56,404.26 376.59,403.43 377.86,403.33" fill="#000"/>
<polygon points="381.45,402.15 381.94,403.33 383.21,403.43 382.24,404.26 382.54,405.50 381.45,404.83 380.36,405.50 380.66,404.26 379.69,403.43 380.96,403.33" fill="#000"/>
<polygon points="403.75,397.15 404.24,398.33 405.51,398.43 404.54,399.26 404.84,400.50 403.75,399.83 402.66,400.50 402.96,399.26 401.99,398.43 403.26,398.33" fill="#000"/>
<polygon points="406.85,397.15 407.34,398.33 408.61,398.43 407.64,399.26 407.94,400.50 406.85,399.83 405.76,400.50 406.06,399.26 405.09,398.43 406.36,398.33" fill="#000"/>
<polygon points="410.45,399.15 410.94,400.33 412.21,400.43 411.24,401.26 411.54,402.50 410.45,401.83 409.36,402.50 409.66,401.26 408.69,400.43 409.96,400.33" fill="#000"/>
<polygon points="413.55,399.15 414.04,400.33 415.31,400.43 414.34,401.26 414.64,402.50 413.55,401.83 412.46,402.50 412.76,401.26 411.79,400.43 413.06,400.33" fill="#000"/>
<polygon points="416.85,398.15 417.34,399.33 418.61,399.43 417.64,400.26 417.94,401.50 416.85,400.83 415.76,401.50 416.06,400.26 415.09,399.43 416.36,399.33" fill="#000"/>
<polygon points="419.95,398.15 420.44,399.33 421.71,399.43 420.74,400.26 421.04,401.50 419.95,400.83 418.86,401.50 419.16,400.26 418.19,399.43 419.46,399.33" fill="#000"/>
<text x="381" y="473.7" font-size="9.2" text-anchor="middle" fill="#1a1a1a">1<tspan font-size="6.50" dy="-2.30">st</tspan></text>
<text x="418.8" y="473.7" font-size="9.2" text-anchor="middle" fill="#1a1a1a">2<tspan font-size="6.50" dy="-2.30">nd</tspan></text>
<text x="-1.2" y="512.9" font-size="13" text-anchor="start" font-weight="bold" fill="#000">D</text>
<text x="15.8" y="572.3" font-size="10.0" text-anchor="middle" fill="#1a1a1a" transform="rotate(-90 15.8 572.3)" textLength="88" lengthAdjust="spacingAndGlyphs">% of Topro-3+ cells/</text>
<text x="27.6" y="578.8" font-size="10.0" text-anchor="middle" fill="#1a1a1a" transform="rotate(-90 27.6 578.8)" textLength="73.5" lengthAdjust="spacingAndGlyphs">CFSE<tspan font-size="6.6" dy="-3.6">dim</tspan><tspan dy="3.6"> TK cells</tspan></text>
<text x="44.8" y="626.7" font-size="9.0" text-anchor="end" fill="#1a1a1a">0</text>
<line x1="50" y1="622.0" x2="52.2" y2="622.0" stroke="#000" stroke-width="1.1"/>
<text x="44.8" y="602.6" font-size="9.0" text-anchor="end" fill="#1a1a1a">20</text>
<line x1="50" y1="596.2" x2="52.2" y2="596.2" stroke="#000" stroke-width="1.1"/>
<text x="44.8" y="577.1" font-size="9.0" text-anchor="end" fill="#1a1a1a">40</text>
<line x1="50" y1="570.4" x2="52.2" y2="570.4" stroke="#000" stroke-width="1.1"/>
<text x="44.8" y="551.4000000000001" font-size="9.0" text-anchor="end" fill="#1a1a1a">60</text>
<line x1="50" y1="544.6" x2="52.2" y2="544.6" stroke="#000" stroke-width="1.1"/>
<text x="44.8" y="526.5" font-size="9.0" text-anchor="end" fill="#1a1a1a">80</text>
<line x1="50" y1="518.8" x2="52.2" y2="518.8" stroke="#000" stroke-width="1.1"/>
<line x1="50" y1="518.6" x2="50" y2="622.8" stroke="#000" stroke-width="1.8"/>
<line x1="60.45" y1="569.0" x2="60.45" y2="581.3" stroke="#000" stroke-width="1.4"/>
<rect x="55.6" y="580.3" width="9.699999999999996" height="41.700000000000045" fill="#000"/>
<line x1="69.05" y1="589.0" x2="69.05" y2="601.0" stroke="#000" stroke-width="1.4"/>
<rect x="66.0" y="600.5" width="6.099999999999994" height="21.5" fill="#767676" stroke="#000" stroke-width="1"/>
<line x1="77.7" y1="582.0" x2="77.7" y2="592.2" stroke="#000" stroke-width="1.4"/>
<rect x="73.9" y="591.7" width="7.599999999999994" height="30.299999999999955" fill="#d6d6d6" stroke="#000" stroke-width="1"/>
<line x1="86.9" y1="549.3" x2="86.9" y2="556.8" stroke="#000" stroke-width="1.4"/>
<rect x="82.7" y="556.3" width="8.399999999999991" height="65.70000000000005" fill="#fff" stroke="#000" stroke-width="1"/>
<line x1="96.0" y1="550.1" x2="96.0" y2="565.3" stroke="#000" stroke-width="1.4"/>
<rect x="91.6" y="564.3" width="8.800000000000011" height="57.700000000000045" fill="#000"/>
<g fill="#f4f4f4"><rect x="93.67" y="565.70" width="1.05" height="1.05"/><rect x="97.27" y="565.70" width="1.05" height="1.05"/><rect x="95.47" y="567.50" width="1.05" height="1.05"/><rect x="93.67" y="569.30" width="1.05" height="1.05"/><rect x="97.27" y="569.30" width="1.05" height="1.05"/><rect x="95.47" y="571.10" width="1.05" height="1.05"/><rect x="93.67" y="572.90" width="1.05" height="1.05"/><rect x="97.27" y="572.90" width="1.05" height="1.05"/><rect x="95.47" y="574.70" width="1.05" height="1.05"/><rect x="93.67" y="576.50" width="1.05" height="1.05"/><rect x="97.27" y="576.50" width="1.05" height="1.05"/><rect x="95.47" y="578.30" width="1.05" height="1.05"/><rect x="93.67" y="580.10" width="1.05" height="1.05"/><rect x="97.27" y="580.10" width="1.05" height="1.05"/><rect x="95.47" y="581.90" width="1.05" height="1.05"/><rect x="93.67" y="583.70" width="1.05" height="1.05"/><rect x="97.27" y="583.70" width="1.05" height="1.05"/><rect x="95.47" y="585.50" width="1.05" height="1.05"/><rect x="93.67" y="587.30" width="1.05" height="1.05"/><rect x="97.27" y="587.30" width="1.05" height="1.05"/><rect x="95.47" y="589.10" width="1.05" height="1.05"/><rect x="93.67" y="590.90" width="1.05" height="1.05"/><rect x="97.27" y="590.90" width="1.05" height="1.05"/><rect x="95.47" y="592.70" width="1.05" height="1.05"/><rect x="93.67" y="594.50" width="1.05" height="1.05"/><rect x="97.27" y="594.50" width="1.05" height="1.05"/><rect x="95.47" y="596.30" width="1.05" height="1.05"/><rect x="93.67" y="598.10" width="1.05" height="1.05"/><rect x="97.27" y="598.10" width="1.05" height="1.05"/><rect x="95.47" y="599.90" width="1.05" height="1.05"/><rect x="93.67" y="601.70" width="1.05" height="1.05"/><rect x="97.27" y="601.70" width="1.05" height="1.05"/><rect x="95.47" y="603.50" width="1.05" height="1.05"/><rect x="93.67" y="605.30" width="1.05" height="1.05"/><rect x="97.27" y="605.30" width="1.05" height="1.05"/><rect x="95.47" y="607.10" width="1.05" height="1.05"/><rect x="93.67" y="608.90" width="1.05" height="1.05"/><rect x="97.27" y="608.90" width="1.05" height="1.05"/><rect x="95.47" y="610.70" width="1.05" height="1.05"/><rect x="93.67" y="612.50" width="1.05" height="1.05"/><rect x="97.27" y="612.50" width="1.05" height="1.05"/><rect x="95.47" y="614.30" width="1.05" height="1.05"/><rect x="93.67" y="616.10" width="1.05" height="1.05"/><rect x="97.27" y="616.10" width="1.05" height="1.05"/><rect x="95.47" y="617.90" width="1.05" height="1.05"/><rect x="93.67" y="619.70" width="1.05" height="1.05"/><rect x="97.27" y="619.70" width="1.05" height="1.05"/></g>
<line x1="116.7" y1="561.2" x2="116.7" y2="576.0" stroke="#000" stroke-width="1.4"/>
<rect x="111.5" y="575.0" width="10.400000000000006" height="47.0" fill="#000"/>
<line x1="125.7" y1="561.9" x2="125.7" y2="577.2" stroke="#000" stroke-width="1.4"/>
<rect x="122.4" y="576.7" width="6.599999999999994" height="45.299999999999955" fill="#767676" stroke="#000" stroke-width="1"/>
<line x1="133.9" y1="555.0" x2="133.9" y2="571.8" stroke="#000" stroke-width="1.4"/>
<rect x="130.5" y="571.3" width="6.800000000000011" height="50.700000000000045" fill="#d6d6d6" stroke="#000" stroke-width="1"/>
<line x1="142.7" y1="537.0" x2="142.7" y2="556.9" stroke="#000" stroke-width="1.4"/>
<rect x="138.6" y="556.4" width="8.200000000000017" height="65.60000000000002" fill="#fff" stroke="#000" stroke-width="1"/>
<line x1="151.7" y1="553.5" x2="151.7" y2="573.0" stroke="#000" stroke-width="1.4"/>
<rect x="147.3" y="572.0" width="8.799999999999983" height="50.0" fill="#000"/>
<g fill="#f4f4f4"><rect x="149.38" y="573.40" width="1.05" height="1.05"/><rect x="152.97" y="573.40" width="1.05" height="1.05"/><rect x="151.18" y="575.20" width="1.05" height="1.05"/><rect x="149.38" y="577.00" width="1.05" height="1.05"/><rect x="152.97" y="577.00" width="1.05" height="1.05"/><rect x="151.18" y="578.80" width="1.05" height="1.05"/><rect x="149.38" y="580.60" width="1.05" height="1.05"/><rect x="152.97" y="580.60" width="1.05" height="1.05"/><rect x="151.18" y="582.40" width="1.05" height="1.05"/><rect x="149.38" y="584.20" width="1.05" height="1.05"/><rect x="152.97" y="584.20" width="1.05" height="1.05"/><rect x="151.18" y="586.00" width="1.05" height="1.05"/><rect x="149.38" y="587.80" width="1.05" height="1.05"/><rect x="152.97" y="587.80" width="1.05" height="1.05"/><rect x="151.18" y="589.60" width="1.05" height="1.05"/><rect x="149.38" y="591.40" width="1.05" height="1.05"/><rect x="152.97" y="591.40" width="1.05" height="1.05"/><rect x="151.18" y="593.20" width="1.05" height="1.05"/><rect x="149.38" y="595.00" width="1.05" height="1.05"/><rect x="152.97" y="595.00" width="1.05" height="1.05"/><rect x="151.18" y="596.80" width="1.05" height="1.05"/><rect x="149.38" y="598.60" width="1.05" height="1.05"/><rect x="152.97" y="598.60" width="1.05" height="1.05"/><rect x="151.18" y="600.40" width="1.05" height="1.05"/><rect x="149.38" y="602.20" width="1.05" height="1.05"/><rect x="152.97" y="602.20" width="1.05" height="1.05"/><rect x="151.18" y="604.00" width="1.05" height="1.05"/><rect x="149.38" y="605.80" width="1.05" height="1.05"/><rect x="152.97" y="605.80" width="1.05" height="1.05"/><rect x="151.18" y="607.60" width="1.05" height="1.05"/><rect x="149.38" y="609.40" width="1.05" height="1.05"/><rect x="152.97" y="609.40" width="1.05" height="1.05"/><rect x="151.18" y="611.20" width="1.05" height="1.05"/><rect x="149.38" y="613.00" width="1.05" height="1.05"/><rect x="152.97" y="613.00" width="1.05" height="1.05"/><rect x="151.18" y="614.80" width="1.05" height="1.05"/><rect x="149.38" y="616.60" width="1.05" height="1.05"/><rect x="152.97" y="616.60" width="1.05" height="1.05"/><rect x="151.18" y="618.40" width="1.05" height="1.05"/></g>
<line x1="172.4" y1="570.4" x2="172.4" y2="580.6" stroke="#000" stroke-width="1.4"/>
<rect x="167.4" y="579.6" width="10.0" height="42.39999999999998" fill="#000"/>
<line x1="181.5" y1="554.2" x2="181.5" y2="570.7" stroke="#000" stroke-width="1.4"/>
<rect x="177.9" y="570.2" width="7.199999999999989" height="51.799999999999955" fill="#767676" stroke="#000" stroke-width="1"/>
<line x1="189.89999999999998" y1="557.2" x2="189.89999999999998" y2="569.8" stroke="#000" stroke-width="1.4"/>
<rect x="186.1" y="569.3" width="7.599999999999994" height="52.700000000000045" fill="#d6d6d6" stroke="#000" stroke-width="1"/>
<line x1="198.8" y1="538.0" x2="198.8" y2="554.0" stroke="#000" stroke-width="1.4"/>
<rect x="194.7" y="553.5" width="8.200000000000017" height="68.5" fill="#fff" stroke="#000" stroke-width="1"/>
<line x1="207.9" y1="560.0" x2="207.9" y2="586.0" stroke="#000" stroke-width="1.4"/>
<rect x="203.4" y="585.0" width="9.0" height="37.0" fill="#000"/>
<g fill="#f4f4f4"><rect x="205.58" y="586.40" width="1.05" height="1.05"/><rect x="209.18" y="586.40" width="1.05" height="1.05"/><rect x="207.38" y="588.20" width="1.05" height="1.05"/><rect x="205.58" y="590.00" width="1.05" height="1.05"/><rect x="209.18" y="590.00" width="1.05" height="1.05"/><rect x="207.38" y="591.80" width="1.05" height="1.05"/><rect x="205.58" y="593.60" width="1.05" height="1.05"/><rect x="209.18" y="593.60" width="1.05" height="1.05"/><rect x="207.38" y="595.40" width="1.05" height="1.05"/><rect x="205.58" y="597.20" width="1.05" height="1.05"/><rect x="209.18" y="597.20" width="1.05" height="1.05"/><rect x="207.38" y="599.00" width="1.05" height="1.05"/><rect x="205.58" y="600.80" width="1.05" height="1.05"/><rect x="209.18" y="600.80" width="1.05" height="1.05"/><rect x="207.38" y="602.60" width="1.05" height="1.05"/><rect x="205.58" y="604.40" width="1.05" height="1.05"/><rect x="209.18" y="604.40" width="1.05" height="1.05"/><rect x="207.38" y="606.20" width="1.05" height="1.05"/><rect x="205.58" y="608.00" width="1.05" height="1.05"/><rect x="209.18" y="608.00" width="1.05" height="1.05"/><rect x="207.38" y="609.80" width="1.05" height="1.05"/><rect x="205.58" y="611.60" width="1.05" height="1.05"/><rect x="209.18" y="611.60" width="1.05" height="1.05"/><rect x="207.38" y="613.40" width="1.05" height="1.05"/><rect x="205.58" y="615.20" width="1.05" height="1.05"/><rect x="209.18" y="615.20" width="1.05" height="1.05"/><rect x="207.38" y="617.00" width="1.05" height="1.05"/><rect x="205.58" y="618.80" width="1.05" height="1.05"/><rect x="209.18" y="618.80" width="1.05" height="1.05"/></g>
<line x1="49.2" y1="622.2" x2="213" y2="622.2" stroke="#000" stroke-width="1.8"/>
<polygon points="60.20,561.90 60.97,563.74 62.96,563.90 61.44,565.20 61.90,567.15 60.20,566.10 58.50,567.15 58.96,565.20 57.44,563.90 59.43,563.74" fill="#000"/>
<polygon points="67.80,581.90 68.43,583.43 70.08,583.56 68.83,584.63 69.21,586.24 67.80,585.38 66.39,586.24 66.77,584.63 65.52,583.56 67.17,583.43" fill="#000"/>
<polygon points="71.40,581.90 72.03,583.43 73.68,583.56 72.43,584.63 72.81,586.24 71.40,585.38 69.99,586.24 70.37,584.63 69.12,583.56 70.77,583.43" fill="#000"/>
<polygon points="75.60,575.50 76.23,577.03 77.88,577.16 76.63,578.23 77.01,579.84 75.60,578.98 74.19,579.84 74.57,578.23 73.32,577.16 74.97,577.03" fill="#000"/>
<polygon points="79.20,575.50 79.83,577.03 81.48,577.16 80.23,578.23 80.61,579.84 79.20,578.98 77.79,579.84 78.17,578.23 76.92,577.16 78.57,577.03" fill="#000"/>
<polygon points="116.50,554.60 117.27,556.44 119.26,556.60 117.74,557.90 118.20,559.85 116.50,558.80 114.80,559.85 115.26,557.90 113.74,556.60 115.73,556.44" fill="#000"/>
<polygon points="125.20,554.60 125.97,556.44 127.96,556.60 126.44,557.90 126.90,559.85 125.20,558.80 123.50,559.85 123.96,557.90 122.44,556.60 124.43,556.44" fill="#000"/>
<polygon points="134.00,548.40 134.77,550.24 136.76,550.40 135.24,551.70 135.70,553.65 134.00,552.60 132.30,553.65 132.76,551.70 131.24,550.40 133.23,550.24" fill="#000"/>
<polygon points="172.00,563.60 172.77,565.44 174.76,565.60 173.24,566.90 173.70,568.85 172.00,567.80 170.30,568.85 170.76,566.90 169.24,565.60 171.23,565.44" fill="#000"/>
<line x1="52.8" y1="627.0" x2="105.8" y2="627.0" stroke="#000" stroke-width="1.6"/>
<line x1="109.4" y1="627.0" x2="160.6" y2="627.0" stroke="#000" stroke-width="1.6"/>
<line x1="164.2" y1="627.0" x2="219.0" y2="627.0" stroke="#000" stroke-width="1.6"/>
<text x="79.3" y="638.6" font-size="9.4" text-anchor="middle" fill="#1a1a1a">0.01μg/mL</text>
<text x="135.9" y="638.6" font-size="9.4" text-anchor="middle" fill="#1a1a1a">0.1μg/mL</text>
<text x="192.0" y="638.6" font-size="9.4" text-anchor="middle" fill="#1a1a1a">1μg/mL</text>
<path d="M118.3 645 H114.5 V656.5 H118.3" fill="none" stroke="#111" stroke-width="1.3" opacity="1"/>
<path d="M148.2 645 H152 V656.5 H148.2" fill="none" stroke="#111" stroke-width="1.3" opacity="1"/>
<text x="133.2" y="654.6" font-size="10" text-anchor="middle" fill="#1a1a1a">OKT3</text>
</svg></body></html>
